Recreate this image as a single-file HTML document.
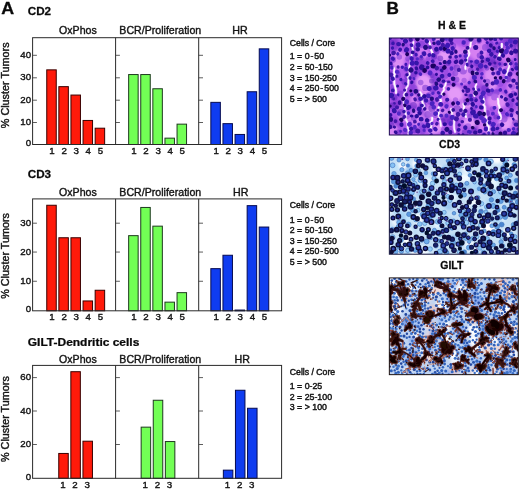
<!DOCTYPE html>
<html lang="en">
<head>
<meta charset="utf-8">
<title>Figure</title>
<style>html,body{margin:0;padding:0;background:#fff}body{width:520px;height:489px;overflow:hidden}</style>
</head>
<body>
<svg width="520" height="489" viewBox="0 0 520 489" style="display:block;will-change:transform" font-family='"Liberation Sans", Arial, Helvetica, sans-serif'>
<rect width="520" height="489" fill="#fff"/>
<text transform="translate(1.2 14.3) scale(1.1 1)" font-size="16.2" fill="#0a0a0a" font-weight="bold" stroke="#0a0a0a" stroke-width="0.3" stroke-linejoin="round">A</text>
<text transform="translate(386.6 14.3) scale(1.06 1)" font-size="16.2" fill="#0a0a0a" font-weight="bold" stroke="#0a0a0a" stroke-width="0.3" stroke-linejoin="round">B</text>
<g>
<text transform="translate(27.8 15.3) scale(1.07 1)" font-size="10.9" fill="#0a0a0a" font-weight="bold" stroke="#0a0a0a" stroke-width="0.25" stroke-linejoin="round">CD2</text>
<text transform="translate(77.9 34) scale(1.01 1)" font-size="10.5" fill="#151515" text-anchor="middle" stroke="#151515" stroke-width="0.4" stroke-linejoin="round">OxPhos</text>
<text transform="translate(160.3 34) scale(1.01 1)" font-size="10.5" fill="#151515" text-anchor="middle" stroke="#151515" stroke-width="0.4" stroke-linejoin="round">BCR/Proliferation</text>
<text transform="translate(239.9 34) scale(1.02 1)" font-size="10.5" fill="#151515" text-anchor="middle" stroke="#151515" stroke-width="0.4" stroke-linejoin="round">HR</text>
<text transform="translate(9.1 85.3) rotate(-90) scale(1.02 1)" font-size="10.6" fill="#151515" text-anchor="middle" stroke="#151515" stroke-width="0.4" stroke-linejoin="round">% Cluster Tumors</text>
<rect x="46.75" y="69.85" width="9.5" height="74.65" fill="#ff1a0a" stroke="#3a0000" stroke-width="1"/>
<text transform="translate(52 154.1)" font-size="9.7" fill="#151515" text-anchor="middle" stroke="#151515" stroke-width="0.4" stroke-linejoin="round">1</text>
<rect x="58.85" y="86.65" width="9.5" height="57.85" fill="#ff1a0a" stroke="#3a0000" stroke-width="1"/>
<text transform="translate(64.1 154.1)" font-size="9.7" fill="#151515" text-anchor="middle" stroke="#151515" stroke-width="0.4" stroke-linejoin="round">2</text>
<rect x="70.95" y="95.05" width="9.5" height="49.45" fill="#ff1a0a" stroke="#3a0000" stroke-width="1"/>
<text transform="translate(76.2 154.1)" font-size="9.7" fill="#151515" text-anchor="middle" stroke="#151515" stroke-width="0.4" stroke-linejoin="round">3</text>
<rect x="83.05" y="120.45" width="9.5" height="24.05" fill="#ff1a0a" stroke="#3a0000" stroke-width="1"/>
<text transform="translate(88.3 154.1)" font-size="9.7" fill="#151515" text-anchor="middle" stroke="#151515" stroke-width="0.4" stroke-linejoin="round">4</text>
<rect x="95.15" y="128.2" width="9.5" height="16.3" fill="#ff1a0a" stroke="#3a0000" stroke-width="1"/>
<text transform="translate(100.4 154.1)" font-size="9.7" fill="#151515" text-anchor="middle" stroke="#151515" stroke-width="0.4" stroke-linejoin="round">5</text>
<rect x="128.65" y="74.55" width="9.5" height="69.95" fill="#72ff55" stroke="#1e3a1e" stroke-width="1"/>
<text transform="translate(133.9 154.1)" font-size="9.7" fill="#151515" text-anchor="middle" stroke="#151515" stroke-width="0.4" stroke-linejoin="round">1</text>
<rect x="140.75" y="74.55" width="9.5" height="69.95" fill="#72ff55" stroke="#1e3a1e" stroke-width="1"/>
<text transform="translate(146 154.1)" font-size="9.7" fill="#151515" text-anchor="middle" stroke="#151515" stroke-width="0.4" stroke-linejoin="round">2</text>
<rect x="152.85" y="88.75" width="9.5" height="55.75" fill="#72ff55" stroke="#1e3a1e" stroke-width="1"/>
<text transform="translate(158.1 154.1)" font-size="9.7" fill="#151515" text-anchor="middle" stroke="#151515" stroke-width="0.4" stroke-linejoin="round">3</text>
<rect x="164.95" y="138.15" width="9.5" height="6.35" fill="#72ff55" stroke="#1e3a1e" stroke-width="1"/>
<text transform="translate(170.2 154.1)" font-size="9.7" fill="#151515" text-anchor="middle" stroke="#151515" stroke-width="0.4" stroke-linejoin="round">4</text>
<rect x="177.05" y="124.15" width="9.5" height="20.35" fill="#72ff55" stroke="#1e3a1e" stroke-width="1"/>
<text transform="translate(182.3 154.1)" font-size="9.7" fill="#151515" text-anchor="middle" stroke="#151515" stroke-width="0.4" stroke-linejoin="round">5</text>
<rect x="210.85" y="102.35" width="9.5" height="42.15" fill="#0f3cf0" stroke="#050a50" stroke-width="1"/>
<text transform="translate(216.1 154.1)" font-size="9.7" fill="#151515" text-anchor="middle" stroke="#151515" stroke-width="0.4" stroke-linejoin="round">1</text>
<rect x="222.95" y="123.65" width="9.5" height="20.85" fill="#0f3cf0" stroke="#050a50" stroke-width="1"/>
<text transform="translate(228.2 154.1)" font-size="9.7" fill="#151515" text-anchor="middle" stroke="#151515" stroke-width="0.4" stroke-linejoin="round">2</text>
<rect x="235.05" y="134.45" width="9.5" height="10.05" fill="#0f3cf0" stroke="#050a50" stroke-width="1"/>
<text transform="translate(240.3 154.1)" font-size="9.7" fill="#151515" text-anchor="middle" stroke="#151515" stroke-width="0.4" stroke-linejoin="round">3</text>
<rect x="247.15" y="91.75" width="9.5" height="52.75" fill="#0f3cf0" stroke="#050a50" stroke-width="1"/>
<text transform="translate(252.4 154.1)" font-size="9.7" fill="#151515" text-anchor="middle" stroke="#151515" stroke-width="0.4" stroke-linejoin="round">4</text>
<rect x="259.25" y="48.85" width="9.5" height="95.65" fill="#0f3cf0" stroke="#050a50" stroke-width="1"/>
<text transform="translate(264.5 154.1)" font-size="9.7" fill="#151515" text-anchor="middle" stroke="#151515" stroke-width="0.4" stroke-linejoin="round">5</text>
<rect x="32.6" y="37.7" width="249" height="106.8" fill="none" stroke="#2a2a2a" stroke-width="1"/>
<line x1="115.6" y1="37.7" x2="115.6" y2="144.5" stroke="#2a2a2a" stroke-width="1"/>
<line x1="198.7" y1="37.7" x2="198.7" y2="144.5" stroke="#2a2a2a" stroke-width="1"/>
<text transform="translate(31.1 145.8)" font-size="9.7" fill="#151515" text-anchor="end" stroke="#151515" stroke-width="0.4" stroke-linejoin="round">0</text>
<line x1="32.6" y1="122.5" x2="36.9" y2="122.5" stroke="#333" stroke-width="0.8"/>
<line x1="115.6" y1="122.5" x2="119.9" y2="122.5" stroke="#333" stroke-width="0.8"/>
<line x1="198.7" y1="122.5" x2="203" y2="122.5" stroke="#333" stroke-width="0.8"/>
<text transform="translate(31.1 125)" font-size="9.7" fill="#151515" text-anchor="end" stroke="#151515" stroke-width="0.4" stroke-linejoin="round">10</text>
<line x1="32.6" y1="100.2" x2="36.9" y2="100.2" stroke="#333" stroke-width="0.8"/>
<line x1="115.6" y1="100.2" x2="119.9" y2="100.2" stroke="#333" stroke-width="0.8"/>
<line x1="198.7" y1="100.2" x2="203" y2="100.2" stroke="#333" stroke-width="0.8"/>
<text transform="translate(31.1 102.7)" font-size="9.7" fill="#151515" text-anchor="end" stroke="#151515" stroke-width="0.4" stroke-linejoin="round">20</text>
<line x1="32.6" y1="77.8" x2="36.9" y2="77.8" stroke="#333" stroke-width="0.8"/>
<line x1="115.6" y1="77.8" x2="119.9" y2="77.8" stroke="#333" stroke-width="0.8"/>
<line x1="198.7" y1="77.8" x2="203" y2="77.8" stroke="#333" stroke-width="0.8"/>
<text transform="translate(31.1 80.3)" font-size="9.7" fill="#151515" text-anchor="end" stroke="#151515" stroke-width="0.4" stroke-linejoin="round">30</text>
<line x1="32.6" y1="55.3" x2="36.9" y2="55.3" stroke="#333" stroke-width="0.8"/>
<line x1="115.6" y1="55.3" x2="119.9" y2="55.3" stroke="#333" stroke-width="0.8"/>
<line x1="198.7" y1="55.3" x2="203" y2="55.3" stroke="#333" stroke-width="0.8"/>
<text transform="translate(31.1 57.8)" font-size="9.7" fill="#151515" text-anchor="end" stroke="#151515" stroke-width="0.4" stroke-linejoin="round">40</text>
<text transform="translate(289.8 45.6)" font-size="8.7" fill="#151515" stroke="#151515" stroke-width="0.45" stroke-linejoin="round">Cells / Core</text>
<text transform="translate(289.8 59.3) scale(1.01 1)" font-size="8.7" fill="#151515" stroke="#151515" stroke-width="0.45" stroke-linejoin="round">1 = 0<tspan dx="0.87">-</tspan><tspan dx="0.9">50</tspan></text>
<text transform="translate(289.8 70) scale(1.01 1)" font-size="8.7" fill="#151515" stroke="#151515" stroke-width="0.45" stroke-linejoin="round">2 = 50<tspan dx="0.5">-</tspan><tspan dx="0.2">150</tspan></text>
<text transform="translate(289.8 80.5) scale(1.01 1)" font-size="8.7" fill="#151515" stroke="#151515" stroke-width="0.45" stroke-linejoin="round">3 = 150<tspan dx="0.5">-</tspan><tspan dx="-0.6">250</tspan></text>
<text transform="translate(289.8 90.9) scale(1.01 1)" font-size="8.7" fill="#151515" stroke="#151515" stroke-width="0.45" stroke-linejoin="round">4 = 250<tspan dx="0.87">-</tspan><tspan dx="1.1">500</tspan></text>
<text transform="translate(289.8 101.6) scale(1.01 1)" font-size="8.7" fill="#151515" stroke="#151515" stroke-width="0.45" stroke-linejoin="round">5 = &gt; 500</text>
</g>
<g>
<text transform="translate(27.8 178) scale(1.07 1)" font-size="10.9" fill="#0a0a0a" font-weight="bold" stroke="#0a0a0a" stroke-width="0.25" stroke-linejoin="round">CD3</text>
<text transform="translate(77.9 196.1) scale(1.01 1)" font-size="10.5" fill="#151515" text-anchor="middle" stroke="#151515" stroke-width="0.4" stroke-linejoin="round">OxPhos</text>
<text transform="translate(160.3 196.1) scale(1.01 1)" font-size="10.5" fill="#151515" text-anchor="middle" stroke="#151515" stroke-width="0.4" stroke-linejoin="round">BCR/Proliferation</text>
<text transform="translate(240.7 196.1) scale(1.02 1)" font-size="10.5" fill="#151515" text-anchor="middle" stroke="#151515" stroke-width="0.4" stroke-linejoin="round">HR</text>
<text transform="translate(9.1 255.9) rotate(-90) scale(1.02 1)" font-size="10.6" fill="#151515" text-anchor="middle" stroke="#151515" stroke-width="0.4" stroke-linejoin="round">% Cluster Tumors</text>
<rect x="46.75" y="205.25" width="9.5" height="105.55" fill="#ff1a0a" stroke="#3a0000" stroke-width="1"/>
<text transform="translate(52 320.4)" font-size="9.7" fill="#151515" text-anchor="middle" stroke="#151515" stroke-width="0.4" stroke-linejoin="round">1</text>
<rect x="58.85" y="237.75" width="9.5" height="73.05" fill="#ff1a0a" stroke="#3a0000" stroke-width="1"/>
<text transform="translate(64.1 320.4)" font-size="9.7" fill="#151515" text-anchor="middle" stroke="#151515" stroke-width="0.4" stroke-linejoin="round">2</text>
<rect x="70.95" y="237.75" width="9.5" height="73.05" fill="#ff1a0a" stroke="#3a0000" stroke-width="1"/>
<text transform="translate(76.2 320.4)" font-size="9.7" fill="#151515" text-anchor="middle" stroke="#151515" stroke-width="0.4" stroke-linejoin="round">3</text>
<rect x="83.05" y="300.95" width="9.5" height="9.85" fill="#ff1a0a" stroke="#3a0000" stroke-width="1"/>
<text transform="translate(88.3 320.4)" font-size="9.7" fill="#151515" text-anchor="middle" stroke="#151515" stroke-width="0.4" stroke-linejoin="round">4</text>
<rect x="95.15" y="290.25" width="9.5" height="20.55" fill="#ff1a0a" stroke="#3a0000" stroke-width="1"/>
<text transform="translate(100.4 320.4)" font-size="9.7" fill="#151515" text-anchor="middle" stroke="#151515" stroke-width="0.4" stroke-linejoin="round">5</text>
<rect x="128.65" y="235.65" width="9.5" height="75.15" fill="#72ff55" stroke="#1e3a1e" stroke-width="1"/>
<text transform="translate(133.9 320.4)" font-size="9.7" fill="#151515" text-anchor="middle" stroke="#151515" stroke-width="0.4" stroke-linejoin="round">1</text>
<rect x="140.75" y="207.45" width="9.5" height="103.35" fill="#72ff55" stroke="#1e3a1e" stroke-width="1"/>
<text transform="translate(146 320.4)" font-size="9.7" fill="#151515" text-anchor="middle" stroke="#151515" stroke-width="0.4" stroke-linejoin="round">2</text>
<rect x="152.85" y="226.15" width="9.5" height="84.65" fill="#72ff55" stroke="#1e3a1e" stroke-width="1"/>
<text transform="translate(158.1 320.4)" font-size="9.7" fill="#151515" text-anchor="middle" stroke="#151515" stroke-width="0.4" stroke-linejoin="round">3</text>
<rect x="164.95" y="302.15" width="9.5" height="8.65" fill="#72ff55" stroke="#1e3a1e" stroke-width="1"/>
<text transform="translate(170.2 320.4)" font-size="9.7" fill="#151515" text-anchor="middle" stroke="#151515" stroke-width="0.4" stroke-linejoin="round">4</text>
<rect x="177.05" y="292.65" width="9.5" height="18.15" fill="#72ff55" stroke="#1e3a1e" stroke-width="1"/>
<text transform="translate(182.3 320.4)" font-size="9.7" fill="#151515" text-anchor="middle" stroke="#151515" stroke-width="0.4" stroke-linejoin="round">5</text>
<rect x="210.85" y="268.65" width="9.5" height="42.15" fill="#0f3cf0" stroke="#050a50" stroke-width="1"/>
<text transform="translate(216.1 320.4)" font-size="9.7" fill="#151515" text-anchor="middle" stroke="#151515" stroke-width="0.4" stroke-linejoin="round">1</text>
<rect x="222.95" y="255.25" width="9.5" height="55.55" fill="#0f3cf0" stroke="#050a50" stroke-width="1"/>
<text transform="translate(228.2 320.4)" font-size="9.7" fill="#151515" text-anchor="middle" stroke="#151515" stroke-width="0.4" stroke-linejoin="round">2</text>
<rect x="235.05" y="310.05" width="9.5" height="0.75" fill="#0f3cf0" stroke="#050a50" stroke-width="1"/>
<text transform="translate(240.3 320.4)" font-size="9.7" fill="#151515" text-anchor="middle" stroke="#151515" stroke-width="0.4" stroke-linejoin="round">3</text>
<rect x="247.15" y="205.65" width="9.5" height="105.15" fill="#0f3cf0" stroke="#050a50" stroke-width="1"/>
<text transform="translate(252.4 320.4)" font-size="9.7" fill="#151515" text-anchor="middle" stroke="#151515" stroke-width="0.4" stroke-linejoin="round">4</text>
<rect x="259.25" y="227.05" width="9.5" height="83.75" fill="#0f3cf0" stroke="#050a50" stroke-width="1"/>
<text transform="translate(264.5 320.4)" font-size="9.7" fill="#151515" text-anchor="middle" stroke="#151515" stroke-width="0.4" stroke-linejoin="round">5</text>
<rect x="32.6" y="198.9" width="249" height="111.9" fill="none" stroke="#2a2a2a" stroke-width="1"/>
<line x1="115.6" y1="198.9" x2="115.6" y2="310.8" stroke="#2a2a2a" stroke-width="1"/>
<line x1="198.7" y1="198.9" x2="198.7" y2="310.8" stroke="#2a2a2a" stroke-width="1"/>
<text transform="translate(31.1 312.1)" font-size="9.7" fill="#151515" text-anchor="end" stroke="#151515" stroke-width="0.4" stroke-linejoin="round">0</text>
<line x1="32.6" y1="281.25" x2="36.9" y2="281.25" stroke="#333" stroke-width="0.8"/>
<line x1="115.6" y1="281.25" x2="119.9" y2="281.25" stroke="#333" stroke-width="0.8"/>
<line x1="198.7" y1="281.25" x2="203" y2="281.25" stroke="#333" stroke-width="0.8"/>
<text transform="translate(31.1 283.75)" font-size="9.7" fill="#151515" text-anchor="end" stroke="#151515" stroke-width="0.4" stroke-linejoin="round">10</text>
<line x1="32.6" y1="252.05" x2="36.9" y2="252.05" stroke="#333" stroke-width="0.8"/>
<line x1="115.6" y1="252.05" x2="119.9" y2="252.05" stroke="#333" stroke-width="0.8"/>
<line x1="198.7" y1="252.05" x2="203" y2="252.05" stroke="#333" stroke-width="0.8"/>
<text transform="translate(31.1 254.55)" font-size="9.7" fill="#151515" text-anchor="end" stroke="#151515" stroke-width="0.4" stroke-linejoin="round">20</text>
<line x1="32.6" y1="223.2" x2="36.9" y2="223.2" stroke="#333" stroke-width="0.8"/>
<line x1="115.6" y1="223.2" x2="119.9" y2="223.2" stroke="#333" stroke-width="0.8"/>
<line x1="198.7" y1="223.2" x2="203" y2="223.2" stroke="#333" stroke-width="0.8"/>
<text transform="translate(31.1 225.7)" font-size="9.7" fill="#151515" text-anchor="end" stroke="#151515" stroke-width="0.4" stroke-linejoin="round">30</text>
<text transform="translate(289.8 208.2)" font-size="8.7" fill="#151515" stroke="#151515" stroke-width="0.45" stroke-linejoin="round">Cells / Core</text>
<text transform="translate(289.8 222.6) scale(1.01 1)" font-size="8.7" fill="#151515" stroke="#151515" stroke-width="0.45" stroke-linejoin="round">1 = 0<tspan dx="0.87">-</tspan><tspan dx="0.9">50</tspan></text>
<text transform="translate(289.8 233.3) scale(1.01 1)" font-size="8.7" fill="#151515" stroke="#151515" stroke-width="0.45" stroke-linejoin="round">2 = 50<tspan dx="0.5">-</tspan><tspan dx="0.2">150</tspan></text>
<text transform="translate(289.8 243.7) scale(1.01 1)" font-size="8.7" fill="#151515" stroke="#151515" stroke-width="0.45" stroke-linejoin="round">3 = 150<tspan dx="0.5">-</tspan><tspan dx="-0.6">250</tspan></text>
<text transform="translate(289.8 254.4) scale(1.01 1)" font-size="8.7" fill="#151515" stroke="#151515" stroke-width="0.45" stroke-linejoin="round">4 = 250<tspan dx="0.87">-</tspan><tspan dx="1.1">500</tspan></text>
<text transform="translate(289.8 265.1) scale(1.01 1)" font-size="8.7" fill="#151515" stroke="#151515" stroke-width="0.45" stroke-linejoin="round">5 = &gt; 500</text>
</g>
<g>
<text transform="translate(27.8 346) scale(1.1 1)" font-size="10.9" fill="#0a0a0a" font-weight="bold" stroke="#0a0a0a" stroke-width="0.25" stroke-linejoin="round">GILT-Dendritic cells</text>
<text transform="translate(77.9 362.8) scale(1.01 1)" font-size="10.5" fill="#151515" text-anchor="middle" stroke="#151515" stroke-width="0.4" stroke-linejoin="round">OxPhos</text>
<text transform="translate(160.3 362.8) scale(1.01 1)" font-size="10.5" fill="#151515" text-anchor="middle" stroke="#151515" stroke-width="0.4" stroke-linejoin="round">BCR/Proliferation</text>
<text transform="translate(242.3 362.8) scale(1.02 1)" font-size="10.5" fill="#151515" text-anchor="middle" stroke="#151515" stroke-width="0.4" stroke-linejoin="round">HR</text>
<text transform="translate(9.1 419.1) rotate(-90) scale(1.02 1)" font-size="10.6" fill="#151515" text-anchor="middle" stroke="#151515" stroke-width="0.4" stroke-linejoin="round">% Cluster Tumors</text>
<rect x="58.75" y="453.45" width="9.5" height="24.85" fill="#ff1a0a" stroke="#3a0000" stroke-width="1"/>
<text transform="translate(62.9 487.5)" font-size="9.7" fill="#151515" text-anchor="middle" stroke="#151515" stroke-width="0.4" stroke-linejoin="round">1</text>
<rect x="70.85" y="371.7" width="9.5" height="106.6" fill="#ff1a0a" stroke="#3a0000" stroke-width="1"/>
<text transform="translate(75 487.5)" font-size="9.7" fill="#151515" text-anchor="middle" stroke="#151515" stroke-width="0.4" stroke-linejoin="round">2</text>
<rect x="82.95" y="441.2" width="9.5" height="37.1" fill="#ff1a0a" stroke="#3a0000" stroke-width="1"/>
<text transform="translate(87.1 487.5)" font-size="9.7" fill="#151515" text-anchor="middle" stroke="#151515" stroke-width="0.4" stroke-linejoin="round">3</text>
<rect x="141.15" y="427.15" width="9.5" height="51.15" fill="#72ff55" stroke="#1e3a1e" stroke-width="1"/>
<text transform="translate(145.3 487.5)" font-size="9.7" fill="#151515" text-anchor="middle" stroke="#151515" stroke-width="0.4" stroke-linejoin="round">1</text>
<rect x="153.25" y="400.25" width="9.5" height="78.05" fill="#72ff55" stroke="#1e3a1e" stroke-width="1"/>
<text transform="translate(157.4 487.5)" font-size="9.7" fill="#151515" text-anchor="middle" stroke="#151515" stroke-width="0.4" stroke-linejoin="round">2</text>
<rect x="165.35" y="441.55" width="9.5" height="36.75" fill="#72ff55" stroke="#1e3a1e" stroke-width="1"/>
<text transform="translate(169.5 487.5)" font-size="9.7" fill="#151515" text-anchor="middle" stroke="#151515" stroke-width="0.4" stroke-linejoin="round">3</text>
<rect x="223.35" y="470.15" width="9.5" height="8.15" fill="#0f3cf0" stroke="#050a50" stroke-width="1"/>
<text transform="translate(227.5 487.5)" font-size="9.7" fill="#151515" text-anchor="middle" stroke="#151515" stroke-width="0.4" stroke-linejoin="round">1</text>
<rect x="235.45" y="390.25" width="9.5" height="88.05" fill="#0f3cf0" stroke="#050a50" stroke-width="1"/>
<text transform="translate(239.6 487.5)" font-size="9.7" fill="#151515" text-anchor="middle" stroke="#151515" stroke-width="0.4" stroke-linejoin="round">2</text>
<rect x="247.55" y="408.25" width="9.5" height="70.05" fill="#0f3cf0" stroke="#050a50" stroke-width="1"/>
<text transform="translate(251.7 487.5)" font-size="9.7" fill="#151515" text-anchor="middle" stroke="#151515" stroke-width="0.4" stroke-linejoin="round">3</text>
<rect x="32.6" y="365.4" width="249" height="112.9" fill="none" stroke="#2a2a2a" stroke-width="1"/>
<line x1="115.6" y1="365.4" x2="115.6" y2="478.3" stroke="#2a2a2a" stroke-width="1"/>
<line x1="198.7" y1="365.4" x2="198.7" y2="478.3" stroke="#2a2a2a" stroke-width="1"/>
<text transform="translate(31.1 479.6)" font-size="9.7" fill="#151515" text-anchor="end" stroke="#151515" stroke-width="0.4" stroke-linejoin="round">0</text>
<line x1="32.6" y1="444.5" x2="36.9" y2="444.5" stroke="#333" stroke-width="0.8"/>
<line x1="115.6" y1="444.5" x2="119.9" y2="444.5" stroke="#333" stroke-width="0.8"/>
<line x1="198.7" y1="444.5" x2="203" y2="444.5" stroke="#333" stroke-width="0.8"/>
<text transform="translate(31.1 447)" font-size="9.7" fill="#151515" text-anchor="end" stroke="#151515" stroke-width="0.4" stroke-linejoin="round">20</text>
<line x1="32.6" y1="411" x2="36.9" y2="411" stroke="#333" stroke-width="0.8"/>
<line x1="115.6" y1="411" x2="119.9" y2="411" stroke="#333" stroke-width="0.8"/>
<line x1="198.7" y1="411" x2="203" y2="411" stroke="#333" stroke-width="0.8"/>
<text transform="translate(31.1 413.5)" font-size="9.7" fill="#151515" text-anchor="end" stroke="#151515" stroke-width="0.4" stroke-linejoin="round">40</text>
<line x1="32.6" y1="377.6" x2="36.9" y2="377.6" stroke="#333" stroke-width="0.8"/>
<line x1="115.6" y1="377.6" x2="119.9" y2="377.6" stroke="#333" stroke-width="0.8"/>
<line x1="198.7" y1="377.6" x2="203" y2="377.6" stroke="#333" stroke-width="0.8"/>
<text transform="translate(31.1 380.1)" font-size="9.7" fill="#151515" text-anchor="end" stroke="#151515" stroke-width="0.4" stroke-linejoin="round">60</text>
<text transform="translate(289.8 375.2)" font-size="8.7" fill="#151515" stroke="#151515" stroke-width="0.45" stroke-linejoin="round">Cells / Core</text>
<text transform="translate(289.8 389.3) scale(1.01 1)" font-size="8.7" fill="#151515" stroke="#151515" stroke-width="0.45" stroke-linejoin="round">1 = 0-25</text>
<text transform="translate(289.8 399.6) scale(1.01 1)" font-size="8.7" fill="#151515" stroke="#151515" stroke-width="0.45" stroke-linejoin="round">2 = 25-100</text>
<text transform="translate(289.8 410) scale(1.01 1)" font-size="8.7" fill="#151515" stroke="#151515" stroke-width="0.45" stroke-linejoin="round">3 = &gt; 100</text>
</g>
<defs>
<filter id="b1" x="-5%" y="-5%" width="110%" height="110%"><feGaussianBlur stdDeviation="0.45"/></filter>
<filter id="b2" x="-5%" y="-5%" width="110%" height="110%"><feGaussianBlur stdDeviation="1.6"/></filter>
<clipPath id="c0"><rect x="389.35" y="38.0" width="128.95" height="97"/></clipPath>
<clipPath id="c1"><rect x="389.35" y="157.5" width="128.95" height="96.7"/></clipPath>
<clipPath id="c2"><rect x="389.35" y="277.9" width="128.95" height="96.75"/></clipPath>
</defs>
<text transform="translate(451.9 28.5) scale(1.03 1)" font-size="10.2" fill="#0a0a0a" font-weight="bold" text-anchor="middle" stroke="#0a0a0a" stroke-width="0.25" stroke-linejoin="round">H &amp; E</text>
<g clip-path="url(#c0)">
<rect x="389.35" y="38.0" width="128.9" height="97" fill="#ae58ea"/>
<g filter="url(#b2)">
<ellipse cx="514" cy="80.8" rx="3" ry="7.6" fill="#d47cf2"/>
<ellipse cx="475.9" cy="46.1" rx="6.8" ry="4.2" fill="#d47cf2"/>
<ellipse cx="516.6" cy="39.5" rx="6.2" ry="5.4" fill="#e094f6"/>
<ellipse cx="408.5" cy="55.8" rx="3.6" ry="3.1" fill="#e094f6"/>
<ellipse cx="502.9" cy="62.2" rx="6.3" ry="7.6" fill="#c86cee"/>
<ellipse cx="466.9" cy="46.6" rx="5.9" ry="4.3" fill="#c86cee"/>
<ellipse cx="472.5" cy="84.7" rx="4.8" ry="4.2" fill="#a24ee2"/>
<ellipse cx="447.8" cy="89.4" rx="3.1" ry="5.5" fill="#d47cf2"/>
<ellipse cx="432.4" cy="106.9" rx="6.3" ry="3.8" fill="#c86cee"/>
<ellipse cx="465.1" cy="53.9" rx="5.8" ry="3.7" fill="#d886f4"/>
<ellipse cx="488.8" cy="130.8" rx="3.7" ry="4.5" fill="#d47cf2"/>
<ellipse cx="443" cy="102.3" rx="3.2" ry="4.4" fill="#bc62ea"/>
<ellipse cx="512.5" cy="53" rx="7.2" ry="3.2" fill="#8838d2"/>
<ellipse cx="487.9" cy="86.1" rx="5.9" ry="5.3" fill="#d47cf2"/>
<ellipse cx="490.3" cy="83.7" rx="7.1" ry="7.4" fill="#e094f6"/>
<ellipse cx="483.9" cy="88.4" rx="5.2" ry="4.4" fill="#9644dc"/>
<ellipse cx="443" cy="112.6" rx="7.7" ry="3.5" fill="#e094f6"/>
<ellipse cx="437.9" cy="117.2" rx="4.3" ry="4" fill="#c86cee"/>
<ellipse cx="480" cy="116.6" rx="3.8" ry="7.5" fill="#bc62ea"/>
<ellipse cx="514.7" cy="120.2" rx="7.9" ry="4.6" fill="#e094f6"/>
<ellipse cx="482.3" cy="45.6" rx="4.1" ry="7.5" fill="#d47cf2"/>
<ellipse cx="417.6" cy="118.5" rx="7" ry="7.7" fill="#d886f4"/>
<ellipse cx="428.8" cy="82.7" rx="5.9" ry="7.3" fill="#8838d2"/>
<ellipse cx="511.8" cy="47.8" rx="4" ry="7.4" fill="#e094f6"/>
<ellipse cx="453.9" cy="117.4" rx="4.8" ry="7.3" fill="#8838d2"/>
<ellipse cx="411.9" cy="94.7" rx="4.5" ry="7.1" fill="#9644dc"/>
<ellipse cx="453.8" cy="113" rx="5.7" ry="4.7" fill="#9644dc"/>
<ellipse cx="395.5" cy="54" rx="3.7" ry="5.7" fill="#d886f4"/>
<ellipse cx="411.4" cy="102.8" rx="3.3" ry="3.4" fill="#9644dc"/>
<ellipse cx="507.4" cy="41.9" rx="5" ry="4.6" fill="#8838d2"/>
<ellipse cx="510.1" cy="126.8" rx="4.4" ry="6.2" fill="#bc62ea"/>
<ellipse cx="443.8" cy="104.5" rx="7.2" ry="7.2" fill="#c86cee"/>
<ellipse cx="487.9" cy="65" rx="5" ry="5.8" fill="#c86cee"/>
<ellipse cx="479.8" cy="64.6" rx="4.5" ry="7.2" fill="#8838d2"/>
<ellipse cx="396.1" cy="123.1" rx="5.2" ry="6.9" fill="#9644dc"/>
<ellipse cx="438.4" cy="38.2" rx="5.4" ry="4.5" fill="#e094f6"/>
<ellipse cx="413.3" cy="99" rx="3.8" ry="6" fill="#d886f4"/>
<ellipse cx="415.9" cy="88.3" rx="7.6" ry="5.3" fill="#e094f6"/>
<ellipse cx="474.4" cy="115.7" rx="6.6" ry="6.3" fill="#c86cee"/>
<ellipse cx="392.8" cy="132" rx="5.4" ry="7.6" fill="#d886f4"/>
<ellipse cx="515.7" cy="111.1" rx="8" ry="4.5" fill="#d886f4"/>
<ellipse cx="461.9" cy="130.3" rx="5.8" ry="5.5" fill="#bc62ea"/>
<ellipse cx="398.7" cy="105.3" rx="4" ry="5.6" fill="#d886f4"/>
<ellipse cx="448.4" cy="46.2" rx="5.6" ry="5.9" fill="#c86cee"/>
<ellipse cx="495.6" cy="62.9" rx="3.7" ry="3.1" fill="#d47cf2"/>
<ellipse cx="475.1" cy="42.3" rx="4" ry="3.8" fill="#d886f4"/>
<ellipse cx="455.8" cy="80.2" rx="5.6" ry="3.3" fill="#bc62ea"/>
<ellipse cx="423.1" cy="85.1" rx="5.9" ry="4.7" fill="#c86cee"/>
<ellipse cx="473.6" cy="116.7" rx="6.4" ry="4.7" fill="#a24ee2"/>
<ellipse cx="410.3" cy="86.4" rx="7.7" ry="7.8" fill="#9644dc"/>
<ellipse cx="502.5" cy="98.4" rx="3.3" ry="5.7" fill="#a24ee2"/>
<ellipse cx="478.2" cy="126.7" rx="6.8" ry="6.5" fill="#8838d2"/>
<ellipse cx="499.4" cy="69.7" rx="6.5" ry="5.8" fill="#e094f6"/>
<ellipse cx="394.6" cy="44.7" rx="4.8" ry="7.2" fill="#8838d2"/>
<ellipse cx="503.6" cy="96.6" rx="3.4" ry="4.1" fill="#a24ee2"/>
<ellipse cx="434" cy="129.1" rx="6.4" ry="4.9" fill="#e094f6"/>
<ellipse cx="515.4" cy="40.9" rx="7" ry="7.1" fill="#8838d2"/>
<ellipse cx="509.2" cy="52.3" rx="6.4" ry="6.3" fill="#d47cf2"/>
<ellipse cx="500.8" cy="72.6" rx="4.9" ry="3.9" fill="#d47cf2"/>
<ellipse cx="416.7" cy="57.1" rx="8" ry="6.1" fill="#9644dc"/>
<ellipse cx="454.1" cy="50.9" rx="7.6" ry="6.3" fill="#d47cf2"/>
<ellipse cx="510.4" cy="96.2" rx="4.8" ry="6.6" fill="#bc62ea"/>
<ellipse cx="440.5" cy="113.5" rx="4.2" ry="3" fill="#d886f4"/>
<ellipse cx="464.5" cy="63.8" rx="5.7" ry="3.2" fill="#a24ee2"/>
<ellipse cx="458.2" cy="95.6" rx="5.7" ry="4.6" fill="#d886f4"/>
<ellipse cx="497.4" cy="64.5" rx="6.5" ry="3.9" fill="#9644dc"/>
<ellipse cx="502.4" cy="131.8" rx="5.7" ry="5" fill="#a24ee2"/>
<ellipse cx="446.6" cy="118.9" rx="6.6" ry="4.8" fill="#8838d2"/>
<ellipse cx="457.7" cy="111.2" rx="5.9" ry="7.1" fill="#e094f6"/>
<ellipse cx="482.7" cy="115.9" rx="4.9" ry="3.5" fill="#8838d2"/>
<ellipse cx="496.9" cy="50.3" rx="6.9" ry="5.4" fill="#9644dc"/>
<ellipse cx="493.5" cy="62.8" rx="8" ry="3.4" fill="#8838d2"/>
<ellipse cx="512.7" cy="107" rx="4.8" ry="5.7" fill="#a24ee2"/>
<ellipse cx="467.4" cy="103.5" rx="6.4" ry="5.3" fill="#e094f6"/>
<ellipse cx="507.8" cy="48.5" rx="7.1" ry="5.3" fill="#c86cee"/>
<ellipse cx="414.8" cy="96.9" rx="4.7" ry="4.9" fill="#a24ee2"/>
<ellipse cx="423.5" cy="53.3" rx="6.3" ry="6" fill="#d47cf2"/>
<ellipse cx="396.5" cy="103.9" rx="5.1" ry="4.7" fill="#8838d2"/>
<ellipse cx="481.5" cy="125.5" rx="3.8" ry="7.9" fill="#d47cf2"/>
<ellipse cx="426.6" cy="95.7" rx="4.4" ry="7.1" fill="#d886f4"/>
<ellipse cx="508.8" cy="97.1" rx="3.8" ry="7.6" fill="#a24ee2"/>
<ellipse cx="468" cy="96.9" rx="5.1" ry="7.3" fill="#bc62ea"/>
<ellipse cx="493.8" cy="80.2" rx="4.3" ry="5.9" fill="#d886f4"/>
<ellipse cx="421.3" cy="65.8" rx="7.9" ry="7.5" fill="#9644dc"/>
<ellipse cx="393.8" cy="93.9" rx="5.7" ry="7.9" fill="#a24ee2"/>
<ellipse cx="444.8" cy="81.1" rx="5.7" ry="6.9" fill="#c86cee"/>
<ellipse cx="398.5" cy="61.7" rx="6.2" ry="6.6" fill="#e094f6"/>
<ellipse cx="438.3" cy="113.9" rx="4.2" ry="4.5" fill="#d886f4"/>
<ellipse cx="513.8" cy="88.4" rx="5.3" ry="6.3" fill="#c86cee"/>
<ellipse cx="428.4" cy="112.7" rx="7" ry="5.5" fill="#9644dc"/>
<ellipse cx="463" cy="73" rx="9" ry="11" fill="#dc8cf5"/>
<ellipse cx="424" cy="83" rx="8" ry="9" fill="#e49af8"/>
<ellipse cx="455" cy="94" rx="8" ry="8" fill="#e49af8"/>
<ellipse cx="497" cy="101" rx="10" ry="8" fill="#dc8cf5"/>
<ellipse cx="478.5" cy="52" rx="9" ry="9" fill="#d680f2"/>
<ellipse cx="404.5" cy="117" rx="6" ry="5" fill="#dc8cf5"/>
<ellipse cx="430.5" cy="113" rx="6" ry="6" fill="#e49af8"/>
<ellipse cx="399" cy="58" rx="6" ry="7" fill="#dc8cf5"/>
<ellipse cx="444" cy="56" rx="6" ry="6" fill="#e49af8"/>
<ellipse cx="512" cy="88" rx="5" ry="9" fill="#d680f2"/>
<ellipse cx="470" cy="122" rx="7" ry="6" fill="#e49af8"/>
<ellipse cx="415" cy="100" rx="5" ry="6" fill="#d680f2"/>
<ellipse cx="490" cy="75" rx="6" ry="6" fill="#dc8cf5"/>
<ellipse cx="438" cy="128" rx="6" ry="4" fill="#e49af8"/>
<ellipse cx="505" cy="124" rx="7" ry="6" fill="#e49af8"/>
</g>
<g filter="url(#b1)" opacity="0.5">
<circle cx="500.2" cy="83.8" r="3.2" fill="#8a40dc"/>
<circle cx="501.8" cy="54.2" r="3.2" fill="#8a40dc"/>
<circle cx="491.5" cy="60.3" r="3.8" fill="#5c24c0"/>
<circle cx="421.6" cy="44.5" r="3.4" fill="#7434d2"/>
<circle cx="495.8" cy="117.1" r="2.5" fill="#5c24c0"/>
<circle cx="496.4" cy="92.5" r="3.2" fill="#6a2ccc"/>
<circle cx="408" cy="76.2" r="3.7" fill="#5c24c0"/>
<circle cx="417.4" cy="92.4" r="3.1" fill="#8a40dc"/>
<circle cx="408.2" cy="58.6" r="3" fill="#7434d2"/>
<circle cx="482.8" cy="98" r="3.4" fill="#7434d2"/>
<circle cx="477" cy="88.3" r="2.9" fill="#8a40dc"/>
<circle cx="434" cy="56.6" r="3.2" fill="#5c24c0"/>
<circle cx="391.6" cy="73.2" r="2.8" fill="#6a2ccc"/>
<circle cx="446.1" cy="104.2" r="2.8" fill="#8a40dc"/>
<circle cx="390.8" cy="79" r="2.9" fill="#6a2ccc"/>
<circle cx="443.7" cy="129.5" r="2.8" fill="#8a40dc"/>
<circle cx="487" cy="112.9" r="2.9" fill="#5c24c0"/>
<circle cx="490" cy="92.7" r="3.6" fill="#6a2ccc"/>
<circle cx="428.7" cy="95.3" r="3" fill="#6a2ccc"/>
<circle cx="392" cy="105.7" r="3.3" fill="#5c24c0"/>
<circle cx="405.3" cy="132" r="3.1" fill="#7434d2"/>
<circle cx="463.1" cy="111.6" r="3.7" fill="#6a2ccc"/>
<circle cx="440.3" cy="58.3" r="2.9" fill="#5c24c0"/>
<circle cx="445" cy="48.8" r="3.6" fill="#6a2ccc"/>
<circle cx="442.6" cy="121.1" r="2.9" fill="#5c24c0"/>
<circle cx="468" cy="126.5" r="3.3" fill="#8a40dc"/>
<circle cx="485.8" cy="60.3" r="2.7" fill="#6a2ccc"/>
<circle cx="397.5" cy="74.9" r="3.4" fill="#6a2ccc"/>
<circle cx="405.7" cy="103.5" r="3.1" fill="#5c24c0"/>
<circle cx="393.1" cy="87.3" r="2.6" fill="#7434d2"/>
<circle cx="492.6" cy="108.8" r="2.8" fill="#8a40dc"/>
<circle cx="391.6" cy="42.4" r="2.7" fill="#5c24c0"/>
<circle cx="511.5" cy="41" r="3.4" fill="#5c24c0"/>
<circle cx="486.6" cy="123.7" r="2.9" fill="#8a40dc"/>
<circle cx="419.1" cy="98.4" r="3.6" fill="#8a40dc"/>
<circle cx="420.7" cy="82.5" r="2.8" fill="#7434d2"/>
<circle cx="485" cy="88.7" r="3.7" fill="#6a2ccc"/>
<circle cx="390.6" cy="66.3" r="2.8" fill="#5c24c0"/>
<circle cx="473.7" cy="130.6" r="3.1" fill="#5c24c0"/>
<circle cx="470.5" cy="96.8" r="3.1" fill="#5c24c0"/>
<circle cx="508" cy="79.2" r="3.2" fill="#5c24c0"/>
<circle cx="445.4" cy="70.9" r="3.1" fill="#8a40dc"/>
<circle cx="426.3" cy="47.1" r="2.7" fill="#5c24c0"/>
<circle cx="503.9" cy="118.8" r="3.7" fill="#7434d2"/>
<circle cx="432.6" cy="89.2" r="3.6" fill="#6a2ccc"/>
<circle cx="466.9" cy="101.9" r="3.7" fill="#6a2ccc"/>
<circle cx="442" cy="80.9" r="3.7" fill="#6a2ccc"/>
<circle cx="412.9" cy="48.3" r="2.9" fill="#6a2ccc"/>
<circle cx="505.5" cy="70.1" r="2.5" fill="#8a40dc"/>
<circle cx="465.1" cy="132.4" r="3.2" fill="#5c24c0"/>
<circle cx="413.9" cy="88.2" r="3.5" fill="#8a40dc"/>
<circle cx="440.5" cy="68.8" r="2.7" fill="#6a2ccc"/>
<circle cx="455.5" cy="99.8" r="2.6" fill="#8a40dc"/>
<circle cx="511.4" cy="100.2" r="3.8" fill="#8a40dc"/>
<circle cx="431.9" cy="108.4" r="3.6" fill="#5c24c0"/>
<circle cx="468.5" cy="63.4" r="3.7" fill="#5c24c0"/>
<circle cx="501.6" cy="45.4" r="3.6" fill="#6a2ccc"/>
<circle cx="468.2" cy="39" r="3" fill="#6a2ccc"/>
<circle cx="394" cy="97.2" r="3.5" fill="#5c24c0"/>
<circle cx="479.7" cy="55.4" r="3" fill="#6a2ccc"/>
<circle cx="463.3" cy="63.9" r="3.6" fill="#8a40dc"/>
<circle cx="495.1" cy="68.1" r="2.5" fill="#5c24c0"/>
<circle cx="463.2" cy="70.7" r="3.7" fill="#7434d2"/>
<circle cx="400.7" cy="112.7" r="3.7" fill="#5c24c0"/>
<circle cx="510" cy="113.3" r="3.6" fill="#7434d2"/>
<circle cx="494.6" cy="97.1" r="3.5" fill="#8a40dc"/>
<circle cx="417.5" cy="71.8" r="3" fill="#6a2ccc"/>
<circle cx="432.5" cy="75.7" r="2.5" fill="#5c24c0"/>
<circle cx="479" cy="41" r="2.8" fill="#5c24c0"/>
<circle cx="485.4" cy="47.4" r="3.4" fill="#7434d2"/>
<circle cx="423.7" cy="53.4" r="2.6" fill="#7434d2"/>
<circle cx="453" cy="46" r="3.2" fill="#7434d2"/>
<circle cx="476.3" cy="119.4" r="3" fill="#8a40dc"/>
<circle cx="411.4" cy="80" r="2.8" fill="#8a40dc"/>
<circle cx="453.8" cy="51.5" r="3" fill="#7434d2"/>
<circle cx="453.9" cy="84.2" r="2.4" fill="#6a2ccc"/>
<circle cx="423" cy="68.2" r="3.4" fill="#7434d2"/>
<circle cx="448.1" cy="63.4" r="2.5" fill="#5c24c0"/>
<circle cx="436.9" cy="42.8" r="2.7" fill="#8a40dc"/>
<circle cx="434.2" cy="114.4" r="3.7" fill="#7434d2"/>
<circle cx="413.8" cy="118" r="3" fill="#6a2ccc"/>
<circle cx="430.1" cy="127.8" r="3.8" fill="#7434d2"/>
<circle cx="456.3" cy="130.9" r="3.5" fill="#7434d2"/>
<circle cx="470.8" cy="70.4" r="2.9" fill="#5c24c0"/>
<circle cx="414.5" cy="130" r="3.3" fill="#5c24c0"/>
<circle cx="436.4" cy="79.4" r="3.3" fill="#7434d2"/>
<circle cx="476.4" cy="62.9" r="3.2" fill="#7434d2"/>
<circle cx="413" cy="74.6" r="3.8" fill="#5c24c0"/>
<circle cx="431.5" cy="80.9" r="2.5" fill="#5c24c0"/>
<circle cx="429.8" cy="102.3" r="2.5" fill="#7434d2"/>
<circle cx="470" cy="116.6" r="2.5" fill="#6a2ccc"/>
<circle cx="487.3" cy="81.7" r="2.9" fill="#7434d2"/>
<circle cx="428.2" cy="58.6" r="2.4" fill="#8a40dc"/>
<circle cx="464" cy="56.4" r="3.6" fill="#8a40dc"/>
<circle cx="515.3" cy="122.4" r="2.9" fill="#5c24c0"/>
<circle cx="464.1" cy="80.3" r="2.6" fill="#8a40dc"/>
<circle cx="449.9" cy="129.6" r="2.6" fill="#8a40dc"/>
<circle cx="513.1" cy="47.3" r="2.8" fill="#5c24c0"/>
<circle cx="517.7" cy="132.4" r="3.1" fill="#5c24c0"/>
<circle cx="408.3" cy="50.6" r="2.6" fill="#8a40dc"/>
<circle cx="450.1" cy="122" r="3.3" fill="#6a2ccc"/>
<circle cx="502.5" cy="40" r="2.7" fill="#8a40dc"/>
<circle cx="515.8" cy="66.6" r="2.8" fill="#6a2ccc"/>
<circle cx="457.1" cy="109.1" r="3.8" fill="#5c24c0"/>
<circle cx="422.5" cy="130.8" r="3.4" fill="#7434d2"/>
<circle cx="405.2" cy="45.9" r="3.1" fill="#8a40dc"/>
<circle cx="474.7" cy="99.6" r="2.8" fill="#5c24c0"/>
<circle cx="392.9" cy="59.5" r="3.2" fill="#6a2ccc"/>
<circle cx="490.4" cy="44.2" r="3.2" fill="#7434d2"/>
<circle cx="493.3" cy="49.7" r="3.2" fill="#6a2ccc"/>
<circle cx="511.3" cy="62.7" r="2.5" fill="#5c24c0"/>
<circle cx="427.8" cy="114.6" r="3.5" fill="#6a2ccc"/>
<circle cx="390.9" cy="125.3" r="3.4" fill="#5c24c0"/>
<circle cx="483.9" cy="135" r="2.8" fill="#5c24c0"/>
<circle cx="464.8" cy="43.3" r="3.7" fill="#8a40dc"/>
<circle cx="472.9" cy="109.1" r="3.2" fill="#6a2ccc"/>
<circle cx="404.4" cy="81.8" r="3.1" fill="#6a2ccc"/>
<circle cx="474.7" cy="81.1" r="2.6" fill="#8a40dc"/>
<circle cx="455.3" cy="73.2" r="2.9" fill="#7434d2"/>
<circle cx="513.4" cy="92.9" r="2.5" fill="#6a2ccc"/>
<circle cx="501.4" cy="64.6" r="2.5" fill="#8a40dc"/>
<circle cx="499.6" cy="126.1" r="2.9" fill="#7434d2"/>
<circle cx="400.9" cy="94.1" r="3.7" fill="#7434d2"/>
<circle cx="421.2" cy="58.2" r="2.4" fill="#5c24c0"/>
<circle cx="497" cy="133.8" r="2.7" fill="#7434d2"/>
<circle cx="502.9" cy="112.1" r="2.6" fill="#6a2ccc"/>
<circle cx="425.3" cy="87.9" r="3.2" fill="#6a2ccc"/>
<circle cx="473.3" cy="42" r="3.1" fill="#8a40dc"/>
<circle cx="449.5" cy="42" r="3.4" fill="#7434d2"/>
<circle cx="392.9" cy="48.8" r="3.8" fill="#8a40dc"/>
<circle cx="456.4" cy="79.6" r="3" fill="#7434d2"/>
<circle cx="398.4" cy="132.3" r="2.9" fill="#5c24c0"/>
<circle cx="399.3" cy="57" r="2.8" fill="#7434d2"/>
<circle cx="448.2" cy="82.7" r="2.9" fill="#6a2ccc"/>
<circle cx="456.9" cy="67.9" r="3.4" fill="#5c24c0"/>
<circle cx="422.7" cy="104.9" r="3.6" fill="#6a2ccc"/>
<circle cx="421" cy="125.1" r="3.1" fill="#7434d2"/>
<circle cx="509.9" cy="105.1" r="3.3" fill="#7434d2"/>
<circle cx="420" cy="111.8" r="2.8" fill="#7434d2"/>
<circle cx="406.6" cy="68.8" r="3.3" fill="#6a2ccc"/>
<circle cx="407.2" cy="116.1" r="3" fill="#7434d2"/>
<circle cx="416.3" cy="63.2" r="3.1" fill="#8a40dc"/>
<circle cx="497.6" cy="72.8" r="2.5" fill="#7434d2"/>
<circle cx="445.5" cy="76.2" r="2.6" fill="#7434d2"/>
<circle cx="413.4" cy="105.6" r="3.5" fill="#5c24c0"/>
<circle cx="436.6" cy="51.6" r="2.9" fill="#5c24c0"/>
<circle cx="512.2" cy="86.6" r="3.1" fill="#8a40dc"/>
<circle cx="487" cy="68.3" r="2.4" fill="#6a2ccc"/>
<circle cx="424.8" cy="98.7" r="3.3" fill="#6a2ccc"/>
<circle cx="456.7" cy="125.3" r="3.1" fill="#8a40dc"/>
</g>
<g filter="url(#b1)" fill="none" stroke-linecap="round" stroke-linejoin="round">
<path d="M413.5 41.9 L412.8 44.7 L412.2 47 L413 49.8 L412.7 52.6 L411.7 54.7 L411.3 57.5 L410.5 60 L410.9 62.9 L409.7 65.4 L409.1 67.6 L408.5 70.2 L409.6 72 L409.5 74.5 L407.8 76.8 L408.6 78.9 L408.3 81.5 L408.2 83.9 L407.7 86 L406.1 88.3 L406.1 90.5 L404.9 92.7 L404 94.6 L404.3 97 L402.8 99.4 L404 101.3 L403.9 103.7 L404.3 106.3 L405.1 108.4 L404.7 110.6 L405.7 112.6 L405.9 115.2 L405.4 117.6 L406.1 120 L407.4 122.1 L407.5 124.5 L407.7 127 L408.1 129.5 L408.9 132 L408.4 134" stroke="#ecc0fb" stroke-width="2.6" opacity="0.75"/>
<path d="M413.5 41.9 L412.8 44.7 L412.2 47 L413 49.8 L412.7 52.6 L411.7 54.7 L411.3 57.5 L410.5 60 L410.9 62.9 L409.7 65.4 L409.1 67.6 L408.5 70.2 L409.6 72 L409.5 74.5 L407.8 76.8 L408.6 78.9 L408.3 81.5 L408.2 83.9 L407.7 86 L406.1 88.3 L406.1 90.5 L404.9 92.7 L404 94.6 L404.3 97 L402.8 99.4 L404 101.3 L403.9 103.7 L404.3 106.3 L405.1 108.4 L404.7 110.6 L405.7 112.6 L405.9 115.2 L405.4 117.6 L406.1 120 L407.4 122.1 L407.5 124.5 L407.7 127 L408.1 129.5 L408.9 132 L408.4 134" stroke="#fffaff" stroke-width="1.2"/>
<path d="M445.8 83.1 L445.2 85.6 L443.6 87.4 L444.2 89.8 L442.5 92.3 L441.9 94.1 L440.7 96.4 L440.3 98.8 L441.2 100.9 L439.5 103 L440.2 105.7 L438.4 107.8 L438.6 110.1 L438.7 112.3 L438.6 114.2 L439.2 116.8 L439 118.9 L440.2 121.1 L440.7 123.6 L440.8 126" stroke="#ecc0fb" stroke-width="2.6" opacity="0.75"/>
<path d="M445.8 83.1 L445.2 85.6 L443.6 87.4 L444.2 89.8 L442.5 92.3 L441.9 94.1 L440.7 96.4 L440.3 98.8 L441.2 100.9 L439.5 103 L440.2 105.7 L438.4 107.8 L438.6 110.1 L438.7 112.3 L438.6 114.2 L439.2 116.8 L439 118.9 L440.2 121.1 L440.7 123.6 L440.8 126" stroke="#fffaff" stroke-width="1.4"/>
<path d="M451 109 L452 112.2 L452.1 114.6 L453 117.2 L454.2 119.6 L454.2 122 L454 124.7 L454.1 127 L454.3 129.3 L455.1 132" stroke="#ecc0fb" stroke-width="2.7" opacity="0.75"/>
<path d="M451 109 L452 112.2 L452.1 114.6 L453 117.2 L454.2 119.6 L454.2 122 L454 124.7 L454.1 127 L454.3 129.3 L455.1 132" stroke="#fffaff" stroke-width="1.3"/>
<path d="M471.5 40.3 L471 42.2 L470.6 44 L470.5 46.3 L468.5 49 L468.7 51.2 L469.4 53.3 L468.9 55.3 L467.3 57.5 L467.1 60.1 L466.8 61.8 L467 64.2 L465.3 66.8 L465.5 69" stroke="#ecc0fb" stroke-width="2.5" opacity="0.75"/>
<path d="M471.5 40.3 L471 42.2 L470.6 44 L470.5 46.3 L468.5 49 L468.7 51.2 L469.4 53.3 L468.9 55.3 L467.3 57.5 L467.1 60.1 L466.8 61.8 L467 64.2 L465.3 66.8 L465.5 69" stroke="#fffaff" stroke-width="1.5"/>
<path d="M482.2 96.9 L483.6 99.2 L484 102.3 L483.7 104.8 L484.8 106.7 L484.9 109.2 L485 112 L485 114.5 L486.3 117 L486.1 120.1 L487.4 122.6 L487.2 124.7 L489 127 L488.2 129 L488.6 131.3 L489 134" stroke="#ecc0fb" stroke-width="3" opacity="0.75"/>
<path d="M482.2 96.9 L483.6 99.2 L484 102.3 L483.7 104.8 L484.8 106.7 L484.9 109.2 L485 112 L485 114.5 L486.3 117 L486.1 120.1 L487.4 122.6 L487.2 124.7 L489 127 L488.2 129 L488.6 131.3 L489 134" stroke="#fffaff" stroke-width="1.4"/>
<path d="M509.8 59.9 L508.7 62.7 L509.4 65 L509.1 67 L508 69.8 L507.4 71.9 L506.7 74.4 L505.7 76.5 L505.8 79" stroke="#ecc0fb" stroke-width="2.5" opacity="0.75"/>
<path d="M509.8 59.9 L508.7 62.7 L509.4 65 L509.1 67 L508 69.8 L507.4 71.9 L506.7 74.4 L505.7 76.5 L505.8 79" stroke="#fffaff" stroke-width="1.3"/>
<path d="M429.1 41.7 L430 44.5 L430.4 46.7 L430.3 48.6 L431.6 50.9 L432.4 52.8 L433 55" stroke="#ecc0fb" stroke-width="2.4" opacity="0.75"/>
<path d="M429.1 41.7 L430 44.5 L430.4 46.7 L430.3 48.6 L431.6 50.9 L432.4 52.8 L433 55" stroke="#fffaff" stroke-width="1.8"/>
<path d="M463.5 104.1 L464.3 106.4 L463.7 108.5 L463.8 110.6 L465.7 112.6 L465.1 114.9 L466 117" stroke="#ecc0fb" stroke-width="2.4" opacity="0.75"/>
<path d="M463.5 104.1 L464.3 106.4 L463.7 108.5 L463.8 110.6 L465.7 112.6 L465.1 114.9 L466 117" stroke="#fffaff" stroke-width="1.9"/>
<path d="M394.2 68.2 L394.3 70.2 L394 72.8 L394.8 74.7 L394 77.4 L394 79.6 L394.3 81.8 L394.3 84.1 L395.1 86.5 L395.7 88.8 L396 90.9 L396 93" stroke="#ecc0fb" stroke-width="2.8" opacity="0.75"/>
<path d="M394.2 68.2 L394.3 70.2 L394 72.8 L394.8 74.7 L394 77.4 L394 79.6 L394.3 81.8 L394.3 84.1 L395.1 86.5 L395.7 88.8 L396 90.9 L396 93" stroke="#fffaff" stroke-width="1.5"/>
<path d="M497.9 98.8 L498.3 100.9 L498.3 103.7 L499.2 106 L499.7 108.2 L499.5 110 L498.9 112.1 L500.3 114.8 L500.9 117.1 L500.5 119" stroke="#ecc0fb" stroke-width="2.7" opacity="0.75"/>
<path d="M497.9 98.8 L498.3 100.9 L498.3 103.7 L499.2 106 L499.7 108.2 L499.5 110 L498.9 112.1 L500.3 114.8 L500.9 117.1 L500.5 119" stroke="#fffaff" stroke-width="1.8"/>
<path d="M420.2 92 L421.7 94.3 L421.3 96.3 L421.4 99.1 L422.2 101.3 L422.9 103.6 L424 105.6 L423.5 108" stroke="#ecc0fb" stroke-width="3" opacity="0.75"/>
<path d="M420.2 92 L421.7 94.3 L421.3 96.3 L421.4 99.1 L422.2 101.3 L422.9 103.6 L424 105.6 L423.5 108" stroke="#fffaff" stroke-width="1.3"/>
<path d="M476.4 84.1 L475.4 86.5 L475.6 88.9 L475.9 91.3 L474 93.3 L474.5 96" stroke="#ecc0fb" stroke-width="2.3" opacity="0.75"/>
<path d="M476.4 84.1 L475.4 86.5 L475.6 88.9 L475.9 91.3 L474 93.3 L474.5 96" stroke="#fffaff" stroke-width="1.4"/>
<path d="M501.8 44 L501.9 46.1 L500.9 49.1 L500.2 51.3 L500.2 53.3 L499 56" stroke="#ecc0fb" stroke-width="2.6" opacity="0.75"/>
<path d="M501.8 44 L501.9 46.1 L500.9 49.1 L500.2 51.3 L500.2 53.3 L499 56" stroke="#fffaff" stroke-width="1.9"/>
<path d="M432.2 117.9 L432.1 120.5 L430.5 122.5 L431.5 124.7 L430.8 127.6 L430.8 129.7 L430 132" stroke="#ecc0fb" stroke-width="2.7" opacity="0.75"/>
<path d="M432.2 117.9 L432.1 120.5 L430.5 122.5 L431.5 124.7 L430.8 127.6 L430.8 129.7 L430 132" stroke="#fffaff" stroke-width="1.6"/>
</g>
<circle cx="476" cy="73" r="1.7" fill="#fff" filter="url(#b1)"/>
<g filter="url(#b1)">
<ellipse cx="391.4" cy="95.5" rx="2.5" ry="2.6" fill="#3412a8" transform="rotate(41 391.4 95.5)"/>
<ellipse cx="404" cy="111.6" rx="1.7" ry="1.8" fill="#3412a8" transform="rotate(69 404 111.6)"/>
<ellipse cx="505.3" cy="64.4" rx="1.6" ry="1.8" fill="#30109a" transform="rotate(82 505.3 64.4)"/>
<ellipse cx="471.3" cy="99.6" rx="2.2" ry="2" fill="#3814ac" transform="rotate(44 471.3 99.6)"/>
<ellipse cx="479.1" cy="40" rx="2.4" ry="2.3" fill="#2c0c9c" transform="rotate(72 479.1 40)"/>
<ellipse cx="392.9" cy="58.8" rx="2.3" ry="2" fill="#3e18b4" transform="rotate(41 392.9 58.8)"/>
<ellipse cx="429.2" cy="88.5" rx="2.4" ry="2.5" fill="#3e18b4" transform="rotate(71 429.2 88.5)"/>
<ellipse cx="515.6" cy="51.1" rx="2.6" ry="2.5" fill="#30109a" transform="rotate(14 515.6 51.1)"/>
<ellipse cx="438.7" cy="79.6" rx="2.2" ry="2.4" fill="#220880" transform="rotate(51 438.7 79.6)"/>
<ellipse cx="460.8" cy="110.2" rx="1.7" ry="1.9" fill="#4218a8" transform="rotate(59 460.8 110.2)"/>
<ellipse cx="501.6" cy="50.8" rx="2.5" ry="2.8" fill="#1a0664" transform="rotate(69 501.6 50.8)"/>
<ellipse cx="416.5" cy="63.1" rx="2.4" ry="2.2" fill="#3412a8" transform="rotate(26 416.5 63.1)"/>
<ellipse cx="471.6" cy="108.6" rx="1.6" ry="1.3" fill="#30109a" transform="rotate(49 471.6 108.6)"/>
<ellipse cx="487.2" cy="42.7" rx="1.6" ry="1.5" fill="#3814ac" transform="rotate(39 487.2 42.7)"/>
<ellipse cx="463.4" cy="114.6" rx="2.2" ry="2.1" fill="#3814ac" transform="rotate(50 463.4 114.6)"/>
<ellipse cx="440.3" cy="63.6" rx="1.7" ry="1.4" fill="#2c0c9c" transform="rotate(21 440.3 63.6)"/>
<ellipse cx="516.1" cy="64" rx="1.8" ry="1.7" fill="#4a20c0" transform="rotate(71 516.1 64)"/>
<ellipse cx="427.7" cy="63" rx="1.9" ry="1.8" fill="#3412a8" transform="rotate(35 427.7 63)"/>
<ellipse cx="471" cy="38.9" rx="2.4" ry="2.7" fill="#220880" transform="rotate(29 471 38.9)"/>
<ellipse cx="456.3" cy="118.8" rx="2.6" ry="2.5" fill="#4218a8" transform="rotate(29 456.3 118.8)"/>
<ellipse cx="399.7" cy="102.6" rx="2.4" ry="1.9" fill="#30109a" transform="rotate(87 399.7 102.6)"/>
<ellipse cx="446.9" cy="129.4" rx="2.5" ry="2.5" fill="#220880" transform="rotate(48 446.9 129.4)"/>
<ellipse cx="489.6" cy="122.5" rx="1.8" ry="2.1" fill="#3e18b4" transform="rotate(51 489.6 122.5)"/>
<ellipse cx="510.9" cy="95.6" rx="2.4" ry="2.6" fill="#2c0c9c" transform="rotate(73 510.9 95.6)"/>
<ellipse cx="410.9" cy="70.1" rx="2.6" ry="2.6" fill="#220880" transform="rotate(48 410.9 70.1)"/>
<ellipse cx="440.1" cy="96.6" rx="1.9" ry="2.2" fill="#4a20c0" transform="rotate(45 440.1 96.6)"/>
<ellipse cx="414.9" cy="127.1" rx="2.3" ry="1.9" fill="#5428c8" transform="rotate(81 414.9 127.1)"/>
<ellipse cx="502.1" cy="124.7" rx="2.3" ry="2.2" fill="#2c0c9c" transform="rotate(35 502.1 124.7)"/>
<ellipse cx="474.4" cy="77.5" rx="2.5" ry="2.5" fill="#4a20c0" transform="rotate(81 474.4 77.5)"/>
<ellipse cx="414.9" cy="121.7" rx="1.9" ry="1.9" fill="#4218a8" transform="rotate(84 414.9 121.7)"/>
<ellipse cx="394.5" cy="127.1" rx="1.6" ry="1.5" fill="#30109a" transform="rotate(19 394.5 127.1)"/>
<ellipse cx="453.1" cy="103.5" rx="2.1" ry="1.9" fill="#1a0664" transform="rotate(61 453.1 103.5)"/>
<ellipse cx="446.5" cy="106.3" rx="2.1" ry="2.3" fill="#5428c8" transform="rotate(34 446.5 106.3)"/>
<ellipse cx="400.9" cy="79.6" rx="1.7" ry="1.6" fill="#3814ac" transform="rotate(73 400.9 79.6)"/>
<ellipse cx="444.3" cy="67.5" rx="2.2" ry="2.5" fill="#1a0664" transform="rotate(50 444.3 67.5)"/>
<ellipse cx="461.6" cy="84" rx="1.6" ry="1.5" fill="#5428c8" transform="rotate(87 461.6 84)"/>
<ellipse cx="485.9" cy="129" rx="2.2" ry="2.4" fill="#3e18b4" transform="rotate(0 485.9 129)"/>
<ellipse cx="506.1" cy="77.6" rx="1.8" ry="1.8" fill="#5428c8" transform="rotate(74 506.1 77.6)"/>
<ellipse cx="435.8" cy="88" rx="2.5" ry="2.8" fill="#3814ac" transform="rotate(79 435.8 88)"/>
<ellipse cx="442" cy="76.2" rx="2.3" ry="2.4" fill="#3412a8" transform="rotate(74 442 76.2)"/>
<ellipse cx="426.1" cy="100.5" rx="2.2" ry="2.1" fill="#3e18b4" transform="rotate(19 426.1 100.5)"/>
<ellipse cx="410.8" cy="90.8" rx="1.5" ry="1.5" fill="#1a0664" transform="rotate(43 410.8 90.8)"/>
<ellipse cx="489.8" cy="63.9" rx="1.9" ry="1.8" fill="#2c0c9c" transform="rotate(44 489.8 63.9)"/>
<ellipse cx="418.1" cy="44.9" rx="2.5" ry="2.5" fill="#3412a8" transform="rotate(71 418.1 44.9)"/>
<ellipse cx="401.5" cy="124.6" rx="2.1" ry="2.3" fill="#2c0c9c" transform="rotate(1 401.5 124.6)"/>
<ellipse cx="513.5" cy="80.6" rx="2.2" ry="2.3" fill="#2c0c9c" transform="rotate(89 513.5 80.6)"/>
<ellipse cx="391" cy="119.5" rx="2.1" ry="2.4" fill="#220880" transform="rotate(5 391 119.5)"/>
<ellipse cx="395.5" cy="121.2" rx="1.9" ry="1.9" fill="#4218a8" transform="rotate(78 395.5 121.2)"/>
<ellipse cx="516.2" cy="124.7" rx="2.4" ry="2.1" fill="#3412a8" transform="rotate(0 516.2 124.7)"/>
<ellipse cx="463.7" cy="42.6" rx="2.1" ry="2.2" fill="#4a20c0" transform="rotate(22 463.7 42.6)"/>
<ellipse cx="402.3" cy="67.2" rx="1.7" ry="1.7" fill="#3e18b4" transform="rotate(31 402.3 67.2)"/>
<ellipse cx="489.7" cy="118.5" rx="2" ry="2.2" fill="#30109a" transform="rotate(17 489.7 118.5)"/>
<ellipse cx="438" cy="110.2" rx="1.5" ry="1.5" fill="#3e18b4" transform="rotate(22 438 110.2)"/>
<ellipse cx="507.5" cy="104.6" rx="2.4" ry="2.1" fill="#4218a8" transform="rotate(71 507.5 104.6)"/>
<ellipse cx="484.6" cy="81" rx="1.6" ry="1.6" fill="#30109a" transform="rotate(25 484.6 81)"/>
<ellipse cx="445.9" cy="38.7" rx="2.2" ry="1.8" fill="#5428c8" transform="rotate(54 445.9 38.7)"/>
<ellipse cx="492.8" cy="83.4" rx="2.1" ry="2.3" fill="#4218a8" transform="rotate(86 492.8 83.4)"/>
<ellipse cx="393.6" cy="53" rx="2.3" ry="2.4" fill="#4218a8" transform="rotate(74 393.6 53)"/>
<ellipse cx="491.4" cy="54.4" rx="2.3" ry="2.3" fill="#3412a8" transform="rotate(55 491.4 54.4)"/>
<ellipse cx="493.2" cy="124.5" rx="2.4" ry="2.7" fill="#4a20c0" transform="rotate(40 493.2 124.5)"/>
<ellipse cx="430" cy="47.3" rx="1.9" ry="2.1" fill="#4218a8" transform="rotate(6 430 47.3)"/>
<ellipse cx="458.1" cy="114.3" rx="2.5" ry="2.4" fill="#4218a8" transform="rotate(54 458.1 114.3)"/>
<ellipse cx="462.3" cy="121.6" rx="1.7" ry="1.8" fill="#4218a8" transform="rotate(84 462.3 121.6)"/>
<ellipse cx="397.2" cy="71.7" rx="2.4" ry="2" fill="#5428c8" transform="rotate(13 397.2 71.7)"/>
<ellipse cx="451.7" cy="43.1" rx="1.9" ry="2" fill="#4218a8" transform="rotate(10 451.7 43.1)"/>
<ellipse cx="409.5" cy="124.3" rx="2.3" ry="2.6" fill="#5428c8" transform="rotate(57 409.5 124.3)"/>
<ellipse cx="408.5" cy="113.1" rx="1.8" ry="1.7" fill="#4a20c0" transform="rotate(58 408.5 113.1)"/>
<ellipse cx="493.1" cy="129.1" rx="2.4" ry="2.5" fill="#3814ac" transform="rotate(62 493.1 129.1)"/>
<ellipse cx="503" cy="55.4" rx="2.3" ry="2" fill="#2c0c9c" transform="rotate(50 503 55.4)"/>
<ellipse cx="397" cy="76.1" rx="1.7" ry="1.5" fill="#3814ac" transform="rotate(89 397 76.1)"/>
<ellipse cx="503.7" cy="81.2" rx="1.9" ry="2.2" fill="#1a0664" transform="rotate(12 503.7 81.2)"/>
<ellipse cx="447.2" cy="99.8" rx="2" ry="2.1" fill="#3412a8" transform="rotate(78 447.2 99.8)"/>
<ellipse cx="484.1" cy="120.8" rx="2.5" ry="2.9" fill="#5428c8" transform="rotate(60 484.1 120.8)"/>
<ellipse cx="480" cy="131.2" rx="2.2" ry="2.5" fill="#2c0c9c" transform="rotate(81 480 131.2)"/>
<ellipse cx="435.4" cy="129.1" rx="2.5" ry="2.1" fill="#3e18b4" transform="rotate(49 435.4 129.1)"/>
<ellipse cx="412.7" cy="52.4" rx="2" ry="1.9" fill="#2c0c9c" transform="rotate(12 412.7 52.4)"/>
<ellipse cx="397.6" cy="86" rx="1.5" ry="1.6" fill="#2c0c9c" transform="rotate(2 397.6 86)"/>
<ellipse cx="444.8" cy="48.6" rx="2.3" ry="2.3" fill="#1a0664" transform="rotate(46 444.8 48.6)"/>
<ellipse cx="417.3" cy="58.9" rx="1.7" ry="1.7" fill="#5428c8" transform="rotate(76 417.3 58.9)"/>
<ellipse cx="429.4" cy="55" rx="2" ry="2" fill="#3e18b4" transform="rotate(67 429.4 55)"/>
<ellipse cx="418.7" cy="95" rx="1.7" ry="1.5" fill="#220880" transform="rotate(64 418.7 95)"/>
<ellipse cx="465.3" cy="103.8" rx="1.6" ry="1.7" fill="#30109a" transform="rotate(66 465.3 103.8)"/>
<ellipse cx="479.7" cy="113.6" rx="2.6" ry="2.7" fill="#220880" transform="rotate(14 479.7 113.6)"/>
<ellipse cx="466" cy="94.9" rx="1.7" ry="1.3" fill="#30109a" transform="rotate(2 466 94.9)"/>
<ellipse cx="450.6" cy="123.6" rx="2.5" ry="2.1" fill="#5428c8" transform="rotate(86 450.6 123.6)"/>
<ellipse cx="511.4" cy="115.2" rx="2.1" ry="1.7" fill="#3e18b4" transform="rotate(73 511.4 115.2)"/>
<ellipse cx="442.7" cy="133.1" rx="2.3" ry="2.2" fill="#3412a8" transform="rotate(35 442.7 133.1)"/>
<ellipse cx="406.5" cy="49.9" rx="2.4" ry="2.8" fill="#3814ac" transform="rotate(28 406.5 49.9)"/>
<ellipse cx="430.1" cy="72.9" rx="2.4" ry="2.5" fill="#5428c8" transform="rotate(35 430.1 72.9)"/>
<ellipse cx="495.4" cy="77.8" rx="1.6" ry="1.7" fill="#1a0664" transform="rotate(77 495.4 77.8)"/>
<ellipse cx="513.3" cy="119.1" rx="1.6" ry="1.3" fill="#3814ac" transform="rotate(57 513.3 119.1)"/>
<ellipse cx="391.8" cy="67.7" rx="2.1" ry="1.7" fill="#4a20c0" transform="rotate(76 391.8 67.7)"/>
<ellipse cx="481.8" cy="57.4" rx="2.3" ry="2.3" fill="#3814ac" transform="rotate(52 481.8 57.4)"/>
<ellipse cx="515.4" cy="42" rx="2.4" ry="2.5" fill="#3814ac" transform="rotate(15 515.4 42)"/>
<ellipse cx="478.8" cy="89.9" rx="1.7" ry="1.5" fill="#3e18b4" transform="rotate(74 478.8 89.9)"/>
<ellipse cx="469.4" cy="131.9" rx="2.5" ry="2" fill="#4a20c0" transform="rotate(11 469.4 131.9)"/>
<ellipse cx="390.7" cy="115" rx="1.7" ry="1.9" fill="#30109a" transform="rotate(7 390.7 115)"/>
<ellipse cx="453.5" cy="84.7" rx="1.9" ry="1.9" fill="#1a0664" transform="rotate(40 453.5 84.7)"/>
<ellipse cx="398.2" cy="94.7" rx="1.5" ry="1.3" fill="#3e18b4" transform="rotate(57 398.2 94.7)"/>
<ellipse cx="457.9" cy="103.1" rx="2.2" ry="2" fill="#3814ac" transform="rotate(25 457.9 103.1)"/>
<ellipse cx="472.6" cy="73" rx="2.4" ry="2" fill="#1a0664" transform="rotate(83 472.6 73)"/>
<ellipse cx="488.2" cy="90.7" rx="2.5" ry="2" fill="#2c0c9c" transform="rotate(19 488.2 90.7)"/>
<ellipse cx="513.6" cy="128.9" rx="1.8" ry="1.8" fill="#4a20c0" transform="rotate(60 513.6 128.9)"/>
<ellipse cx="458.9" cy="69.9" rx="2" ry="2.2" fill="#4218a8" transform="rotate(4 458.9 69.9)"/>
<ellipse cx="449.3" cy="74.8" rx="2" ry="2.1" fill="#3e18b4" transform="rotate(29 449.3 74.8)"/>
<ellipse cx="475.7" cy="47.5" rx="2.5" ry="2.6" fill="#30109a" transform="rotate(87 475.7 47.5)"/>
<ellipse cx="433.4" cy="55.3" rx="2.2" ry="2.1" fill="#3412a8" transform="rotate(24 433.4 55.3)"/>
<ellipse cx="421.2" cy="119.2" rx="2.5" ry="2.4" fill="#3412a8" transform="rotate(1 421.2 119.2)"/>
<ellipse cx="510.3" cy="85.7" rx="2.2" ry="1.8" fill="#4218a8" transform="rotate(36 510.3 85.7)"/>
<ellipse cx="428.3" cy="95.9" rx="2.4" ry="2.4" fill="#4a20c0" transform="rotate(4 428.3 95.9)"/>
<ellipse cx="456" cy="61.8" rx="2.1" ry="2.4" fill="#30109a" transform="rotate(65 456 61.8)"/>
<ellipse cx="458.7" cy="129.7" rx="1.8" ry="2" fill="#3412a8" transform="rotate(42 458.7 129.7)"/>
<ellipse cx="461.2" cy="61.9" rx="2.4" ry="2.7" fill="#30109a" transform="rotate(15 461.2 61.9)"/>
<ellipse cx="467.8" cy="90.4" rx="2.5" ry="2.7" fill="#4218a8" transform="rotate(5 467.8 90.4)"/>
<ellipse cx="508.4" cy="60" rx="2.6" ry="2.2" fill="#1a0664" transform="rotate(64 508.4 60)"/>
<ellipse cx="517.9" cy="98.5" rx="1.9" ry="1.7" fill="#30109a" transform="rotate(49 517.9 98.5)"/>
<ellipse cx="424" cy="126.4" rx="2.3" ry="2" fill="#3e18b4" transform="rotate(33 424 126.4)"/>
<ellipse cx="455.9" cy="51.6" rx="2.1" ry="1.7" fill="#220880" transform="rotate(79 455.9 51.6)"/>
<ellipse cx="416.4" cy="68.4" rx="2.1" ry="1.7" fill="#30109a" transform="rotate(62 416.4 68.4)"/>
<ellipse cx="510.6" cy="63.6" rx="1.6" ry="1.8" fill="#3814ac" transform="rotate(49 510.6 63.6)"/>
<ellipse cx="517.7" cy="73.9" rx="2" ry="2" fill="#1a0664" transform="rotate(43 517.7 73.9)"/>
<ellipse cx="452.7" cy="48.5" rx="2.3" ry="2.2" fill="#3e18b4" transform="rotate(60 452.7 48.5)"/>
<ellipse cx="497.4" cy="51.3" rx="1.7" ry="1.6" fill="#3e18b4" transform="rotate(47 497.4 51.3)"/>
<ellipse cx="425.5" cy="47.4" rx="2.5" ry="2.4" fill="#220880" transform="rotate(52 425.5 47.4)"/>
<ellipse cx="484" cy="114" rx="2" ry="2.2" fill="#1a0664" transform="rotate(6 484 114)"/>
<ellipse cx="489.1" cy="50.8" rx="2.2" ry="2.2" fill="#3412a8" transform="rotate(55 489.1 50.8)"/>
<ellipse cx="499.3" cy="58.7" rx="2.5" ry="2.1" fill="#2c0c9c" transform="rotate(16 499.3 58.7)"/>
<ellipse cx="463.1" cy="91" rx="1.7" ry="1.3" fill="#30109a" transform="rotate(61 463.1 91)"/>
<ellipse cx="475.3" cy="81.5" rx="1.9" ry="1.7" fill="#220880" transform="rotate(12 475.3 81.5)"/>
<ellipse cx="395.7" cy="132.3" rx="2.1" ry="1.7" fill="#30109a" transform="rotate(36 395.7 132.3)"/>
<ellipse cx="426.8" cy="41.2" rx="2.4" ry="2" fill="#3412a8" transform="rotate(43 426.8 41.2)"/>
<ellipse cx="410.7" cy="39.7" rx="2.3" ry="2.1" fill="#4218a8" transform="rotate(54 410.7 39.7)"/>
<ellipse cx="424.1" cy="53.8" rx="2.4" ry="2.2" fill="#3814ac" transform="rotate(71 424.1 53.8)"/>
<ellipse cx="442.8" cy="45" rx="2.3" ry="2.2" fill="#4218a8" transform="rotate(76 442.8 45)"/>
<ellipse cx="481.5" cy="52.6" rx="2.1" ry="1.9" fill="#3814ac" transform="rotate(74 481.5 52.6)"/>
<ellipse cx="424.7" cy="108.9" rx="1.7" ry="1.8" fill="#30109a" transform="rotate(51 424.7 108.9)"/>
<ellipse cx="516.6" cy="83.5" rx="1.7" ry="1.6" fill="#4218a8" transform="rotate(86 516.6 83.5)"/>
<ellipse cx="508.8" cy="130.1" rx="2.2" ry="2" fill="#4a20c0" transform="rotate(5 508.8 130.1)"/>
<ellipse cx="398.1" cy="67" rx="1.6" ry="1.7" fill="#4218a8" transform="rotate(5 398.1 67)"/>
<ellipse cx="406.4" cy="94.7" rx="1.9" ry="1.9" fill="#30109a" transform="rotate(83 406.4 94.7)"/>
<ellipse cx="444.7" cy="62.1" rx="2.1" ry="2.1" fill="#220880" transform="rotate(80 444.7 62.1)"/>
<ellipse cx="398.9" cy="113.5" rx="2" ry="2" fill="#5428c8" transform="rotate(33 398.9 113.5)"/>
<ellipse cx="498.5" cy="117.6" rx="1.8" ry="1.9" fill="#4a20c0" transform="rotate(68 498.5 117.6)"/>
<ellipse cx="477.2" cy="122.5" rx="2.5" ry="2.6" fill="#1a0664" transform="rotate(82 477.2 122.5)"/>
<ellipse cx="473.6" cy="89.1" rx="1.7" ry="1.4" fill="#4218a8" transform="rotate(68 473.6 89.1)"/>
<ellipse cx="465.3" cy="87.5" rx="2.1" ry="1.9" fill="#30109a" transform="rotate(26 465.3 87.5)"/>
<ellipse cx="506.7" cy="43.9" rx="2.5" ry="2.2" fill="#4a20c0" transform="rotate(81 506.7 43.9)"/>
<ellipse cx="438.6" cy="92.9" rx="1.9" ry="1.7" fill="#3814ac" transform="rotate(33 438.6 92.9)"/>
<ellipse cx="465.3" cy="51.8" rx="2.3" ry="2.2" fill="#220880" transform="rotate(17 465.3 51.8)"/>
<ellipse cx="397.8" cy="53.9" rx="1.6" ry="1.8" fill="#4a20c0" transform="rotate(25 397.8 53.9)"/>
<ellipse cx="500.5" cy="133.8" rx="2.1" ry="2.4" fill="#1a0664" transform="rotate(12 500.5 133.8)"/>
<ellipse cx="492.9" cy="113.7" rx="1.9" ry="2" fill="#5428c8" transform="rotate(77 492.9 113.7)"/>
<ellipse cx="436.4" cy="83.7" rx="2.3" ry="1.9" fill="#220880" transform="rotate(68 436.4 83.7)"/>
<ellipse cx="481.9" cy="73.9" rx="1.8" ry="1.8" fill="#5428c8" transform="rotate(71 481.9 73.9)"/>
<ellipse cx="515.4" cy="94.1" rx="1.8" ry="1.8" fill="#2c0c9c" transform="rotate(76 515.4 94.1)"/>
<ellipse cx="413.6" cy="110.8" rx="2.2" ry="1.7" fill="#220880" transform="rotate(82 413.6 110.8)"/>
<ellipse cx="400.6" cy="131.3" rx="1.5" ry="1.4" fill="#4a20c0" transform="rotate(77 400.6 131.3)"/>
<ellipse cx="421.7" cy="67.2" rx="2.6" ry="2.9" fill="#30109a" transform="rotate(19 421.7 67.2)"/>
<ellipse cx="482.4" cy="101.6" rx="2.4" ry="1.9" fill="#3e18b4" transform="rotate(41 482.4 101.6)"/>
<ellipse cx="472.7" cy="127.6" rx="1.9" ry="1.6" fill="#1a0664" transform="rotate(13 472.7 127.6)"/>
<ellipse cx="452.2" cy="117.4" rx="2.4" ry="2.6" fill="#4a20c0" transform="rotate(26 452.2 117.4)"/>
<ellipse cx="392.8" cy="78.6" rx="2.3" ry="2" fill="#3412a8" transform="rotate(55 392.8 78.6)"/>
<ellipse cx="467.4" cy="100.2" rx="2.1" ry="1.9" fill="#1a0664" transform="rotate(54 467.4 100.2)"/>
<ellipse cx="462.9" cy="134.6" rx="1.5" ry="1.6" fill="#4218a8" transform="rotate(59 462.9 134.6)"/>
<ellipse cx="448.4" cy="88.9" rx="1.8" ry="1.9" fill="#3814ac" transform="rotate(29 448.4 88.9)"/>
<ellipse cx="473" cy="112.3" rx="2.6" ry="2.9" fill="#3412a8" transform="rotate(51 473 112.3)"/>
<ellipse cx="512.4" cy="69.5" rx="1.8" ry="1.5" fill="#30109a" transform="rotate(43 512.4 69.5)"/>
<ellipse cx="477.6" cy="69.2" rx="1.7" ry="1.6" fill="#4218a8" transform="rotate(33 477.6 69.2)"/>
<ellipse cx="476.3" cy="106.7" rx="1.7" ry="1.4" fill="#4a20c0" transform="rotate(71 476.3 106.7)"/>
<ellipse cx="469.2" cy="82.6" rx="1.6" ry="1.8" fill="#4a20c0" transform="rotate(41 469.2 82.6)"/>
<ellipse cx="438.4" cy="42.8" rx="2.5" ry="2.4" fill="#3412a8" transform="rotate(60 438.4 42.8)"/>
<ellipse cx="441.7" cy="70.5" rx="2.1" ry="1.7" fill="#2c0c9c" transform="rotate(55 441.7 70.5)"/>
<ellipse cx="404.6" cy="90.1" rx="1.6" ry="1.5" fill="#4218a8" transform="rotate(34 404.6 90.1)"/>
<ellipse cx="451.6" cy="53.1" rx="2.3" ry="2.2" fill="#2c0c9c" transform="rotate(58 451.6 53.1)"/>
<ellipse cx="469.9" cy="119.8" rx="2.1" ry="2.1" fill="#4218a8" transform="rotate(88 469.9 119.8)"/>
<ellipse cx="436.4" cy="74.4" rx="1.6" ry="1.6" fill="#30109a" transform="rotate(68 436.4 74.4)"/>
<ellipse cx="411.6" cy="58.6" rx="2.2" ry="2.5" fill="#3e18b4" transform="rotate(9 411.6 58.6)"/>
<ellipse cx="427.9" cy="125.4" rx="2.6" ry="2.4" fill="#3412a8" transform="rotate(86 427.9 125.4)"/>
<ellipse cx="417.7" cy="49.2" rx="2.2" ry="2.3" fill="#30109a" transform="rotate(89 417.7 49.2)"/>
<ellipse cx="453.2" cy="109.9" rx="1.9" ry="1.8" fill="#30109a" transform="rotate(64 453.2 109.9)"/>
<ellipse cx="493" cy="133.7" rx="1.6" ry="1.5" fill="#220880" transform="rotate(29 493 133.7)"/>
<ellipse cx="417.7" cy="131" rx="2.5" ry="2.5" fill="#4218a8" transform="rotate(88 417.7 131)"/>
<ellipse cx="501" cy="110.1" rx="1.9" ry="2" fill="#1a0664" transform="rotate(73 501 110.1)"/>
<ellipse cx="475.7" cy="93.2" rx="2.5" ry="2.4" fill="#220880" transform="rotate(40 475.7 93.2)"/>
<ellipse cx="481.5" cy="117.8" rx="2.5" ry="2.3" fill="#5428c8" transform="rotate(33 481.5 117.8)"/>
<ellipse cx="390.3" cy="106.1" rx="1.5" ry="1.5" fill="#1a0664" transform="rotate(40 390.3 106.1)"/>
<ellipse cx="517" cy="104.2" rx="1.8" ry="1.6" fill="#3412a8" transform="rotate(69 517 104.2)"/>
<ellipse cx="505" cy="133" rx="2.4" ry="2.2" fill="#30109a" transform="rotate(89 505 133)"/>
<ellipse cx="488.8" cy="133.2" rx="1.8" ry="1.6" fill="#4a20c0" transform="rotate(62 488.8 133.2)"/>
<ellipse cx="518.2" cy="134.9" rx="2.6" ry="2.5" fill="#1a0664" transform="rotate(15 518.2 134.9)"/>
<ellipse cx="485.8" cy="66.5" rx="2" ry="1.9" fill="#3e18b4" transform="rotate(12 485.8 66.5)"/>
<ellipse cx="465.7" cy="60" rx="1.7" ry="1.8" fill="#3412a8" transform="rotate(3 465.7 60)"/>
<ellipse cx="410.7" cy="132.9" rx="2.4" ry="2.3" fill="#4a20c0" transform="rotate(88 410.7 132.9)"/>
<ellipse cx="458.9" cy="134.5" rx="1.6" ry="1.4" fill="#3814ac" transform="rotate(26 458.9 134.5)"/>
<ellipse cx="433.3" cy="66" rx="2.5" ry="2.9" fill="#1a0664" transform="rotate(83 433.3 66)"/>
<ellipse cx="411.5" cy="45.2" rx="2" ry="1.8" fill="#3814ac" transform="rotate(53 411.5 45.2)"/>
<ellipse cx="456.1" cy="56.8" rx="1.8" ry="1.9" fill="#3814ac" transform="rotate(73 456.1 56.8)"/>
<ellipse cx="500.3" cy="89.9" rx="1.8" ry="1.8" fill="#4a20c0" transform="rotate(74 500.3 89.9)"/>
<ellipse cx="494.5" cy="107.8" rx="1.8" ry="2" fill="#4a20c0" transform="rotate(69 494.5 107.8)"/>
<ellipse cx="490.8" cy="45.5" rx="2.3" ry="2" fill="#30109a" transform="rotate(73 490.8 45.5)"/>
<ellipse cx="442.6" cy="110.3" rx="1.7" ry="1.9" fill="#4218a8" transform="rotate(53 442.6 110.3)"/>
<ellipse cx="485.9" cy="38.4" rx="2.4" ry="2.2" fill="#4218a8" transform="rotate(49 485.9 38.4)"/>
<ellipse cx="476.7" cy="61.8" rx="2.4" ry="2.3" fill="#4a20c0" transform="rotate(13 476.7 61.8)"/>
<ellipse cx="404.2" cy="117" rx="1.9" ry="2.2" fill="#4218a8" transform="rotate(46 404.2 117)"/>
<ellipse cx="419.7" cy="113.1" rx="2.2" ry="2.3" fill="#2c0c9c" transform="rotate(17 419.7 113.1)"/>
<ellipse cx="451.5" cy="68.5" rx="2.2" ry="2" fill="#5428c8" transform="rotate(89 451.5 68.5)"/>
<ellipse cx="430.2" cy="130.6" rx="2.2" ry="2.2" fill="#3e18b4" transform="rotate(58 430.2 130.6)"/>
<ellipse cx="424.1" cy="130.4" rx="1.6" ry="1.6" fill="#5428c8" transform="rotate(82 424.1 130.4)"/>
<ellipse cx="436.4" cy="49.3" rx="2.4" ry="2.3" fill="#2c0c9c" transform="rotate(69 436.4 49.3)"/>
<ellipse cx="398.6" cy="44.1" rx="2.5" ry="2.1" fill="#3814ac" transform="rotate(6 398.6 44.1)"/>
<ellipse cx="471.4" cy="61.5" rx="1.6" ry="1.3" fill="#3e18b4" transform="rotate(2 471.4 61.5)"/>
<ellipse cx="423" cy="38.3" rx="1.6" ry="1.5" fill="#220880" transform="rotate(5 423 38.3)"/>
<ellipse cx="435.6" cy="113.6" rx="2.2" ry="2.5" fill="#4a20c0" transform="rotate(72 435.6 113.6)"/>
<ellipse cx="481.3" cy="107.4" rx="2.4" ry="2.1" fill="#2c0c9c" transform="rotate(18 481.3 107.4)"/>
<ellipse cx="414" cy="78.6" rx="1.6" ry="1.3" fill="#4a20c0" transform="rotate(50 414 78.6)"/>
<ellipse cx="405.7" cy="83.8" rx="1.8" ry="1.5" fill="#3814ac" transform="rotate(42 405.7 83.8)"/>
<ellipse cx="496.8" cy="43.1" rx="1.5" ry="1.7" fill="#3e18b4" transform="rotate(78 496.8 43.1)"/>
<ellipse cx="436.8" cy="123.8" rx="1.7" ry="1.9" fill="#4218a8" transform="rotate(36 436.8 123.8)"/>
<ellipse cx="390" cy="38.2" rx="1.9" ry="1.9" fill="#3814ac" transform="rotate(9 390 38.2)"/>
<ellipse cx="511.1" cy="45.7" rx="2" ry="1.8" fill="#3814ac" transform="rotate(87 511.1 45.7)"/>
<ellipse cx="510" cy="74.2" rx="2.4" ry="2.5" fill="#4218a8" transform="rotate(19 510 74.2)"/>
<ellipse cx="403.2" cy="98.9" rx="2.1" ry="2.1" fill="#1a0664" transform="rotate(13 403.2 98.9)"/>
<ellipse cx="411.7" cy="94.7" rx="1.7" ry="1.9" fill="#4a20c0" transform="rotate(56 411.7 94.7)"/>
<ellipse cx="431.9" cy="123.5" rx="1.7" ry="1.7" fill="#5428c8" transform="rotate(67 431.9 123.5)"/>
<ellipse cx="484.6" cy="124.9" rx="1.6" ry="1.7" fill="#1a0664" transform="rotate(77 484.6 124.9)"/>
<ellipse cx="506.2" cy="51.6" rx="2.5" ry="2.8" fill="#5428c8" transform="rotate(33 506.2 51.6)"/>
<ellipse cx="437" cy="99.5" rx="2.4" ry="2" fill="#4218a8" transform="rotate(76 437 99.5)"/>
<ellipse cx="460.1" cy="55.9" rx="1.7" ry="1.6" fill="#3e18b4" transform="rotate(77 460.1 55.9)"/>
<ellipse cx="500.6" cy="77.9" rx="1.9" ry="1.8" fill="#1a0664" transform="rotate(86 500.6 77.9)"/>
<ellipse cx="392.5" cy="48" rx="1.7" ry="1.6" fill="#3814ac" transform="rotate(65 392.5 48)"/>
<ellipse cx="511.4" cy="52.7" rx="2.3" ry="2.4" fill="#30109a" transform="rotate(18 511.4 52.7)"/>
<ellipse cx="411.6" cy="116" rx="1.8" ry="1.5" fill="#2c0c9c" transform="rotate(5 411.6 116)"/>
<ellipse cx="510.3" cy="41.2" rx="2.5" ry="2.4" fill="#5428c8" transform="rotate(14 510.3 41.2)"/>
<ellipse cx="441.1" cy="115.6" rx="2" ry="1.9" fill="#4a20c0" transform="rotate(11 441.1 115.6)"/>
<ellipse cx="481.2" cy="97.2" rx="2.2" ry="2.5" fill="#4a20c0" transform="rotate(50 481.2 97.2)"/>
<ellipse cx="433.8" cy="107.3" rx="2.2" ry="2.4" fill="#5428c8" transform="rotate(79 433.8 107.3)"/>
<ellipse cx="476.9" cy="73.4" rx="1.9" ry="2.1" fill="#220880" transform="rotate(85 476.9 73.4)"/>
<ellipse cx="443.5" cy="81.2" rx="1.8" ry="1.9" fill="#3412a8" transform="rotate(90 443.5 81.2)"/>
<ellipse cx="501.6" cy="96.8" rx="1.7" ry="1.6" fill="#3412a8" transform="rotate(30 501.6 96.8)"/>
<ellipse cx="449.1" cy="62" rx="2.3" ry="2.3" fill="#3412a8" transform="rotate(67 449.1 62)"/>
<ellipse cx="389.5" cy="55" rx="1.7" ry="1.5" fill="#1a0664" transform="rotate(33 389.5 55)"/>
<ellipse cx="404.8" cy="105.3" rx="1.9" ry="1.7" fill="#1a0664" transform="rotate(64 404.8 105.3)"/>
<ellipse cx="453.1" cy="78.8" rx="2.3" ry="2.4" fill="#220880" transform="rotate(0 453.1 78.8)"/>
<ellipse cx="495" cy="56.8" rx="1.8" ry="1.9" fill="#3814ac" transform="rotate(36 495 56.8)"/>
<ellipse cx="481.5" cy="77.9" rx="1.7" ry="1.5" fill="#3814ac" transform="rotate(72 481.5 77.9)"/>
<ellipse cx="401.8" cy="38.1" rx="1.6" ry="1.6" fill="#3814ac" transform="rotate(53 401.8 38.1)"/>
<ellipse cx="442.2" cy="39.9" rx="2.5" ry="2.5" fill="#220880" transform="rotate(41 442.2 39.9)"/>
<ellipse cx="515.2" cy="59.5" rx="1.6" ry="1.4" fill="#2c0c9c" transform="rotate(73 515.2 59.5)"/>
<ellipse cx="397" cy="107.4" rx="2.1" ry="2" fill="#4218a8" transform="rotate(12 397 107.4)"/>
<ellipse cx="450.3" cy="132.3" rx="2.3" ry="2.2" fill="#30109a" transform="rotate(84 450.3 132.3)"/>
<ellipse cx="517.3" cy="112.8" rx="2" ry="1.6" fill="#30109a" transform="rotate(52 517.3 112.8)"/>
<ellipse cx="415.9" cy="91.3" rx="2.3" ry="2.4" fill="#220880" transform="rotate(74 415.9 91.3)"/>
<ellipse cx="517.4" cy="87.5" rx="1.7" ry="1.9" fill="#3e18b4" transform="rotate(22 517.4 87.5)"/>
<ellipse cx="499.7" cy="64" rx="1.6" ry="1.5" fill="#4a20c0" transform="rotate(55 499.7 64)"/>
<ellipse cx="390.9" cy="74.9" rx="2.2" ry="2.4" fill="#4218a8" transform="rotate(28 390.9 74.9)"/>
<ellipse cx="403.2" cy="44.6" rx="1.6" ry="1.9" fill="#220880" transform="rotate(29 403.2 44.6)"/>
<ellipse cx="465.7" cy="55.8" rx="2" ry="2.3" fill="#5428c8" transform="rotate(52 465.7 55.8)"/>
<ellipse cx="436.8" cy="68.1" rx="2.2" ry="2.3" fill="#4218a8" transform="rotate(37 436.8 68.1)"/>
<ellipse cx="486.9" cy="84.9" rx="1.7" ry="1.8" fill="#220880" transform="rotate(4 486.9 84.9)"/>
<ellipse cx="493.2" cy="73.4" rx="2" ry="2" fill="#4218a8" transform="rotate(81 493.2 73.4)"/>
<ellipse cx="467.6" cy="47.9" rx="1.9" ry="2" fill="#30109a" transform="rotate(76 467.6 47.9)"/>
<ellipse cx="411.2" cy="128.8" rx="2.1" ry="2.1" fill="#3412a8" transform="rotate(59 411.2 128.8)"/>
<ellipse cx="507" cy="114.3" rx="2.3" ry="1.9" fill="#4a20c0" transform="rotate(46 507 114.3)"/>
<ellipse cx="421.3" cy="56.7" rx="1.8" ry="1.5" fill="#4a20c0" transform="rotate(55 421.3 56.7)"/>
<ellipse cx="511.6" cy="110.1" rx="2.3" ry="2.1" fill="#30109a" transform="rotate(20 511.6 110.1)"/>
<ellipse cx="447.5" cy="45.6" rx="2.6" ry="2.9" fill="#3e18b4" transform="rotate(22 447.5 45.6)"/>
<ellipse cx="433.7" cy="39" rx="1.9" ry="2.1" fill="#3e18b4" transform="rotate(54 433.7 39)"/>
<ellipse cx="393.7" cy="98.8" rx="1.5" ry="1.6" fill="#4218a8" transform="rotate(11 393.7 98.8)"/>
<ellipse cx="407" cy="74.8" rx="1.6" ry="1.7" fill="#2c0c9c" transform="rotate(72 407 74.8)"/>
<ellipse cx="421.9" cy="105.5" rx="2" ry="1.8" fill="#3412a8" transform="rotate(10 421.9 105.5)"/>
<ellipse cx="487.9" cy="59.7" rx="2.3" ry="2.1" fill="#3412a8" transform="rotate(32 487.9 59.7)"/>
<ellipse cx="440.7" cy="104.3" rx="2.4" ry="2.5" fill="#3e18b4" transform="rotate(82 440.7 104.3)"/>
<ellipse cx="471.8" cy="66.3" rx="1.7" ry="1.9" fill="#2c0c9c" transform="rotate(7 471.8 66.3)"/>
<ellipse cx="432.7" cy="61.1" rx="2" ry="1.8" fill="#3814ac" transform="rotate(8 432.7 61.1)"/>
<ellipse cx="448.2" cy="51.1" rx="2.5" ry="2.6" fill="#3814ac" transform="rotate(78 448.2 51.1)"/>
<ellipse cx="419.2" cy="109" rx="2.4" ry="2.4" fill="#3412a8" transform="rotate(16 419.2 109)"/>
<ellipse cx="483.2" cy="93.3" rx="2.4" ry="2.7" fill="#4a20c0" transform="rotate(34 483.2 93.3)"/>
<ellipse cx="516.5" cy="68.2" rx="2.3" ry="2.2" fill="#3e18b4" transform="rotate(52 516.5 68.2)"/>
<ellipse cx="420.4" cy="74.1" rx="1.9" ry="1.7" fill="#4a20c0" transform="rotate(54 420.4 74.1)"/>
<ellipse cx="465.3" cy="127.6" rx="2.2" ry="2.4" fill="#3412a8" transform="rotate(6 465.3 127.6)"/>
<ellipse cx="490.8" cy="38.4" rx="2.4" ry="2.4" fill="#220880" transform="rotate(1 490.8 38.4)"/>
<ellipse cx="494.9" cy="63" rx="1.6" ry="1.4" fill="#4218a8" transform="rotate(36 494.9 63)"/>
<ellipse cx="480.7" cy="65.9" rx="2.6" ry="2.7" fill="#4a20c0" transform="rotate(52 480.7 65.9)"/>
<ellipse cx="500.2" cy="69.4" rx="2.1" ry="2" fill="#4a20c0" transform="rotate(52 500.2 69.4)"/>
<ellipse cx="484" cy="134.6" rx="1.7" ry="1.8" fill="#3e18b4" transform="rotate(40 484 134.6)"/>
<ellipse cx="475.8" cy="116" rx="2.5" ry="2.9" fill="#3814ac" transform="rotate(83 475.8 116)"/>
<ellipse cx="476.1" cy="100.2" rx="1.7" ry="1.9" fill="#3412a8" transform="rotate(38 476.1 100.2)"/>
<ellipse cx="407.2" cy="54.2" rx="2" ry="2.1" fill="#1a0664" transform="rotate(31 407.2 54.2)"/>
<ellipse cx="499.2" cy="47.7" rx="1.6" ry="1.6" fill="#3412a8" transform="rotate(60 499.2 47.7)"/>
<ellipse cx="517.9" cy="129.2" rx="1.7" ry="1.4" fill="#5428c8" transform="rotate(44 517.9 129.2)"/>
<ellipse cx="416.8" cy="116.1" rx="2.1" ry="2.2" fill="#2c0c9c" transform="rotate(76 416.8 116.1)"/>
<ellipse cx="494" cy="48.2" rx="2" ry="1.7" fill="#220880" transform="rotate(76 494 48.2)"/>
<ellipse cx="427.1" cy="120.3" rx="2.2" ry="2.3" fill="#2c0c9c" transform="rotate(19 427.1 120.3)"/>
<ellipse cx="450.1" cy="57" rx="1.8" ry="1.8" fill="#30109a" transform="rotate(4 450.1 57)"/>
<ellipse cx="432.9" cy="93.2" rx="1.6" ry="1.8" fill="#5428c8" transform="rotate(64 432.9 93.2)"/>
<ellipse cx="406.6" cy="101.9" rx="2.3" ry="2.5" fill="#4a20c0" transform="rotate(21 406.6 101.9)"/>
<ellipse cx="512.9" cy="100.1" rx="1.6" ry="1.9" fill="#30109a" transform="rotate(13 512.9 100.1)"/>
<ellipse cx="401.3" cy="119.8" rx="2.3" ry="2.1" fill="#1a0664" transform="rotate(51 401.3 119.8)"/>
<ellipse cx="513.5" cy="133.6" rx="2.6" ry="2.7" fill="#3e18b4" transform="rotate(27 513.5 133.6)"/>
<ellipse cx="400.1" cy="49.7" rx="1.9" ry="2.1" fill="#3814ac" transform="rotate(40 400.1 49.7)"/>
<ellipse cx="444.8" cy="124.2" rx="2" ry="2.2" fill="#2c0c9c" transform="rotate(88 444.8 124.2)"/>
<ellipse cx="446.5" cy="115.6" rx="2.2" ry="1.9" fill="#5428c8" transform="rotate(79 446.5 115.6)"/>
<ellipse cx="467.2" cy="64.5" rx="1.9" ry="1.5" fill="#3e18b4" transform="rotate(88 467.2 64.5)"/>
<ellipse cx="431.8" cy="98.7" rx="2.3" ry="2.2" fill="#220880" transform="rotate(85 431.8 98.7)"/>
<ellipse cx="415.1" cy="99.4" rx="2.1" ry="1.7" fill="#4218a8" transform="rotate(60 415.1 99.4)"/>
<ellipse cx="449.3" cy="112.3" rx="1.7" ry="1.4" fill="#1a0664" transform="rotate(48 449.3 112.3)"/>
<ellipse cx="448.6" cy="81.9" rx="1.6" ry="1.2" fill="#4218a8" transform="rotate(0 448.6 81.9)"/>
<ellipse cx="405.9" cy="64.4" rx="1.7" ry="1.5" fill="#3e18b4" transform="rotate(78 405.9 64.4)"/>
<ellipse cx="507.7" cy="47.7" rx="2.4" ry="2" fill="#5428c8" transform="rotate(18 507.7 47.7)"/>
<ellipse cx="501" cy="38.4" rx="2.2" ry="2" fill="#3e18b4" transform="rotate(78 501 38.4)"/>
<ellipse cx="459.2" cy="125" rx="1.6" ry="1.7" fill="#30109a" transform="rotate(49 459.2 125)"/>
<ellipse cx="443.9" cy="94.2" rx="1.6" ry="1.6" fill="#1a0664" transform="rotate(57 443.9 94.2)"/>
<ellipse cx="432.2" cy="103.6" rx="2.4" ry="2.5" fill="#4a20c0" transform="rotate(24 432.2 103.6)"/>
<ellipse cx="495.1" cy="39.4" rx="2" ry="1.6" fill="#3412a8" transform="rotate(14 495.1 39.4)"/>
<ellipse cx="418.6" cy="124.3" rx="1.6" ry="1.5" fill="#4a20c0" transform="rotate(78 418.6 124.3)"/>
<ellipse cx="406.3" cy="68.9" rx="2.4" ry="1.9" fill="#4a20c0" transform="rotate(52 406.3 68.9)"/>
<ellipse cx="504.2" cy="71.7" rx="2.4" ry="2.5" fill="#3e18b4" transform="rotate(50 504.2 71.7)"/>
<ellipse cx="472.7" cy="104.2" rx="2.5" ry="2.2" fill="#2c0c9c" transform="rotate(54 472.7 104.2)"/>
<ellipse cx="475.3" cy="132.5" rx="2.3" ry="1.9" fill="#30109a" transform="rotate(8 475.3 132.5)"/>
<ellipse cx="482.3" cy="61.4" rx="1.7" ry="1.8" fill="#30109a" transform="rotate(79 482.3 61.4)"/>
<ellipse cx="390.8" cy="82.8" rx="1.7" ry="1.5" fill="#5428c8" transform="rotate(47 390.8 82.8)"/>
<ellipse cx="450.8" cy="39.3" rx="2.5" ry="2.7" fill="#30109a" transform="rotate(7 450.8 39.3)"/>
<ellipse cx="427.6" cy="67.4" rx="1.8" ry="1.9" fill="#2c0c9c" transform="rotate(7 427.6 67.4)"/>
<ellipse cx="492.2" cy="90.2" rx="2" ry="1.8" fill="#5428c8" transform="rotate(57 492.2 90.2)"/>
<ellipse cx="492.2" cy="69.1" rx="2.2" ry="1.8" fill="#1a0664" transform="rotate(34 492.2 69.1)"/>
<ellipse cx="434" cy="43.2" rx="1.8" ry="1.6" fill="#220880" transform="rotate(26 434 43.2)"/>
<ellipse cx="416.1" cy="54.6" rx="1.9" ry="1.7" fill="#3e18b4" transform="rotate(80 416.1 54.6)"/>
<ellipse cx="424.3" cy="96.4" rx="2.1" ry="2.3" fill="#2c0c9c" transform="rotate(47 424.3 96.4)"/>
<ellipse cx="496.4" cy="81.9" rx="2.6" ry="2.9" fill="#4a20c0" transform="rotate(3 496.4 81.9)"/>
<ellipse cx="497.4" cy="128.5" rx="1.7" ry="1.9" fill="#3412a8" transform="rotate(58 497.4 128.5)"/>
<ellipse cx="420.6" cy="98.7" rx="2.2" ry="2.5" fill="#3e18b4" transform="rotate(83 420.6 98.7)"/>
<ellipse cx="392.8" cy="90.4" rx="1.8" ry="1.9" fill="#3412a8" transform="rotate(58 392.8 90.4)"/>
<ellipse cx="438.1" cy="119.3" rx="1.5" ry="1.6" fill="#3814ac" transform="rotate(58 438.1 119.3)"/>
<ellipse cx="441.2" cy="85.8" rx="2.3" ry="1.9" fill="#3814ac" transform="rotate(24 441.2 85.8)"/>
<ellipse cx="431.1" cy="134.8" rx="1.7" ry="1.7" fill="#3e18b4" transform="rotate(79 431.1 134.8)"/>
<ellipse cx="415.9" cy="72.7" rx="1.7" ry="1.8" fill="#2c0c9c" transform="rotate(86 415.9 72.7)"/>
<ellipse cx="394.3" cy="110.7" rx="2.6" ry="2.4" fill="#3412a8" transform="rotate(71 394.3 110.7)"/>
<ellipse cx="505.8" cy="91.6" rx="2.1" ry="1.7" fill="#3e18b4" transform="rotate(65 505.8 91.6)"/>
<ellipse cx="417.4" cy="39" rx="2.3" ry="2.2" fill="#1a0664" transform="rotate(41 417.4 39)"/>
<ellipse cx="465.3" cy="111" rx="2.2" ry="2.2" fill="#30109a" transform="rotate(45 465.3 111)"/>
<ellipse cx="411.8" cy="82.4" rx="1.6" ry="1.8" fill="#2c0c9c" transform="rotate(25 411.8 82.4)"/>
<ellipse cx="424.6" cy="70.5" rx="2.4" ry="2.4" fill="#1a0664" transform="rotate(7 424.6 70.5)"/>
<ellipse cx="470.8" cy="95.7" rx="1.8" ry="1.7" fill="#4a20c0" transform="rotate(75 470.8 95.7)"/>
<ellipse cx="405.2" cy="130" rx="2.3" ry="2" fill="#5428c8" transform="rotate(28 405.2 130)"/>
<ellipse cx="405.5" cy="41.1" rx="2.6" ry="2.4" fill="#3412a8" transform="rotate(51 405.5 41.1)"/>
<ellipse cx="408.7" cy="107.5" rx="2.4" ry="2.7" fill="#2c0c9c" transform="rotate(51 408.7 107.5)"/>
<ellipse cx="498.4" cy="73" rx="2.2" ry="2.3" fill="#3e18b4" transform="rotate(12 498.4 73)"/>
<ellipse cx="410" cy="78.1" rx="1.6" ry="1.8" fill="#3412a8" transform="rotate(10 410 78.1)"/>
<ellipse cx="389.7" cy="126.9" rx="2.4" ry="2.5" fill="#30109a" transform="rotate(86 389.7 126.9)"/>
<ellipse cx="393" cy="43.4" rx="1.8" ry="1.8" fill="#3814ac" transform="rotate(67 393 43.4)"/>
<ellipse cx="412.3" cy="63.2" rx="2.6" ry="2.6" fill="#3e18b4" transform="rotate(12 412.3 63.2)"/>
<ellipse cx="505.8" cy="99.3" rx="2.2" ry="2.2" fill="#30109a" transform="rotate(29 505.8 99.3)"/>
<ellipse cx="391" cy="63.4" rx="1.9" ry="1.6" fill="#2c0c9c" transform="rotate(62 391 63.4)"/>
<ellipse cx="394.5" cy="103.3" rx="1.5" ry="1.2" fill="#4218a8" transform="rotate(33 394.5 103.3)"/>
<ellipse cx="440.8" cy="48.4" rx="2.2" ry="2.1" fill="#2c0c9c" transform="rotate(71 440.8 48.4)"/>
</g>
</g>
<rect x="389.35" y="38.0" width="128.95" height="97" fill="none" stroke="#1a0a50" stroke-width="1"/>
<text transform="translate(449.6 147.6) scale(1.03 1)" font-size="10.2" fill="#0a0a0a" font-weight="bold" text-anchor="middle" stroke="#0a0a0a" stroke-width="0.25" stroke-linejoin="round">CD3</text>
<g clip-path="url(#c1)">
<rect x="389.35" y="157.5" width="128.9" height="96.7" fill="#c6e0f5"/>
<g filter="url(#b2)">
<ellipse cx="393.1" cy="209.1" rx="6.9" ry="4.6" fill="#ffffff"/>
<ellipse cx="401.6" cy="195.1" rx="4.5" ry="3.5" fill="#b4d8f4"/>
<ellipse cx="488" cy="177.2" rx="4.2" ry="4.2" fill="#e4f4ff"/>
<ellipse cx="482.5" cy="206.3" rx="5.9" ry="5.6" fill="#bfe2fa"/>
<ellipse cx="391.7" cy="202.8" rx="6.8" ry="5.3" fill="#f2faff"/>
<ellipse cx="448.1" cy="186.4" rx="3.1" ry="3.3" fill="#b4d8f4"/>
<ellipse cx="407.4" cy="241.9" rx="5.7" ry="4.1" fill="#f2faff"/>
<ellipse cx="486.8" cy="225.3" rx="3.7" ry="3.3" fill="#e4f4ff"/>
<ellipse cx="397.1" cy="202.1" rx="6" ry="3" fill="#b4d8f4"/>
<ellipse cx="449.3" cy="194.9" rx="3.7" ry="5.5" fill="#e4f4ff"/>
<ellipse cx="399.2" cy="246.8" rx="5.6" ry="4.8" fill="#a8d4f6"/>
<ellipse cx="512.6" cy="164.3" rx="5.7" ry="5.9" fill="#f2faff"/>
<ellipse cx="502.1" cy="175.6" rx="4.4" ry="5.8" fill="#a8d4f6"/>
<ellipse cx="396.6" cy="210.1" rx="6" ry="3.3" fill="#b4d8f4"/>
<ellipse cx="448.9" cy="206.2" rx="4.1" ry="4.1" fill="#9cc8f0"/>
<ellipse cx="464.6" cy="185.9" rx="6.8" ry="3.4" fill="#9cc8f0"/>
<ellipse cx="487.2" cy="246.9" rx="4.7" ry="4" fill="#b4d8f4"/>
<ellipse cx="402.3" cy="166" rx="6.8" ry="3.4" fill="#ffffff"/>
<ellipse cx="457.1" cy="187.5" rx="5.7" ry="4.6" fill="#a8d4f6"/>
<ellipse cx="395.6" cy="251.5" rx="6.9" ry="5.2" fill="#f2faff"/>
<ellipse cx="493" cy="182.9" rx="5.1" ry="5" fill="#e4f4ff"/>
<ellipse cx="450.5" cy="196.6" rx="6.2" ry="4.3" fill="#e4f4ff"/>
<ellipse cx="412.2" cy="253.6" rx="6" ry="4.4" fill="#ffffff"/>
<ellipse cx="413.2" cy="189.8" rx="3" ry="3.9" fill="#e4f4ff"/>
<ellipse cx="409.2" cy="170.2" rx="4" ry="4.4" fill="#9cc8f0"/>
<ellipse cx="402.4" cy="247.7" rx="4.1" ry="4.4" fill="#f2faff"/>
<ellipse cx="412.5" cy="231.5" rx="3.5" ry="4.5" fill="#b4d8f4"/>
<ellipse cx="418.4" cy="219.3" rx="3.9" ry="5.5" fill="#ffffff"/>
<ellipse cx="454.7" cy="238.4" rx="6.9" ry="3.9" fill="#9cc8f0"/>
<ellipse cx="423" cy="193" rx="6.7" ry="5.3" fill="#9cc8f0"/>
<ellipse cx="409.9" cy="247.4" rx="4.6" ry="4.6" fill="#a8d4f6"/>
<ellipse cx="473.3" cy="201.8" rx="6.9" ry="4.3" fill="#f2faff"/>
<ellipse cx="502.9" cy="186.1" rx="3.7" ry="3" fill="#b4d8f4"/>
<ellipse cx="421.9" cy="251.5" rx="6.7" ry="5.2" fill="#f2faff"/>
<ellipse cx="410.4" cy="186.7" rx="5.3" ry="4.6" fill="#e4f4ff"/>
<ellipse cx="402.6" cy="182.6" rx="6" ry="5.7" fill="#e4f4ff"/>
<ellipse cx="393.3" cy="167" rx="6.5" ry="4" fill="#bfe2fa"/>
<ellipse cx="494.2" cy="175.6" rx="4.6" ry="4.8" fill="#f2faff"/>
<ellipse cx="400" cy="215.4" rx="6.8" ry="4.6" fill="#a8d4f6"/>
<ellipse cx="426.1" cy="181.7" rx="6.4" ry="3.8" fill="#e4f4ff"/>
<ellipse cx="509.6" cy="167.3" rx="3.5" ry="3.4" fill="#f2faff"/>
<ellipse cx="408" cy="239.1" rx="4" ry="4.8" fill="#ffffff"/>
<ellipse cx="491.3" cy="228.4" rx="3" ry="5" fill="#ffffff"/>
<ellipse cx="458" cy="167.3" rx="3.8" ry="5.5" fill="#b4d8f4"/>
<ellipse cx="498.7" cy="194.6" rx="5.6" ry="3.8" fill="#a8d4f6"/>
<ellipse cx="417.7" cy="163.7" rx="5.3" ry="5.3" fill="#ffffff"/>
<ellipse cx="437.7" cy="171" rx="5" ry="5.4" fill="#f2faff"/>
<ellipse cx="493.5" cy="201.8" rx="6.6" ry="5.6" fill="#a8d4f6"/>
<ellipse cx="495.3" cy="173.7" rx="5.9" ry="3.3" fill="#a8d4f6"/>
<ellipse cx="513.5" cy="181.4" rx="4" ry="3.8" fill="#a8d4f6"/>
<ellipse cx="470.1" cy="246.3" rx="4.9" ry="5.7" fill="#f2faff"/>
<ellipse cx="434" cy="193.5" rx="6.4" ry="3.8" fill="#a8d4f6"/>
<ellipse cx="470.4" cy="195.9" rx="3.5" ry="5" fill="#b4d8f4"/>
<ellipse cx="496.9" cy="159.5" rx="4.8" ry="4.1" fill="#ffffff"/>
<ellipse cx="499" cy="175.4" rx="3" ry="4.3" fill="#f2faff"/>
<ellipse cx="441.1" cy="214.4" rx="5.7" ry="4" fill="#a8d4f6"/>
<ellipse cx="476.9" cy="186.9" rx="5.1" ry="5.8" fill="#a8d4f6"/>
<ellipse cx="508" cy="232.9" rx="5.1" ry="3.4" fill="#ffffff"/>
<ellipse cx="437.9" cy="212.8" rx="5.6" ry="3.7" fill="#bfe2fa"/>
<ellipse cx="433.7" cy="211.4" rx="5.2" ry="4.5" fill="#b4d8f4"/>
<ellipse cx="447.3" cy="221.3" rx="6.4" ry="4" fill="#9cc8f0"/>
<ellipse cx="407" cy="253.7" rx="3.6" ry="5.1" fill="#a8d4f6"/>
<ellipse cx="448.1" cy="169.4" rx="6.6" ry="4.6" fill="#9cc8f0"/>
<ellipse cx="466.8" cy="169.5" rx="3.8" ry="3.6" fill="#f2faff"/>
<ellipse cx="398.4" cy="220.5" rx="6.8" ry="6" fill="#f2faff"/>
<ellipse cx="452.2" cy="187.5" rx="5.3" ry="5.9" fill="#9cc8f0"/>
<ellipse cx="407.2" cy="218" rx="6.3" ry="5.4" fill="#a8d4f6"/>
<ellipse cx="513.5" cy="252.7" rx="4.4" ry="4.6" fill="#e4f4ff"/>
<ellipse cx="409.7" cy="218.2" rx="4.1" ry="5.9" fill="#bfe2fa"/>
<ellipse cx="409.5" cy="232.4" rx="3.3" ry="5.1" fill="#e4f4ff"/>
<ellipse cx="440" cy="219.4" rx="6.9" ry="5" fill="#bfe2fa"/>
<ellipse cx="399.9" cy="219.4" rx="4.7" ry="4.5" fill="#9cc8f0"/>
<ellipse cx="501.9" cy="216.8" rx="4.2" ry="4.7" fill="#e4f4ff"/>
<ellipse cx="495.8" cy="220" rx="6.2" ry="3.2" fill="#a8d4f6"/>
<ellipse cx="450.8" cy="186" rx="3.4" ry="3.3" fill="#bfe2fa"/>
<ellipse cx="486.8" cy="221.9" rx="3.6" ry="3.1" fill="#ffffff"/>
<ellipse cx="484.4" cy="229.9" rx="6.6" ry="4.6" fill="#ffffff"/>
<ellipse cx="463.8" cy="178" rx="6.4" ry="4.2" fill="#f2faff"/>
<ellipse cx="510.2" cy="158.1" rx="5.8" ry="5.5" fill="#bfe2fa"/>
<ellipse cx="437.9" cy="225.1" rx="4.2" ry="3.2" fill="#e4f4ff"/>
</g>
<g filter="url(#b1)">
<circle cx="484.8" cy="243.8" r="2.4" fill="#66a6e6" stroke="#4a80c8" stroke-width="0.6"/>
<circle cx="474.3" cy="206.6" r="1.8" fill="#70aeea" stroke="#4a80c8" stroke-width="0.6"/>
<circle cx="422.4" cy="230.4" r="2.1" fill="#66a6e6" stroke="#3a6cb8" stroke-width="0.6"/>
<circle cx="443.4" cy="193" r="2.3" fill="#70aeea" stroke="#4a80c8" stroke-width="0.6"/>
<circle cx="413.7" cy="198.9" r="2" fill="#5a98dc" stroke="#4a80c8" stroke-width="0.6"/>
<circle cx="468.7" cy="215.5" r="2.1" fill="#5a98dc" stroke="#3a6cb8" stroke-width="0.6"/>
<circle cx="421.8" cy="191.7" r="2.1" fill="#98d0f8" stroke="#3a6cb8" stroke-width="0.6"/>
<circle cx="468.8" cy="247.6" r="2.5" fill="#66a6e6" stroke="#4a80c8" stroke-width="0.6"/>
<circle cx="459.5" cy="165.8" r="2.5" fill="#98d0f8" stroke="#3a6cb8" stroke-width="0.6"/>
<circle cx="491.9" cy="225.8" r="2" fill="#70aeea" stroke="#3a6cb8" stroke-width="0.6"/>
<circle cx="488.3" cy="189.4" r="2.1" fill="#70aeea" stroke="#3a6cb8" stroke-width="0.6"/>
<circle cx="460.6" cy="188.6" r="2.3" fill="#70aeea" stroke="#3a6cb8" stroke-width="0.6"/>
<circle cx="416" cy="219.5" r="2.5" fill="#86c2f4" stroke="#4a80c8" stroke-width="0.6"/>
<circle cx="419.5" cy="205" r="1.8" fill="#4a86d0" stroke="#3a6cb8" stroke-width="0.6"/>
<circle cx="503" cy="245.7" r="1.8" fill="#70aeea" stroke="#4a80c8" stroke-width="0.6"/>
<circle cx="391.5" cy="158" r="2.4" fill="#70aeea" stroke="#3a6cb8" stroke-width="0.6"/>
<circle cx="493.3" cy="254.2" r="1.9" fill="#98d0f8" stroke="#3a6cb8" stroke-width="0.6"/>
<circle cx="484.2" cy="230.9" r="2" fill="#70aeea" stroke="#3a6cb8" stroke-width="0.6"/>
<circle cx="483.5" cy="252.4" r="2.4" fill="#86c2f4" stroke="#4a80c8" stroke-width="0.6"/>
<circle cx="436" cy="245.8" r="2.3" fill="#86c2f4" stroke="#4a80c8" stroke-width="0.6"/>
<circle cx="501.4" cy="237.5" r="1.8" fill="#98d0f8" stroke="#4a80c8" stroke-width="0.6"/>
<circle cx="398.6" cy="226.7" r="2.5" fill="#70aeea" stroke="#4a80c8" stroke-width="0.6"/>
<circle cx="462.7" cy="211.2" r="2.5" fill="#86c2f4" stroke="#3a6cb8" stroke-width="0.6"/>
<circle cx="464.2" cy="194.8" r="2.3" fill="#66a6e6" stroke="#3a6cb8" stroke-width="0.6"/>
<circle cx="452.4" cy="159.1" r="2.2" fill="#5a98dc" stroke="#3a6cb8" stroke-width="0.6"/>
<circle cx="392.6" cy="165.3" r="2.4" fill="#86c2f4" stroke="#3a6cb8" stroke-width="0.6"/>
<circle cx="419.7" cy="224" r="2.3" fill="#86c2f4" stroke="#4a80c8" stroke-width="0.6"/>
<circle cx="502.3" cy="172.8" r="2.1" fill="#5a98dc" stroke="#3a6cb8" stroke-width="0.6"/>
<circle cx="432.4" cy="212" r="2" fill="#66a6e6" stroke="#3a6cb8" stroke-width="0.6"/>
<circle cx="446.5" cy="252.6" r="2.4" fill="#66a6e6" stroke="#3a6cb8" stroke-width="0.6"/>
<circle cx="505.6" cy="158.3" r="2.5" fill="#98d0f8" stroke="#4a80c8" stroke-width="0.6"/>
<circle cx="477.7" cy="197.9" r="2.3" fill="#5a98dc" stroke="#3a6cb8" stroke-width="0.6"/>
<circle cx="479.1" cy="188.8" r="1.9" fill="#5a98dc" stroke="#4a80c8" stroke-width="0.6"/>
<circle cx="488.6" cy="180.6" r="1.9" fill="#66a6e6" stroke="#4a80c8" stroke-width="0.6"/>
<circle cx="497.7" cy="209.9" r="2.5" fill="#4a86d0" stroke="#4a80c8" stroke-width="0.6"/>
<circle cx="465.7" cy="238.1" r="2.4" fill="#70aeea" stroke="#4a80c8" stroke-width="0.6"/>
<circle cx="417.8" cy="186.9" r="2.1" fill="#86c2f4" stroke="#3a6cb8" stroke-width="0.6"/>
<circle cx="454" cy="213.2" r="1.8" fill="#66a6e6" stroke="#3a6cb8" stroke-width="0.6"/>
<circle cx="430.6" cy="216.5" r="2.2" fill="#4a86d0" stroke="#4a80c8" stroke-width="0.6"/>
<circle cx="389.5" cy="199.7" r="2" fill="#5a98dc" stroke="#3a6cb8" stroke-width="0.6"/>
<circle cx="459.1" cy="192.8" r="2.5" fill="#98d0f8" stroke="#3a6cb8" stroke-width="0.6"/>
<circle cx="399" cy="160" r="2" fill="#66a6e6" stroke="#3a6cb8" stroke-width="0.6"/>
<circle cx="459.9" cy="244.4" r="2.5" fill="#86c2f4" stroke="#3a6cb8" stroke-width="0.6"/>
<circle cx="432.6" cy="183.4" r="2.3" fill="#98d0f8" stroke="#4a80c8" stroke-width="0.6"/>
<circle cx="399.1" cy="247" r="2.5" fill="#70aeea" stroke="#4a80c8" stroke-width="0.6"/>
<circle cx="401.4" cy="251.4" r="2.1" fill="#70aeea" stroke="#3a6cb8" stroke-width="0.6"/>
<circle cx="511.2" cy="233.7" r="1.9" fill="#5a98dc" stroke="#4a80c8" stroke-width="0.6"/>
<circle cx="411.8" cy="192.6" r="2.5" fill="#86c2f4" stroke="#3a6cb8" stroke-width="0.6"/>
<circle cx="451.9" cy="189.8" r="2.6" fill="#66a6e6" stroke="#4a80c8" stroke-width="0.6"/>
<circle cx="426.7" cy="241.4" r="2.5" fill="#70aeea" stroke="#3a6cb8" stroke-width="0.6"/>
<circle cx="504.9" cy="183.8" r="2.3" fill="#70aeea" stroke="#4a80c8" stroke-width="0.6"/>
<circle cx="461.1" cy="215.2" r="2.2" fill="#70aeea" stroke="#3a6cb8" stroke-width="0.6"/>
<circle cx="506.3" cy="169.8" r="2.4" fill="#66a6e6" stroke="#3a6cb8" stroke-width="0.6"/>
<circle cx="453" cy="242.3" r="2.4" fill="#70aeea" stroke="#3a6cb8" stroke-width="0.6"/>
<circle cx="466.2" cy="222.7" r="2.5" fill="#98d0f8" stroke="#3a6cb8" stroke-width="0.6"/>
<circle cx="491" cy="161.5" r="2.3" fill="#98d0f8" stroke="#3a6cb8" stroke-width="0.6"/>
<circle cx="459.6" cy="174.2" r="2.1" fill="#98d0f8" stroke="#3a6cb8" stroke-width="0.6"/>
<circle cx="415.2" cy="250.2" r="2.3" fill="#66a6e6" stroke="#3a6cb8" stroke-width="0.6"/>
<circle cx="392.5" cy="237.2" r="2.5" fill="#98d0f8" stroke="#3a6cb8" stroke-width="0.6"/>
<circle cx="514.3" cy="164.8" r="2.4" fill="#5a98dc" stroke="#4a80c8" stroke-width="0.6"/>
<circle cx="486.5" cy="207" r="2.1" fill="#86c2f4" stroke="#4a80c8" stroke-width="0.6"/>
<circle cx="447.9" cy="196.5" r="2.1" fill="#86c2f4" stroke="#3a6cb8" stroke-width="0.6"/>
<circle cx="420.5" cy="180.1" r="2.5" fill="#86c2f4" stroke="#3a6cb8" stroke-width="0.6"/>
<circle cx="464.3" cy="218.3" r="2.4" fill="#70aeea" stroke="#3a6cb8" stroke-width="0.6"/>
<circle cx="437.6" cy="221.7" r="2.4" fill="#86c2f4" stroke="#4a80c8" stroke-width="0.6"/>
<circle cx="474.5" cy="182.1" r="1.8" fill="#98d0f8" stroke="#3a6cb8" stroke-width="0.6"/>
<circle cx="517.5" cy="222.9" r="2.3" fill="#5a98dc" stroke="#4a80c8" stroke-width="0.6"/>
<circle cx="422.8" cy="197.4" r="2" fill="#4a86d0" stroke="#4a80c8" stroke-width="0.6"/>
<circle cx="502.6" cy="167.5" r="1.8" fill="#86c2f4" stroke="#4a80c8" stroke-width="0.6"/>
<circle cx="430.2" cy="249" r="2.2" fill="#98d0f8" stroke="#4a80c8" stroke-width="0.6"/>
<circle cx="514.7" cy="236.7" r="2.2" fill="#86c2f4" stroke="#3a6cb8" stroke-width="0.6"/>
<circle cx="444.1" cy="204.2" r="2.3" fill="#98d0f8" stroke="#4a80c8" stroke-width="0.6"/>
<circle cx="436.2" cy="201" r="2.6" fill="#66a6e6" stroke="#3a6cb8" stroke-width="0.6"/>
<circle cx="419.6" cy="249.1" r="2" fill="#86c2f4" stroke="#3a6cb8" stroke-width="0.6"/>
<circle cx="424.6" cy="182.5" r="2.3" fill="#70aeea" stroke="#3a6cb8" stroke-width="0.6"/>
<circle cx="434.3" cy="162.2" r="2.1" fill="#66a6e6" stroke="#3a6cb8" stroke-width="0.6"/>
<circle cx="467.8" cy="211.4" r="1.8" fill="#66a6e6" stroke="#3a6cb8" stroke-width="0.6"/>
<circle cx="472.2" cy="218.6" r="1.9" fill="#66a6e6" stroke="#4a80c8" stroke-width="0.6"/>
<circle cx="396" cy="251.6" r="2.3" fill="#70aeea" stroke="#4a80c8" stroke-width="0.6"/>
<circle cx="510.4" cy="200.8" r="2.3" fill="#4a86d0" stroke="#3a6cb8" stroke-width="0.6"/>
<circle cx="505.4" cy="163.5" r="2.5" fill="#70aeea" stroke="#4a80c8" stroke-width="0.6"/>
<circle cx="472.7" cy="238.6" r="2.2" fill="#70aeea" stroke="#4a80c8" stroke-width="0.6"/>
<circle cx="444.4" cy="181.5" r="2.1" fill="#86c2f4" stroke="#4a80c8" stroke-width="0.6"/>
<circle cx="444.9" cy="229.6" r="2.1" fill="#5a98dc" stroke="#3a6cb8" stroke-width="0.6"/>
<circle cx="481.9" cy="172.9" r="2" fill="#70aeea" stroke="#3a6cb8" stroke-width="0.6"/>
<circle cx="500.9" cy="191.8" r="2.4" fill="#98d0f8" stroke="#3a6cb8" stroke-width="0.6"/>
<circle cx="500.3" cy="216.9" r="2.4" fill="#70aeea" stroke="#3a6cb8" stroke-width="0.6"/>
<circle cx="487.1" cy="238.8" r="2.3" fill="#86c2f4" stroke="#4a80c8" stroke-width="0.6"/>
<circle cx="428.4" cy="206.3" r="2.5" fill="#66a6e6" stroke="#3a6cb8" stroke-width="0.6"/>
<circle cx="443" cy="169.7" r="2.3" fill="#5a98dc" stroke="#4a80c8" stroke-width="0.6"/>
<circle cx="440" cy="251.7" r="2.6" fill="#86c2f4" stroke="#3a6cb8" stroke-width="0.6"/>
<circle cx="453.6" cy="220.9" r="1.9" fill="#70aeea" stroke="#3a6cb8" stroke-width="0.6"/>
<circle cx="412.7" cy="210.2" r="2.2" fill="#66a6e6" stroke="#3a6cb8" stroke-width="0.6"/>
<circle cx="469.1" cy="241.7" r="1.8" fill="#66a6e6" stroke="#3a6cb8" stroke-width="0.6"/>
<circle cx="479.9" cy="248.1" r="2.2" fill="#86c2f4" stroke="#4a80c8" stroke-width="0.6"/>
<circle cx="517.8" cy="202" r="2.5" fill="#5a98dc" stroke="#3a6cb8" stroke-width="0.6"/>
<circle cx="416.9" cy="165.9" r="2.2" fill="#66a6e6" stroke="#4a80c8" stroke-width="0.6"/>
<circle cx="470.2" cy="199.5" r="1.8" fill="#86c2f4" stroke="#3a6cb8" stroke-width="0.6"/>
<circle cx="404.2" cy="181.2" r="2.4" fill="#86c2f4" stroke="#3a6cb8" stroke-width="0.6"/>
<circle cx="481.5" cy="203.6" r="2.2" fill="#98d0f8" stroke="#4a80c8" stroke-width="0.6"/>
<circle cx="510.4" cy="175.3" r="2" fill="#70aeea" stroke="#3a6cb8" stroke-width="0.6"/>
<circle cx="430.9" cy="237.8" r="1.9" fill="#70aeea" stroke="#3a6cb8" stroke-width="0.6"/>
<circle cx="518" cy="159" r="1.8" fill="#70aeea" stroke="#4a80c8" stroke-width="0.6"/>
<circle cx="448.3" cy="170.4" r="2.4" fill="#98d0f8" stroke="#4a80c8" stroke-width="0.6"/>
<circle cx="418.1" cy="210.3" r="2" fill="#98d0f8" stroke="#4a80c8" stroke-width="0.6"/>
<circle cx="515.4" cy="193.4" r="2.3" fill="#4a86d0" stroke="#3a6cb8" stroke-width="0.6"/>
<circle cx="492" cy="173.1" r="2.5" fill="#5a98dc" stroke="#4a80c8" stroke-width="0.6"/>
<circle cx="497.1" cy="226.7" r="2.5" fill="#5a98dc" stroke="#4a80c8" stroke-width="0.6"/>
<circle cx="501.3" cy="232.7" r="2.1" fill="#98d0f8" stroke="#4a80c8" stroke-width="0.6"/>
<circle cx="394" cy="173.7" r="2.3" fill="#66a6e6" stroke="#4a80c8" stroke-width="0.6"/>
<circle cx="466.8" cy="183.3" r="2" fill="#70aeea" stroke="#3a6cb8" stroke-width="0.6"/>
<circle cx="464.4" cy="252.1" r="2.3" fill="#4a86d0" stroke="#4a80c8" stroke-width="0.6"/>
<circle cx="407.8" cy="250.3" r="2.1" fill="#98d0f8" stroke="#3a6cb8" stroke-width="0.6"/>
<circle cx="482.3" cy="238" r="1.8" fill="#4a86d0" stroke="#3a6cb8" stroke-width="0.6"/>
<circle cx="410" cy="184.2" r="2.1" fill="#4a86d0" stroke="#4a80c8" stroke-width="0.6"/>
<circle cx="513.4" cy="215.2" r="2.1" fill="#5a98dc" stroke="#3a6cb8" stroke-width="0.6"/>
<circle cx="516.5" cy="180.5" r="2.2" fill="#4a86d0" stroke="#4a80c8" stroke-width="0.6"/>
<circle cx="422.7" cy="214.6" r="2.5" fill="#70aeea" stroke="#4a80c8" stroke-width="0.6"/>
<circle cx="408.5" cy="224.7" r="2.6" fill="#70aeea" stroke="#4a80c8" stroke-width="0.6"/>
<circle cx="493.5" cy="245" r="1.9" fill="#66a6e6" stroke="#3a6cb8" stroke-width="0.6"/>
<circle cx="493.5" cy="191.7" r="2.1" fill="#70aeea" stroke="#3a6cb8" stroke-width="0.6"/>
<circle cx="463.6" cy="157.6" r="2.5" fill="#98d0f8" stroke="#3a6cb8" stroke-width="0.6"/>
<circle cx="485.9" cy="221.6" r="2.1" fill="#5a98dc" stroke="#3a6cb8" stroke-width="0.6"/>
<circle cx="411" cy="170.3" r="1.9" fill="#66a6e6" stroke="#3a6cb8" stroke-width="0.6"/>
<circle cx="437.4" cy="211.9" r="1.8" fill="#66a6e6" stroke="#4a80c8" stroke-width="0.6"/>
<circle cx="472.6" cy="223.8" r="2.5" fill="#86c2f4" stroke="#3a6cb8" stroke-width="0.6"/>
<circle cx="476.4" cy="236.4" r="2.6" fill="#98d0f8" stroke="#4a80c8" stroke-width="0.6"/>
<circle cx="517" cy="208.3" r="1.8" fill="#70aeea" stroke="#3a6cb8" stroke-width="0.6"/>
<circle cx="415.6" cy="175.1" r="2.1" fill="#86c2f4" stroke="#4a80c8" stroke-width="0.6"/>
<circle cx="484.7" cy="191.8" r="2.2" fill="#66a6e6" stroke="#3a6cb8" stroke-width="0.6"/>
<circle cx="443" cy="248.4" r="2.4" fill="#66a6e6" stroke="#4a80c8" stroke-width="0.6"/>
<circle cx="476.1" cy="163" r="2.6" fill="#66a6e6" stroke="#4a80c8" stroke-width="0.6"/>
<circle cx="434.4" cy="230.4" r="2.1" fill="#70aeea" stroke="#3a6cb8" stroke-width="0.6"/>
<circle cx="509.5" cy="181.4" r="2" fill="#98d0f8" stroke="#3a6cb8" stroke-width="0.6"/>
<circle cx="491.1" cy="219.2" r="2.1" fill="#86c2f4" stroke="#4a80c8" stroke-width="0.6"/>
<circle cx="425.9" cy="172.9" r="1.9" fill="#66a6e6" stroke="#4a80c8" stroke-width="0.6"/>
<circle cx="430.1" cy="189.5" r="2" fill="#70aeea" stroke="#4a80c8" stroke-width="0.6"/>
<circle cx="465.5" cy="233.8" r="1.9" fill="#5a98dc" stroke="#4a80c8" stroke-width="0.6"/>
<circle cx="452.1" cy="228" r="2.3" fill="#70aeea" stroke="#4a80c8" stroke-width="0.6"/>
<circle cx="433.1" cy="173.7" r="1.9" fill="#70aeea" stroke="#4a80c8" stroke-width="0.6"/>
<circle cx="512.1" cy="204.9" r="2.6" fill="#98d0f8" stroke="#3a6cb8" stroke-width="0.6"/>
<circle cx="448" cy="222.9" r="2.2" fill="#98d0f8" stroke="#4a80c8" stroke-width="0.6"/>
<circle cx="400.8" cy="186.5" r="2.5" fill="#98d0f8" stroke="#4a80c8" stroke-width="0.6"/>
<circle cx="468.8" cy="169.7" r="2.3" fill="#70aeea" stroke="#3a6cb8" stroke-width="0.6"/>
<circle cx="485.9" cy="211.9" r="1.9" fill="#86c2f4" stroke="#3a6cb8" stroke-width="0.6"/>
<circle cx="439.2" cy="241.1" r="2" fill="#70aeea" stroke="#3a6cb8" stroke-width="0.6"/>
<circle cx="504.2" cy="207.3" r="2" fill="#5a98dc" stroke="#3a6cb8" stroke-width="0.6"/>
<circle cx="401.9" cy="169.7" r="2.1" fill="#70aeea" stroke="#3a6cb8" stroke-width="0.6"/>
<circle cx="489.3" cy="247.3" r="2.6" fill="#5a98dc" stroke="#3a6cb8" stroke-width="0.6"/>
<circle cx="454.8" cy="165.8" r="2.4" fill="#66a6e6" stroke="#3a6cb8" stroke-width="0.6"/>
<circle cx="514.3" cy="198.3" r="1.8" fill="#86c2f4" stroke="#4a80c8" stroke-width="0.6"/>
<circle cx="434" cy="178.3" r="2.1" fill="#86c2f4" stroke="#3a6cb8" stroke-width="0.6"/>
<circle cx="400.7" cy="239.9" r="2.6" fill="#66a6e6" stroke="#4a80c8" stroke-width="0.6"/>
<circle cx="496.7" cy="178.3" r="2.5" fill="#5a98dc" stroke="#4a80c8" stroke-width="0.6"/>
<circle cx="481" cy="211.6" r="2.4" fill="#4a86d0" stroke="#3a6cb8" stroke-width="0.6"/>
<circle cx="443.8" cy="177.2" r="2.1" fill="#98d0f8" stroke="#4a80c8" stroke-width="0.6"/>
<circle cx="418.4" cy="170" r="1.9" fill="#98d0f8" stroke="#4a80c8" stroke-width="0.6"/>
<circle cx="469.9" cy="175.2" r="1.8" fill="#5a98dc" stroke="#3a6cb8" stroke-width="0.6"/>
<circle cx="408.9" cy="214.3" r="2.3" fill="#5a98dc" stroke="#3a6cb8" stroke-width="0.6"/>
<circle cx="497.4" cy="234.8" r="1.9" fill="#86c2f4" stroke="#4a80c8" stroke-width="0.6"/>
<circle cx="501.7" cy="224.6" r="2.4" fill="#4a86d0" stroke="#3a6cb8" stroke-width="0.6"/>
<circle cx="407.5" cy="158.9" r="1.9" fill="#66a6e6" stroke="#3a6cb8" stroke-width="0.6"/>
<circle cx="451.4" cy="182.6" r="1.8" fill="#5a98dc" stroke="#3a6cb8" stroke-width="0.6"/>
<circle cx="490.5" cy="215" r="2.1" fill="#98d0f8" stroke="#4a80c8" stroke-width="0.6"/>
<circle cx="394.4" cy="193.5" r="2" fill="#86c2f4" stroke="#4a80c8" stroke-width="0.6"/>
<circle cx="414.6" cy="183.8" r="2.5" fill="#98d0f8" stroke="#3a6cb8" stroke-width="0.6"/>
<circle cx="493.2" cy="206" r="2.5" fill="#70aeea" stroke="#3a6cb8" stroke-width="0.6"/>
<circle cx="424.7" cy="223.3" r="2.2" fill="#98d0f8" stroke="#4a80c8" stroke-width="0.6"/>
<circle cx="403.2" cy="164.4" r="1.8" fill="#98d0f8" stroke="#3a6cb8" stroke-width="0.6"/>
<circle cx="459.4" cy="251.8" r="2.2" fill="#98d0f8" stroke="#4a80c8" stroke-width="0.6"/>
<circle cx="491.4" cy="199.8" r="2.2" fill="#5a98dc" stroke="#3a6cb8" stroke-width="0.6"/>
<circle cx="493.5" cy="232" r="2.4" fill="#4a86d0" stroke="#3a6cb8" stroke-width="0.6"/>
<circle cx="461.9" cy="223.8" r="2.4" fill="#5a98dc" stroke="#3a6cb8" stroke-width="0.6"/>
<circle cx="428.5" cy="161" r="1.9" fill="#86c2f4" stroke="#3a6cb8" stroke-width="0.6"/>
<circle cx="439.6" cy="233.9" r="2.6" fill="#86c2f4" stroke="#4a80c8" stroke-width="0.6"/>
<circle cx="395.9" cy="186.1" r="2.1" fill="#4a86d0" stroke="#3a6cb8" stroke-width="0.6"/>
<circle cx="449.9" cy="200.3" r="2.2" fill="#98d0f8" stroke="#4a80c8" stroke-width="0.6"/>
<circle cx="407.6" cy="194.4" r="1.9" fill="#5a98dc" stroke="#3a6cb8" stroke-width="0.6"/>
<circle cx="484.4" cy="185.6" r="1.9" fill="#4a86d0" stroke="#3a6cb8" stroke-width="0.6"/>
<circle cx="444.2" cy="212.3" r="2" fill="#98d0f8" stroke="#4a80c8" stroke-width="0.6"/>
<circle cx="505.8" cy="194.1" r="2.5" fill="#86c2f4" stroke="#4a80c8" stroke-width="0.6"/>
<circle cx="505.2" cy="217.2" r="2.4" fill="#5a98dc" stroke="#4a80c8" stroke-width="0.6"/>
<circle cx="421.9" cy="240.2" r="2.1" fill="#98d0f8" stroke="#3a6cb8" stroke-width="0.6"/>
<circle cx="398.9" cy="222.5" r="2.2" fill="#70aeea" stroke="#4a80c8" stroke-width="0.6"/>
<circle cx="393.8" cy="181.5" r="2.5" fill="#5a98dc" stroke="#4a80c8" stroke-width="0.6"/>
<circle cx="456.6" cy="185.4" r="2.2" fill="#86c2f4" stroke="#4a80c8" stroke-width="0.6"/>
<circle cx="407.3" cy="172.8" r="1.9" fill="#70aeea" stroke="#3a6cb8" stroke-width="0.6"/>
<circle cx="409.3" cy="207.1" r="2.1" fill="#98d0f8" stroke="#3a6cb8" stroke-width="0.6"/>
<circle cx="505.3" cy="250.1" r="2.2" fill="#70aeea" stroke="#3a6cb8" stroke-width="0.6"/>
<circle cx="448.1" cy="160.8" r="1.9" fill="#5a98dc" stroke="#3a6cb8" stroke-width="0.6"/>
<circle cx="509" cy="209.5" r="2.5" fill="#86c2f4" stroke="#4a80c8" stroke-width="0.6"/>
<circle cx="413.4" cy="179.4" r="1.8" fill="#70aeea" stroke="#4a80c8" stroke-width="0.6"/>
<circle cx="479.8" cy="158.2" r="1.8" fill="#5a98dc" stroke="#3a6cb8" stroke-width="0.6"/>
<circle cx="407.9" cy="165.5" r="1.8" fill="#4a86d0" stroke="#4a80c8" stroke-width="0.6"/>
<circle cx="441.5" cy="225.7" r="2.1" fill="#70aeea" stroke="#4a80c8" stroke-width="0.6"/>
<circle cx="513.6" cy="224.8" r="2.4" fill="#66a6e6" stroke="#4a80c8" stroke-width="0.6"/>
<circle cx="403.4" cy="192.2" r="2.4" fill="#98d0f8" stroke="#3a6cb8" stroke-width="0.6"/>
<circle cx="476.4" cy="252.3" r="2.1" fill="#86c2f4" stroke="#4a80c8" stroke-width="0.6"/>
<circle cx="480.7" cy="225.2" r="2.2" fill="#98d0f8" stroke="#4a80c8" stroke-width="0.6"/>
<circle cx="508" cy="213.9" r="2.3" fill="#66a6e6" stroke="#3a6cb8" stroke-width="0.6"/>
<circle cx="416.2" cy="159.9" r="1.9" fill="#70aeea" stroke="#4a80c8" stroke-width="0.6"/>
<circle cx="486" cy="159.8" r="2.3" fill="#4a86d0" stroke="#4a80c8" stroke-width="0.6"/>
<circle cx="392.2" cy="229.1" r="1.9" fill="#5a98dc" stroke="#4a80c8" stroke-width="0.6"/>
<circle cx="506.6" cy="178" r="1.9" fill="#66a6e6" stroke="#3a6cb8" stroke-width="0.6"/>
<circle cx="436.7" cy="193.2" r="2.1" fill="#98d0f8" stroke="#4a80c8" stroke-width="0.6"/>
<circle cx="500.7" cy="201" r="2.6" fill="#5a98dc" stroke="#4a80c8" stroke-width="0.6"/>
<circle cx="501.1" cy="241.9" r="2.2" fill="#66a6e6" stroke="#3a6cb8" stroke-width="0.6"/>
<circle cx="403.7" cy="206" r="2.2" fill="#4a86d0" stroke="#4a80c8" stroke-width="0.6"/>
<circle cx="437.4" cy="192.9" r="2" fill="#24309a" stroke="#0a0e40" stroke-width="1.2"/>
<circle cx="503.4" cy="169.6" r="2.3" fill="#3044ae" stroke="#10144c" stroke-width="1.4"/>
<circle cx="458.2" cy="244.1" r="2.1" fill="#3044ae" stroke="#0a0e40" stroke-width="1.1"/>
<circle cx="390" cy="187.4" r="2" fill="#182066" stroke="#080a34" stroke-width="1.3"/>
<circle cx="483.5" cy="245.3" r="2.4" fill="#3044ae" stroke="#0a0e40" stroke-width="1.2"/>
<circle cx="462.5" cy="222.6" r="1.8" fill="#3044ae" stroke="#0a0e40" stroke-width="1.3"/>
<circle cx="436.1" cy="253.2" r="1.8" fill="#2a3ca6" stroke="#080a34" stroke-width="1.2"/>
<circle cx="438.2" cy="232.8" r="2.1" fill="#24309a" stroke="#0a0e40" stroke-width="1.5"/>
<circle cx="515.3" cy="159" r="2.2" fill="#24309a" stroke="#10144c" stroke-width="1.1"/>
<circle cx="496.1" cy="248.3" r="2.3" fill="#080c34"/>
<circle cx="480.6" cy="183.3" r="1.8" fill="#3044ae" stroke="#0a0e40" stroke-width="1.3"/>
<circle cx="455.4" cy="188.1" r="1.9" fill="#3044ae" stroke="#10144c" stroke-width="1.5"/>
<circle cx="469.2" cy="201.9" r="2.6" fill="#080c34"/>
<circle cx="445.8" cy="169.5" r="1.9" fill="#3044ae" stroke="#0a0e40" stroke-width="1.4"/>
<circle cx="460.6" cy="185" r="2.2" fill="#1e2a88" stroke="#0a0e40" stroke-width="1.1"/>
<circle cx="421.5" cy="238.8" r="2.3" fill="#182066" stroke="#080a34" stroke-width="1.1"/>
<circle cx="445" cy="250.6" r="2" fill="#24309a" stroke="#10144c" stroke-width="1.4"/>
<circle cx="498.3" cy="235.2" r="2.3" fill="#3044ae" stroke="#10144c" stroke-width="1.2"/>
<circle cx="409.5" cy="244.4" r="2.3" fill="#24309a" stroke="#080a34" stroke-width="1.3"/>
<circle cx="449.8" cy="163.8" r="2.6" fill="#080c34"/>
<circle cx="516.1" cy="223.6" r="1.9" fill="#182066" stroke="#0a0e40" stroke-width="1.4"/>
<circle cx="515" cy="166.4" r="1.8" fill="#2a3ca6" stroke="#10144c" stroke-width="1.2"/>
<circle cx="468" cy="168.2" r="2.3" fill="#24309a" stroke="#0a0e40" stroke-width="1.1"/>
<circle cx="481.3" cy="232.2" r="2.1" fill="#2a3ca6" stroke="#10144c" stroke-width="1.2"/>
<circle cx="486.5" cy="176" r="2" fill="#3044ae" stroke="#10144c" stroke-width="1.2"/>
<circle cx="517.6" cy="195.7" r="1.7" fill="#2a3ca6" stroke="#080a34" stroke-width="1.6"/>
<circle cx="450" cy="225.9" r="1.9" fill="#1e2a88" stroke="#080a34" stroke-width="1.2"/>
<circle cx="425.1" cy="185.4" r="1.8" fill="#1e2a88" stroke="#0a0e40" stroke-width="1.5"/>
<circle cx="417.4" cy="243.7" r="2.1" fill="#3044ae" stroke="#10144c" stroke-width="1.3"/>
<circle cx="436.6" cy="210.6" r="2.2" fill="#24309a" stroke="#10144c" stroke-width="1.3"/>
<circle cx="495" cy="212.6" r="1.9" fill="#182066" stroke="#10144c" stroke-width="1.3"/>
<circle cx="442.4" cy="177.2" r="1.8" fill="#3044ae" stroke="#080a34" stroke-width="1.2"/>
<circle cx="493.1" cy="234.3" r="1.8" fill="#3044ae" stroke="#0a0e40" stroke-width="1.3"/>
<circle cx="422.6" cy="165.8" r="2.6" fill="#0c103e"/>
<circle cx="391.6" cy="252.1" r="2.4" fill="#080c34"/>
<circle cx="475.5" cy="159.7" r="2.4" fill="#1e2a88" stroke="#10144c" stroke-width="1.4"/>
<circle cx="478.7" cy="174.9" r="2.7" fill="#05082a"/>
<circle cx="421.3" cy="177.5" r="2.3" fill="#24309a" stroke="#0a0e40" stroke-width="1.2"/>
<circle cx="398.2" cy="244.7" r="2.1" fill="#1e2a88" stroke="#080a34" stroke-width="1.3"/>
<circle cx="463.7" cy="226.8" r="2.2" fill="#2a3ca6" stroke="#10144c" stroke-width="1.2"/>
<circle cx="506.8" cy="165" r="2.5" fill="#05082a"/>
<circle cx="506.7" cy="200.6" r="2.2" fill="#080c34"/>
<circle cx="517.4" cy="252.7" r="2" fill="#24309a" stroke="#0a0e40" stroke-width="1.3"/>
<circle cx="440.2" cy="213.3" r="2" fill="#182066" stroke="#080a34" stroke-width="1.1"/>
<circle cx="407.4" cy="225.9" r="1.7" fill="#1e2a88" stroke="#0a0e40" stroke-width="1.5"/>
<circle cx="403.4" cy="190.9" r="2.2" fill="#24309a" stroke="#0a0e40" stroke-width="1.2"/>
<circle cx="461.8" cy="242.7" r="2.8" fill="#05082a"/>
<circle cx="427.8" cy="213.2" r="2.1" fill="#2a3ca6" stroke="#0a0e40" stroke-width="1.3"/>
<circle cx="401.5" cy="248.6" r="2.2" fill="#2a3ca6" stroke="#080a34" stroke-width="1"/>
<circle cx="488.9" cy="206" r="2.3" fill="#24309a" stroke="#10144c" stroke-width="1.2"/>
<circle cx="510.6" cy="214.3" r="2.1" fill="#3044ae" stroke="#10144c" stroke-width="1.6"/>
<circle cx="498.9" cy="188.4" r="1.8" fill="#1e2a88" stroke="#10144c" stroke-width="1.5"/>
<circle cx="454.4" cy="161.3" r="1.8" fill="#24309a" stroke="#0a0e40" stroke-width="1.1"/>
<circle cx="474.9" cy="206.6" r="2.4" fill="#0c103e"/>
<circle cx="410.5" cy="197.5" r="2.4" fill="#1e2a88" stroke="#0a0e40" stroke-width="1.1"/>
<circle cx="409.5" cy="201.8" r="1.9" fill="#1e2a88" stroke="#0a0e40" stroke-width="1.5"/>
<circle cx="455.5" cy="175.4" r="1.6" fill="#24309a" stroke="#0a0e40" stroke-width="1.2"/>
<circle cx="397.1" cy="201" r="2.3" fill="#182066" stroke="#10144c" stroke-width="1.3"/>
<circle cx="452.3" cy="239.2" r="2.1" fill="#182066" stroke="#0a0e40" stroke-width="1.1"/>
<circle cx="509.3" cy="250.2" r="2" fill="#2a3ca6" stroke="#10144c" stroke-width="1.2"/>
<circle cx="438.4" cy="201.7" r="2.1" fill="#24309a" stroke="#080a34" stroke-width="1.2"/>
<circle cx="509.9" cy="245.1" r="2.9" fill="#05082a"/>
<circle cx="431.4" cy="222" r="2.4" fill="#3044ae" stroke="#080a34" stroke-width="1.4"/>
<circle cx="505.1" cy="250.3" r="2.2" fill="#0c103e"/>
<circle cx="471.1" cy="219.2" r="2.4" fill="#3044ae" stroke="#10144c" stroke-width="1.4"/>
<circle cx="427.3" cy="207.9" r="2.2" fill="#080c34"/>
<circle cx="393" cy="177.5" r="2.1" fill="#24309a" stroke="#0a0e40" stroke-width="1.3"/>
<circle cx="510.6" cy="187.9" r="2.5" fill="#05082a"/>
<circle cx="454" cy="250.2" r="2.2" fill="#182066" stroke="#0a0e40" stroke-width="1.2"/>
<circle cx="452" cy="186.2" r="2.1" fill="#1e2a88" stroke="#0a0e40" stroke-width="1.5"/>
<circle cx="439.7" cy="221.5" r="2" fill="#24309a" stroke="#10144c" stroke-width="1"/>
<circle cx="461.8" cy="253.4" r="2.7" fill="#05082a"/>
<circle cx="433.2" cy="233.3" r="2.1" fill="#182066" stroke="#0a0e40" stroke-width="1"/>
<circle cx="469.6" cy="229.4" r="2.4" fill="#2a3ca6" stroke="#080a34" stroke-width="1.3"/>
<circle cx="428.4" cy="229.5" r="1.8" fill="#3044ae" stroke="#080a34" stroke-width="1.5"/>
<circle cx="451.5" cy="190.2" r="2.8" fill="#080c34"/>
<circle cx="404.4" cy="185.8" r="2.6" fill="#05082a"/>
<circle cx="497" cy="207.2" r="1.7" fill="#24309a" stroke="#080a34" stroke-width="1.3"/>
<circle cx="465.8" cy="214.1" r="2" fill="#2a3ca6" stroke="#080a34" stroke-width="1.3"/>
<circle cx="415.7" cy="203.3" r="2.7" fill="#080c34"/>
<circle cx="400.7" cy="225.3" r="2.3" fill="#3044ae" stroke="#080a34" stroke-width="1.2"/>
<circle cx="509.8" cy="209.5" r="2.1" fill="#2a3ca6" stroke="#080a34" stroke-width="1.1"/>
<circle cx="453.8" cy="166.1" r="2.2" fill="#2a3ca6" stroke="#080a34" stroke-width="1.1"/>
<circle cx="432.8" cy="214.7" r="2.2" fill="#24309a" stroke="#10144c" stroke-width="1.5"/>
<circle cx="505.4" cy="186.3" r="2.1" fill="#1e2a88" stroke="#0a0e40" stroke-width="1.6"/>
<circle cx="428.5" cy="201.3" r="2.3" fill="#182066" stroke="#0a0e40" stroke-width="1.5"/>
<circle cx="416.3" cy="237.3" r="1.9" fill="#1e2a88" stroke="#080a34" stroke-width="1.6"/>
<circle cx="476.1" cy="244.8" r="1.9" fill="#3044ae" stroke="#0a0e40" stroke-width="1.4"/>
<circle cx="472" cy="214.5" r="2" fill="#1e2a88" stroke="#10144c" stroke-width="1.1"/>
<circle cx="411.5" cy="249" r="2" fill="#182066" stroke="#0a0e40" stroke-width="1.3"/>
<circle cx="483.3" cy="190.1" r="2.4" fill="#2a3ca6" stroke="#080a34" stroke-width="1.2"/>
<circle cx="408.4" cy="175.5" r="2.4" fill="#3044ae" stroke="#080a34" stroke-width="1.5"/>
<circle cx="448.5" cy="237.7" r="2.9" fill="#0c103e"/>
<circle cx="474.2" cy="210.4" r="2.3" fill="#182066" stroke="#10144c" stroke-width="1"/>
<circle cx="483" cy="168.9" r="2.2" fill="#182066" stroke="#10144c" stroke-width="1.4"/>
<circle cx="428.7" cy="194.2" r="2.8" fill="#080c34"/>
<circle cx="454.4" cy="227.5" r="1.8" fill="#24309a" stroke="#0a0e40" stroke-width="1.6"/>
<circle cx="443.3" cy="245.7" r="2.3" fill="#3044ae" stroke="#10144c" stroke-width="1.3"/>
<circle cx="494.8" cy="176.2" r="1.7" fill="#2a3ca6" stroke="#0a0e40" stroke-width="1.1"/>
<circle cx="478.5" cy="202.3" r="2.8" fill="#080c34"/>
<circle cx="405" cy="244.8" r="1.7" fill="#24309a" stroke="#10144c" stroke-width="1.3"/>
<circle cx="464.1" cy="189.8" r="1.7" fill="#1e2a88" stroke="#10144c" stroke-width="1.4"/>
<circle cx="396.7" cy="229.7" r="2.1" fill="#182066" stroke="#080a34" stroke-width="1.6"/>
<circle cx="460.6" cy="196.3" r="2.4" fill="#05082a"/>
<circle cx="507.9" cy="229.8" r="2.3" fill="#3044ae" stroke="#0a0e40" stroke-width="1.1"/>
<circle cx="514.5" cy="215.6" r="2.2" fill="#0c103e"/>
<circle cx="475.6" cy="251.4" r="1.7" fill="#1e2a88" stroke="#0a0e40" stroke-width="1.6"/>
<circle cx="429.3" cy="236.5" r="2" fill="#182066" stroke="#10144c" stroke-width="1.5"/>
<circle cx="491" cy="175.9" r="2" fill="#3044ae" stroke="#0a0e40" stroke-width="1.5"/>
<circle cx="404.9" cy="201.5" r="2.4" fill="#182066" stroke="#080a34" stroke-width="1.2"/>
<circle cx="409.8" cy="233.1" r="2.5" fill="#080c34"/>
<circle cx="512.3" cy="206" r="2.3" fill="#2a3ca6" stroke="#10144c" stroke-width="1.5"/>
<circle cx="483.5" cy="225.8" r="2.5" fill="#080c34"/>
<circle cx="471.6" cy="161.6" r="1.7" fill="#2a3ca6" stroke="#080a34" stroke-width="1.3"/>
<circle cx="431.8" cy="203.5" r="2.1" fill="#1e2a88" stroke="#10144c" stroke-width="1.3"/>
<circle cx="475.6" cy="233.9" r="1.9" fill="#182066" stroke="#10144c" stroke-width="1.6"/>
<circle cx="488.9" cy="233.3" r="2" fill="#24309a" stroke="#0a0e40" stroke-width="1.5"/>
<circle cx="495.4" cy="224.5" r="1.7" fill="#3044ae" stroke="#080a34" stroke-width="1.3"/>
<circle cx="444.4" cy="237.1" r="2.5" fill="#080c34"/>
<circle cx="516.3" cy="207.3" r="1.9" fill="#24309a" stroke="#080a34" stroke-width="1.4"/>
<circle cx="513.1" cy="196.7" r="2.3" fill="#182066" stroke="#0a0e40" stroke-width="1.2"/>
<circle cx="436.6" cy="181" r="2.4" fill="#05082a"/>
<circle cx="512.2" cy="236" r="1.7" fill="#3044ae" stroke="#10144c" stroke-width="1.1"/>
<circle cx="458" cy="234.2" r="2.8" fill="#080c34"/>
<circle cx="504.7" cy="193.2" r="2.3" fill="#182066" stroke="#0a0e40" stroke-width="1.5"/>
<circle cx="471.3" cy="198.7" r="1.8" fill="#2a3ca6" stroke="#0a0e40" stroke-width="1.4"/>
<circle cx="499.2" cy="175.2" r="2.2" fill="#182066" stroke="#0a0e40" stroke-width="1.3"/>
<circle cx="502.7" cy="159.3" r="2" fill="#24309a" stroke="#0a0e40" stroke-width="1.2"/>
<circle cx="517.9" cy="173.3" r="1.9" fill="#182066" stroke="#0a0e40" stroke-width="1.4"/>
<circle cx="391.8" cy="204.7" r="1.8" fill="#24309a" stroke="#080a34" stroke-width="1.2"/>
<circle cx="443.4" cy="193.9" r="1.7" fill="#24309a" stroke="#10144c" stroke-width="1.3"/>
<circle cx="466.2" cy="160.9" r="1.8" fill="#24309a" stroke="#10144c" stroke-width="1.3"/>
<circle cx="495.6" cy="169" r="1.8" fill="#3044ae" stroke="#10144c" stroke-width="1.2"/>
<circle cx="410.7" cy="206.4" r="2.3" fill="#182066" stroke="#0a0e40" stroke-width="1.6"/>
<circle cx="420.1" cy="251.5" r="2.1" fill="#3044ae" stroke="#0a0e40" stroke-width="1.3"/>
<circle cx="500.6" cy="179.8" r="1.7" fill="#2a3ca6" stroke="#080a34" stroke-width="1.5"/>
<circle cx="420.2" cy="173.8" r="2.2" fill="#080c34"/>
<circle cx="443.5" cy="197.8" r="2.1" fill="#05082a"/>
<circle cx="446" cy="218.4" r="2" fill="#3044ae" stroke="#080a34" stroke-width="1"/>
<circle cx="466.4" cy="206.4" r="2" fill="#3044ae" stroke="#0a0e40" stroke-width="1.2"/>
<circle cx="392.1" cy="238.3" r="2.5" fill="#080c34"/>
<circle cx="498.2" cy="252.2" r="1.9" fill="#24309a" stroke="#10144c" stroke-width="1.6"/>
<circle cx="424.1" cy="191" r="2" fill="#3044ae" stroke="#080a34" stroke-width="1"/>
<circle cx="473.1" cy="227.7" r="2" fill="#1e2a88" stroke="#080a34" stroke-width="1.3"/>
<circle cx="397.4" cy="209.8" r="1.9" fill="#1e2a88" stroke="#080a34" stroke-width="1.5"/>
<circle cx="391.8" cy="209.3" r="2" fill="#2a3ca6" stroke="#080a34" stroke-width="1.2"/>
<circle cx="422.1" cy="229.6" r="2" fill="#24309a" stroke="#0a0e40" stroke-width="1.4"/>
<circle cx="482.1" cy="221.8" r="2.3" fill="#24309a" stroke="#080a34" stroke-width="1.3"/>
<circle cx="409.5" cy="183.7" r="2" fill="#24309a" stroke="#080a34" stroke-width="1.3"/>
<circle cx="458.9" cy="158.5" r="2.2" fill="#3044ae" stroke="#080a34" stroke-width="1.3"/>
<circle cx="424.2" cy="216.4" r="2.3" fill="#2a3ca6" stroke="#10144c" stroke-width="1.5"/>
<circle cx="497.3" cy="217.7" r="1.8" fill="#1e2a88" stroke="#10144c" stroke-width="1.5"/>
<circle cx="509.5" cy="194.9" r="1.8" fill="#3044ae" stroke="#0a0e40" stroke-width="1.4"/>
<circle cx="459.3" cy="178.3" r="2.1" fill="#1e2a88" stroke="#10144c" stroke-width="1.5"/>
<circle cx="488.4" cy="183.6" r="2.3" fill="#182066" stroke="#10144c" stroke-width="1.5"/>
<circle cx="475.1" cy="221.7" r="2.1" fill="#24309a" stroke="#0a0e40" stroke-width="1.3"/>
<circle cx="435.7" cy="239.7" r="2.1" fill="#3044ae" stroke="#0a0e40" stroke-width="1.2"/>
<circle cx="510.6" cy="239.6" r="2.3" fill="#3044ae" stroke="#080a34" stroke-width="1.2"/>
<circle cx="433.5" cy="161.3" r="2.4" fill="#1e2a88" stroke="#0a0e40" stroke-width="1.1"/>
<circle cx="415.6" cy="226.7" r="1.6" fill="#24309a" stroke="#0a0e40" stroke-width="1.2"/>
<circle cx="440.9" cy="189.5" r="2.3" fill="#1e2a88" stroke="#10144c" stroke-width="1.4"/>
<circle cx="483.3" cy="238.5" r="2.1" fill="#182066" stroke="#080a34" stroke-width="1.6"/>
<circle cx="413.3" cy="185.2" r="1.7" fill="#24309a" stroke="#10144c" stroke-width="1.1"/>
<circle cx="486.3" cy="171.4" r="2" fill="#2a3ca6" stroke="#0a0e40" stroke-width="1.1"/>
<circle cx="400.5" cy="198.2" r="2.3" fill="#1e2a88" stroke="#0a0e40" stroke-width="1.1"/>
<circle cx="399.6" cy="240.5" r="1.9" fill="#1e2a88" stroke="#080a34" stroke-width="1.4"/>
<circle cx="442.1" cy="225.9" r="2.4" fill="#080c34"/>
<circle cx="404.6" cy="209" r="2.1" fill="#24309a" stroke="#0a0e40" stroke-width="1.3"/>
<circle cx="450.5" cy="180.1" r="2.1" fill="#3044ae" stroke="#080a34" stroke-width="1.4"/>
<circle cx="513.7" cy="228.2" r="2" fill="#3044ae" stroke="#080a34" stroke-width="1.4"/>
<circle cx="484.1" cy="217.8" r="1.8" fill="#3044ae" stroke="#0a0e40" stroke-width="1.3"/>
<circle cx="403.5" cy="221.8" r="1.7" fill="#1e2a88" stroke="#0a0e40" stroke-width="1.5"/>
<circle cx="451.3" cy="197.5" r="2.7" fill="#0c103e"/>
<circle cx="505.6" cy="238.9" r="1.7" fill="#182066" stroke="#0a0e40" stroke-width="1.2"/>
<circle cx="501.6" cy="246" r="2.6" fill="#0c103e"/>
<circle cx="504.1" cy="213.7" r="2.4" fill="#2a3ca6" stroke="#10144c" stroke-width="1.3"/>
<circle cx="423.7" cy="209.5" r="2" fill="#1e2a88" stroke="#080a34" stroke-width="1.3"/>
<circle cx="405.9" cy="232" r="2.1" fill="#3044ae" stroke="#080a34" stroke-width="1"/>
<circle cx="471" cy="191.5" r="2.3" fill="#24309a" stroke="#0a0e40" stroke-width="1.4"/>
<circle cx="454.5" cy="170.9" r="1.9" fill="#182066" stroke="#10144c" stroke-width="1.2"/>
<circle cx="434.5" cy="198.1" r="2.2" fill="#182066" stroke="#0a0e40" stroke-width="1.1"/>
<circle cx="463.9" cy="235.1" r="2.2" fill="#1e2a88" stroke="#10144c" stroke-width="1.5"/>
<circle cx="415.4" cy="171.2" r="2.2" fill="#182066" stroke="#0a0e40" stroke-width="1.2"/>
<circle cx="407.6" cy="180.4" r="2.2" fill="#24309a" stroke="#0a0e40" stroke-width="1.5"/>
<circle cx="427.5" cy="160.1" r="2" fill="#3044ae" stroke="#10144c" stroke-width="1.5"/>
<circle cx="401.1" cy="205" r="2.8" fill="#080c34"/>
<circle cx="488.1" cy="215.4" r="2.4" fill="#182066" stroke="#0a0e40" stroke-width="1.5"/>
<circle cx="490.2" cy="193.7" r="2" fill="#3044ae" stroke="#10144c" stroke-width="1.5"/>
<circle cx="489.6" cy="242.4" r="2.4" fill="#1e2a88" stroke="#0a0e40" stroke-width="1.2"/>
<circle cx="421.9" cy="197.2" r="2.9" fill="#080c34"/>
<circle cx="413.3" cy="217" r="2.2" fill="#2a3ca6" stroke="#080a34" stroke-width="1.4"/>
<circle cx="417.3" cy="218.7" r="2.6" fill="#080c34"/>
<circle cx="438.4" cy="169.3" r="2.2" fill="#1e2a88" stroke="#080a34" stroke-width="1.2"/>
<circle cx="419.1" cy="161.5" r="2.3" fill="#2a3ca6" stroke="#10144c" stroke-width="1.1"/>
<circle cx="512.2" cy="169.1" r="2.1" fill="#3044ae" stroke="#080a34" stroke-width="1.5"/>
<circle cx="398.1" cy="182.3" r="2.1" fill="#182066" stroke="#080a34" stroke-width="1.3"/>
<circle cx="454.6" cy="204.9" r="2.2" fill="#3044ae" stroke="#0a0e40" stroke-width="1.3"/>
<circle cx="398.3" cy="216.5" r="2.2" fill="#1e2a88" stroke="#080a34" stroke-width="1.5"/>
<circle cx="446.5" cy="189" r="1.8" fill="#2a3ca6" stroke="#080a34" stroke-width="1.6"/>
<circle cx="513.5" cy="249.1" r="2.4" fill="#2a3ca6" stroke="#0a0e40" stroke-width="1.4"/>
<circle cx="405.9" cy="237.4" r="1.8" fill="#182066" stroke="#080a34" stroke-width="1.5"/>
<circle cx="399.7" cy="192" r="1.8" fill="#1e2a88" stroke="#080a34" stroke-width="1.3"/>
<circle cx="472.4" cy="165.4" r="1.6" fill="#24309a" stroke="#080a34" stroke-width="1.1"/>
<circle cx="391.4" cy="230.7" r="1.8" fill="#182066" stroke="#10144c" stroke-width="1.6"/>
<circle cx="403.7" cy="175.8" r="2.2" fill="#24309a" stroke="#10144c" stroke-width="1.4"/>
<circle cx="446.5" cy="230.3" r="2.2" fill="#1e2a88" stroke="#10144c" stroke-width="1.2"/>
<circle cx="400.2" cy="187.2" r="1.7" fill="#1e2a88" stroke="#0a0e40" stroke-width="1.3"/>
<circle cx="415.6" cy="211.2" r="1.6" fill="#182066" stroke="#0a0e40" stroke-width="1.4"/>
<circle cx="413.6" cy="189.3" r="1.8" fill="#3044ae" stroke="#0a0e40" stroke-width="1.6"/>
<circle cx="468.3" cy="210.4" r="2.3" fill="#24309a" stroke="#0a0e40" stroke-width="1"/>
<circle cx="488.9" cy="247.7" r="2.3" fill="#182066" stroke="#0a0e40" stroke-width="1.5"/>
<circle cx="393" cy="218.1" r="1.8" fill="#24309a" stroke="#0a0e40" stroke-width="1.4"/>
<circle cx="459.3" cy="202.4" r="1.9" fill="#182066" stroke="#0a0e40" stroke-width="1.4"/>
<circle cx="474.5" cy="172.7" r="1.7" fill="#24309a" stroke="#080a34" stroke-width="1.5"/>
<circle cx="406.7" cy="193.6" r="1.9" fill="#3044ae" stroke="#0a0e40" stroke-width="1.1"/>
<circle cx="441.7" cy="241.3" r="1.8" fill="#3044ae" stroke="#10144c" stroke-width="1.1"/>
<circle cx="425.8" cy="168" r="2.2" fill="#1e2a88" stroke="#080a34" stroke-width="1.2"/>
<circle cx="417.6" cy="187.2" r="1.9" fill="#1e2a88" stroke="#0a0e40" stroke-width="1.3"/>
<circle cx="408.1" cy="189" r="2.2" fill="#1e2a88" stroke="#0a0e40" stroke-width="1.1"/>
<circle cx="461.5" cy="163.8" r="1.8" fill="#2a3ca6" stroke="#080a34" stroke-width="1"/>
<circle cx="497.6" cy="201" r="2.2" fill="#080c34"/>
<circle cx="492.2" cy="218.6" r="1.7" fill="#182066" stroke="#0a0e40" stroke-width="1"/>
<circle cx="395.7" cy="192.9" r="2.3" fill="#1e2a88" stroke="#080a34" stroke-width="1.4"/>
<circle cx="442" cy="170.7" r="1.8" fill="#1e2a88" stroke="#10144c" stroke-width="1.5"/>
<circle cx="488.6" cy="163.4" r="2.2" fill="#3044ae" stroke="#0a0e40" stroke-width="1.5"/>
<circle cx="504.3" cy="234.7" r="1.8" fill="#24309a" stroke="#10144c" stroke-width="1.5"/>
<circle cx="484.4" cy="253.6" r="2.1" fill="#24309a" stroke="#10144c" stroke-width="1.4"/>
<circle cx="491.6" cy="171" r="1.7" fill="#182066" stroke="#080a34" stroke-width="1"/>
<circle cx="471.9" cy="252.8" r="2.1" fill="#05082a"/>
<circle cx="444.1" cy="203.2" r="2.3" fill="#2a3ca6" stroke="#080a34" stroke-width="1.6"/>
<circle cx="390.8" cy="242.2" r="2.1" fill="#24309a" stroke="#0a0e40" stroke-width="1.6"/>
<circle cx="426.8" cy="219.9" r="2.3" fill="#24309a" stroke="#10144c" stroke-width="1.5"/>
<circle cx="406.2" cy="197.7" r="2.2" fill="#3044ae" stroke="#10144c" stroke-width="1.4"/>
<circle cx="435.3" cy="173.7" r="1.9" fill="#3044ae" stroke="#0a0e40" stroke-width="1.3"/>
<circle cx="426.8" cy="233" r="2.3" fill="#05082a"/>
<circle cx="501.9" cy="253" r="1.7" fill="#24309a" stroke="#080a34" stroke-width="1.6"/>
<circle cx="442.7" cy="231.5" r="1.7" fill="#3044ae" stroke="#10144c" stroke-width="1.4"/>
<circle cx="473.1" cy="179" r="2.3" fill="#182066" stroke="#10144c" stroke-width="1.5"/>
<circle cx="462.5" cy="218.6" r="1.7" fill="#1e2a88" stroke="#0a0e40" stroke-width="1.3"/>
<circle cx="476.5" cy="198.1" r="1.8" fill="#2a3ca6" stroke="#10144c" stroke-width="1.1"/>
<circle cx="471.6" cy="247.2" r="2" fill="#182066" stroke="#10144c" stroke-width="1.1"/>
<circle cx="443.9" cy="184.8" r="2" fill="#2a3ca6" stroke="#10144c" stroke-width="1.4"/>
<circle cx="487.9" cy="221" r="2.2" fill="#2a3ca6" stroke="#10144c" stroke-width="1"/>
<circle cx="491.1" cy="186.4" r="2.8" fill="#080c34"/>
<circle cx="431.6" cy="188.1" r="2.3" fill="#3044ae" stroke="#10144c" stroke-width="1.1"/>
<circle cx="503.1" cy="197.9" r="1.6" fill="#2a3ca6" stroke="#080a34" stroke-width="1.4"/>
<circle cx="401.9" cy="230.6" r="1.8" fill="#2a3ca6" stroke="#0a0e40" stroke-width="1.6"/>
<circle cx="434.8" cy="165.9" r="1.7" fill="#2a3ca6" stroke="#080a34" stroke-width="1.1"/>
<circle cx="460" cy="211" r="1.6" fill="#2a3ca6" stroke="#10144c" stroke-width="1.3"/>
<circle cx="460.4" cy="238.8" r="1.7" fill="#3044ae" stroke="#080a34" stroke-width="1.1"/>
<circle cx="462.3" cy="207.5" r="2.4" fill="#0c103e"/>
<circle cx="480.9" cy="179.4" r="2" fill="#1e2a88" stroke="#0a0e40" stroke-width="1.2"/>
<circle cx="508.8" cy="181.2" r="1.7" fill="#2a3ca6" stroke="#10144c" stroke-width="1.3"/>
<circle cx="476" cy="164.3" r="2" fill="#2a3ca6" stroke="#080a34" stroke-width="1.4"/>
<circle cx="392.5" cy="190.4" r="1.8" fill="#2a3ca6" stroke="#0a0e40" stroke-width="1"/>
<circle cx="507.4" cy="171.5" r="1.7" fill="#3044ae" stroke="#080a34" stroke-width="1.2"/>
<circle cx="419.6" cy="203.2" r="2.2" fill="#182066" stroke="#0a0e40" stroke-width="1.3"/>
<circle cx="450.8" cy="221.6" r="1.9" fill="#2a3ca6" stroke="#0a0e40" stroke-width="1.2"/>
<circle cx="401" cy="235.4" r="2.2" fill="#05082a"/>
<circle cx="397.4" cy="177.8" r="2.4" fill="#182066" stroke="#0a0e40" stroke-width="1.4"/>
<circle cx="425.4" cy="248.4" r="2.1" fill="#3044ae" stroke="#080a34" stroke-width="1.3"/>
<circle cx="411" cy="239.2" r="1.9" fill="#3044ae" stroke="#0a0e40" stroke-width="1.2"/>
<circle cx="457.3" cy="222.6" r="2.2" fill="#3044ae" stroke="#0a0e40" stroke-width="1.2"/>
<circle cx="435.6" cy="245.1" r="2.2" fill="#182066" stroke="#10144c" stroke-width="1"/>
<circle cx="418.3" cy="165.8" r="2.5" fill="#080c34"/>
<circle cx="393.3" cy="248.7" r="2.3" fill="#3044ae" stroke="#080a34" stroke-width="1.5"/>
<circle cx="491.4" cy="251.6" r="2" fill="#2a3ca6" stroke="#10144c" stroke-width="1.1"/>
<circle cx="451.8" cy="246" r="2.2" fill="#24309a" stroke="#0a0e40" stroke-width="1.4"/>
<circle cx="474.6" cy="239" r="1.9" fill="#1e2a88" stroke="#0a0e40" stroke-width="1"/>
<circle cx="498.7" cy="231.4" r="2.1" fill="#3044ae" stroke="#10144c" stroke-width="1.3"/>
<circle cx="447" cy="243.5" r="2" fill="#1e2a88" stroke="#10144c" stroke-width="1"/>
<circle cx="477.6" cy="228.5" r="1.8" fill="#182066" stroke="#0a0e40" stroke-width="1.1"/>
<circle cx="450.6" cy="169.8" r="2.1" fill="#1e2a88" stroke="#080a34" stroke-width="1.2"/>
<circle cx="457.9" cy="165" r="2.8" fill="#0c103e"/>
<circle cx="390.6" cy="198.3" r="2.2" fill="#24309a" stroke="#080a34" stroke-width="1.2"/>
<circle cx="459.9" cy="248.7" r="2.1" fill="#05082a"/>
<circle cx="425.1" cy="181.2" r="1.8" fill="#24309a" stroke="#0a0e40" stroke-width="1.4"/>
<circle cx="480.2" cy="241.8" r="1.8" fill="#182066" stroke="#0a0e40" stroke-width="1.5"/>
<circle cx="418.4" cy="247.4" r="2.3" fill="#24309a" stroke="#080a34" stroke-width="1.1"/>
<circle cx="459" cy="191.4" r="2.4" fill="#3044ae" stroke="#0a0e40" stroke-width="1.1"/>
<circle cx="515" cy="241.4" r="1.9" fill="#3044ae" stroke="#0a0e40" stroke-width="1.4"/>
<circle cx="468.3" cy="237.7" r="1.8" fill="#24309a" stroke="#080a34" stroke-width="1"/>
<circle cx="489.2" cy="179.8" r="2.4" fill="#05082a"/>
<circle cx="479.5" cy="215.8" r="1.8" fill="#2a3ca6" stroke="#0a0e40" stroke-width="1.5"/>
<circle cx="402.6" cy="181.5" r="1.6" fill="#182066" stroke="#0a0e40" stroke-width="1.4"/>
<circle cx="517.5" cy="187.6" r="1.8" fill="#1e2a88" stroke="#0a0e40" stroke-width="1.1"/>
<circle cx="501.8" cy="185.1" r="2" fill="#2a3ca6" stroke="#080a34" stroke-width="1.1"/>
<circle cx="431.3" cy="209" r="2.2" fill="#24309a" stroke="#10144c" stroke-width="1.3"/>
<circle cx="447" cy="173.3" r="2.4" fill="#2a3ca6" stroke="#080a34" stroke-width="1.2"/>
<circle cx="441.7" cy="218" r="1.6" fill="#24309a" stroke="#080a34" stroke-width="1.2"/>
<circle cx="395.8" cy="205.7" r="1.6" fill="#182066" stroke="#0a0e40" stroke-width="1.3"/>
<circle cx="487.4" cy="234.8" r="0.9" fill="#6a3a8a"/>
<circle cx="481.2" cy="210" r="0.6" fill="#6a3a8a"/>
<circle cx="398.7" cy="195.1" r="0.7" fill="#6a3a8a"/>
<circle cx="508.2" cy="160.5" r="0.8" fill="#6a3a8a"/>
<circle cx="415.1" cy="206.3" r="0.8" fill="#6a3a8a"/>
<circle cx="417.1" cy="192.2" r="0.7" fill="#6a3a8a"/>
<circle cx="398.1" cy="182" r="0.6" fill="#6a3a8a"/>
<circle cx="417.1" cy="246.2" r="0.7" fill="#6a3a8a"/>
<circle cx="447.1" cy="240.9" r="0.8" fill="#6a3a8a"/>
<circle cx="444.5" cy="170.6" r="0.6" fill="#6a3a8a"/>
<circle cx="446.6" cy="193.2" r="0.7" fill="#6a3a8a"/>
<circle cx="469.2" cy="243.8" r="0.6" fill="#6a3a8a"/>
<circle cx="447" cy="221.2" r="0.8" fill="#6a3a8a"/>
<circle cx="480.3" cy="206" r="0.6" fill="#6a3a8a"/>
<circle cx="418.5" cy="166" r="0.5" fill="#6a3a8a"/>
<circle cx="421.5" cy="180.9" r="0.5" fill="#6a3a8a"/>
<circle cx="496" cy="233.1" r="0.7" fill="#6a3a8a"/>
<circle cx="438.4" cy="169.9" r="0.8" fill="#6a3a8a"/>
<circle cx="471.4" cy="195.6" r="0.6" fill="#6a3a8a"/>
<circle cx="517.5" cy="189.6" r="0.6" fill="#6a3a8a"/>
<circle cx="476.9" cy="196.9" r="0.7" fill="#6a3a8a"/>
<circle cx="462.6" cy="203.8" r="0.5" fill="#6a3a8a"/>
<circle cx="402.3" cy="159.2" r="0.9" fill="#6a3a8a"/>
<circle cx="506.7" cy="253.3" r="0.6" fill="#6a3a8a"/>
<circle cx="436.8" cy="189.9" r="0.8" fill="#6a3a8a"/>
<circle cx="459.6" cy="253.8" r="0.8" fill="#6a3a8a"/>
<circle cx="457.7" cy="209.2" r="0.7" fill="#6a3a8a"/>
<circle cx="438.8" cy="217.9" r="0.9" fill="#6a3a8a"/>
<circle cx="457.5" cy="167.2" r="0.6" fill="#6a3a8a"/>
<circle cx="510.8" cy="201.6" r="0.8" fill="#6a3a8a"/>
<circle cx="430.7" cy="223.4" r="0.9" fill="#6a3a8a"/>
<circle cx="447.2" cy="180.1" r="0.9" fill="#6a3a8a"/>
<circle cx="442.2" cy="233.5" r="0.8" fill="#6a3a8a"/>
<circle cx="435.7" cy="201.2" r="0.6" fill="#6a3a8a"/>
<circle cx="432.3" cy="164.4" r="0.6" fill="#6a3a8a"/>
<circle cx="399.6" cy="218.8" r="0.7" fill="#6a3a8a"/>
<circle cx="476.8" cy="249" r="0.8" fill="#6a3a8a"/>
<circle cx="477.1" cy="243.7" r="0.7" fill="#6a3a8a"/>
<circle cx="463.1" cy="167.4" r="0.7" fill="#6a3a8a"/>
<circle cx="470.2" cy="226.5" r="0.5" fill="#6a3a8a"/>
</g>
</g>
<rect x="389.35" y="157.5" width="128.95" height="96.7" fill="none" stroke="#10103a" stroke-width="1"/>
<text transform="translate(451.8 268.5) scale(1.03 1)" font-size="10.2" fill="#0a0a0a" font-weight="bold" text-anchor="middle" stroke="#0a0a0a" stroke-width="0.25" stroke-linejoin="round">GILT</text>
<g clip-path="url(#c2)">
<rect x="389.35" y="277.9" width="128.9" height="96.8" fill="#c0d4f2"/>
<g filter="url(#b2)">
<ellipse cx="426.3" cy="298.8" rx="5.7" ry="3.1" fill="#ecd8d8"/>
<ellipse cx="431.2" cy="279.1" rx="5" ry="4.1" fill="#e6c8c8"/>
<ellipse cx="429.4" cy="357.1" rx="5.4" ry="5" fill="#ecd8d8"/>
<ellipse cx="473.6" cy="371" rx="3.6" ry="4.3" fill="#ecd8d8"/>
<ellipse cx="437.6" cy="279.6" rx="5.6" ry="3.3" fill="#7a9ee8"/>
<ellipse cx="426.3" cy="338.5" rx="5.1" ry="3.3" fill="#eef4ff"/>
<ellipse cx="511.1" cy="329.9" rx="4.2" ry="5.5" fill="#ffffff"/>
<ellipse cx="398.3" cy="320.9" rx="3.5" ry="5" fill="#eef4ff"/>
<ellipse cx="402.6" cy="293.5" rx="3.4" ry="5.1" fill="#f4f8ff"/>
<ellipse cx="495.7" cy="370.1" rx="3.2" ry="4.9" fill="#ecd8d8"/>
<ellipse cx="453.5" cy="283.4" rx="3.9" ry="3.6" fill="#9ab8f0"/>
<ellipse cx="446.6" cy="326.5" rx="3.5" ry="5.6" fill="#ffffff"/>
<ellipse cx="444.9" cy="306.6" rx="3.7" ry="4.3" fill="#f4f8ff"/>
<ellipse cx="438.9" cy="288.8" rx="4.8" ry="4.1" fill="#ffffff"/>
<ellipse cx="473.6" cy="293.4" rx="3.4" ry="5.9" fill="#9ab8f0"/>
<ellipse cx="425.9" cy="338" rx="4.3" ry="3.2" fill="#ecd8d8"/>
<ellipse cx="454.7" cy="360.9" rx="4.4" ry="4.7" fill="#f4f8ff"/>
<ellipse cx="433.5" cy="288.9" rx="5.5" ry="3.3" fill="#ecd8d8"/>
<ellipse cx="502.2" cy="282" rx="5.6" ry="4.2" fill="#e6c8c8"/>
<ellipse cx="392.2" cy="280.6" rx="3.3" ry="5" fill="#ffffff"/>
<ellipse cx="432.2" cy="295.2" rx="3.1" ry="3.1" fill="#f4f8ff"/>
<ellipse cx="483.6" cy="331.3" rx="3.3" ry="4.2" fill="#7a9ee8"/>
<ellipse cx="510" cy="328.6" rx="5.5" ry="3.1" fill="#f4f8ff"/>
<ellipse cx="444.5" cy="339" rx="5.6" ry="3.1" fill="#e6c8c8"/>
<ellipse cx="438.2" cy="288.1" rx="3.1" ry="4.9" fill="#ffffff"/>
<ellipse cx="505.4" cy="297.2" rx="4.6" ry="4.1" fill="#f4f8ff"/>
<ellipse cx="449.7" cy="374.2" rx="5.9" ry="5.4" fill="#9ab8f0"/>
<ellipse cx="398.4" cy="293.2" rx="5.3" ry="4.1" fill="#eef4ff"/>
<ellipse cx="507.4" cy="312.3" rx="5.1" ry="4.1" fill="#ecd8d8"/>
<ellipse cx="444.3" cy="339.1" rx="3.5" ry="5.8" fill="#ffffff"/>
<ellipse cx="491.2" cy="350" rx="3.9" ry="5.2" fill="#ecd8d8"/>
<ellipse cx="397" cy="305.8" rx="6" ry="3.4" fill="#ffffff"/>
<ellipse cx="447.4" cy="300.6" rx="3.5" ry="4.2" fill="#a8c4f4"/>
<ellipse cx="466.7" cy="333.6" rx="6" ry="3.4" fill="#ecd8d8"/>
<ellipse cx="448.1" cy="340.9" rx="3.1" ry="3.8" fill="#ffffff"/>
<ellipse cx="437.5" cy="291.3" rx="4" ry="4.8" fill="#ecd8d8"/>
<ellipse cx="418.4" cy="326.5" rx="3.5" ry="3.9" fill="#9ab8f0"/>
<ellipse cx="515" cy="355.4" rx="5" ry="5.9" fill="#eef4ff"/>
<ellipse cx="430.5" cy="334.2" rx="3.6" ry="4.1" fill="#ecd8d8"/>
<ellipse cx="436.7" cy="334" rx="4.9" ry="5.2" fill="#7a9ee8"/>
<ellipse cx="495.3" cy="358.6" rx="4.7" ry="3.9" fill="#ecd8d8"/>
<ellipse cx="476.2" cy="361.7" rx="5.8" ry="5.4" fill="#a8c4f4"/>
<ellipse cx="443.5" cy="329.1" rx="5.5" ry="3.8" fill="#ffffff"/>
<ellipse cx="443.2" cy="314.4" rx="3.5" ry="5.9" fill="#9ab8f0"/>
<ellipse cx="459.7" cy="281.3" rx="4.8" ry="3.7" fill="#f4f8ff"/>
<ellipse cx="414.1" cy="339.9" rx="4.5" ry="5.5" fill="#86a8ec"/>
<ellipse cx="487.6" cy="352.7" rx="5.5" ry="4.3" fill="#ecd8d8"/>
<ellipse cx="415.4" cy="334.5" rx="3.1" ry="4.2" fill="#ffffff"/>
<ellipse cx="500.1" cy="295.7" rx="4.8" ry="5" fill="#a8c4f4"/>
<ellipse cx="433" cy="335" rx="3.3" ry="4.7" fill="#7a9ee8"/>
<ellipse cx="517.1" cy="328.1" rx="3.7" ry="5.7" fill="#ffffff"/>
<ellipse cx="463" cy="279.7" rx="3.2" ry="5" fill="#7a9ee8"/>
<ellipse cx="493.3" cy="338.2" rx="5.2" ry="4.4" fill="#f4f8ff"/>
<ellipse cx="516.4" cy="341.5" rx="5.3" ry="5.1" fill="#9ab8f0"/>
<ellipse cx="507.3" cy="307.3" rx="4.5" ry="4.5" fill="#ffffff"/>
<ellipse cx="509.2" cy="372.8" rx="5.2" ry="4" fill="#7a9ee8"/>
<ellipse cx="457.8" cy="362.6" rx="4.9" ry="3" fill="#eef4ff"/>
<ellipse cx="468.2" cy="303.5" rx="3.8" ry="3.5" fill="#f4f8ff"/>
<ellipse cx="517.5" cy="329.9" rx="4.5" ry="3.6" fill="#e6c8c8"/>
<ellipse cx="498.9" cy="344.5" rx="4.7" ry="5.6" fill="#ffffff"/>
<ellipse cx="459.2" cy="329.4" rx="5.6" ry="3.2" fill="#7a9ee8"/>
<ellipse cx="502.1" cy="312.7" rx="5.2" ry="5.7" fill="#eef4ff"/>
<ellipse cx="456.5" cy="324.2" rx="3.1" ry="4.8" fill="#86a8ec"/>
<ellipse cx="503.2" cy="366.1" rx="5.1" ry="3.1" fill="#e6c8c8"/>
<ellipse cx="407.7" cy="357.8" rx="3.1" ry="4.9" fill="#9ab8f0"/>
<ellipse cx="498.4" cy="348.2" rx="5.5" ry="4.3" fill="#ecd8d8"/>
<ellipse cx="398" cy="309.5" rx="5.4" ry="4.9" fill="#eef4ff"/>
<ellipse cx="470.7" cy="314.7" rx="3.2" ry="4.3" fill="#ffffff"/>
<ellipse cx="474" cy="341.3" rx="4.6" ry="5.3" fill="#ffffff"/>
<ellipse cx="480.5" cy="309.5" rx="5.2" ry="3.2" fill="#9ab8f0"/>
<ellipse cx="440.9" cy="320.8" rx="3.4" ry="5.3" fill="#a8c4f4"/>
<ellipse cx="491.2" cy="330" rx="4.3" ry="4.6" fill="#ffffff"/>
<ellipse cx="417.8" cy="333.8" rx="3.8" ry="4.8" fill="#eef4ff"/>
<ellipse cx="472.7" cy="319.9" rx="3.3" ry="5.6" fill="#e6c8c8"/>
<ellipse cx="415.5" cy="354.6" rx="5.8" ry="5" fill="#86a8ec"/>
<ellipse cx="407.8" cy="322" rx="5.1" ry="5.7" fill="#7a9ee8"/>
<ellipse cx="430" cy="324.2" rx="3.9" ry="5.1" fill="#a8c4f4"/>
<ellipse cx="394.4" cy="335" rx="4.4" ry="3.9" fill="#ffffff"/>
<ellipse cx="404.5" cy="297.9" rx="3.8" ry="4.2" fill="#e6c8c8"/>
<ellipse cx="461.1" cy="288.9" rx="5" ry="3.7" fill="#ffffff"/>
<ellipse cx="407.9" cy="370.9" rx="3.2" ry="3.1" fill="#eef4ff"/>
<ellipse cx="473" cy="372.2" rx="3" ry="5.3" fill="#ecd8d8"/>
<ellipse cx="473.3" cy="330.2" rx="5.4" ry="5.6" fill="#ffffff"/>
<ellipse cx="476.5" cy="374.5" rx="4.4" ry="4.5" fill="#ffffff"/>
<ellipse cx="515.9" cy="374.6" rx="5.3" ry="5.4" fill="#a8c4f4"/>
<ellipse cx="502.3" cy="339.3" rx="4.2" ry="5.9" fill="#9ab8f0"/>
<ellipse cx="432.5" cy="310.4" rx="5.9" ry="5.5" fill="#e6c8c8"/>
<ellipse cx="477.4" cy="301.5" rx="4.3" ry="4.9" fill="#86a8ec"/>
<ellipse cx="413.2" cy="287.7" rx="4.9" ry="4" fill="#ffffff"/>
<ellipse cx="490.5" cy="331.8" rx="3.5" ry="3.2" fill="#7a9ee8"/>
<ellipse cx="428.2" cy="325.2" rx="3.8" ry="3.8" fill="#eef4ff"/>
<ellipse cx="454.7" cy="369.1" rx="4.9" ry="5.3" fill="#e6c8c8"/>
<ellipse cx="507.1" cy="291" rx="6" ry="6" fill="#ecd8d8"/>
<ellipse cx="398.5" cy="293.1" rx="5.9" ry="3.5" fill="#f4f8ff"/>
<ellipse cx="418.1" cy="317.8" rx="4.6" ry="4.5" fill="#9ab8f0"/>
<ellipse cx="457.2" cy="293.1" rx="4.5" ry="4.7" fill="#f4f8ff"/>
<ellipse cx="423" cy="352.9" rx="5.4" ry="4.4" fill="#eef4ff"/>
<ellipse cx="465.5" cy="301.3" rx="5" ry="3.6" fill="#ecd8d8"/>
<ellipse cx="471.4" cy="320.4" rx="3.5" ry="3.7" fill="#ecd8d8"/>
<ellipse cx="485.3" cy="329.2" rx="4.1" ry="5.5" fill="#86a8ec"/>
<ellipse cx="453.5" cy="354.1" rx="4.5" ry="3.7" fill="#ffffff"/>
<ellipse cx="477.9" cy="348.4" rx="4.3" ry="4.7" fill="#f4f8ff"/>
<ellipse cx="512.4" cy="331.8" rx="3.4" ry="4.4" fill="#ffffff"/>
<ellipse cx="430.9" cy="325.3" rx="4.4" ry="4.7" fill="#e6c8c8"/>
<ellipse cx="485" cy="346.1" rx="5.1" ry="3.9" fill="#ecd8d8"/>
<ellipse cx="395.6" cy="306.7" rx="3.9" ry="3.3" fill="#ecd8d8"/>
<ellipse cx="467.4" cy="348.6" rx="3.1" ry="5.1" fill="#86a8ec"/>
<ellipse cx="440.7" cy="304.2" rx="4.5" ry="4" fill="#ffffff"/>
<ellipse cx="460.4" cy="301.4" rx="4.6" ry="3.8" fill="#e6c8c8"/>
<ellipse cx="429.8" cy="346.3" rx="3.3" ry="3.9" fill="#7a9ee8"/>
</g>
<g filter="url(#b1)">
<circle cx="465.4" cy="278.7" r="1.3" fill="#3062bc"/>
<circle cx="456.9" cy="307.5" r="1.1" fill="#2448a0"/>
<circle cx="456.7" cy="355.5" r="1.3" fill="#2a56b0"/>
<circle cx="391.4" cy="320.8" r="1.3" fill="#2a56b0"/>
<circle cx="422.7" cy="310.4" r="1.4" fill="#2448a0"/>
<circle cx="405.8" cy="295.2" r="1.3" fill="#2448a0"/>
<circle cx="437.6" cy="364.5" r="1.2" fill="#3e72c8"/>
<circle cx="509" cy="356" r="1.5" fill="#3062bc"/>
<circle cx="512.5" cy="307.4" r="1.5" fill="#2448a0"/>
<circle cx="439.5" cy="331.5" r="1.3" fill="#3062bc"/>
<circle cx="454.9" cy="323.6" r="1.4" fill="#366ac2"/>
<circle cx="473.5" cy="310" r="1.4" fill="#2a56b0"/>
<circle cx="475.6" cy="300.7" r="1.1" fill="#2a56b0"/>
<circle cx="426.3" cy="321.2" r="1.5" fill="#3e72c8"/>
<circle cx="490.4" cy="289.5" r="1.4" fill="#366ac2"/>
<circle cx="506.8" cy="360" r="1.6" fill="#2a56b0"/>
<circle cx="483" cy="329.4" r="1.3" fill="#3e72c8"/>
<circle cx="399.2" cy="278.9" r="1.1" fill="#2a56b0"/>
<circle cx="489" cy="338.3" r="1.3" fill="#3062bc"/>
<circle cx="481.3" cy="370" r="1.3" fill="#3e72c8"/>
<circle cx="507.9" cy="285.2" r="1.2" fill="#2a56b0"/>
<circle cx="414.5" cy="374.5" r="1.1" fill="#2448a0"/>
<circle cx="424.6" cy="371.5" r="1.3" fill="#366ac2"/>
<circle cx="389.5" cy="314" r="1.3" fill="#2448a0"/>
<circle cx="442.9" cy="367.3" r="1.3" fill="#3062bc"/>
<circle cx="412.3" cy="341" r="1.3" fill="#3e72c8"/>
<circle cx="498.2" cy="344.8" r="1.5" fill="#3e72c8"/>
<circle cx="412.9" cy="351.6" r="1.5" fill="#3e72c8"/>
<circle cx="494.7" cy="305.5" r="1.2" fill="#2a56b0"/>
<circle cx="499.2" cy="350.1" r="1.1" fill="#366ac2"/>
<circle cx="429.5" cy="330.1" r="1.1" fill="#366ac2"/>
<circle cx="448.1" cy="333.3" r="1.5" fill="#3062bc"/>
<circle cx="477.9" cy="344.3" r="1.1" fill="#3062bc"/>
<circle cx="502.9" cy="322" r="1.5" fill="#3e72c8"/>
<circle cx="409.3" cy="363.8" r="1.2" fill="#2448a0"/>
<circle cx="503" cy="317" r="1.4" fill="#3062bc"/>
<circle cx="416.4" cy="302.4" r="1.5" fill="#366ac2"/>
<circle cx="418.5" cy="347.6" r="1.6" fill="#3062bc"/>
<circle cx="423.3" cy="368.7" r="1.3" fill="#2a56b0"/>
<circle cx="466.3" cy="320.2" r="1.1" fill="#2448a0"/>
<circle cx="476.5" cy="307.5" r="1.6" fill="#2448a0"/>
<circle cx="478.1" cy="353.5" r="1.6" fill="#3e72c8"/>
<circle cx="456.9" cy="321.3" r="1.2" fill="#2a56b0"/>
<circle cx="452.9" cy="353.5" r="1.2" fill="#2a56b0"/>
<circle cx="391.9" cy="284.1" r="1.3" fill="#3062bc"/>
<circle cx="395.9" cy="364.9" r="1.4" fill="#366ac2"/>
<circle cx="433.4" cy="327.5" r="1.2" fill="#2448a0"/>
<circle cx="486" cy="328.5" r="1.3" fill="#3062bc"/>
<circle cx="423.9" cy="324" r="1.2" fill="#366ac2"/>
<circle cx="400.9" cy="336" r="1.2" fill="#366ac2"/>
<circle cx="495.6" cy="365.7" r="1.4" fill="#2448a0"/>
<circle cx="499.9" cy="296.1" r="1.2" fill="#2448a0"/>
<circle cx="498.4" cy="323.4" r="1.6" fill="#3e72c8"/>
<circle cx="417.1" cy="371.4" r="1.2" fill="#3062bc"/>
<circle cx="456.4" cy="340.2" r="1.2" fill="#2a56b0"/>
<circle cx="446" cy="321.2" r="1.4" fill="#366ac2"/>
<circle cx="396.3" cy="342.4" r="1.1" fill="#3062bc"/>
<circle cx="456.5" cy="292.7" r="1.3" fill="#2448a0"/>
<circle cx="439.5" cy="367.9" r="1.1" fill="#3062bc"/>
<circle cx="456.5" cy="367" r="1.1" fill="#2448a0"/>
<circle cx="483.9" cy="371.9" r="1.6" fill="#366ac2"/>
<circle cx="494.3" cy="279.6" r="1.3" fill="#2448a0"/>
<circle cx="406.4" cy="308.5" r="1.1" fill="#3062bc"/>
<circle cx="415.2" cy="326.1" r="1.5" fill="#3e72c8"/>
<circle cx="444.7" cy="313" r="1.4" fill="#2a56b0"/>
<circle cx="444.8" cy="336.6" r="1.5" fill="#2448a0"/>
<circle cx="390.3" cy="290.6" r="1.6" fill="#2448a0"/>
<circle cx="396" cy="353.7" r="1.3" fill="#3062bc"/>
<circle cx="476.6" cy="339.7" r="1.1" fill="#2a56b0"/>
<circle cx="405.7" cy="325.6" r="1.4" fill="#3062bc"/>
<circle cx="499" cy="365.1" r="1.4" fill="#3e72c8"/>
<circle cx="454.7" cy="315.4" r="1.3" fill="#3e72c8"/>
<circle cx="456.9" cy="296.8" r="1.4" fill="#366ac2"/>
<circle cx="412.9" cy="314.1" r="1.5" fill="#366ac2"/>
<circle cx="468.3" cy="299.2" r="1.4" fill="#2448a0"/>
<circle cx="408.1" cy="284.3" r="1.3" fill="#2a56b0"/>
<circle cx="491.3" cy="344" r="1.2" fill="#366ac2"/>
<circle cx="420.3" cy="374.3" r="1.6" fill="#366ac2"/>
<circle cx="480.9" cy="358.2" r="1.2" fill="#3062bc"/>
<circle cx="404.6" cy="318.8" r="1.6" fill="#366ac2"/>
<circle cx="503.5" cy="286" r="1.6" fill="#3e72c8"/>
<circle cx="393.3" cy="331.7" r="1.4" fill="#2a56b0"/>
<circle cx="492.2" cy="356.2" r="1.4" fill="#366ac2"/>
<circle cx="450.4" cy="305.5" r="1.6" fill="#2448a0"/>
<circle cx="461.1" cy="368.3" r="1.3" fill="#2a56b0"/>
<circle cx="433.1" cy="297.8" r="1.3" fill="#366ac2"/>
<circle cx="426.4" cy="359.9" r="1.4" fill="#2448a0"/>
<circle cx="448.2" cy="281.5" r="1.6" fill="#3062bc"/>
<circle cx="433.3" cy="294.3" r="1.6" fill="#3062bc"/>
<circle cx="502" cy="299.2" r="1.4" fill="#3062bc"/>
<circle cx="430.6" cy="307.2" r="1.3" fill="#3062bc"/>
<circle cx="395.8" cy="373.2" r="1.4" fill="#366ac2"/>
<circle cx="390.2" cy="335.1" r="1.1" fill="#366ac2"/>
<circle cx="442.8" cy="340" r="1.6" fill="#2448a0"/>
<circle cx="494.2" cy="358.2" r="1.5" fill="#2a56b0"/>
<circle cx="412.2" cy="317" r="1.2" fill="#3e72c8"/>
<circle cx="476.7" cy="327" r="1.3" fill="#3062bc"/>
<circle cx="444.7" cy="317.7" r="1.2" fill="#3e72c8"/>
<circle cx="410" cy="310.6" r="1.6" fill="#2448a0"/>
<circle cx="470.1" cy="319.5" r="1.3" fill="#2448a0"/>
<circle cx="465.1" cy="291.9" r="1.3" fill="#3e72c8"/>
<circle cx="452.2" cy="371.8" r="1.5" fill="#366ac2"/>
<circle cx="396.2" cy="281.8" r="1.3" fill="#366ac2"/>
<circle cx="503.7" cy="309.4" r="1.6" fill="#2448a0"/>
<circle cx="471.9" cy="306.1" r="1.3" fill="#3e72c8"/>
<circle cx="435.8" cy="299.7" r="1.3" fill="#3062bc"/>
<circle cx="393.6" cy="296.9" r="1.4" fill="#3e72c8"/>
<circle cx="431.3" cy="281.4" r="1.2" fill="#2448a0"/>
<circle cx="420.2" cy="284.2" r="1.2" fill="#2448a0"/>
<circle cx="438" cy="308.9" r="1.3" fill="#2a56b0"/>
<circle cx="510.3" cy="346.7" r="1.5" fill="#2448a0"/>
<circle cx="426.8" cy="291.4" r="1.5" fill="#3e72c8"/>
<circle cx="510.3" cy="332" r="1.5" fill="#3e72c8"/>
<circle cx="391.3" cy="370.7" r="1.5" fill="#3062bc"/>
<circle cx="416.8" cy="363.1" r="1.3" fill="#2448a0"/>
<circle cx="435.1" cy="333.4" r="1.5" fill="#2a56b0"/>
<circle cx="391.8" cy="312.1" r="1.2" fill="#2a56b0"/>
<circle cx="515.3" cy="362.7" r="1.2" fill="#366ac2"/>
<circle cx="478.5" cy="311.7" r="1.2" fill="#366ac2"/>
<circle cx="510.5" cy="371.8" r="1.2" fill="#3e72c8"/>
<circle cx="497.8" cy="352.6" r="1.2" fill="#3062bc"/>
<circle cx="445.7" cy="370.9" r="1.5" fill="#3062bc"/>
<circle cx="421.7" cy="352.7" r="1.5" fill="#3062bc"/>
<circle cx="488.6" cy="345" r="1.6" fill="#2448a0"/>
<circle cx="394.1" cy="360.2" r="1.2" fill="#2448a0"/>
<circle cx="487.4" cy="304.5" r="1.5" fill="#2448a0"/>
<circle cx="485.3" cy="324.4" r="1.4" fill="#366ac2"/>
<circle cx="405.8" cy="314.5" r="1.4" fill="#2448a0"/>
<circle cx="456.8" cy="311.2" r="1.3" fill="#2a56b0"/>
<circle cx="484" cy="339.7" r="1.5" fill="#2a56b0"/>
<circle cx="504.2" cy="306.7" r="1.6" fill="#2a56b0"/>
<circle cx="441.3" cy="346.7" r="1.6" fill="#3062bc"/>
<circle cx="411.9" cy="303.6" r="1.3" fill="#2448a0"/>
<circle cx="495" cy="325.4" r="1.3" fill="#2448a0"/>
<circle cx="461.8" cy="311.8" r="1.2" fill="#366ac2"/>
<circle cx="442.4" cy="335" r="1.3" fill="#3e72c8"/>
<circle cx="440.5" cy="295.2" r="1.2" fill="#2a56b0"/>
<circle cx="515.5" cy="341.9" r="1.2" fill="#3062bc"/>
<circle cx="450.9" cy="364.4" r="1.5" fill="#2448a0"/>
<circle cx="402.4" cy="320.7" r="1.4" fill="#2a56b0"/>
<circle cx="476.6" cy="314.5" r="1.6" fill="#3062bc"/>
<circle cx="443.7" cy="308" r="1.3" fill="#2a56b0"/>
<circle cx="487" cy="321.5" r="1.4" fill="#2a56b0"/>
<circle cx="424.9" cy="305.5" r="1.4" fill="#2a56b0"/>
<circle cx="487.4" cy="312" r="1.2" fill="#2a56b0"/>
<circle cx="512.4" cy="292.7" r="1.2" fill="#2a56b0"/>
<circle cx="409" cy="326.2" r="1.5" fill="#2448a0"/>
<circle cx="445.4" cy="351.4" r="1.6" fill="#2a56b0"/>
<circle cx="482" cy="352.9" r="1.3" fill="#2a56b0"/>
<circle cx="474" cy="279.7" r="1.6" fill="#3e72c8"/>
<circle cx="419.8" cy="328.9" r="1.3" fill="#2448a0"/>
<circle cx="468.5" cy="362.5" r="1.2" fill="#2448a0"/>
<circle cx="463.1" cy="326.8" r="1.3" fill="#366ac2"/>
<circle cx="466" cy="313.3" r="1.3" fill="#2a56b0"/>
<circle cx="395.4" cy="288.4" r="1.5" fill="#2448a0"/>
<circle cx="498.7" cy="339.3" r="1.3" fill="#2a56b0"/>
<circle cx="505.2" cy="348.2" r="1.4" fill="#366ac2"/>
<circle cx="513.7" cy="324.6" r="1.6" fill="#366ac2"/>
<circle cx="391.5" cy="340.2" r="1.4" fill="#2a56b0"/>
<circle cx="496.8" cy="333.2" r="1.1" fill="#2a56b0"/>
<circle cx="496.3" cy="321.4" r="1.5" fill="#2a56b0"/>
<circle cx="420.1" cy="308.9" r="1.5" fill="#366ac2"/>
<circle cx="509.3" cy="298.5" r="1.3" fill="#3062bc"/>
<circle cx="411" cy="328.3" r="1.3" fill="#366ac2"/>
<circle cx="479" cy="285.2" r="1.2" fill="#2a56b0"/>
<circle cx="458.9" cy="333.5" r="1.2" fill="#366ac2"/>
<circle cx="437.4" cy="337.3" r="1.5" fill="#3e72c8"/>
<circle cx="458.2" cy="345.3" r="1.3" fill="#366ac2"/>
<circle cx="461.9" cy="351.5" r="1.2" fill="#366ac2"/>
<circle cx="486.4" cy="370.1" r="1.6" fill="#3e72c8"/>
<circle cx="483.4" cy="335.2" r="1.2" fill="#366ac2"/>
<circle cx="459.9" cy="295.9" r="1.5" fill="#3e72c8"/>
<circle cx="445.1" cy="289.4" r="1.4" fill="#366ac2"/>
<circle cx="509.9" cy="365.8" r="1.3" fill="#2448a0"/>
<circle cx="484.9" cy="279" r="1.3" fill="#366ac2"/>
<circle cx="413.2" cy="343.8" r="1.3" fill="#366ac2"/>
<circle cx="419.5" cy="366.3" r="1.6" fill="#2448a0"/>
<circle cx="453" cy="299.2" r="1.6" fill="#2a56b0"/>
<circle cx="478.1" cy="322.4" r="1.6" fill="#2448a0"/>
<circle cx="391.4" cy="352.9" r="1.5" fill="#2448a0"/>
<circle cx="456.1" cy="371.1" r="1.3" fill="#2a56b0"/>
<circle cx="462.1" cy="304.2" r="1.6" fill="#3062bc"/>
<circle cx="434" cy="311" r="1.4" fill="#366ac2"/>
<circle cx="472" cy="359.3" r="1.2" fill="#3062bc"/>
<circle cx="411.4" cy="359.1" r="1.4" fill="#2448a0"/>
<circle cx="400.5" cy="296.8" r="1.2" fill="#3062bc"/>
<circle cx="425.6" cy="284.3" r="1.2" fill="#3e72c8"/>
<circle cx="475" cy="287.4" r="1.5" fill="#2a56b0"/>
<circle cx="402.3" cy="323.9" r="1.6" fill="#3e72c8"/>
<circle cx="516.4" cy="319" r="1.3" fill="#3e72c8"/>
<circle cx="429.7" cy="349.1" r="1.4" fill="#3062bc"/>
<circle cx="431.1" cy="336.5" r="1.1" fill="#3062bc"/>
<circle cx="486.6" cy="290.9" r="1.3" fill="#2448a0"/>
<circle cx="467" cy="289.7" r="1.2" fill="#2a56b0"/>
<circle cx="429.3" cy="285.8" r="1.5" fill="#3062bc"/>
<circle cx="415.2" cy="308" r="1.6" fill="#3062bc"/>
<circle cx="409.9" cy="323.4" r="1.6" fill="#2a56b0"/>
<circle cx="450.2" cy="317.1" r="1.5" fill="#3062bc"/>
<circle cx="508.6" cy="306.8" r="1.3" fill="#3e72c8"/>
<circle cx="474.7" cy="372.9" r="1.2" fill="#3e72c8"/>
<circle cx="463.1" cy="282.8" r="1.3" fill="#3e72c8"/>
<circle cx="425.2" cy="354.8" r="1.3" fill="#366ac2"/>
<circle cx="446.7" cy="325.2" r="1.3" fill="#2448a0"/>
<circle cx="433.2" cy="362.2" r="1.4" fill="#2448a0"/>
<circle cx="446.2" cy="295.1" r="1.5" fill="#366ac2"/>
<circle cx="465.5" cy="352.8" r="1.3" fill="#2a56b0"/>
<circle cx="393.2" cy="323.3" r="1.6" fill="#2a56b0"/>
<circle cx="491.4" cy="311.2" r="1.3" fill="#3e72c8"/>
<circle cx="436.7" cy="354.2" r="1.5" fill="#3e72c8"/>
<circle cx="398.4" cy="306.4" r="1.4" fill="#3062bc"/>
<circle cx="398.4" cy="372.2" r="1.5" fill="#3062bc"/>
<circle cx="493.7" cy="362.7" r="1.3" fill="#3062bc"/>
<circle cx="406.3" cy="360.9" r="1.6" fill="#2448a0"/>
<circle cx="436.3" cy="316" r="1.3" fill="#2448a0"/>
<circle cx="444.3" cy="360.7" r="1.6" fill="#2a56b0"/>
<circle cx="399.3" cy="317.8" r="1.5" fill="#3062bc"/>
<circle cx="465.5" cy="365.9" r="1.3" fill="#2448a0"/>
<circle cx="426" cy="336.9" r="1.5" fill="#3e72c8"/>
<circle cx="460.6" cy="298.6" r="1.3" fill="#2a56b0"/>
<circle cx="397.7" cy="311.6" r="1.6" fill="#3062bc"/>
<circle cx="468.4" cy="345.8" r="1.3" fill="#2448a0"/>
<circle cx="452.5" cy="341.9" r="1.4" fill="#2a56b0"/>
<circle cx="436.3" cy="340.9" r="1.5" fill="#366ac2"/>
<circle cx="416" cy="358.8" r="1.5" fill="#2448a0"/>
<circle cx="406.4" cy="298.6" r="1.1" fill="#3e72c8"/>
<circle cx="415.9" cy="291" r="1.6" fill="#3e72c8"/>
<circle cx="410.5" cy="319.9" r="1.4" fill="#3062bc"/>
<circle cx="472.6" cy="329.8" r="1.3" fill="#2a56b0"/>
<circle cx="397" cy="291.2" r="1.4" fill="#2a56b0"/>
<circle cx="417" cy="311.2" r="1.2" fill="#366ac2"/>
<circle cx="497.5" cy="291.4" r="1.2" fill="#2448a0"/>
<circle cx="420.8" cy="318.8" r="1.2" fill="#2448a0"/>
<circle cx="415.5" cy="295.5" r="1.4" fill="#3062bc"/>
<circle cx="472.2" cy="313.8" r="1.4" fill="#2448a0"/>
<circle cx="403.6" cy="343.2" r="1.6" fill="#2a56b0"/>
<circle cx="450.8" cy="313.1" r="1.3" fill="#2448a0"/>
<circle cx="462.8" cy="295.4" r="1.4" fill="#3062bc"/>
<circle cx="436.6" cy="324.9" r="1.5" fill="#366ac2"/>
<circle cx="426.6" cy="343.8" r="1.2" fill="#3062bc"/>
<circle cx="422.2" cy="280.6" r="1.3" fill="#2448a0"/>
<circle cx="486.1" cy="318.1" r="1.5" fill="#366ac2"/>
<circle cx="454.1" cy="305.9" r="1.1" fill="#366ac2"/>
<circle cx="395.4" cy="309.2" r="1.5" fill="#2448a0"/>
<circle cx="435.1" cy="372.5" r="1.4" fill="#2a56b0"/>
<circle cx="466.6" cy="305.9" r="1.2" fill="#3062bc"/>
<circle cx="459" cy="362.6" r="1.4" fill="#366ac2"/>
<circle cx="485.2" cy="365.1" r="1.6" fill="#2448a0"/>
<circle cx="514.4" cy="321.8" r="1.4" fill="#2a56b0"/>
<circle cx="507.9" cy="312.5" r="1.2" fill="#2448a0"/>
<circle cx="420.1" cy="355.5" r="1.1" fill="#3062bc"/>
<circle cx="445.3" cy="286.4" r="1.5" fill="#3062bc"/>
<circle cx="462.2" cy="336.8" r="1.5" fill="#2448a0"/>
<circle cx="449.3" cy="356.3" r="1.4" fill="#2448a0"/>
<circle cx="396.6" cy="326.1" r="1.4" fill="#2a56b0"/>
<circle cx="400" cy="332.9" r="1.2" fill="#3e72c8"/>
<circle cx="428.1" cy="308.5" r="1.3" fill="#2a56b0"/>
<circle cx="408" cy="304.7" r="1.2" fill="#2a56b0"/>
<circle cx="469.6" cy="311.2" r="1.6" fill="#3e72c8"/>
<circle cx="480.9" cy="317.7" r="1.4" fill="#366ac2"/>
<circle cx="422.2" cy="293.7" r="1.5" fill="#3062bc"/>
<circle cx="397.8" cy="286.8" r="1.2" fill="#3e72c8"/>
<circle cx="501.5" cy="357.6" r="1.2" fill="#3062bc"/>
<circle cx="436.4" cy="305.6" r="1.5" fill="#2a56b0"/>
<circle cx="469.6" cy="280.4" r="1.3" fill="#2448a0"/>
<circle cx="509.4" cy="282.2" r="1.2" fill="#3e72c8"/>
<circle cx="459" cy="289.7" r="1.3" fill="#366ac2"/>
<circle cx="468.7" cy="370.9" r="1.4" fill="#3062bc"/>
<circle cx="465.1" cy="340.3" r="1.5" fill="#2a56b0"/>
<circle cx="404" cy="336.1" r="1.6" fill="#2448a0"/>
<circle cx="510.3" cy="351.6" r="1.5" fill="#2448a0"/>
<circle cx="418.9" cy="306" r="1.4" fill="#3e72c8"/>
<circle cx="405.4" cy="364.4" r="1.2" fill="#3e72c8"/>
<circle cx="389.7" cy="355.8" r="1.6" fill="#366ac2"/>
<circle cx="483.3" cy="320.6" r="1.1" fill="#2a56b0"/>
<circle cx="498" cy="318.9" r="1.4" fill="#366ac2"/>
<circle cx="517.3" cy="283.5" r="1.6" fill="#2448a0"/>
<circle cx="493.2" cy="309" r="1.2" fill="#3e72c8"/>
<circle cx="415.6" cy="321.3" r="1.1" fill="#366ac2"/>
<circle cx="513.8" cy="355" r="1.4" fill="#2448a0"/>
<circle cx="405" cy="285.7" r="1.4" fill="#3e72c8"/>
<circle cx="430.7" cy="326" r="1.6" fill="#2a56b0"/>
<circle cx="480.3" cy="292.4" r="1.2" fill="#366ac2"/>
<circle cx="437.1" cy="281.9" r="1.6" fill="#2448a0"/>
<circle cx="442.3" cy="298.8" r="1.6" fill="#3e72c8"/>
<circle cx="440.9" cy="364.1" r="1.6" fill="#366ac2"/>
<circle cx="396.2" cy="314.4" r="1.4" fill="#3e72c8"/>
<circle cx="398.3" cy="361.5" r="1.2" fill="#3062bc"/>
<circle cx="418.5" cy="286.7" r="1.2" fill="#366ac2"/>
<circle cx="413" cy="355" r="1.5" fill="#2a56b0"/>
<circle cx="452.3" cy="286.6" r="1.6" fill="#2448a0"/>
<circle cx="490" cy="370.2" r="1.4" fill="#2448a0"/>
<circle cx="414.1" cy="330.1" r="1.6" fill="#3e72c8"/>
<circle cx="408.8" cy="300.8" r="1.2" fill="#2448a0"/>
<circle cx="515.9" cy="289.1" r="1.6" fill="#366ac2"/>
<circle cx="426.8" cy="280.2" r="1.1" fill="#3e72c8"/>
<circle cx="411.5" cy="348.1" r="1.3" fill="#2448a0"/>
<circle cx="497.6" cy="329.9" r="1.2" fill="#3062bc"/>
<circle cx="459.6" cy="329.7" r="1.5" fill="#3062bc"/>
<circle cx="409.7" cy="330.9" r="1.1" fill="#366ac2"/>
<circle cx="396.7" cy="297.6" r="1.5" fill="#3e72c8"/>
<circle cx="449.1" cy="289.3" r="1.5" fill="#2448a0"/>
<circle cx="516.7" cy="323.7" r="1.5" fill="#366ac2"/>
<circle cx="500.3" cy="303.6" r="1.5" fill="#2448a0"/>
<circle cx="453.6" cy="333.5" r="1.2" fill="#366ac2"/>
<circle cx="482" cy="365.8" r="1.4" fill="#366ac2"/>
<circle cx="453.1" cy="328.6" r="1.2" fill="#366ac2"/>
<circle cx="503.3" cy="281.7" r="1.6" fill="#2a56b0"/>
<circle cx="441.8" cy="319.7" r="1.5" fill="#3e72c8"/>
<circle cx="479.5" cy="373.2" r="1.2" fill="#3e72c8"/>
<circle cx="423.7" cy="315.5" r="1.6" fill="#3e72c8"/>
<circle cx="417.3" cy="279.2" r="1.4" fill="#3e72c8"/>
<circle cx="477.7" cy="279.5" r="1.1" fill="#3062bc"/>
<circle cx="464.8" cy="330.8" r="1.6" fill="#366ac2"/>
<circle cx="488.9" cy="335.3" r="1.1" fill="#3e72c8"/>
<circle cx="478.7" cy="302.7" r="1.3" fill="#2448a0"/>
<circle cx="407.1" cy="373.9" r="1.4" fill="#3062bc"/>
<circle cx="395.5" cy="303.2" r="1.5" fill="#2a56b0"/>
<circle cx="425.3" cy="294.6" r="1.2" fill="#3e72c8"/>
<circle cx="473.6" cy="317" r="1.5" fill="#2a56b0"/>
<circle cx="491.5" cy="365.1" r="1.3" fill="#3e72c8"/>
<circle cx="432.2" cy="317.8" r="1.4" fill="#2448a0"/>
<circle cx="412.3" cy="290.8" r="1.5" fill="#3062bc"/>
<circle cx="485" cy="342.6" r="1.2" fill="#3062bc"/>
<circle cx="492.9" cy="337.7" r="1.3" fill="#3e72c8"/>
<circle cx="500.6" cy="367.9" r="1.5" fill="#3e72c8"/>
<circle cx="475.3" cy="365" r="1.2" fill="#366ac2"/>
<circle cx="479.4" cy="325" r="1.5" fill="#3062bc"/>
<circle cx="402.7" cy="292.6" r="1.3" fill="#3062bc"/>
<circle cx="397.2" cy="368.6" r="1.6" fill="#3062bc"/>
<circle cx="440.7" cy="355.4" r="1.4" fill="#2448a0"/>
<circle cx="410.2" cy="295.7" r="1.5" fill="#2a56b0"/>
<circle cx="402.5" cy="346.4" r="1.3" fill="#366ac2"/>
<circle cx="409.2" cy="315.7" r="1.3" fill="#3e72c8"/>
<circle cx="490.4" cy="314.2" r="1.1" fill="#3062bc"/>
<circle cx="406.9" cy="333.8" r="1.2" fill="#2448a0"/>
<circle cx="453.6" cy="311.8" r="1.6" fill="#366ac2"/>
<circle cx="442.6" cy="278.9" r="1.6" fill="#3062bc"/>
<circle cx="489.8" cy="322" r="1.2" fill="#3062bc"/>
<circle cx="453.7" cy="291.5" r="1.6" fill="#366ac2"/>
<circle cx="416" cy="316.7" r="1.6" fill="#3e72c8"/>
<circle cx="446.8" cy="310.4" r="1.1" fill="#3062bc"/>
<circle cx="418.1" cy="326.6" r="1.4" fill="#3062bc"/>
<circle cx="464.7" cy="349.9" r="1.3" fill="#3e72c8"/>
<circle cx="510.1" cy="363" r="1.5" fill="#3e72c8"/>
<circle cx="503.7" cy="302" r="1.6" fill="#2a56b0"/>
<circle cx="472.8" cy="370.5" r="1.3" fill="#366ac2"/>
<circle cx="433.4" cy="365.9" r="1.2" fill="#366ac2"/>
<circle cx="462.2" cy="371.8" r="1.2" fill="#2448a0"/>
<circle cx="505.5" cy="304.2" r="1.4" fill="#3e72c8"/>
<circle cx="510" cy="287.4" r="1.6" fill="#3e72c8"/>
<circle cx="470.4" cy="324.7" r="1.4" fill="#3e72c8"/>
<circle cx="475" cy="293.4" r="1.6" fill="#2448a0"/>
<circle cx="416.8" cy="343.2" r="1.3" fill="#2448a0"/>
<circle cx="443.8" cy="293.2" r="1.2" fill="#2448a0"/>
<circle cx="478.1" cy="333.6" r="1.2" fill="#2a56b0"/>
<circle cx="422.9" cy="333.5" r="1.3" fill="#2a56b0"/>
<circle cx="429.9" cy="339.8" r="1.6" fill="#3062bc"/>
<circle cx="517.1" cy="312" r="1.5" fill="#3e72c8"/>
<circle cx="434.2" cy="338.1" r="1.4" fill="#2a56b0"/>
<circle cx="507.6" cy="289.8" r="1.3" fill="#2448a0"/>
<circle cx="494" cy="314.8" r="1.6" fill="#366ac2"/>
<circle cx="460.9" cy="342.5" r="1.3" fill="#2a56b0"/>
<circle cx="455.2" cy="358.3" r="1.5" fill="#3e72c8"/>
<circle cx="496.6" cy="371.8" r="1.2" fill="#3e72c8"/>
<circle cx="473.8" cy="327.3" r="1.4" fill="#2a56b0"/>
<circle cx="484.5" cy="356.1" r="1.2" fill="#3e72c8"/>
<circle cx="390.7" cy="307" r="1.2" fill="#3062bc"/>
<circle cx="485.2" cy="347.9" r="1.6" fill="#2a56b0"/>
<circle cx="465.4" cy="373.5" r="1.3" fill="#3062bc"/>
<circle cx="458.1" cy="358.8" r="1.5" fill="#3062bc"/>
<circle cx="490.9" cy="297.7" r="1.2" fill="#3e72c8"/>
<circle cx="501.9" cy="313.4" r="1.4" fill="#3062bc"/>
<circle cx="514.8" cy="296.5" r="1.5" fill="#3062bc"/>
<circle cx="465.5" cy="285.1" r="1.4" fill="#3062bc"/>
<circle cx="421.7" cy="300.1" r="1.4" fill="#2a56b0"/>
<circle cx="502" cy="290.6" r="1.2" fill="#3062bc"/>
<circle cx="514.2" cy="304.6" r="1.3" fill="#3062bc"/>
<circle cx="432.5" cy="374.1" r="1.4" fill="#366ac2"/>
<circle cx="435.1" cy="285.9" r="1.3" fill="#366ac2"/>
<circle cx="448.7" cy="301.8" r="1.4" fill="#3e72c8"/>
<circle cx="513.4" cy="301.6" r="1.6" fill="#2448a0"/>
<circle cx="414.3" cy="369.5" r="1.6" fill="#2448a0"/>
<circle cx="425.1" cy="348.7" r="1.3" fill="#2448a0"/>
<circle cx="505" cy="288.3" r="1.4" fill="#2a56b0"/>
<circle cx="444.6" cy="364" r="1.4" fill="#3062bc"/>
<circle cx="442.6" cy="304.8" r="1.5" fill="#366ac2"/>
<circle cx="438.8" cy="357.8" r="1.3" fill="#2a56b0"/>
<circle cx="449" cy="319.6" r="1.3" fill="#366ac2"/>
<circle cx="402.5" cy="311.3" r="1.3" fill="#2448a0"/>
<circle cx="516.4" cy="307.4" r="1.3" fill="#2a56b0"/>
<circle cx="503.6" cy="368.8" r="1.4" fill="#2448a0"/>
<circle cx="469.9" cy="352.9" r="1.6" fill="#366ac2"/>
<circle cx="502.5" cy="351.7" r="1.1" fill="#366ac2"/>
<circle cx="470.1" cy="336.8" r="1.1" fill="#2a56b0"/>
<circle cx="491.2" cy="353" r="1.4" fill="#3e72c8"/>
<circle cx="406.8" cy="350.3" r="1.1" fill="#3e72c8"/>
<circle cx="408" cy="355.7" r="1.1" fill="#3062bc"/>
<circle cx="441.7" cy="327" r="1.6" fill="#366ac2"/>
<circle cx="479.8" cy="361.9" r="1.2" fill="#2448a0"/>
<circle cx="462.3" cy="359.8" r="1.5" fill="#2a56b0"/>
<circle cx="424" cy="319.6" r="1.6" fill="#3e72c8"/>
<circle cx="421" cy="339.6" r="1.3" fill="#2448a0"/>
<circle cx="494.2" cy="345.2" r="1.4" fill="#3062bc"/>
<circle cx="462" cy="289.8" r="1.1" fill="#2448a0"/>
<circle cx="400.2" cy="344.2" r="1.3" fill="#2448a0"/>
<circle cx="494.8" cy="342" r="1.2" fill="#3e72c8"/>
<circle cx="401.6" cy="330.5" r="1.2" fill="#2448a0"/>
<circle cx="512" cy="296.7" r="1.6" fill="#3e72c8"/>
<circle cx="432" cy="342.6" r="1.2" fill="#3062bc"/>
<circle cx="458.5" cy="313.9" r="1.3" fill="#3e72c8"/>
<circle cx="513.1" cy="344.1" r="1.3" fill="#2a56b0"/>
<circle cx="389.5" cy="360.6" r="1.2" fill="#3e72c8"/>
<circle cx="439.9" cy="343.3" r="1.5" fill="#3e72c8"/>
<circle cx="410.1" cy="372.3" r="1.4" fill="#2448a0"/>
<circle cx="487.9" cy="300.5" r="1.5" fill="#2a56b0"/>
<circle cx="427.4" cy="368.2" r="1.3" fill="#2448a0"/>
<circle cx="395.4" cy="335.6" r="1.3" fill="#366ac2"/>
<circle cx="472.8" cy="322.1" r="1.5" fill="#2448a0"/>
<circle cx="513" cy="279.4" r="1.4" fill="#2a56b0"/>
<circle cx="415.3" cy="333.4" r="1.4" fill="#2a56b0"/>
<circle cx="478" cy="297.6" r="1.3" fill="#3062bc"/>
<circle cx="430.5" cy="314.2" r="1.4" fill="#3e72c8"/>
<circle cx="445.8" cy="302.4" r="1.2" fill="#3e72c8"/>
<circle cx="391.8" cy="280.6" r="1.4" fill="#2448a0"/>
<circle cx="419.1" cy="291.6" r="1.6" fill="#3062bc"/>
<circle cx="506.7" cy="368.9" r="1.2" fill="#3e72c8"/>
<circle cx="409.5" cy="279.5" r="1.2" fill="#2a56b0"/>
<circle cx="437.5" cy="360.5" r="1.3" fill="#366ac2"/>
<circle cx="506.7" cy="350.9" r="1.6" fill="#3e72c8"/>
<circle cx="504.7" cy="298.7" r="1.6" fill="#3e72c8"/>
<circle cx="441.8" cy="311.4" r="1.5" fill="#366ac2"/>
<circle cx="514.6" cy="314.3" r="1.3" fill="#366ac2"/>
<circle cx="470.6" cy="333.5" r="1.1" fill="#3062bc"/>
<circle cx="484.4" cy="302.9" r="1.4" fill="#2a56b0"/>
<circle cx="410" cy="353.4" r="1.3" fill="#2448a0"/>
<circle cx="461.5" cy="308.5" r="1.6" fill="#2448a0"/>
<circle cx="401.3" cy="370.4" r="1.2" fill="#366ac2"/>
<circle cx="515" cy="337.4" r="1.6" fill="#366ac2"/>
<circle cx="426" cy="311.8" r="1.6" fill="#366ac2"/>
<circle cx="402.2" cy="373.1" r="1.3" fill="#3e72c8"/>
<circle cx="504.9" cy="311.9" r="1.2" fill="#2448a0"/>
<circle cx="488.5" cy="364.8" r="1.1" fill="#2a56b0"/>
<circle cx="504.7" cy="291.7" r="1.5" fill="#2a56b0"/>
<circle cx="393.5" cy="366.7" r="1.3" fill="#3e72c8"/>
<circle cx="398.1" cy="338" r="1.4" fill="#2448a0"/>
<circle cx="457.3" cy="316.8" r="1.3" fill="#3062bc"/>
<circle cx="484" cy="292.4" r="1.6" fill="#3062bc"/>
<circle cx="400" cy="327" r="1.6" fill="#2448a0"/>
<circle cx="401.4" cy="306.3" r="1.1" fill="#366ac2"/>
<circle cx="390" cy="327.7" r="1.2" fill="#366ac2"/>
<circle cx="476.9" cy="361.2" r="1.6" fill="#366ac2"/>
<circle cx="496" cy="336.4" r="1.3" fill="#3e72c8"/>
<circle cx="448.1" cy="349.2" r="1.2" fill="#3062bc"/>
<circle cx="447.6" cy="314.7" r="1.2" fill="#2a56b0"/>
<circle cx="470" cy="294.8" r="1.4" fill="#2a56b0"/>
<circle cx="399.8" cy="355.9" r="1.4" fill="#3e72c8"/>
<circle cx="389.9" cy="286.7" r="1.6" fill="#3e72c8"/>
<circle cx="454.8" cy="347.1" r="1.6" fill="#3e72c8"/>
<circle cx="450.2" cy="292.3" r="1.4" fill="#3e72c8"/>
<circle cx="513.9" cy="367" r="1.5" fill="#3e72c8"/>
<circle cx="391" cy="300" r="1.5" fill="#3062bc"/>
<circle cx="389.8" cy="366.6" r="1.2" fill="#2448a0"/>
<circle cx="468.2" cy="317" r="1.4" fill="#3e72c8"/>
<circle cx="443.7" cy="324.2" r="1.6" fill="#3062bc"/>
<circle cx="401.5" cy="340.4" r="1.2" fill="#2a56b0"/>
<circle cx="497.2" cy="295.2" r="1.4" fill="#3062bc"/>
<circle cx="485.7" cy="360.5" r="1.2" fill="#2448a0"/>
<circle cx="421.4" cy="303.3" r="1.3" fill="#3e72c8"/>
<circle cx="413.3" cy="366.1" r="1.3" fill="#2a56b0"/>
<circle cx="464.2" cy="355.2" r="1.1" fill="#2a56b0"/>
<circle cx="481.7" cy="310.4" r="1.5" fill="#366ac2"/>
<circle cx="515.8" cy="328.4" r="1.2" fill="#366ac2"/>
<circle cx="471.5" cy="300.4" r="1.1" fill="#2a56b0"/>
<circle cx="439" cy="349" r="1.5" fill="#3062bc"/>
<circle cx="417.3" cy="298.2" r="1.2" fill="#3062bc"/>
<circle cx="411.5" cy="333.5" r="1.5" fill="#3e72c8"/>
<circle cx="475.5" cy="331.5" r="1.6" fill="#3062bc"/>
<circle cx="507.1" cy="333" r="1.5" fill="#3e72c8"/>
<circle cx="419.5" cy="296.3" r="1.4" fill="#2448a0"/>
<circle cx="423.5" cy="329.2" r="1.2" fill="#2448a0"/>
<circle cx="403.4" cy="356.5" r="1.4" fill="#366ac2"/>
<circle cx="499.8" cy="315.8" r="1.2" fill="#2a56b0"/>
<circle cx="481.4" cy="337.3" r="1.5" fill="#2448a0"/>
<circle cx="459.3" cy="370.5" r="1.1" fill="#3062bc"/>
<circle cx="436.6" cy="330.3" r="1.4" fill="#366ac2"/>
<circle cx="446.5" cy="356.7" r="1.4" fill="#3e72c8"/>
<circle cx="475.2" cy="342.4" r="1.4" fill="#2448a0"/>
<circle cx="500.7" cy="307.6" r="1.6" fill="#3062bc"/>
<circle cx="412.9" cy="282.3" r="1.1" fill="#366ac2"/>
<circle cx="498.3" cy="362.4" r="1.4" fill="#3062bc"/>
<circle cx="437.6" cy="370.7" r="1.3" fill="#2a56b0"/>
<circle cx="435.5" cy="350.2" r="1.4" fill="#2a56b0"/>
<circle cx="497.3" cy="299" r="1.3" fill="#3e72c8"/>
<circle cx="505.3" cy="362.4" r="1.3" fill="#366ac2"/>
<circle cx="514.7" cy="332.4" r="1.3" fill="#3062bc"/>
<circle cx="428.5" cy="323.4" r="1.6" fill="#366ac2"/>
<circle cx="504.3" cy="295" r="1.5" fill="#3e72c8"/>
<circle cx="459.4" cy="279.2" r="1.1" fill="#366ac2"/>
<circle cx="469.5" cy="341.6" r="1.5" fill="#3e72c8"/>
<circle cx="395.3" cy="338.4" r="1.1" fill="#2448a0"/>
<circle cx="512.9" cy="373.2" r="1.3" fill="#3e72c8"/>
<circle cx="490.9" cy="340.8" r="1.3" fill="#3062bc"/>
<circle cx="450.6" cy="337.1" r="1.4" fill="#3e72c8"/>
<circle cx="431.7" cy="287.9" r="1.2" fill="#366ac2"/>
<circle cx="466.2" cy="327.8" r="1.2" fill="#2448a0"/>
<circle cx="390.1" cy="294.2" r="1.4" fill="#2a56b0"/>
<circle cx="437.8" cy="345.9" r="1.2" fill="#366ac2"/>
<circle cx="494.3" cy="298.7" r="1.6" fill="#2448a0"/>
<circle cx="453.8" cy="277.9" r="1.3" fill="#3062bc"/>
<circle cx="456.8" cy="280.3" r="1.4" fill="#3e72c8"/>
<circle cx="461.9" cy="319.6" r="1.3" fill="#2a56b0"/>
<circle cx="405" cy="289.7" r="1.5" fill="#2448a0"/>
<circle cx="402.3" cy="366.9" r="1.3" fill="#2a56b0"/>
<circle cx="458.3" cy="300.9" r="1.2" fill="#3e72c8"/>
<circle cx="402.4" cy="287.4" r="1.2" fill="#3e72c8"/>
<circle cx="424.7" cy="299.1" r="1.6" fill="#3062bc"/>
<circle cx="406.3" cy="347.4" r="1.1" fill="#366ac2"/>
<circle cx="471.9" cy="290.2" r="1.1" fill="#3e72c8"/>
<circle cx="495" cy="289.2" r="1.4" fill="#366ac2"/>
<circle cx="491.3" cy="306.7" r="1.2" fill="#366ac2"/>
<circle cx="420" cy="331.8" r="1.6" fill="#2448a0"/>
<circle cx="440" cy="315.6" r="1.4" fill="#2448a0"/>
<circle cx="408.2" cy="370.2" r="1.6" fill="#3062bc"/>
<circle cx="474.5" cy="357.8" r="1.1" fill="#2a56b0"/>
<circle cx="469.4" cy="302.9" r="1.4" fill="#2a56b0"/>
<circle cx="456.6" cy="350.4" r="1.1" fill="#2448a0"/>
<circle cx="464.8" cy="334.5" r="1.5" fill="#3062bc"/>
<circle cx="491.8" cy="301.4" r="1.1" fill="#366ac2"/>
<circle cx="418.7" cy="322.7" r="1.2" fill="#2a56b0"/>
<circle cx="443.9" cy="345.7" r="1.2" fill="#3e72c8"/>
<circle cx="438.1" cy="313" r="1.1" fill="#366ac2"/>
<circle cx="461.2" cy="364.5" r="1.4" fill="#3e72c8"/>
<circle cx="432.3" cy="333.7" r="1.3" fill="#366ac2"/>
<circle cx="491.5" cy="294.5" r="1.1" fill="#366ac2"/>
<circle cx="467.9" cy="356.7" r="1.2" fill="#366ac2"/>
<circle cx="517.4" cy="373.2" r="1.1" fill="#2a56b0"/>
<circle cx="517.4" cy="304.2" r="1.4" fill="#3062bc"/>
<circle cx="467" cy="342.9" r="1.4" fill="#2a56b0"/>
<circle cx="506.1" cy="341.5" r="1.2" fill="#3062bc"/>
<circle cx="476.1" cy="335.6" r="1.5" fill="#3062bc"/>
<circle cx="436.4" cy="296.8" r="1.6" fill="#2448a0"/>
<circle cx="465.4" cy="362.4" r="1.5" fill="#3062bc"/>
<circle cx="443.7" cy="357.9" r="1.2" fill="#3062bc"/>
<circle cx="404.7" cy="371.4" r="1.5" fill="#2448a0"/>
<circle cx="424.9" cy="351.9" r="1.3" fill="#2a56b0"/>
<circle cx="405" cy="329.7" r="1.4" fill="#3062bc"/>
<circle cx="433.1" cy="356" r="1.1" fill="#3062bc"/>
<circle cx="510" cy="319.2" r="1.2" fill="#3e72c8"/>
<circle cx="484.9" cy="332.5" r="1.1" fill="#3e72c8"/>
<circle cx="511.2" cy="341.4" r="1.3" fill="#3e72c8"/>
<circle cx="429.7" cy="354.7" r="1.4" fill="#3062bc"/>
<circle cx="504.4" cy="373.5" r="1.5" fill="#3062bc"/>
<circle cx="423" cy="286.7" r="1.3" fill="#2448a0"/>
<circle cx="489.5" cy="279.2" r="1.2" fill="#2a56b0"/>
<circle cx="418.5" cy="314.4" r="1.4" fill="#2448a0"/>
<circle cx="437.8" cy="284.5" r="1.3" fill="#3062bc"/>
<circle cx="422" cy="306.3" r="1.6" fill="#366ac2"/>
<circle cx="447.6" cy="306.6" r="1.4" fill="#366ac2"/>
<circle cx="487.9" cy="341.2" r="1.5" fill="#2a56b0"/>
<circle cx="500.4" cy="373.3" r="1.3" fill="#3e72c8"/>
<circle cx="424.1" cy="278.1" r="1.6" fill="#2a56b0"/>
<circle cx="470.9" cy="297.6" r="1.5" fill="#366ac2"/>
<circle cx="506.4" cy="301" r="1.1" fill="#2448a0"/>
<circle cx="490.2" cy="325" r="1.4" fill="#366ac2"/>
<circle cx="432.1" cy="352.8" r="1.3" fill="#2448a0"/>
<circle cx="462.7" cy="347.5" r="1.5" fill="#366ac2"/>
<circle cx="491.1" cy="283.7" r="1.6" fill="#3062bc"/>
<circle cx="482.1" cy="298.8" r="1.6" fill="#366ac2"/>
<circle cx="404" cy="304.9" r="1.5" fill="#2a56b0"/>
<circle cx="491.7" cy="333" r="1.3" fill="#2a56b0"/>
<circle cx="496.1" cy="360.4" r="1.5" fill="#3062bc"/>
<circle cx="430.2" cy="290.6" r="1.5" fill="#2448a0"/>
<circle cx="424.1" cy="289.9" r="1.4" fill="#2a56b0"/>
<circle cx="449.4" cy="284" r="1.1" fill="#3062bc"/>
<circle cx="503.8" cy="333.6" r="1.4" fill="#3e72c8"/>
<circle cx="442.2" cy="349.4" r="1.1" fill="#3062bc"/>
<circle cx="442.5" cy="373.6" r="1.1" fill="#2448a0"/>
<circle cx="494.8" cy="348.8" r="1.3" fill="#3e72c8"/>
<circle cx="505" cy="325" r="1.1" fill="#366ac2"/>
<circle cx="392.6" cy="302.8" r="1.1" fill="#2448a0"/>
<circle cx="402" cy="300.1" r="1.3" fill="#366ac2"/>
<circle cx="400.3" cy="359.4" r="1.4" fill="#3e72c8"/>
<circle cx="440.9" cy="281.9" r="1.1" fill="#3e72c8"/>
<circle cx="482.1" cy="343.3" r="1.2" fill="#3062bc"/>
<circle cx="511" cy="311.8" r="1.1" fill="#3e72c8"/>
<circle cx="492.7" cy="323.1" r="1.6" fill="#3e72c8"/>
<circle cx="413.5" cy="287.8" r="1.3" fill="#3e72c8"/>
<circle cx="459.9" cy="347.6" r="1.3" fill="#3e72c8"/>
<circle cx="507.6" cy="278.1" r="1.3" fill="#3e72c8"/>
<circle cx="506.2" cy="356.1" r="1.4" fill="#2a56b0"/>
<circle cx="503.8" cy="343.2" r="1.5" fill="#2a56b0"/>
<circle cx="503.6" cy="339.4" r="1.4" fill="#366ac2"/>
<circle cx="412.2" cy="325" r="1.3" fill="#2a56b0"/>
<circle cx="491.4" cy="348.6" r="1.6" fill="#3e72c8"/>
<circle cx="410.1" cy="344.2" r="1.2" fill="#2a56b0"/>
<circle cx="491.1" cy="360.8" r="1.3" fill="#2a56b0"/>
<circle cx="396.1" cy="332.3" r="1.6" fill="#366ac2"/>
<circle cx="411.6" cy="299.8" r="1.4" fill="#3062bc"/>
<circle cx="475.5" cy="367.8" r="1.5" fill="#3062bc"/>
<circle cx="503" cy="346.4" r="1.4" fill="#2a56b0"/>
<circle cx="424.9" cy="302.5" r="1.2" fill="#2a56b0"/>
<circle cx="408.1" cy="291.5" r="1.2" fill="#3e72c8"/>
<circle cx="471.6" cy="355.9" r="1.2" fill="#3e72c8"/>
<circle cx="510.3" cy="336.6" r="1.1" fill="#3062bc"/>
<circle cx="449.4" cy="351.6" r="1.4" fill="#366ac2"/>
<circle cx="438.1" cy="293.3" r="1.6" fill="#366ac2"/>
<circle cx="428" cy="317.5" r="1.6" fill="#366ac2"/>
<circle cx="480.9" cy="333.5" r="1.4" fill="#3062bc"/>
<circle cx="453.4" cy="318.6" r="1.3" fill="#3e72c8"/>
<circle cx="413.6" cy="336.9" r="1.5" fill="#2448a0"/>
<circle cx="389.8" cy="303.5" r="1.4" fill="#2a56b0"/>
<circle cx="450.7" cy="367.4" r="1.6" fill="#366ac2"/>
<circle cx="433.9" cy="282.4" r="1.3" fill="#3e72c8"/>
<circle cx="429.2" cy="296" r="1.4" fill="#2448a0"/>
<circle cx="390.6" cy="316.8" r="1.4" fill="#2a56b0"/>
<circle cx="460.9" cy="284.9" r="1.1" fill="#366ac2"/>
<circle cx="517.8" cy="337.3" r="1.6" fill="#2448a0"/>
<circle cx="416.4" cy="339.6" r="1.4" fill="#2a56b0"/>
<circle cx="394.3" cy="293.2" r="1.5" fill="#3062bc"/>
<circle cx="434.8" cy="368.6" r="1.2" fill="#3e72c8"/>
<circle cx="469.6" cy="286" r="1.5" fill="#3e72c8"/>
<circle cx="502" cy="330.3" r="1.3" fill="#3e72c8"/>
<circle cx="439.3" cy="372.9" r="1.5" fill="#366ac2"/>
<circle cx="515.9" cy="300" r="1.2" fill="#3062bc"/>
<circle cx="481.7" cy="289.5" r="1.2" fill="#2448a0"/>
<circle cx="440.5" cy="360.6" r="1.6" fill="#366ac2"/>
<circle cx="389.7" cy="323.5" r="1.6" fill="#2a56b0"/>
<circle cx="497.5" cy="369.1" r="1.5" fill="#2a56b0"/>
<circle cx="474.8" cy="282.4" r="1.5" fill="#3e72c8"/>
<circle cx="450.9" cy="332.1" r="1.3" fill="#366ac2"/>
<circle cx="492.1" cy="328.1" r="1.5" fill="#2a56b0"/>
<circle cx="509.5" cy="326.3" r="1.6" fill="#3e72c8"/>
<circle cx="415.5" cy="285.1" r="1.2" fill="#366ac2"/>
<circle cx="429.9" cy="370" r="1.4" fill="#2a56b0"/>
<circle cx="419.8" cy="335.8" r="1.5" fill="#3e72c8"/>
<circle cx="448.1" cy="278.2" r="1.4" fill="#2a56b0"/>
<circle cx="451.3" cy="344.4" r="1.6" fill="#2a56b0"/>
<circle cx="396" cy="347.3" r="1.3" fill="#2a56b0"/>
<circle cx="454.8" cy="283.3" r="1.4" fill="#3e72c8"/>
<circle cx="406.3" cy="281.5" r="1.2" fill="#2a56b0"/>
<circle cx="477.9" cy="287.7" r="1.5" fill="#3e72c8"/>
<circle cx="402.2" cy="351.7" r="1.4" fill="#2448a0"/>
<circle cx="439.8" cy="323.8" r="1.3" fill="#366ac2"/>
<circle cx="474.9" cy="297" r="1.5" fill="#2a56b0"/>
<circle cx="394.6" cy="278.5" r="1.5" fill="#2a56b0"/>
<circle cx="463.7" cy="342.8" r="1.6" fill="#3062bc"/>
<circle cx="472.9" cy="340.3" r="1.2" fill="#366ac2"/>
<circle cx="468" cy="368" r="1.5" fill="#2a56b0"/>
<circle cx="409.7" cy="366.5" r="1.2" fill="#3062bc"/>
<circle cx="479.5" cy="347.3" r="1.2" fill="#3062bc"/>
<circle cx="472.2" cy="284.3" r="1.4" fill="#3062bc"/>
<circle cx="481.3" cy="322.8" r="1.5" fill="#3062bc"/>
<circle cx="516.6" cy="293.8" r="1.6" fill="#366ac2"/>
<circle cx="418.8" cy="350.4" r="1.2" fill="#366ac2"/>
<circle cx="506.1" cy="328.7" r="1.1" fill="#2448a0"/>
<circle cx="442.2" cy="287.9" r="1.1" fill="#3e72c8"/>
<circle cx="486.8" cy="287.4" r="1.2" fill="#2448a0"/>
<circle cx="508.5" cy="293.8" r="1.4" fill="#3062bc"/>
<circle cx="413.2" cy="279.1" r="1.1" fill="#2448a0"/>
<circle cx="465.7" cy="358.8" r="1.2" fill="#2448a0"/>
<circle cx="403.6" cy="361.8" r="1.3" fill="#3062bc"/>
<circle cx="496.7" cy="316.2" r="1.4" fill="#2a56b0"/>
<circle cx="504" cy="365" r="1.5" fill="#3e72c8"/>
<circle cx="438.6" cy="351.9" r="1.2" fill="#2448a0"/>
<circle cx="451.9" cy="308" r="1.5" fill="#3e72c8"/>
<circle cx="401.2" cy="363.6" r="1.3" fill="#2448a0"/>
<circle cx="463.4" cy="301.2" r="1.2" fill="#366ac2"/>
<circle cx="502" cy="360.6" r="1.6" fill="#3e72c8"/>
<circle cx="479.7" cy="328.8" r="1.6" fill="#366ac2"/>
<circle cx="511.6" cy="357.1" r="1.4" fill="#3062bc"/>
<circle cx="516.5" cy="346.1" r="1.6" fill="#2a56b0"/>
<circle cx="494.5" cy="286.2" r="1.4" fill="#3e72c8"/>
<circle cx="474.3" cy="303.8" r="1.4" fill="#366ac2"/>
<circle cx="477.5" cy="282.8" r="1.1" fill="#2448a0"/>
<circle cx="467" cy="281.8" r="1.5" fill="#366ac2"/>
<circle cx="470.8" cy="364.6" r="1.4" fill="#2448a0"/>
<circle cx="446" cy="329.5" r="1.5" fill="#2448a0"/>
<circle cx="390.3" cy="297.2" r="1.4" fill="#366ac2"/>
<circle cx="480.5" cy="296.3" r="1.1" fill="#3e72c8"/>
<circle cx="476.3" cy="290.1" r="1.5" fill="#3062bc"/>
<circle cx="494.9" cy="352.7" r="1.1" fill="#366ac2"/>
<circle cx="500" cy="327.6" r="1.6" fill="#3e72c8"/>
<circle cx="512.5" cy="338.9" r="1.3" fill="#3e72c8"/>
<circle cx="461.1" cy="356.5" r="1.2" fill="#3e72c8"/>
<circle cx="422.3" cy="348.7" r="1.2" fill="#366ac2"/>
<circle cx="498.5" cy="357.4" r="1.4" fill="#2448a0"/>
<circle cx="457.1" cy="336.1" r="1.5" fill="#2448a0"/>
<circle cx="416.1" cy="352.6" r="1.4" fill="#2a56b0"/>
<circle cx="518" cy="331.1" r="1.3" fill="#366ac2"/>
<circle cx="487.9" cy="354.2" r="1.4" fill="#366ac2"/>
<circle cx="433.3" cy="359.4" r="1.2" fill="#3e72c8"/>
<circle cx="391.9" cy="361.9" r="1.4" fill="#2a56b0"/>
<circle cx="439.3" cy="301.4" r="1.2" fill="#3e72c8"/>
<circle cx="512.5" cy="328.4" r="1.4" fill="#2448a0"/>
<circle cx="480" cy="308" r="1.2" fill="#2a56b0"/>
<circle cx="491.3" cy="286.9" r="1.5" fill="#2448a0"/>
<circle cx="453.1" cy="280.6" r="1.2" fill="#3062bc"/>
<circle cx="399.2" cy="352.6" r="1.6" fill="#2a56b0"/>
<circle cx="496" cy="282.2" r="1.3" fill="#366ac2"/>
<circle cx="509.3" cy="315.1" r="1.5" fill="#2448a0"/>
<circle cx="408.6" cy="358.8" r="1.2" fill="#366ac2"/>
<circle cx="412" cy="306.8" r="1.3" fill="#366ac2"/>
<circle cx="513.7" cy="286.3" r="1.3" fill="#2a56b0"/>
<circle cx="467.8" cy="331.6" r="1.2" fill="#3e72c8"/>
<circle cx="499.7" cy="331.9" r="1.3" fill="#3e72c8"/>
<circle cx="486.3" cy="298.2" r="1.4" fill="#2a56b0"/>
<circle cx="456.9" cy="328.6" r="1.2" fill="#366ac2"/>
<circle cx="466" cy="303.1" r="1.6" fill="#2448a0"/>
<circle cx="486.1" cy="314.6" r="1.5" fill="#2a56b0"/>
<circle cx="432.9" cy="330.8" r="1.4" fill="#2448a0"/>
<circle cx="514.3" cy="309.8" r="1.2" fill="#3e72c8"/>
<circle cx="518.3" cy="316.2" r="1.6" fill="#2a56b0"/>
<circle cx="390.4" cy="330.9" r="1.5" fill="#2a56b0"/>
<circle cx="437.1" cy="374.6" r="1.6" fill="#2448a0"/>
<circle cx="447.3" cy="298.9" r="1.1" fill="#2a56b0"/>
<circle cx="434.9" cy="278.7" r="1.3" fill="#3e72c8"/>
<circle cx="421.5" cy="325.3" r="1.3" fill="#2448a0"/>
<circle cx="500.5" cy="293" r="1.6" fill="#366ac2"/>
<circle cx="414.7" cy="305.2" r="1.3" fill="#2448a0"/>
<circle cx="429.8" cy="362" r="1.6" fill="#2448a0"/>
<circle cx="478.9" cy="368.7" r="1.5" fill="#2a56b0"/>
<circle cx="390.6" cy="349.8" r="1.5" fill="#3062bc"/>
<circle cx="500.9" cy="320" r="1.6" fill="#3062bc"/>
<circle cx="484.6" cy="296.1" r="1.1" fill="#366ac2"/>
<circle cx="513.1" cy="290" r="1.4" fill="#3062bc"/>
<circle cx="439.8" cy="278.6" r="1.6" fill="#2448a0"/>
<circle cx="427.1" cy="346.7" r="1.1" fill="#366ac2"/>
<circle cx="434.7" cy="346.9" r="1.2" fill="#3e72c8"/>
<circle cx="502.6" cy="278.1" r="1.5" fill="#3062bc"/>
<circle cx="459.8" cy="339.5" r="1.6" fill="#3062bc"/>
<circle cx="456.3" cy="331.6" r="1.4" fill="#3e72c8"/>
<circle cx="394.7" cy="370.4" r="1.2" fill="#2a56b0"/>
<circle cx="455.3" cy="344.4" r="1.4" fill="#3e72c8"/>
<circle cx="416.7" cy="355.5" r="1.4" fill="#2448a0"/>
<circle cx="514.3" cy="370.5" r="1.6" fill="#3062bc"/>
<circle cx="460.9" cy="322.2" r="1.2" fill="#3e72c8"/>
<circle cx="505.8" cy="318.4" r="1.4" fill="#2448a0"/>
<circle cx="420" cy="370.6" r="1.4" fill="#2a56b0"/>
<circle cx="488.2" cy="357.8" r="1.3" fill="#3e72c8"/>
<circle cx="415.9" cy="346.3" r="1.2" fill="#3e72c8"/>
<circle cx="495.5" cy="312.1" r="1.6" fill="#3062bc"/>
<circle cx="425.9" cy="287.2" r="1.4" fill="#366ac2"/>
<circle cx="517.9" cy="297.4" r="1.4" fill="#366ac2"/>
<circle cx="394.2" cy="356.6" r="1.3" fill="#3e72c8"/>
<circle cx="508" cy="345" r="1.4" fill="#3062bc"/>
<circle cx="473.5" cy="362.2" r="1.5" fill="#2a56b0"/>
<circle cx="398.5" cy="348.4" r="1.2" fill="#3062bc"/>
<circle cx="484" cy="367.9" r="1.6" fill="#3e72c8"/>
<circle cx="502.9" cy="327" r="1.5" fill="#3062bc"/>
<circle cx="403.5" cy="297.6" r="1.6" fill="#3062bc"/>
<circle cx="498.6" cy="312.9" r="1.5" fill="#3e72c8"/>
<circle cx="454.1" cy="296.1" r="1.6" fill="#366ac2"/>
<circle cx="477" cy="371" r="1.2" fill="#3e72c8"/>
<circle cx="399.7" cy="289" r="1.2" fill="#3062bc"/>
<circle cx="479.5" cy="350.3" r="1.5" fill="#366ac2"/>
<circle cx="413.5" cy="363.2" r="1.2" fill="#2a56b0"/>
<circle cx="511.3" cy="322.5" r="1.6" fill="#3062bc"/>
<circle cx="406.5" cy="320.8" r="1.4" fill="#3e72c8"/>
<circle cx="440.8" cy="284.9" r="1.3" fill="#2a56b0"/>
<circle cx="396.1" cy="329.1" r="1.6" fill="#3e72c8"/>
<circle cx="423.7" cy="374.5" r="1.6" fill="#2448a0"/>
<circle cx="518" cy="334.4" r="1.3" fill="#2a56b0"/>
<circle cx="444.7" cy="283" r="1.1" fill="#366ac2"/>
<circle cx="404.6" cy="354" r="1.5" fill="#2448a0"/>
<circle cx="405.8" cy="302.4" r="1.3" fill="#2a56b0"/>
<circle cx="486.6" cy="373.2" r="1.6" fill="#366ac2"/>
<circle cx="448" cy="366.2" r="1.1" fill="#3e72c8"/>
<circle cx="440.5" cy="338.2" r="1.2" fill="#3e72c8"/>
<circle cx="513.3" cy="351.7" r="1.5" fill="#2448a0"/>
<circle cx="392.2" cy="288.3" r="1.5" fill="#3062bc"/>
<circle cx="453.6" cy="302.8" r="1.2" fill="#366ac2"/>
<circle cx="414.2" cy="310.6" r="1.6" fill="#3e72c8"/>
<circle cx="505.1" cy="314.8" r="1.1" fill="#2448a0"/>
<circle cx="454.7" cy="364.6" r="1.3" fill="#2a56b0"/>
<circle cx="489.1" cy="329.3" r="1.6" fill="#3062bc"/>
<circle cx="394.1" cy="350.7" r="1.6" fill="#3e72c8"/>
<circle cx="429.1" cy="351.8" r="1.2" fill="#2a56b0"/>
<circle cx="510.8" cy="368.9" r="1.5" fill="#366ac2"/>
<circle cx="503.8" cy="354.7" r="1.6" fill="#3062bc"/>
<circle cx="488.4" cy="361.4" r="1.3" fill="#3e72c8"/>
<circle cx="399.8" cy="293.4" r="1.5" fill="#2448a0"/>
<circle cx="462.5" cy="279.9" r="1.5" fill="#2448a0"/>
<circle cx="426.8" cy="314.6" r="1.6" fill="#366ac2"/>
<circle cx="444.9" cy="333.5" r="1.6" fill="#366ac2"/>
<circle cx="417.2" cy="282.4" r="1.4" fill="#3e72c8"/>
<circle cx="430.4" cy="320.7" r="1.2" fill="#366ac2"/>
<circle cx="465.8" cy="370.4" r="1.5" fill="#366ac2"/>
<circle cx="461.9" cy="333.3" r="1.4" fill="#2448a0"/>
<circle cx="422.8" cy="296.8" r="1.3" fill="#2a56b0"/>
<circle cx="485.6" cy="337.4" r="1.3" fill="#3e72c8"/>
<circle cx="428.3" cy="303.2" r="1.1" fill="#3e72c8"/>
<circle cx="416.4" cy="367.4" r="1.2" fill="#366ac2"/>
<circle cx="414.6" cy="300.2" r="1.6" fill="#366ac2"/>
<circle cx="397.6" cy="300.4" r="1.4" fill="#2448a0"/>
<circle cx="448.8" cy="374.6" r="1.2" fill="#2a56b0"/>
<circle cx="481.4" cy="283.4" r="1.5" fill="#3062bc"/>
<circle cx="389.7" cy="309.9" r="1.4" fill="#2a56b0"/>
<circle cx="409.5" cy="336.9" r="1.2" fill="#2a56b0"/>
<circle cx="493.4" cy="291.9" r="1.2" fill="#2a56b0"/>
<circle cx="441.5" cy="352.5" r="1.4" fill="#3062bc"/>
<circle cx="494.7" cy="374.4" r="1.6" fill="#366ac2"/>
<circle cx="488.7" cy="367.7" r="1.6" fill="#2a56b0"/>
<circle cx="494" cy="317.6" r="1.3" fill="#2a56b0"/>
<circle cx="482.4" cy="374.4" r="1.2" fill="#3062bc"/>
<circle cx="417" cy="331" r="1.4" fill="#3e72c8"/>
<circle cx="494.5" cy="295.8" r="1.5" fill="#3e72c8"/>
<circle cx="394.7" cy="300.4" r="1.4" fill="#366ac2"/>
<circle cx="457.9" cy="352.9" r="1.6" fill="#3e72c8"/>
<circle cx="497.9" cy="306.1" r="1.5" fill="#366ac2"/>
<circle cx="441.7" cy="370.6" r="1.6" fill="#3062bc"/>
<circle cx="443" cy="301.9" r="1.2" fill="#2448a0"/>
<circle cx="507.7" cy="323.6" r="1.4" fill="#3e72c8"/>
<circle cx="392.7" cy="328.5" r="1.6" fill="#3e72c8"/>
<circle cx="470.8" cy="278" r="1.6" fill="#3e72c8"/>
<circle cx="500" cy="342.1" r="1.4" fill="#3062bc"/>
<circle cx="477.8" cy="293.8" r="1.2" fill="#366ac2"/>
<circle cx="412.6" cy="322.2" r="1.6" fill="#3e72c8"/>
<circle cx="510.5" cy="277.9" r="1.1" fill="#3e72c8"/>
<circle cx="406.8" cy="337.8" r="1.2" fill="#3062bc"/>
<circle cx="422.4" cy="337.1" r="1.6" fill="#3062bc"/>
<circle cx="429.2" cy="311.2" r="1.2" fill="#3e72c8"/>
<circle cx="447.4" cy="291.7" r="1.4" fill="#2a56b0"/>
<circle cx="481.5" cy="304.2" r="1.5" fill="#3062bc"/>
<circle cx="421.2" cy="313.5" r="1.6" fill="#3062bc"/>
<circle cx="463.8" cy="321.8" r="1.5" fill="#366ac2"/>
<circle cx="447.9" cy="342.4" r="1.4" fill="#3062bc"/>
<circle cx="483.6" cy="316.6" r="1.3" fill="#366ac2"/>
<circle cx="449.9" cy="310.2" r="1.6" fill="#2448a0"/>
<circle cx="455" cy="288.8" r="1.1" fill="#3e72c8"/>
<circle cx="518.2" cy="286.1" r="1.4" fill="#366ac2"/>
<circle cx="494.7" cy="329.4" r="1.5" fill="#2a56b0"/>
<circle cx="413" cy="294" r="1.4" fill="#2a56b0"/>
<circle cx="460.8" cy="316.6" r="1.6" fill="#2448a0"/>
<circle cx="439.3" cy="334.6" r="1.5" fill="#2a56b0"/>
<circle cx="398.5" cy="366.1" r="1.6" fill="#3e72c8"/>
<circle cx="476.1" cy="351" r="1.3" fill="#3e72c8"/>
<circle cx="507.1" cy="372.6" r="1.6" fill="#3e72c8"/>
<circle cx="433" cy="324" r="1.6" fill="#366ac2"/>
<circle cx="495.5" cy="355.5" r="1.4" fill="#2448a0"/>
<circle cx="409.5" cy="350.1" r="1.5" fill="#2a56b0"/>
<circle cx="501.5" cy="370.6" r="1.1" fill="#2a56b0"/>
<circle cx="433.4" cy="313.9" r="1.5" fill="#2448a0"/>
<circle cx="394.7" cy="285.3" r="1.4" fill="#2448a0"/>
<circle cx="417.4" cy="374.5" r="1.4" fill="#2448a0"/>
<circle cx="445.2" cy="348.2" r="1.5" fill="#2448a0"/>
<circle cx="411.7" cy="374.6" r="1.5" fill="#3e72c8"/>
<circle cx="459.5" cy="305.3" r="1.3" fill="#366ac2"/>
<circle cx="455.2" cy="326.3" r="1.2" fill="#366ac2"/>
<circle cx="507.1" cy="296.9" r="1.5" fill="#2448a0"/>
<circle cx="487.9" cy="332.6" r="1.5" fill="#3062bc"/>
<circle cx="508.6" cy="329.8" r="1.5" fill="#2448a0"/>
<circle cx="488.9" cy="319" r="1.2" fill="#3e72c8"/>
<circle cx="516.5" cy="278.2" r="1.3" fill="#2448a0"/>
<circle cx="463.3" cy="287.4" r="1.2" fill="#3062bc"/>
<circle cx="428.3" cy="282.7" r="1.6" fill="#2448a0"/>
<circle cx="507.2" cy="364.5" r="1.3" fill="#2448a0"/>
<circle cx="504.3" cy="358.7" r="1.3" fill="#366ac2"/>
<circle cx="512.9" cy="334.7" r="1.2" fill="#2a56b0"/>
<circle cx="393.1" cy="315.4" r="1.5" fill="#2a56b0"/>
<circle cx="505.4" cy="283.7" r="1.4" fill="#3062bc"/>
<circle cx="394.7" cy="306.4" r="1.6" fill="#2448a0"/>
<circle cx="435.1" cy="344" r="1.3" fill="#3062bc"/>
<circle cx="482.7" cy="326.1" r="1.5" fill="#3e72c8"/>
<circle cx="468.4" cy="322.2" r="1.5" fill="#3e72c8"/>
<circle cx="510.1" cy="359.9" r="1.5" fill="#3e72c8"/>
<circle cx="444.5" cy="327.2" r="1.1" fill="#3062bc"/>
<circle cx="465.6" cy="345.8" r="1.4" fill="#3e72c8"/>
<circle cx="425.1" cy="308.5" r="1.3" fill="#3062bc"/>
<circle cx="407.6" cy="318.1" r="1.5" fill="#3e72c8"/>
</g>
<g filter="url(#b1)">
<circle cx="409" cy="294.6" r="0.6" fill="#8a3c2c"/>
<circle cx="401.6" cy="295.5" r="0.6" fill="#2e0c0a"/>
<circle cx="404.3" cy="286.7" r="0.7" fill="#a85a48"/>
<circle cx="397.9" cy="291.8" r="0.6" fill="#a85a48"/>
<circle cx="398.8" cy="290" r="0.7" fill="#8a3c2c"/>
<circle cx="410.5" cy="287.1" r="0.6" fill="#4a140e"/>
<circle cx="400.4" cy="297.7" r="0.8" fill="#6a2418"/>
<circle cx="407.2" cy="290.9" r="0.9" fill="#a85a48"/>
<circle cx="396.1" cy="290" r="0.6" fill="#a85a48"/>
<circle cx="394.9" cy="289.1" r="0.4" fill="#a85a48"/>
<circle cx="412.3" cy="294.8" r="0.7" fill="#6a2418"/>
<circle cx="397.7" cy="288.4" r="1" fill="#2e0c0a"/>
<circle cx="404.9" cy="298.5" r="0.5" fill="#a85a48"/>
<circle cx="412.6" cy="294.3" r="0.6" fill="#8a3c2c"/>
<circle cx="407.5" cy="291.6" r="0.8" fill="#8a3c2c"/>
<circle cx="412" cy="296.5" r="0.8" fill="#a85a48"/>
<circle cx="404.9" cy="296.5" r="0.9" fill="#2e0c0a"/>
<circle cx="408.1" cy="292.6" r="0.6" fill="#a85a48"/>
<circle cx="411.3" cy="292" r="0.6" fill="#a85a48"/>
<circle cx="409.6" cy="291.1" r="1" fill="#6a2418"/>
<circle cx="397.9" cy="289" r="0.7" fill="#8a3c2c"/>
<circle cx="412.4" cy="288.9" r="0.4" fill="#6a2418"/>
<circle cx="407.5" cy="296.6" r="0.4" fill="#4a140e"/>
<circle cx="402" cy="285.3" r="0.7" fill="#2e0c0a"/>
<circle cx="396.9" cy="292.3" r="0.5" fill="#8a3c2c"/>
<circle cx="397.6" cy="292.6" r="0.8" fill="#6a2418"/>
<circle cx="413.9" cy="294.4" r="0.6" fill="#a85a48"/>
<circle cx="409.8" cy="290.2" r="0.9" fill="#4a140e"/>
<circle cx="409.5" cy="286.1" r="0.6" fill="#4a140e"/>
<circle cx="407.6" cy="296" r="0.5" fill="#8a3c2c"/>
<circle cx="430.1" cy="292.8" r="0.9" fill="#2e0c0a"/>
<circle cx="416.9" cy="298.2" r="0.6" fill="#4a140e"/>
<circle cx="421.1" cy="287.7" r="0.8" fill="#6a2418"/>
<circle cx="419.9" cy="290.1" r="0.8" fill="#6a2418"/>
<circle cx="425.7" cy="298" r="0.9" fill="#4a140e"/>
<circle cx="433.5" cy="297.3" r="0.6" fill="#8a3c2c"/>
<circle cx="430.4" cy="288.4" r="0.4" fill="#2e0c0a"/>
<circle cx="428" cy="287.5" r="0.5" fill="#2e0c0a"/>
<circle cx="422.4" cy="297.9" r="0.7" fill="#6a2418"/>
<circle cx="414.5" cy="293.7" r="1" fill="#2e0c0a"/>
<circle cx="420.7" cy="291.9" r="0.8" fill="#8a3c2c"/>
<circle cx="432.3" cy="299" r="0.7" fill="#a85a48"/>
<circle cx="426.5" cy="302.2" r="0.6" fill="#2e0c0a"/>
<circle cx="430.8" cy="299.1" r="0.9" fill="#4a140e"/>
<circle cx="420.6" cy="287.6" r="0.8" fill="#2e0c0a"/>
<circle cx="413.6" cy="295.3" r="0.5" fill="#8a3c2c"/>
<circle cx="423.4" cy="291.1" r="0.5" fill="#6a2418"/>
<circle cx="433" cy="292.7" r="0.9" fill="#4a140e"/>
<circle cx="425.2" cy="287.4" r="0.5" fill="#4a140e"/>
<circle cx="429.6" cy="297.3" r="0.9" fill="#a85a48"/>
<circle cx="419.9" cy="290.6" r="0.7" fill="#6a2418"/>
<circle cx="418.2" cy="300.7" r="0.7" fill="#a85a48"/>
<circle cx="428.8" cy="291" r="1" fill="#6a2418"/>
<circle cx="431.3" cy="291.9" r="0.6" fill="#a85a48"/>
<circle cx="424.3" cy="286.5" r="0.7" fill="#6a2418"/>
<circle cx="428.5" cy="294" r="0.8" fill="#a85a48"/>
<circle cx="416.3" cy="291.4" r="0.6" fill="#8a3c2c"/>
<circle cx="427.6" cy="288.3" r="0.8" fill="#a85a48"/>
<circle cx="426.3" cy="290.2" r="0.6" fill="#2e0c0a"/>
<circle cx="425.3" cy="300.9" r="0.8" fill="#6a2418"/>
<circle cx="448.4" cy="293.4" r="0.5" fill="#6a2418"/>
<circle cx="446.7" cy="284.9" r="0.5" fill="#2e0c0a"/>
<circle cx="446.3" cy="282.7" r="0.5" fill="#6a2418"/>
<circle cx="450" cy="286.2" r="0.7" fill="#6a2418"/>
<circle cx="449.6" cy="290.5" r="0.8" fill="#a85a48"/>
<circle cx="443.8" cy="291" r="0.9" fill="#4a140e"/>
<circle cx="443.7" cy="290.4" r="0.8" fill="#2e0c0a"/>
<circle cx="444" cy="286.6" r="0.6" fill="#8a3c2c"/>
<circle cx="444.4" cy="285.4" r="0.5" fill="#6a2418"/>
<circle cx="448.6" cy="292" r="0.6" fill="#4a140e"/>
<circle cx="448.2" cy="291.8" r="0.9" fill="#a85a48"/>
<circle cx="442.5" cy="283.7" r="0.9" fill="#4a140e"/>
<circle cx="444.9" cy="292.1" r="0.9" fill="#6a2418"/>
<circle cx="450.7" cy="284.1" r="0.8" fill="#a85a48"/>
<circle cx="448.3" cy="295.1" r="0.4" fill="#6a2418"/>
<circle cx="450.6" cy="300" r="0.7" fill="#4a140e"/>
<circle cx="447.6" cy="295.9" r="0.6" fill="#a85a48"/>
<circle cx="457.1" cy="293" r="0.5" fill="#6a2418"/>
<circle cx="454.1" cy="298.5" r="0.6" fill="#2e0c0a"/>
<circle cx="450" cy="290.1" r="0.8" fill="#6a2418"/>
<circle cx="456.3" cy="293.7" r="0.8" fill="#8a3c2c"/>
<circle cx="454.1" cy="290.6" r="0.6" fill="#a85a48"/>
<circle cx="449" cy="290.5" r="0.7" fill="#2e0c0a"/>
<circle cx="452.2" cy="292.9" r="0.4" fill="#6a2418"/>
<circle cx="456.7" cy="297.2" r="0.9" fill="#8a3c2c"/>
<circle cx="453" cy="297.5" r="0.9" fill="#a85a48"/>
<circle cx="466.1" cy="305.8" r="0.7" fill="#4a140e"/>
<circle cx="470.6" cy="297.5" r="0.5" fill="#6a2418"/>
<circle cx="459.3" cy="289" r="0.9" fill="#a85a48"/>
<circle cx="472.6" cy="301.4" r="0.6" fill="#a85a48"/>
<circle cx="460.6" cy="304.1" r="0.9" fill="#a85a48"/>
<circle cx="459.9" cy="305.3" r="0.5" fill="#4a140e"/>
<circle cx="459" cy="292.3" r="0.8" fill="#6a2418"/>
<circle cx="467.6" cy="304.8" r="0.4" fill="#4a140e"/>
<circle cx="463.8" cy="293.6" r="0.7" fill="#6a2418"/>
<circle cx="472.6" cy="295.6" r="0.9" fill="#4a140e"/>
<circle cx="468.6" cy="290.6" r="0.7" fill="#2e0c0a"/>
<circle cx="461.7" cy="304.1" r="0.7" fill="#2e0c0a"/>
<circle cx="465.6" cy="290.9" r="0.5" fill="#8a3c2c"/>
<circle cx="457.8" cy="293.7" r="0.8" fill="#6a2418"/>
<circle cx="470.4" cy="304.9" r="0.6" fill="#a85a48"/>
<circle cx="462" cy="288.5" r="0.6" fill="#6a2418"/>
<circle cx="466.9" cy="307.1" r="0.4" fill="#8a3c2c"/>
<circle cx="464" cy="294.3" r="0.9" fill="#a85a48"/>
<circle cx="453" cy="296.4" r="0.5" fill="#8a3c2c"/>
<circle cx="459.5" cy="294.6" r="0.7" fill="#2e0c0a"/>
<circle cx="466.5" cy="303.6" r="0.8" fill="#4a140e"/>
<circle cx="464.4" cy="292.1" r="0.7" fill="#a85a48"/>
<circle cx="471.7" cy="302.2" r="1" fill="#2e0c0a"/>
<circle cx="458.8" cy="292.8" r="0.6" fill="#2e0c0a"/>
<circle cx="455.2" cy="297.2" r="0.9" fill="#6a2418"/>
<circle cx="468.2" cy="306.7" r="0.5" fill="#8a3c2c"/>
<circle cx="458.4" cy="294.1" r="0.5" fill="#a85a48"/>
<circle cx="470.2" cy="293.7" r="0.8" fill="#4a140e"/>
<circle cx="468" cy="305.1" r="1" fill="#6a2418"/>
<circle cx="454.2" cy="298.5" r="0.7" fill="#4a140e"/>
<circle cx="458.7" cy="299.4" r="0.7" fill="#a85a48"/>
<circle cx="464.3" cy="290.2" r="0.4" fill="#8a3c2c"/>
<circle cx="469.9" cy="296.3" r="0.7" fill="#4a140e"/>
<circle cx="466.4" cy="296.3" r="0.4" fill="#2e0c0a"/>
<circle cx="464.8" cy="292.6" r="0.6" fill="#2e0c0a"/>
<circle cx="469" cy="296.5" r="0.9" fill="#6a2418"/>
<circle cx="460.2" cy="307.2" r="0.8" fill="#8a3c2c"/>
<circle cx="462.9" cy="308.8" r="0.6" fill="#6a2418"/>
<circle cx="495.3" cy="292.2" r="0.9" fill="#8a3c2c"/>
<circle cx="498.3" cy="285.6" r="0.6" fill="#4a140e"/>
<circle cx="493.5" cy="285.8" r="0.7" fill="#2e0c0a"/>
<circle cx="498.8" cy="291.3" r="0.4" fill="#8a3c2c"/>
<circle cx="492.2" cy="293" r="0.5" fill="#2e0c0a"/>
<circle cx="492.8" cy="285.4" r="0.4" fill="#2e0c0a"/>
<circle cx="486.2" cy="289.1" r="0.7" fill="#6a2418"/>
<circle cx="480.8" cy="289.8" r="0.8" fill="#6a2418"/>
<circle cx="485.7" cy="291.2" r="0.5" fill="#6a2418"/>
<circle cx="486.7" cy="284.4" r="0.6" fill="#4a140e"/>
<circle cx="499" cy="284.6" r="0.5" fill="#4a140e"/>
<circle cx="501" cy="284.5" r="0.9" fill="#a85a48"/>
<circle cx="497.6" cy="285.5" r="0.5" fill="#8a3c2c"/>
<circle cx="487.2" cy="290.6" r="0.6" fill="#6a2418"/>
<circle cx="498.4" cy="287.2" r="0.9" fill="#6a2418"/>
<circle cx="492.3" cy="294.5" r="0.5" fill="#6a2418"/>
<circle cx="487" cy="293.3" r="0.6" fill="#8a3c2c"/>
<circle cx="497.4" cy="285.7" r="0.7" fill="#4a140e"/>
<circle cx="496.4" cy="291.9" r="0.9" fill="#a85a48"/>
<circle cx="488.9" cy="292.5" r="0.7" fill="#4a140e"/>
<circle cx="497.2" cy="291.9" r="0.4" fill="#a85a48"/>
<circle cx="483.4" cy="292" r="0.6" fill="#a85a48"/>
<circle cx="490.9" cy="292.8" r="0.4" fill="#4a140e"/>
<circle cx="489.6" cy="291.5" r="0.9" fill="#8a3c2c"/>
<circle cx="496.4" cy="286" r="0.4" fill="#8a3c2c"/>
<circle cx="495.4" cy="282.1" r="0.4" fill="#8a3c2c"/>
<circle cx="499.8" cy="287.9" r="0.6" fill="#6a2418"/>
<circle cx="473.6" cy="306.4" r="0.8" fill="#a85a48"/>
<circle cx="481.9" cy="316.4" r="0.8" fill="#4a140e"/>
<circle cx="470.1" cy="315.5" r="0.8" fill="#6a2418"/>
<circle cx="483" cy="314.1" r="0.7" fill="#2e0c0a"/>
<circle cx="485.9" cy="307.9" r="0.9" fill="#2e0c0a"/>
<circle cx="469.8" cy="305.7" r="0.6" fill="#8a3c2c"/>
<circle cx="472.4" cy="303.1" r="0.8" fill="#8a3c2c"/>
<circle cx="468.5" cy="319.7" r="1" fill="#4a140e"/>
<circle cx="472" cy="307.5" r="0.7" fill="#a85a48"/>
<circle cx="485.4" cy="314.5" r="0.4" fill="#6a2418"/>
<circle cx="484.5" cy="314.3" r="0.6" fill="#8a3c2c"/>
<circle cx="468.8" cy="305.3" r="0.8" fill="#a85a48"/>
<circle cx="485.3" cy="313.7" r="0.5" fill="#8a3c2c"/>
<circle cx="469.4" cy="315" r="0.5" fill="#4a140e"/>
<circle cx="466.7" cy="311.2" r="1" fill="#a85a48"/>
<circle cx="476.5" cy="320.9" r="0.7" fill="#8a3c2c"/>
<circle cx="472.5" cy="310.2" r="0.8" fill="#8a3c2c"/>
<circle cx="480" cy="310.8" r="0.5" fill="#8a3c2c"/>
<circle cx="469.4" cy="320.6" r="0.7" fill="#4a140e"/>
<circle cx="478.9" cy="323.6" r="0.9" fill="#2e0c0a"/>
<circle cx="482.6" cy="320.1" r="0.5" fill="#8a3c2c"/>
<circle cx="466.7" cy="314.3" r="0.5" fill="#2e0c0a"/>
<circle cx="486.1" cy="315.3" r="0.7" fill="#6a2418"/>
<circle cx="480.7" cy="316.8" r="0.6" fill="#8a3c2c"/>
<circle cx="487.5" cy="312.7" r="0.6" fill="#a85a48"/>
<circle cx="477.3" cy="309.3" r="0.4" fill="#8a3c2c"/>
<circle cx="487.9" cy="309.7" r="0.9" fill="#2e0c0a"/>
<circle cx="483.1" cy="305.9" r="0.6" fill="#6a2418"/>
<circle cx="465.7" cy="315.7" r="0.6" fill="#4a140e"/>
<circle cx="473" cy="303" r="1" fill="#2e0c0a"/>
<circle cx="477.7" cy="307" r="0.8" fill="#4a140e"/>
<circle cx="477.6" cy="317.5" r="0.9" fill="#a85a48"/>
<circle cx="471.9" cy="318.4" r="0.9" fill="#8a3c2c"/>
<circle cx="484.6" cy="309.3" r="0.9" fill="#2e0c0a"/>
<circle cx="467.2" cy="305.5" r="0.8" fill="#6a2418"/>
<circle cx="483" cy="317" r="0.9" fill="#a85a48"/>
<circle cx="478.6" cy="304.5" r="0.4" fill="#6a2418"/>
<circle cx="465.6" cy="316.4" r="0.8" fill="#6a2418"/>
<circle cx="488.1" cy="316.2" r="0.8" fill="#8a3c2c"/>
<circle cx="474.6" cy="321.2" r="0.9" fill="#8a3c2c"/>
<circle cx="464.8" cy="310.4" r="0.6" fill="#6a2418"/>
<circle cx="465.2" cy="312.8" r="0.6" fill="#2e0c0a"/>
<circle cx="479.4" cy="321.6" r="0.6" fill="#6a2418"/>
<circle cx="481.5" cy="322" r="1" fill="#8a3c2c"/>
<circle cx="469.7" cy="321.8" r="0.7" fill="#8a3c2c"/>
<circle cx="475.3" cy="318.4" r="1" fill="#a85a48"/>
<circle cx="470.9" cy="319.4" r="1" fill="#6a2418"/>
<circle cx="484.7" cy="319" r="0.5" fill="#a85a48"/>
<circle cx="424.4" cy="316.1" r="1" fill="#2e0c0a"/>
<circle cx="431.7" cy="325.5" r="0.7" fill="#6a2418"/>
<circle cx="425.1" cy="325.9" r="0.5" fill="#a85a48"/>
<circle cx="424.1" cy="316" r="0.6" fill="#a85a48"/>
<circle cx="437.4" cy="312" r="0.4" fill="#6a2418"/>
<circle cx="435.2" cy="322.5" r="0.6" fill="#2e0c0a"/>
<circle cx="427.1" cy="326.1" r="1" fill="#6a2418"/>
<circle cx="435.7" cy="317.2" r="0.8" fill="#8a3c2c"/>
<circle cx="426" cy="313.7" r="0.8" fill="#a85a48"/>
<circle cx="438.2" cy="314" r="0.8" fill="#6a2418"/>
<circle cx="419" cy="314.2" r="0.4" fill="#2e0c0a"/>
<circle cx="423.2" cy="319.6" r="0.7" fill="#8a3c2c"/>
<circle cx="423.6" cy="313.4" r="0.7" fill="#6a2418"/>
<circle cx="424.7" cy="323.6" r="0.8" fill="#2e0c0a"/>
<circle cx="437" cy="318.9" r="0.4" fill="#a85a48"/>
<circle cx="435.7" cy="315.1" r="0.9" fill="#a85a48"/>
<circle cx="433.9" cy="313.1" r="1" fill="#6a2418"/>
<circle cx="432.4" cy="324.7" r="0.7" fill="#a85a48"/>
<circle cx="426.7" cy="322.8" r="0.9" fill="#a85a48"/>
<circle cx="422.2" cy="309.7" r="0.5" fill="#2e0c0a"/>
<circle cx="433.5" cy="312.3" r="1" fill="#4a140e"/>
<circle cx="427.1" cy="322.1" r="0.8" fill="#a85a48"/>
<circle cx="423.5" cy="318.5" r="0.9" fill="#8a3c2c"/>
<circle cx="422.7" cy="312.9" r="0.4" fill="#8a3c2c"/>
<circle cx="422.8" cy="322.1" r="0.8" fill="#6a2418"/>
<circle cx="420.1" cy="318.1" r="0.9" fill="#4a140e"/>
<circle cx="422.6" cy="315.1" r="0.5" fill="#2e0c0a"/>
<circle cx="422.3" cy="323" r="0.5" fill="#a85a48"/>
<circle cx="439.4" cy="318.7" r="0.5" fill="#2e0c0a"/>
<circle cx="425.7" cy="321.3" r="1" fill="#a85a48"/>
<circle cx="426.8" cy="313.4" r="0.8" fill="#a85a48"/>
<circle cx="427.3" cy="322.6" r="0.5" fill="#4a140e"/>
<circle cx="435.5" cy="324.7" r="0.6" fill="#a85a48"/>
<circle cx="432.4" cy="314.3" r="0.8" fill="#4a140e"/>
<circle cx="429.8" cy="326.4" r="0.6" fill="#8a3c2c"/>
<circle cx="437.6" cy="309.9" r="0.8" fill="#a85a48"/>
<circle cx="444.6" cy="314.7" r="0.6" fill="#4a140e"/>
<circle cx="447.1" cy="312.6" r="0.9" fill="#8a3c2c"/>
<circle cx="450.6" cy="312.7" r="1" fill="#2e0c0a"/>
<circle cx="448.2" cy="312.4" r="0.9" fill="#8a3c2c"/>
<circle cx="446.3" cy="313.7" r="1" fill="#6a2418"/>
<circle cx="437.3" cy="310.9" r="1" fill="#4a140e"/>
<circle cx="446.3" cy="312.6" r="0.5" fill="#8a3c2c"/>
<circle cx="438.8" cy="312.9" r="0.5" fill="#4a140e"/>
<circle cx="447.5" cy="314.8" r="0.5" fill="#a85a48"/>
<circle cx="444.7" cy="314.9" r="0.5" fill="#8a3c2c"/>
<circle cx="437.2" cy="314.3" r="0.8" fill="#2e0c0a"/>
<circle cx="449.7" cy="312" r="0.9" fill="#6a2418"/>
<circle cx="441" cy="314.3" r="0.7" fill="#8a3c2c"/>
<circle cx="445.2" cy="316.1" r="0.9" fill="#4a140e"/>
<circle cx="482.2" cy="332.4" r="0.6" fill="#6a2418"/>
<circle cx="479.8" cy="330.4" r="0.6" fill="#4a140e"/>
<circle cx="491.3" cy="324.5" r="0.8" fill="#6a2418"/>
<circle cx="493.8" cy="336" r="0.9" fill="#2e0c0a"/>
<circle cx="485.8" cy="322.8" r="0.9" fill="#2e0c0a"/>
<circle cx="487.9" cy="324.2" r="0.9" fill="#6a2418"/>
<circle cx="505.1" cy="332.3" r="0.5" fill="#2e0c0a"/>
<circle cx="482.8" cy="332.8" r="0.9" fill="#2e0c0a"/>
<circle cx="505.9" cy="329.2" r="0.4" fill="#a85a48"/>
<circle cx="482.8" cy="332.3" r="0.5" fill="#8a3c2c"/>
<circle cx="495.5" cy="320.6" r="0.7" fill="#4a140e"/>
<circle cx="487.1" cy="337.7" r="1" fill="#4a140e"/>
<circle cx="509.5" cy="324.9" r="0.5" fill="#8a3c2c"/>
<circle cx="496.6" cy="322.1" r="0.8" fill="#a85a48"/>
<circle cx="488" cy="327" r="0.4" fill="#a85a48"/>
<circle cx="500.1" cy="321" r="0.4" fill="#4a140e"/>
<circle cx="491.4" cy="333.8" r="0.4" fill="#6a2418"/>
<circle cx="489.3" cy="320.7" r="0.9" fill="#6a2418"/>
<circle cx="485.6" cy="320.2" r="0.9" fill="#8a3c2c"/>
<circle cx="502.1" cy="329.6" r="0.6" fill="#4a140e"/>
<circle cx="504.7" cy="330.1" r="0.6" fill="#8a3c2c"/>
<circle cx="491.9" cy="324.8" r="0.5" fill="#8a3c2c"/>
<circle cx="496.7" cy="337.8" r="0.7" fill="#4a140e"/>
<circle cx="500.1" cy="332.5" r="0.8" fill="#8a3c2c"/>
<circle cx="500.1" cy="337.8" r="0.7" fill="#a85a48"/>
<circle cx="504.6" cy="324.9" r="0.8" fill="#a85a48"/>
<circle cx="479.3" cy="330.6" r="0.4" fill="#6a2418"/>
<circle cx="487.4" cy="321.7" r="1" fill="#2e0c0a"/>
<circle cx="496.6" cy="323.8" r="0.9" fill="#6a2418"/>
<circle cx="493.5" cy="317.8" r="0.5" fill="#6a2418"/>
<circle cx="501.7" cy="326" r="0.6" fill="#4a140e"/>
<circle cx="488.9" cy="318.1" r="0.8" fill="#2e0c0a"/>
<circle cx="504.7" cy="330.5" r="0.7" fill="#a85a48"/>
<circle cx="480.8" cy="334.3" r="1" fill="#6a2418"/>
<circle cx="500.9" cy="323.8" r="0.7" fill="#2e0c0a"/>
<circle cx="484.9" cy="333.5" r="0.6" fill="#2e0c0a"/>
<circle cx="505" cy="329.5" r="0.6" fill="#4a140e"/>
<circle cx="507" cy="320.6" r="0.5" fill="#8a3c2c"/>
<circle cx="501.4" cy="333.2" r="0.5" fill="#a85a48"/>
<circle cx="509.5" cy="325.3" r="0.7" fill="#6a2418"/>
<circle cx="487.1" cy="324.7" r="0.4" fill="#2e0c0a"/>
<circle cx="492.8" cy="337.1" r="0.9" fill="#a85a48"/>
<circle cx="501.4" cy="332.6" r="0.9" fill="#8a3c2c"/>
<circle cx="486.1" cy="325.4" r="0.7" fill="#a85a48"/>
<circle cx="509.7" cy="329.3" r="0.8" fill="#8a3c2c"/>
<circle cx="489.3" cy="321.7" r="0.6" fill="#2e0c0a"/>
<circle cx="503.7" cy="336.6" r="0.6" fill="#a85a48"/>
<circle cx="500.5" cy="323.6" r="1" fill="#2e0c0a"/>
<circle cx="493.6" cy="322.1" r="0.5" fill="#6a2418"/>
<circle cx="495.8" cy="334.7" r="0.6" fill="#a85a48"/>
<circle cx="502.7" cy="329.6" r="0.9" fill="#6a2418"/>
<circle cx="493.5" cy="339.4" r="0.5" fill="#6a2418"/>
<circle cx="500.2" cy="333.8" r="0.7" fill="#a85a48"/>
<circle cx="493.7" cy="320.4" r="0.7" fill="#4a140e"/>
<circle cx="492.2" cy="336.3" r="0.5" fill="#a85a48"/>
<circle cx="505.5" cy="325.3" r="1" fill="#6a2418"/>
<circle cx="485.3" cy="323.8" r="0.5" fill="#8a3c2c"/>
<circle cx="494" cy="319.2" r="0.6" fill="#4a140e"/>
<circle cx="505.1" cy="336.7" r="0.5" fill="#4a140e"/>
<circle cx="505.6" cy="322.7" r="0.9" fill="#4a140e"/>
<circle cx="501.7" cy="339.6" r="0.8" fill="#6a2418"/>
<circle cx="510.2" cy="330.2" r="0.8" fill="#6a2418"/>
<circle cx="501.3" cy="337.1" r="0.7" fill="#8a3c2c"/>
<circle cx="506.3" cy="336.3" r="0.4" fill="#a85a48"/>
<circle cx="506.4" cy="325.7" r="0.8" fill="#6a2418"/>
<circle cx="506.9" cy="322.8" r="0.6" fill="#4a140e"/>
<circle cx="487.3" cy="331.3" r="0.9" fill="#a85a48"/>
<circle cx="489.8" cy="326.1" r="0.5" fill="#6a2418"/>
<circle cx="502.9" cy="322.6" r="0.9" fill="#8a3c2c"/>
<circle cx="479.3" cy="327.5" r="0.7" fill="#2e0c0a"/>
<circle cx="509.3" cy="335.6" r="0.5" fill="#a85a48"/>
<circle cx="502.6" cy="320.6" r="0.9" fill="#8a3c2c"/>
<circle cx="496.3" cy="334.7" r="0.5" fill="#6a2418"/>
<circle cx="485.6" cy="330.7" r="0.9" fill="#a85a48"/>
<circle cx="502.8" cy="334.2" r="0.4" fill="#a85a48"/>
<circle cx="479.5" cy="339.2" r="0.8" fill="#4a140e"/>
<circle cx="482.8" cy="335.1" r="0.7" fill="#2e0c0a"/>
<circle cx="481.4" cy="347" r="0.9" fill="#6a2418"/>
<circle cx="477" cy="343.3" r="0.4" fill="#4a140e"/>
<circle cx="486.1" cy="335.7" r="0.6" fill="#8a3c2c"/>
<circle cx="486.5" cy="336" r="0.7" fill="#8a3c2c"/>
<circle cx="491.9" cy="340.6" r="0.7" fill="#8a3c2c"/>
<circle cx="480" cy="341.4" r="0.4" fill="#4a140e"/>
<circle cx="478.4" cy="345.3" r="0.8" fill="#2e0c0a"/>
<circle cx="489.1" cy="342.4" r="1" fill="#8a3c2c"/>
<circle cx="482.9" cy="344.9" r="0.6" fill="#4a140e"/>
<circle cx="491.7" cy="338.9" r="0.5" fill="#4a140e"/>
<circle cx="476" cy="342.5" r="0.8" fill="#2e0c0a"/>
<circle cx="480.4" cy="343.5" r="0.7" fill="#4a140e"/>
<circle cx="483.9" cy="335" r="0.5" fill="#8a3c2c"/>
<circle cx="479.2" cy="338.3" r="0.9" fill="#a85a48"/>
<circle cx="482.7" cy="337.9" r="0.9" fill="#6a2418"/>
<circle cx="479.7" cy="340.3" r="0.9" fill="#8a3c2c"/>
<circle cx="491.2" cy="342.3" r="0.8" fill="#6a2418"/>
<circle cx="490.3" cy="341.7" r="0.6" fill="#a85a48"/>
<circle cx="480.2" cy="339.1" r="0.4" fill="#a85a48"/>
<circle cx="451.7" cy="341.4" r="0.6" fill="#8a3c2c"/>
<circle cx="452.9" cy="346.8" r="0.8" fill="#4a140e"/>
<circle cx="441.2" cy="343.9" r="0.5" fill="#a85a48"/>
<circle cx="437.2" cy="351.7" r="0.8" fill="#a85a48"/>
<circle cx="439.4" cy="345.9" r="0.5" fill="#4a140e"/>
<circle cx="452.4" cy="350.3" r="0.8" fill="#8a3c2c"/>
<circle cx="451.7" cy="352.5" r="0.8" fill="#6a2418"/>
<circle cx="440.2" cy="347.5" r="0.4" fill="#6a2418"/>
<circle cx="457.8" cy="354.1" r="0.8" fill="#6a2418"/>
<circle cx="449.9" cy="344" r="0.9" fill="#8a3c2c"/>
<circle cx="441.2" cy="342.1" r="0.4" fill="#8a3c2c"/>
<circle cx="450.1" cy="342.7" r="0.8" fill="#4a140e"/>
<circle cx="445" cy="340.8" r="0.4" fill="#6a2418"/>
<circle cx="453.6" cy="340.7" r="0.6" fill="#a85a48"/>
<circle cx="451" cy="352.4" r="0.8" fill="#2e0c0a"/>
<circle cx="446.1" cy="353.8" r="1" fill="#2e0c0a"/>
<circle cx="445.1" cy="355.8" r="0.7" fill="#a85a48"/>
<circle cx="450.8" cy="352.4" r="0.7" fill="#6a2418"/>
<circle cx="447.3" cy="356.2" r="1" fill="#4a140e"/>
<circle cx="448.1" cy="355.5" r="0.8" fill="#a85a48"/>
<circle cx="437" cy="350.8" r="0.5" fill="#6a2418"/>
<circle cx="443.5" cy="341.9" r="0.9" fill="#2e0c0a"/>
<circle cx="458.7" cy="349.3" r="0.8" fill="#2e0c0a"/>
<circle cx="439.9" cy="347.1" r="0.9" fill="#6a2418"/>
<circle cx="439" cy="349.8" r="0.7" fill="#a85a48"/>
<circle cx="442.2" cy="345.7" r="0.9" fill="#4a140e"/>
<circle cx="455.6" cy="349.6" r="0.6" fill="#a85a48"/>
<circle cx="449.9" cy="342.4" r="0.5" fill="#6a2418"/>
<circle cx="452.5" cy="352.7" r="0.5" fill="#6a2418"/>
<circle cx="452.3" cy="355.1" r="0.9" fill="#6a2418"/>
<circle cx="439.3" cy="343.5" r="1" fill="#a85a48"/>
<circle cx="443.2" cy="345.3" r="0.4" fill="#a85a48"/>
<circle cx="445" cy="342.9" r="0.5" fill="#6a2418"/>
<circle cx="442.4" cy="352.5" r="0.7" fill="#6a2418"/>
<circle cx="447.6" cy="341.6" r="1" fill="#6a2418"/>
<circle cx="452.3" cy="347.5" r="0.8" fill="#4a140e"/>
<circle cx="435.8" cy="352.1" r="0.9" fill="#8a3c2c"/>
<circle cx="436.8" cy="353.2" r="1" fill="#2e0c0a"/>
<circle cx="442.1" cy="349.4" r="0.5" fill="#6a2418"/>
<circle cx="440" cy="350.1" r="0.9" fill="#2e0c0a"/>
<circle cx="441.2" cy="355.3" r="0.5" fill="#4a140e"/>
<circle cx="459.6" cy="349.4" r="0.5" fill="#4a140e"/>
<circle cx="449.3" cy="338.7" r="1" fill="#2e0c0a"/>
<circle cx="443.4" cy="357.1" r="0.7" fill="#4a140e"/>
<circle cx="449.1" cy="357.9" r="0.8" fill="#2e0c0a"/>
<circle cx="449" cy="352.7" r="0.4" fill="#2e0c0a"/>
<circle cx="442" cy="346.7" r="0.8" fill="#4a140e"/>
<circle cx="441.7" cy="351.2" r="0.5" fill="#4a140e"/>
<circle cx="464.2" cy="348.9" r="0.7" fill="#a85a48"/>
<circle cx="475.9" cy="347.3" r="0.5" fill="#2e0c0a"/>
<circle cx="476.9" cy="355" r="0.6" fill="#8a3c2c"/>
<circle cx="475.9" cy="351.6" r="0.9" fill="#6a2418"/>
<circle cx="472.3" cy="347.4" r="1" fill="#8a3c2c"/>
<circle cx="477.2" cy="349.7" r="0.7" fill="#2e0c0a"/>
<circle cx="474.3" cy="349.1" r="0.9" fill="#4a140e"/>
<circle cx="474.4" cy="352.9" r="0.9" fill="#4a140e"/>
<circle cx="477.2" cy="352.8" r="0.7" fill="#8a3c2c"/>
<circle cx="465.6" cy="353.8" r="0.4" fill="#a85a48"/>
<circle cx="477.1" cy="352.3" r="0.4" fill="#6a2418"/>
<circle cx="474.1" cy="354.1" r="0.6" fill="#2e0c0a"/>
<circle cx="470.1" cy="356.2" r="0.8" fill="#6a2418"/>
<circle cx="476.6" cy="350.4" r="0.6" fill="#6a2418"/>
<circle cx="466.9" cy="351.6" r="0.8" fill="#2e0c0a"/>
<circle cx="474.9" cy="350.8" r="0.8" fill="#a85a48"/>
<circle cx="464.4" cy="355.2" r="0.4" fill="#6a2418"/>
<circle cx="466.3" cy="351.1" r="0.9" fill="#6a2418"/>
<circle cx="465.7" cy="355.8" r="0.6" fill="#6a2418"/>
<circle cx="395.7" cy="331.5" r="0.9" fill="#6a2418"/>
<circle cx="399.1" cy="339.9" r="0.8" fill="#2e0c0a"/>
<circle cx="392.8" cy="345.2" r="0.5" fill="#a85a48"/>
<circle cx="390" cy="334.1" r="0.6" fill="#a85a48"/>
<circle cx="398.4" cy="348.9" r="0.5" fill="#a85a48"/>
<circle cx="397.6" cy="344" r="0.7" fill="#8a3c2c"/>
<circle cx="399.7" cy="328.6" r="0.8" fill="#4a140e"/>
<circle cx="392.6" cy="331.4" r="0.5" fill="#8a3c2c"/>
<circle cx="394.9" cy="349" r="0.5" fill="#8a3c2c"/>
<circle cx="392.2" cy="340.2" r="0.6" fill="#6a2418"/>
<circle cx="392.2" cy="336" r="0.9" fill="#6a2418"/>
<circle cx="392.4" cy="338.2" r="0.8" fill="#6a2418"/>
<circle cx="393.3" cy="348.4" r="0.6" fill="#4a140e"/>
<circle cx="397.6" cy="345.6" r="0.5" fill="#8a3c2c"/>
<circle cx="391.6" cy="339.9" r="0.7" fill="#4a140e"/>
<circle cx="398.1" cy="345" r="0.8" fill="#a85a48"/>
<circle cx="394.9" cy="348.3" r="0.7" fill="#4a140e"/>
<circle cx="395.3" cy="343.4" r="0.6" fill="#8a3c2c"/>
<circle cx="390.5" cy="341.8" r="0.7" fill="#a85a48"/>
<circle cx="390.5" cy="330.8" r="0.8" fill="#a85a48"/>
<circle cx="393.2" cy="339.5" r="0.5" fill="#a85a48"/>
<circle cx="390.7" cy="333.9" r="0.6" fill="#a85a48"/>
<circle cx="391.5" cy="341.2" r="1" fill="#2e0c0a"/>
<circle cx="393.1" cy="340.6" r="0.9" fill="#4a140e"/>
<circle cx="400.9" cy="319" r="0.7" fill="#8a3c2c"/>
<circle cx="393.3" cy="326.3" r="0.8" fill="#2e0c0a"/>
<circle cx="396.8" cy="324.5" r="0.7" fill="#a85a48"/>
<circle cx="393.5" cy="317.1" r="0.9" fill="#6a2418"/>
<circle cx="398.4" cy="317" r="0.8" fill="#8a3c2c"/>
<circle cx="397" cy="316.2" r="0.7" fill="#6a2418"/>
<circle cx="394" cy="326.8" r="0.4" fill="#a85a48"/>
<circle cx="400.2" cy="322.4" r="0.6" fill="#a85a48"/>
<circle cx="395.4" cy="315.1" r="0.6" fill="#2e0c0a"/>
<circle cx="391.8" cy="319.1" r="0.6" fill="#4a140e"/>
<circle cx="399.2" cy="315.6" r="0.6" fill="#4a140e"/>
<circle cx="394.7" cy="318.5" r="0.6" fill="#8a3c2c"/>
<circle cx="394.6" cy="317" r="0.8" fill="#4a140e"/>
<circle cx="395.3" cy="325" r="0.9" fill="#a85a48"/>
<circle cx="395.5" cy="327.7" r="0.7" fill="#2e0c0a"/>
<circle cx="398.7" cy="323.1" r="0.9" fill="#4a140e"/>
<circle cx="416.6" cy="357.4" r="0.8" fill="#4a140e"/>
<circle cx="415.2" cy="357.9" r="0.4" fill="#a85a48"/>
<circle cx="409.4" cy="366.8" r="0.8" fill="#8a3c2c"/>
<circle cx="421.3" cy="357.3" r="0.5" fill="#2e0c0a"/>
<circle cx="410.3" cy="369.4" r="0.9" fill="#a85a48"/>
<circle cx="423.9" cy="361.6" r="0.5" fill="#2e0c0a"/>
<circle cx="412.8" cy="365.8" r="0.6" fill="#a85a48"/>
<circle cx="423.3" cy="357.8" r="0.6" fill="#4a140e"/>
<circle cx="417.8" cy="358.6" r="0.9" fill="#2e0c0a"/>
<circle cx="424.5" cy="362.5" r="0.9" fill="#6a2418"/>
<circle cx="408.2" cy="357.1" r="0.9" fill="#8a3c2c"/>
<circle cx="427.8" cy="365.4" r="0.8" fill="#4a140e"/>
<circle cx="413.6" cy="368.6" r="0.8" fill="#8a3c2c"/>
<circle cx="408.4" cy="364.5" r="0.9" fill="#6a2418"/>
<circle cx="407.8" cy="357.1" r="0.9" fill="#4a140e"/>
<circle cx="415.7" cy="357" r="0.6" fill="#4a140e"/>
<circle cx="425.7" cy="359.5" r="1" fill="#8a3c2c"/>
<circle cx="418" cy="367.9" r="0.6" fill="#a85a48"/>
<circle cx="406.6" cy="362.7" r="0.9" fill="#2e0c0a"/>
<circle cx="424.7" cy="362.4" r="0.4" fill="#6a2418"/>
<circle cx="415.1" cy="359" r="0.7" fill="#6a2418"/>
<circle cx="423.2" cy="360.9" r="0.9" fill="#6a2418"/>
<circle cx="424.5" cy="360.9" r="0.8" fill="#a85a48"/>
<circle cx="423.2" cy="358" r="0.6" fill="#a85a48"/>
<circle cx="413.9" cy="357" r="0.6" fill="#8a3c2c"/>
<circle cx="421.2" cy="364.9" r="0.6" fill="#a85a48"/>
<circle cx="407.8" cy="360.4" r="0.5" fill="#8a3c2c"/>
<circle cx="410.1" cy="358.7" r="0.9" fill="#8a3c2c"/>
<circle cx="419.4" cy="367.4" r="0.6" fill="#4a140e"/>
<circle cx="419" cy="359.2" r="0.8" fill="#6a2418"/>
<circle cx="424.4" cy="363.7" r="0.7" fill="#a85a48"/>
<circle cx="419.2" cy="369.2" r="0.9" fill="#4a140e"/>
<circle cx="414.7" cy="367.2" r="0.6" fill="#4a140e"/>
<circle cx="416.5" cy="356.3" r="0.9" fill="#6a2418"/>
<circle cx="408.9" cy="360.6" r="0.9" fill="#8a3c2c"/>
<circle cx="396.2" cy="365.9" r="0.5" fill="#6a2418"/>
<circle cx="388" cy="358.5" r="0.9" fill="#4a140e"/>
<circle cx="388.8" cy="356.5" r="0.5" fill="#a85a48"/>
<circle cx="389.7" cy="363.2" r="0.7" fill="#6a2418"/>
<circle cx="389.9" cy="356.7" r="0.5" fill="#a85a48"/>
<circle cx="389.4" cy="366.4" r="1" fill="#6a2418"/>
<circle cx="395.3" cy="355.2" r="0.6" fill="#a85a48"/>
<circle cx="392.2" cy="363.9" r="0.7" fill="#4a140e"/>
<circle cx="388.8" cy="364.9" r="0.8" fill="#4a140e"/>
<circle cx="391.5" cy="363.9" r="0.6" fill="#8a3c2c"/>
<circle cx="399.2" cy="361.2" r="0.7" fill="#8a3c2c"/>
<circle cx="389.2" cy="359.9" r="0.5" fill="#4a140e"/>
<circle cx="388.2" cy="356.5" r="0.5" fill="#6a2418"/>
<circle cx="389.1" cy="363.2" r="0.5" fill="#2e0c0a"/>
<circle cx="396.6" cy="361.5" r="0.7" fill="#8a3c2c"/>
<circle cx="399.6" cy="355.8" r="0.6" fill="#2e0c0a"/>
<circle cx="394.8" cy="362.4" r="0.7" fill="#a85a48"/>
<circle cx="389.5" cy="357.8" r="0.7" fill="#2e0c0a"/>
<circle cx="390.9" cy="362.2" r="0.9" fill="#8a3c2c"/>
<circle cx="424.2" cy="336.5" r="0.8" fill="#a85a48"/>
<circle cx="427" cy="340.4" r="0.8" fill="#a85a48"/>
<circle cx="434.5" cy="342.5" r="0.7" fill="#4a140e"/>
<circle cx="426.4" cy="341.8" r="0.6" fill="#6a2418"/>
<circle cx="424.9" cy="339.6" r="0.5" fill="#2e0c0a"/>
<circle cx="436.7" cy="339.9" r="0.7" fill="#a85a48"/>
<circle cx="432.8" cy="345.4" r="0.4" fill="#2e0c0a"/>
<circle cx="432.9" cy="347.4" r="0.9" fill="#a85a48"/>
<circle cx="434.4" cy="334" r="0.5" fill="#8a3c2c"/>
<circle cx="431.4" cy="336.1" r="0.4" fill="#4a140e"/>
<circle cx="433.3" cy="339" r="1" fill="#8a3c2c"/>
<circle cx="424.4" cy="344.8" r="0.7" fill="#4a140e"/>
<circle cx="426.1" cy="336.2" r="0.5" fill="#a85a48"/>
<circle cx="426.5" cy="341.6" r="0.8" fill="#4a140e"/>
<circle cx="432.2" cy="337.7" r="0.5" fill="#4a140e"/>
<circle cx="433.9" cy="342.1" r="0.7" fill="#2e0c0a"/>
<circle cx="428.7" cy="347.1" r="0.8" fill="#8a3c2c"/>
<circle cx="434.2" cy="334.1" r="0.5" fill="#2e0c0a"/>
<circle cx="431.7" cy="345.3" r="1" fill="#4a140e"/>
<circle cx="511" cy="323.6" r="0.5" fill="#6a2418"/>
<circle cx="506.6" cy="333.7" r="0.9" fill="#2e0c0a"/>
<circle cx="513.2" cy="328.2" r="0.8" fill="#8a3c2c"/>
<circle cx="510.6" cy="325.3" r="0.6" fill="#a85a48"/>
<circle cx="515.1" cy="327.4" r="0.5" fill="#6a2418"/>
<circle cx="508.6" cy="327.2" r="0.9" fill="#4a140e"/>
<circle cx="512.1" cy="326.9" r="0.5" fill="#2e0c0a"/>
<circle cx="513.9" cy="329.4" r="0.5" fill="#2e0c0a"/>
<circle cx="506.6" cy="331.3" r="0.5" fill="#2e0c0a"/>
<circle cx="507.1" cy="330.3" r="0.9" fill="#2e0c0a"/>
<circle cx="511" cy="335.2" r="0.7" fill="#6a2418"/>
<circle cx="506.8" cy="333.9" r="0.8" fill="#2e0c0a"/>
<circle cx="508.2" cy="338.4" r="0.8" fill="#8a3c2c"/>
<circle cx="511" cy="337.8" r="0.5" fill="#a85a48"/>
<circle cx="505.4" cy="328.2" r="1" fill="#8a3c2c"/>
<circle cx="505.8" cy="334.5" r="1" fill="#2e0c0a"/>
<circle cx="504.8" cy="333.3" r="1" fill="#8a3c2c"/>
<circle cx="516.5" cy="304.1" r="1" fill="#8a3c2c"/>
<circle cx="508.5" cy="306.6" r="0.4" fill="#6a2418"/>
<circle cx="515" cy="303.8" r="0.5" fill="#6a2418"/>
<circle cx="511.8" cy="303.4" r="0.5" fill="#a85a48"/>
<circle cx="516.6" cy="309" r="1" fill="#a85a48"/>
<circle cx="511.2" cy="305.4" r="0.5" fill="#a85a48"/>
<circle cx="508.3" cy="304.2" r="0.6" fill="#8a3c2c"/>
<circle cx="512.1" cy="305.3" r="1" fill="#8a3c2c"/>
<circle cx="515.5" cy="305.7" r="0.4" fill="#6a2418"/>
<circle cx="511.9" cy="304.4" r="0.5" fill="#6a2418"/>
<circle cx="510.3" cy="311.8" r="0.7" fill="#8a3c2c"/>
<circle cx="516.4" cy="309.6" r="0.6" fill="#6a2418"/>
<circle cx="514.4" cy="313.4" r="0.5" fill="#2e0c0a"/>
<circle cx="511.3" cy="314.9" r="0.9" fill="#4a140e"/>
<circle cx="511.4" cy="313.9" r="0.5" fill="#4a140e"/>
<circle cx="502" cy="362.8" r="0.9" fill="#4a140e"/>
<circle cx="497.8" cy="358.8" r="1" fill="#8a3c2c"/>
<circle cx="503.3" cy="362.8" r="0.9" fill="#4a140e"/>
<circle cx="497.5" cy="358.2" r="0.8" fill="#4a140e"/>
<circle cx="495.4" cy="361.4" r="0.4" fill="#2e0c0a"/>
<circle cx="503.3" cy="363.9" r="0.8" fill="#a85a48"/>
<circle cx="494.2" cy="361.7" r="1" fill="#8a3c2c"/>
<circle cx="499.9" cy="363.9" r="0.5" fill="#8a3c2c"/>
<circle cx="492.7" cy="362.5" r="0.7" fill="#8a3c2c"/>
<circle cx="496.8" cy="358.7" r="0.5" fill="#6a2418"/>
<circle cx="494.8" cy="360.8" r="0.8" fill="#8a3c2c"/>
<circle cx="505.7" cy="365.2" r="0.6" fill="#6a2418"/>
<circle cx="502" cy="355.4" r="0.8" fill="#2e0c0a"/>
<circle cx="496.5" cy="359.3" r="0.7" fill="#2e0c0a"/>
<circle cx="502.5" cy="358.8" r="0.8" fill="#2e0c0a"/>
<circle cx="492.4" cy="360.2" r="0.7" fill="#6a2418"/>
<circle cx="505.8" cy="358.2" r="0.5" fill="#2e0c0a"/>
<circle cx="414.6" cy="326.4" r="1" fill="#2e0c0a"/>
<circle cx="405.2" cy="331.2" r="0.5" fill="#6a2418"/>
<circle cx="405.6" cy="324.7" r="0.4" fill="#a85a48"/>
<circle cx="406.1" cy="330.2" r="0.9" fill="#8a3c2c"/>
<circle cx="410.5" cy="330.3" r="0.9" fill="#2e0c0a"/>
<circle cx="411.8" cy="328.3" r="0.8" fill="#4a140e"/>
<circle cx="404.6" cy="331.1" r="0.8" fill="#6a2418"/>
<circle cx="411.1" cy="328" r="0.5" fill="#6a2418"/>
<circle cx="407.7" cy="323.6" r="0.6" fill="#2e0c0a"/>
<circle cx="406.5" cy="322.1" r="0.6" fill="#8a3c2c"/>
<circle cx="409.6" cy="330.2" r="0.7" fill="#a85a48"/>
<circle cx="415.6" cy="327.7" r="0.8" fill="#4a140e"/>
<circle cx="412.9" cy="332.2" r="0.8" fill="#4a140e"/>
<circle cx="414.8" cy="329.8" r="0.9" fill="#2e0c0a"/>
<circle cx="411.3" cy="326.9" r="0.7" fill="#6a2418"/>
<circle cx="434.3" cy="357.3" r="0.9" fill="#4a140e"/>
<circle cx="430.7" cy="360.5" r="0.9" fill="#8a3c2c"/>
<circle cx="441.5" cy="358.8" r="0.7" fill="#a85a48"/>
<circle cx="439.8" cy="361.6" r="0.7" fill="#4a140e"/>
<circle cx="433" cy="363.1" r="0.5" fill="#2e0c0a"/>
<circle cx="439.5" cy="357.8" r="0.4" fill="#2e0c0a"/>
<circle cx="433.5" cy="358" r="0.6" fill="#4a140e"/>
<circle cx="429.6" cy="360.8" r="0.9" fill="#8a3c2c"/>
<circle cx="434.7" cy="356.3" r="0.7" fill="#6a2418"/>
<circle cx="438.5" cy="362.3" r="0.7" fill="#2e0c0a"/>
<circle cx="435.7" cy="354.4" r="0.8" fill="#8a3c2c"/>
<circle cx="435.5" cy="363.5" r="0.9" fill="#6a2418"/>
<circle cx="441.5" cy="364" r="0.5" fill="#a85a48"/>
<circle cx="435.9" cy="357.1" r="0.7" fill="#2e0c0a"/>
<circle cx="433.3" cy="364.8" r="0.5" fill="#6a2418"/>
<circle cx="440.5" cy="365.4" r="0.8" fill="#4a140e"/>
<circle cx="440.1" cy="356.1" r="0.7" fill="#2e0c0a"/>
<circle cx="463.9" cy="369.4" r="0.7" fill="#4a140e"/>
<circle cx="452.4" cy="369.5" r="0.9" fill="#6a2418"/>
<circle cx="463" cy="364.9" r="1" fill="#6a2418"/>
<circle cx="456.9" cy="370.7" r="0.7" fill="#a85a48"/>
<circle cx="455.2" cy="369.6" r="0.6" fill="#2e0c0a"/>
<circle cx="453.4" cy="363.7" r="1" fill="#4a140e"/>
<circle cx="462.5" cy="365.8" r="0.6" fill="#4a140e"/>
<circle cx="457.8" cy="361.7" r="0.5" fill="#a85a48"/>
<circle cx="453" cy="363.8" r="0.9" fill="#6a2418"/>
<circle cx="462" cy="368.4" r="0.9" fill="#8a3c2c"/>
<circle cx="455.2" cy="367.5" r="0.8" fill="#4a140e"/>
<circle cx="453.8" cy="364.5" r="0.8" fill="#2e0c0a"/>
<circle cx="464.5" cy="369.3" r="0.5" fill="#8a3c2c"/>
<circle cx="452.7" cy="366.9" r="0.5" fill="#8a3c2c"/>
<circle cx="457.4" cy="363.7" r="0.7" fill="#8a3c2c"/>
<circle cx="510" cy="294.7" r="0.6" fill="#2e0c0a"/>
<circle cx="512.8" cy="284.5" r="0.6" fill="#6a2418"/>
<circle cx="517.4" cy="285.7" r="0.7" fill="#4a140e"/>
<circle cx="512.1" cy="294.9" r="0.4" fill="#2e0c0a"/>
<circle cx="509.4" cy="288.9" r="1" fill="#2e0c0a"/>
<circle cx="507.5" cy="286.8" r="0.9" fill="#8a3c2c"/>
<circle cx="509.5" cy="293.6" r="0.6" fill="#6a2418"/>
<circle cx="519.7" cy="290.5" r="0.8" fill="#8a3c2c"/>
<circle cx="516.5" cy="295" r="0.9" fill="#2e0c0a"/>
<circle cx="509.8" cy="288.6" r="0.5" fill="#8a3c2c"/>
<circle cx="511.1" cy="287.3" r="0.8" fill="#8a3c2c"/>
<circle cx="513.5" cy="295.8" r="0.5" fill="#6a2418"/>
<circle cx="514.8" cy="294" r="0.9" fill="#8a3c2c"/>
<circle cx="516.9" cy="291.3" r="0.7" fill="#6a2418"/>
<circle cx="516.9" cy="291.2" r="0.8" fill="#8a3c2c"/>
<circle cx="418.1" cy="308.2" r="0.6" fill="#4a140e"/>
<circle cx="418.4" cy="302.1" r="0.6" fill="#4a140e"/>
<circle cx="411.2" cy="306.2" r="0.8" fill="#4a140e"/>
<circle cx="416.9" cy="309.7" r="0.8" fill="#6a2418"/>
<circle cx="415.8" cy="301.4" r="0.8" fill="#a85a48"/>
<circle cx="414.8" cy="299.1" r="0.7" fill="#2e0c0a"/>
<circle cx="422.1" cy="303.9" r="0.9" fill="#2e0c0a"/>
<circle cx="420.4" cy="307.2" r="1" fill="#8a3c2c"/>
<circle cx="411.5" cy="304.2" r="0.6" fill="#6a2418"/>
<circle cx="413.3" cy="303.7" r="0.8" fill="#2e0c0a"/>
<circle cx="413.2" cy="300.4" r="0.8" fill="#2e0c0a"/>
<circle cx="421.2" cy="302.8" r="0.6" fill="#8a3c2c"/>
<circle cx="470.9" cy="287.8" r="0.4" fill="#2e0c0a"/>
<circle cx="464.3" cy="285" r="0.6" fill="#8a3c2c"/>
<circle cx="466.2" cy="281.4" r="1" fill="#a85a48"/>
<circle cx="475.6" cy="281.8" r="0.8" fill="#6a2418"/>
<circle cx="472" cy="282.1" r="0.5" fill="#a85a48"/>
<circle cx="467.5" cy="281.9" r="0.7" fill="#4a140e"/>
<circle cx="470.4" cy="289.6" r="0.5" fill="#8a3c2c"/>
<circle cx="470.3" cy="287.6" r="0.9" fill="#2e0c0a"/>
<circle cx="469.4" cy="282" r="0.8" fill="#6a2418"/>
<circle cx="475.7" cy="283.9" r="0.9" fill="#8a3c2c"/>
<circle cx="467.6" cy="288" r="0.5" fill="#4a140e"/>
<circle cx="477" cy="285.3" r="0.6" fill="#8a3c2c"/>
<circle cx="505.7" cy="344.6" r="0.9" fill="#4a140e"/>
<circle cx="504.8" cy="357.8" r="0.7" fill="#4a140e"/>
<circle cx="503.6" cy="355.7" r="1" fill="#8a3c2c"/>
<circle cx="508.5" cy="347.8" r="0.5" fill="#a85a48"/>
<circle cx="513.3" cy="352.4" r="0.5" fill="#8a3c2c"/>
<circle cx="503.4" cy="351.4" r="0.6" fill="#4a140e"/>
<circle cx="511.8" cy="351.2" r="0.4" fill="#a85a48"/>
<circle cx="503.8" cy="347.4" r="0.6" fill="#6a2418"/>
<circle cx="508.6" cy="348.3" r="1" fill="#2e0c0a"/>
<circle cx="510.9" cy="357.5" r="0.6" fill="#8a3c2c"/>
<circle cx="502.1" cy="354.3" r="0.5" fill="#8a3c2c"/>
<circle cx="504.5" cy="358.3" r="0.8" fill="#4a140e"/>
<circle cx="503.2" cy="346.4" r="0.8" fill="#8a3c2c"/>
<circle cx="506.1" cy="356.1" r="0.5" fill="#6a2418"/>
<circle cx="507.9" cy="358.3" r="0.4" fill="#4a140e"/>
<circle cx="500.9" cy="353.9" r="0.8" fill="#4a140e"/>
<circle cx="506.4" cy="355.2" r="0.5" fill="#a85a48"/>
<circle cx="393.2" cy="306" r="0.5" fill="#2e0c0a"/>
<circle cx="395.5" cy="304.6" r="0.5" fill="#a85a48"/>
<circle cx="391.1" cy="311.8" r="1" fill="#4a140e"/>
<circle cx="393.8" cy="307.8" r="0.6" fill="#4a140e"/>
<circle cx="389.4" cy="310.8" r="0.5" fill="#4a140e"/>
<circle cx="385.6" cy="299.5" r="0.5" fill="#4a140e"/>
<circle cx="392.7" cy="306" r="0.6" fill="#6a2418"/>
<circle cx="387.5" cy="304.5" r="0.6" fill="#4a140e"/>
<circle cx="394" cy="300.6" r="0.4" fill="#6a2418"/>
<circle cx="388.3" cy="311.2" r="1" fill="#6a2418"/>
<circle cx="387.3" cy="309.5" r="1" fill="#8a3c2c"/>
<circle cx="389.9" cy="309.8" r="0.4" fill="#8a3c2c"/>
<circle cx="385.1" cy="303.7" r="1" fill="#2e0c0a"/>
<circle cx="388.3" cy="310.9" r="0.8" fill="#2e0c0a"/>
<circle cx="386.9" cy="304.9" r="0.8" fill="#4a140e"/>
<circle cx="474.3" cy="368.1" r="0.7" fill="#2e0c0a"/>
<circle cx="475.4" cy="367.3" r="0.6" fill="#2e0c0a"/>
<circle cx="486.3" cy="370.8" r="0.6" fill="#8a3c2c"/>
<circle cx="479.6" cy="363.7" r="0.5" fill="#4a140e"/>
<circle cx="485.4" cy="363.8" r="0.5" fill="#6a2418"/>
<circle cx="477.5" cy="364.7" r="0.6" fill="#4a140e"/>
<circle cx="487" cy="365.9" r="0.7" fill="#2e0c0a"/>
<circle cx="486.3" cy="370.7" r="0.7" fill="#8a3c2c"/>
<circle cx="481.1" cy="369" r="0.7" fill="#6a2418"/>
<circle cx="481.9" cy="370.5" r="0.6" fill="#2e0c0a"/>
<circle cx="483" cy="368.6" r="0.7" fill="#8a3c2c"/>
<circle cx="477.6" cy="368" r="0.6" fill="#a85a48"/>
<circle cx="475.4" cy="366.3" r="0.9" fill="#6a2418"/>
<circle cx="485.9" cy="370.4" r="0.8" fill="#2e0c0a"/>
<circle cx="485.2" cy="366.5" r="0.8" fill="#4a140e"/>
<circle cx="396.8" cy="280.7" r="0.9" fill="#a85a48"/>
<circle cx="403.7" cy="281.3" r="1" fill="#8a3c2c"/>
<circle cx="398.5" cy="284.8" r="0.8" fill="#6a2418"/>
<circle cx="402.4" cy="286" r="0.7" fill="#6a2418"/>
<circle cx="394.9" cy="283.5" r="0.5" fill="#8a3c2c"/>
<circle cx="405" cy="281.1" r="0.8" fill="#2e0c0a"/>
<circle cx="400.7" cy="286" r="0.4" fill="#a85a48"/>
<circle cx="403.7" cy="283.4" r="0.7" fill="#2e0c0a"/>
<circle cx="398.8" cy="285.4" r="1" fill="#2e0c0a"/>
<circle cx="403.8" cy="281.8" r="0.6" fill="#6a2418"/>
<circle cx="396.5" cy="280.8" r="0.9" fill="#4a140e"/>
<circle cx="438.9" cy="282.4" r="0.7" fill="#2e0c0a"/>
<circle cx="432.6" cy="285.1" r="0.7" fill="#2e0c0a"/>
<circle cx="434.7" cy="284.9" r="0.6" fill="#8a3c2c"/>
<circle cx="435.3" cy="285.4" r="0.5" fill="#6a2418"/>
<circle cx="435" cy="286.8" r="0.6" fill="#2e0c0a"/>
<circle cx="439.8" cy="286.2" r="0.8" fill="#4a140e"/>
<circle cx="437.1" cy="279.3" r="0.9" fill="#a85a48"/>
<circle cx="439.1" cy="284.4" r="1" fill="#2e0c0a"/>
<circle cx="439.4" cy="285.2" r="0.9" fill="#2e0c0a"/>
<circle cx="496.5" cy="304.9" r="0.4" fill="#6a2418"/>
<circle cx="501.5" cy="297.6" r="1" fill="#4a140e"/>
<circle cx="501.7" cy="305.4" r="0.9" fill="#6a2418"/>
<circle cx="497.3" cy="301" r="0.9" fill="#8a3c2c"/>
<circle cx="498" cy="301.7" r="0.9" fill="#a85a48"/>
<circle cx="501.2" cy="299.2" r="0.5" fill="#6a2418"/>
<circle cx="505.5" cy="300.2" r="0.6" fill="#8a3c2c"/>
<circle cx="501.8" cy="305.3" r="0.8" fill="#8a3c2c"/>
<circle cx="499.4" cy="296.7" r="0.5" fill="#6a2418"/>
<circle cx="505.2" cy="297.1" r="0.8" fill="#a85a48"/>
<circle cx="495.9" cy="300.4" r="0.9" fill="#a85a48"/>
<circle cx="500.8" cy="304.1" r="0.7" fill="#a85a48"/>
<circle cx="457" cy="320.3" r="0.6" fill="#4a140e"/>
<circle cx="459" cy="325.8" r="0.5" fill="#8a3c2c"/>
<circle cx="454.8" cy="327.4" r="0.8" fill="#2e0c0a"/>
<circle cx="456" cy="321.5" r="1" fill="#a85a48"/>
<circle cx="456" cy="322.5" r="0.8" fill="#2e0c0a"/>
<circle cx="458.8" cy="325.5" r="0.6" fill="#2e0c0a"/>
<circle cx="450.2" cy="326.3" r="0.7" fill="#4a140e"/>
<circle cx="449.2" cy="326.5" r="0.7" fill="#8a3c2c"/>
<circle cx="456.6" cy="329.7" r="0.9" fill="#4a140e"/>
<circle cx="455.4" cy="330.6" r="0.9" fill="#4a140e"/>
<circle cx="458.5" cy="324.6" r="0.9" fill="#6a2418"/>
<circle cx="456.8" cy="323.2" r="0.7" fill="#8a3c2c"/>
<circle cx="423.4" cy="342.9" r="0.8" fill="#8a3c2c"/>
<circle cx="424.3" cy="340.6" r="0.8" fill="#a85a48"/>
<circle cx="418" cy="334.6" r="0.9" fill="#a85a48"/>
<circle cx="417.5" cy="343.4" r="0.5" fill="#4a140e"/>
<circle cx="417.2" cy="342.6" r="0.5" fill="#2e0c0a"/>
<circle cx="414.2" cy="343.1" r="1" fill="#a85a48"/>
<circle cx="423.2" cy="343.4" r="0.4" fill="#4a140e"/>
<circle cx="419.3" cy="346.4" r="0.8" fill="#6a2418"/>
<circle cx="422.9" cy="341.5" r="0.5" fill="#2e0c0a"/>
<circle cx="418.5" cy="343.5" r="0.5" fill="#8a3c2c"/>
<circle cx="416.9" cy="343.2" r="0.8" fill="#6a2418"/>
<circle cx="415.8" cy="343.3" r="0.4" fill="#4a140e"/>
<circle cx="468.9" cy="335" r="0.6" fill="#4a140e"/>
<circle cx="464.2" cy="331.2" r="0.7" fill="#4a140e"/>
<circle cx="462" cy="334.3" r="0.6" fill="#a85a48"/>
<circle cx="461.1" cy="334.3" r="0.6" fill="#a85a48"/>
<circle cx="462.3" cy="331.9" r="0.5" fill="#8a3c2c"/>
<circle cx="463.4" cy="338.8" r="1" fill="#6a2418"/>
<circle cx="463.8" cy="336.7" r="0.7" fill="#6a2418"/>
<circle cx="467.4" cy="334.4" r="0.6" fill="#4a140e"/>
<circle cx="463.3" cy="338.2" r="0.6" fill="#a85a48"/>
<circle cx="463.8" cy="331.2" r="0.9" fill="#4a140e"/>
<circle cx="461" cy="338.4" r="0.8" fill="#6a2418"/>
<circle cx="518.8" cy="355.6" r="0.8" fill="#a85a48"/>
<circle cx="519" cy="365.1" r="0.5" fill="#a85a48"/>
<circle cx="510.9" cy="366.4" r="0.6" fill="#a85a48"/>
<circle cx="519.7" cy="357.3" r="0.7" fill="#8a3c2c"/>
<circle cx="519.1" cy="366" r="1" fill="#4a140e"/>
<circle cx="517.9" cy="358.7" r="0.6" fill="#6a2418"/>
<circle cx="516.9" cy="364.7" r="0.7" fill="#4a140e"/>
<circle cx="517.4" cy="357.5" r="0.5" fill="#8a3c2c"/>
<circle cx="518.5" cy="357.4" r="0.5" fill="#6a2418"/>
<circle cx="518" cy="358.5" r="0.9" fill="#4a140e"/>
<circle cx="519" cy="360.7" r="0.7" fill="#2e0c0a"/>
<circle cx="514.3" cy="358.2" r="0.9" fill="#2e0c0a"/>
<circle cx="517.6" cy="358.2" r="1" fill="#2e0c0a"/>
<circle cx="512.8" cy="364.4" r="0.5" fill="#6a2418"/>
<circle cx="511.7" cy="359.9" r="0.7" fill="#a85a48"/>
<circle cx="487.7" cy="353.6" r="0.8" fill="#2e0c0a"/>
<circle cx="491.6" cy="357.7" r="0.6" fill="#2e0c0a"/>
<circle cx="493.4" cy="358.4" r="1" fill="#2e0c0a"/>
<circle cx="486.8" cy="358.5" r="0.9" fill="#8a3c2c"/>
<circle cx="491.6" cy="353.3" r="0.5" fill="#8a3c2c"/>
<circle cx="492.6" cy="353.9" r="0.9" fill="#a85a48"/>
<circle cx="493.2" cy="359" r="0.6" fill="#2e0c0a"/>
<circle cx="484.7" cy="354.9" r="0.9" fill="#2e0c0a"/>
<circle cx="494.1" cy="357.4" r="0.5" fill="#4a140e"/>
<circle cx="487.6" cy="358.4" r="0.5" fill="#2e0c0a"/>
<circle cx="492.7" cy="357.6" r="0.4" fill="#8a3c2c"/>
<circle cx="491.5" cy="357.8" r="0.5" fill="#8a3c2c"/>
<circle cx="404.6" cy="352.1" r="0.7" fill="#6a2418"/>
<circle cx="401.7" cy="348.3" r="0.8" fill="#4a140e"/>
<circle cx="401.7" cy="348.2" r="0.5" fill="#a85a48"/>
<circle cx="397" cy="351.2" r="1" fill="#a85a48"/>
<circle cx="402.1" cy="354.5" r="0.7" fill="#2e0c0a"/>
<circle cx="398.6" cy="355.5" r="1" fill="#2e0c0a"/>
<circle cx="400.9" cy="356.5" r="0.6" fill="#8a3c2c"/>
<circle cx="395.5" cy="353.2" r="0.7" fill="#6a2418"/>
<circle cx="396.1" cy="352.8" r="0.8" fill="#a85a48"/>
<circle cx="395.8" cy="350.6" r="0.4" fill="#2e0c0a"/>
<circle cx="396" cy="354.7" r="0.5" fill="#6a2418"/>
<circle cx="396.7" cy="354.3" r="0.8" fill="#8a3c2c"/>
<circle cx="450" cy="304.2" r="0.6" fill="#6a2418"/>
<circle cx="454.8" cy="305" r="0.6" fill="#4a140e"/>
<circle cx="451.4" cy="302.6" r="0.9" fill="#4a140e"/>
<circle cx="451.7" cy="309.5" r="1" fill="#4a140e"/>
<circle cx="449.1" cy="304.7" r="1" fill="#a85a48"/>
<circle cx="454.2" cy="303.4" r="0.5" fill="#4a140e"/>
<circle cx="447.9" cy="306.6" r="0.8" fill="#2e0c0a"/>
<circle cx="448.9" cy="309.8" r="0.6" fill="#a85a48"/>
<circle cx="451.4" cy="302.9" r="0.9" fill="#8a3c2c"/>
<circle cx="457.2" cy="303.8" r="0.9" fill="#2e0c0a"/>
<circle cx="452.3" cy="303.2" r="0.7" fill="#4a140e"/>
<circle cx="412" cy="312.8" r="0.6" fill="#8a3c2c"/>
<circle cx="410.1" cy="315.8" r="0.5" fill="#a85a48"/>
<circle cx="411.9" cy="320" r="0.8" fill="#2e0c0a"/>
<circle cx="410" cy="315.3" r="0.6" fill="#8a3c2c"/>
<circle cx="410.7" cy="312.7" r="0.7" fill="#8a3c2c"/>
<circle cx="417.3" cy="319.8" r="0.6" fill="#2e0c0a"/>
<circle cx="416.2" cy="315" r="0.8" fill="#4a140e"/>
<circle cx="417.6" cy="315" r="0.6" fill="#2e0c0a"/>
<circle cx="412.7" cy="319.4" r="1" fill="#4a140e"/>
<circle cx="411.2" cy="317.9" r="0.8" fill="#4a140e"/>
<circle cx="415.8" cy="313" r="0.4" fill="#a85a48"/>
<circle cx="484.9" cy="303.8" r="0.9" fill="#6a2418"/>
<circle cx="486.1" cy="300.1" r="0.6" fill="#a85a48"/>
<circle cx="483.5" cy="304.4" r="0.9" fill="#4a140e"/>
<circle cx="485.3" cy="303.2" r="0.9" fill="#2e0c0a"/>
<circle cx="482.3" cy="305.3" r="0.6" fill="#2e0c0a"/>
<circle cx="491.2" cy="302.9" r="0.7" fill="#2e0c0a"/>
<circle cx="483.9" cy="301.6" r="0.9" fill="#6a2418"/>
<circle cx="492.2" cy="307.5" r="1" fill="#a85a48"/>
<circle cx="487.7" cy="301.1" r="1" fill="#6a2418"/>
<circle cx="486.1" cy="300.2" r="0.5" fill="#a85a48"/>
<circle cx="482.5" cy="303.3" r="1" fill="#a85a48"/>
<circle cx="438.7" cy="327" r="0.9" fill="#2e0c0a"/>
<circle cx="439.8" cy="336.7" r="0.8" fill="#2e0c0a"/>
<circle cx="437.7" cy="329.3" r="0.6" fill="#6a2418"/>
<circle cx="441.6" cy="327.1" r="0.6" fill="#a85a48"/>
<circle cx="444" cy="335.7" r="0.7" fill="#2e0c0a"/>
<circle cx="443.4" cy="327.6" r="0.9" fill="#4a140e"/>
<circle cx="444.5" cy="332.3" r="0.6" fill="#2e0c0a"/>
<circle cx="444.7" cy="329.5" r="0.9" fill="#2e0c0a"/>
<circle cx="444.3" cy="329.4" r="0.6" fill="#a85a48"/>
<circle cx="442.4" cy="334.6" r="0.6" fill="#a85a48"/>
<circle cx="442.3" cy="328.7" r="0.5" fill="#8a3c2c"/>
<circle cx="438" cy="332.6" r="0.9" fill="#6a2418"/>
<circle cx="500.7" cy="319.7" r="0.5" fill="#6a2418"/>
<circle cx="507.1" cy="317" r="0.9" fill="#a85a48"/>
<circle cx="501.3" cy="321.4" r="0.9" fill="#2e0c0a"/>
<circle cx="498.9" cy="315.5" r="0.5" fill="#6a2418"/>
<circle cx="501.7" cy="313.8" r="0.4" fill="#4a140e"/>
<circle cx="509.6" cy="317.3" r="0.7" fill="#a85a48"/>
<circle cx="507.2" cy="315.3" r="0.9" fill="#8a3c2c"/>
<circle cx="506.3" cy="318.7" r="0.6" fill="#4a140e"/>
<circle cx="508.6" cy="316.8" r="0.7" fill="#4a140e"/>
<circle cx="502.8" cy="318.6" r="0.7" fill="#a85a48"/>
<circle cx="504.3" cy="314.7" r="0.5" fill="#6a2418"/>
<circle cx="423.5" cy="356.9" r="0.6" fill="#4a140e"/>
<circle cx="425.7" cy="350.7" r="0.9" fill="#4a140e"/>
<circle cx="424.4" cy="351.9" r="0.8" fill="#6a2418"/>
<circle cx="425.6" cy="357.1" r="0.5" fill="#a85a48"/>
<circle cx="429.2" cy="353.4" r="1" fill="#4a140e"/>
<circle cx="423.6" cy="353.2" r="0.4" fill="#a85a48"/>
<circle cx="428.4" cy="356.7" r="0.5" fill="#4a140e"/>
<circle cx="424.9" cy="348.4" r="0.7" fill="#a85a48"/>
<circle cx="423.1" cy="357.2" r="0.7" fill="#2e0c0a"/>
<circle cx="432" cy="355.2" r="1" fill="#2e0c0a"/>
<circle cx="432.1" cy="352.2" r="0.7" fill="#8a3c2c"/>
<circle cx="463.1" cy="355.6" r="0.8" fill="#4a140e"/>
<circle cx="467.7" cy="361.2" r="0.5" fill="#6a2418"/>
<circle cx="458.1" cy="359.1" r="0.6" fill="#a85a48"/>
<circle cx="466.8" cy="361.4" r="0.9" fill="#6a2418"/>
<circle cx="463" cy="356.3" r="0.7" fill="#4a140e"/>
<circle cx="458.7" cy="357.3" r="0.5" fill="#8a3c2c"/>
<circle cx="464.3" cy="360.3" r="0.6" fill="#a85a48"/>
<circle cx="466.5" cy="362.5" r="0.7" fill="#8a3c2c"/>
<circle cx="463.8" cy="360.8" r="1" fill="#4a140e"/>
<circle cx="465.8" cy="355.7" r="0.6" fill="#6a2418"/>
<circle cx="460.4" cy="362.6" r="0.5" fill="#4a140e"/>
<circle cx="517.5" cy="342.7" r="0.4" fill="#6a2418"/>
<circle cx="512.3" cy="346.6" r="0.9" fill="#8a3c2c"/>
<circle cx="513.2" cy="346.1" r="0.5" fill="#2e0c0a"/>
<circle cx="515.4" cy="341.5" r="0.7" fill="#6a2418"/>
<circle cx="513.4" cy="345" r="0.5" fill="#8a3c2c"/>
<circle cx="517.1" cy="341.4" r="0.5" fill="#8a3c2c"/>
<circle cx="514.6" cy="347.5" r="1" fill="#8a3c2c"/>
<circle cx="516.1" cy="348.4" r="0.5" fill="#2e0c0a"/>
<circle cx="518" cy="345.7" r="0.9" fill="#2e0c0a"/>
<circle cx="514.9" cy="343.4" r="0.6" fill="#8a3c2c"/>
<circle cx="393.5" cy="292.2" r="0.5" fill="#2e0c0a"/>
<circle cx="385.8" cy="291.1" r="0.6" fill="#6a2418"/>
<circle cx="391.3" cy="282.7" r="0.6" fill="#2e0c0a"/>
<circle cx="385.9" cy="287.2" r="0.4" fill="#4a140e"/>
<circle cx="392.5" cy="293" r="0.7" fill="#a85a48"/>
<circle cx="391.3" cy="283.5" r="0.4" fill="#8a3c2c"/>
<circle cx="392.7" cy="287.2" r="0.6" fill="#2e0c0a"/>
<circle cx="388.7" cy="286.9" r="0.9" fill="#6a2418"/>
<circle cx="392.4" cy="292.5" r="0.5" fill="#4a140e"/>
<circle cx="389.6" cy="285.1" r="0.6" fill="#4a140e"/>
<line x1="414.3" y1="307" x2="419.8" y2="310.9" stroke="#2e0c0a" stroke-width="1" stroke-linecap="round"/>
<line x1="410.4" y1="367.8" x2="405.7" y2="369.1" stroke="#9a5040" stroke-width="1.5" stroke-linecap="round"/>
<line x1="445.7" y1="304" x2="443.8" y2="306.4" stroke="#4a1a14" stroke-width="1" stroke-linecap="round"/>
<line x1="479.2" y1="349.5" x2="475.2" y2="351" stroke="#7a3428" stroke-width="0.9" stroke-linecap="round"/>
<line x1="411.2" y1="284.3" x2="412.8" y2="286.3" stroke="#4a1a14" stroke-width="1.4" stroke-linecap="round"/>
<line x1="417.1" y1="280.4" x2="411.1" y2="282.9" stroke="#2e0c0a" stroke-width="1.2" stroke-linecap="round"/>
<line x1="514.9" y1="282.7" x2="514.8" y2="286.8" stroke="#c08878" stroke-width="1" stroke-linecap="round"/>
<line x1="494.8" y1="320" x2="499" y2="322.9" stroke="#7a3428" stroke-width="0.9" stroke-linecap="round"/>
<line x1="450.1" y1="310" x2="452" y2="312.6" stroke="#7a3428" stroke-width="1" stroke-linecap="round"/>
<line x1="388.1" y1="352.6" x2="393.5" y2="357.2" stroke="#c08878" stroke-width="1.5" stroke-linecap="round"/>
<line x1="405.7" y1="317" x2="409.9" y2="321.2" stroke="#c08878" stroke-width="1.1" stroke-linecap="round"/>
<line x1="424.7" y1="366.9" x2="426.1" y2="371.6" stroke="#b06a58" stroke-width="0.9" stroke-linecap="round"/>
<line x1="477.9" y1="351.7" x2="482.8" y2="352.2" stroke="#7a3428" stroke-width="1.5" stroke-linecap="round"/>
<line x1="502.2" y1="280.9" x2="495.4" y2="282.5" stroke="#9a5040" stroke-width="1" stroke-linecap="round"/>
<line x1="389.1" y1="351.9" x2="390.9" y2="355.5" stroke="#2e0c0a" stroke-width="1" stroke-linecap="round"/>
<line x1="496.5" y1="334.3" x2="494" y2="334.3" stroke="#9a5040" stroke-width="0.9" stroke-linecap="round"/>
<line x1="465.6" y1="372.4" x2="465.9" y2="374.9" stroke="#4a1a14" stroke-width="1.3" stroke-linecap="round"/>
<line x1="441.1" y1="329.5" x2="434.6" y2="332" stroke="#b06a58" stroke-width="0.9" stroke-linecap="round"/>
<line x1="430.7" y1="356.7" x2="431.9" y2="359.2" stroke="#4a1a14" stroke-width="1.1" stroke-linecap="round"/>
<line x1="514" y1="296.9" x2="516.2" y2="299.1" stroke="#4a1a14" stroke-width="1.1" stroke-linecap="round"/>
<line x1="405.3" y1="371.1" x2="402.9" y2="372.6" stroke="#c08878" stroke-width="1.4" stroke-linecap="round"/>
<line x1="431" y1="326.6" x2="434.1" y2="330.2" stroke="#7a3428" stroke-width="1" stroke-linecap="round"/>
<line x1="502.9" y1="372.1" x2="500.4" y2="374.4" stroke="#7a3428" stroke-width="1.5" stroke-linecap="round"/>
<line x1="487.9" y1="351.8" x2="488.7" y2="356.1" stroke="#b06a58" stroke-width="1.4" stroke-linecap="round"/>
<line x1="433.4" y1="278.5" x2="434.9" y2="281.5" stroke="#4a1a14" stroke-width="1.5" stroke-linecap="round"/>
<line x1="503" y1="345.3" x2="499.6" y2="349.9" stroke="#9a5040" stroke-width="1.1" stroke-linecap="round"/>
<line x1="503.7" y1="302.6" x2="505.3" y2="304.5" stroke="#4a1a14" stroke-width="0.7" stroke-linecap="round"/>
<line x1="492.3" y1="324.6" x2="493.8" y2="328" stroke="#2e0c0a" stroke-width="1.2" stroke-linecap="round"/>
<line x1="404.7" y1="301.8" x2="405.7" y2="307.7" stroke="#2e0c0a" stroke-width="1.1" stroke-linecap="round"/>
<line x1="483.9" y1="277.1" x2="480.7" y2="279.9" stroke="#c08878" stroke-width="0.9" stroke-linecap="round"/>
<line x1="458.2" y1="281.2" x2="456.5" y2="284.4" stroke="#b06a58" stroke-width="1.1" stroke-linecap="round"/>
<line x1="407.1" y1="370" x2="407.5" y2="377" stroke="#c08878" stroke-width="0.8" stroke-linecap="round"/>
<line x1="495.7" y1="307.6" x2="495" y2="310.2" stroke="#4a1a14" stroke-width="1.2" stroke-linecap="round"/>
<line x1="445.7" y1="354.3" x2="440.9" y2="359.6" stroke="#b06a58" stroke-width="1.3" stroke-linecap="round"/>
<line x1="397.6" y1="303.7" x2="399.8" y2="307.5" stroke="#7a3428" stroke-width="1.2" stroke-linecap="round"/>
<line x1="449.6" y1="338.2" x2="454" y2="342" stroke="#2e0c0a" stroke-width="1" stroke-linecap="round"/>
<line x1="411.8" y1="354" x2="410.3" y2="357.1" stroke="#b06a58" stroke-width="1.2" stroke-linecap="round"/>
<line x1="459.1" y1="335.7" x2="456" y2="340.9" stroke="#2e0c0a" stroke-width="0.9" stroke-linecap="round"/>
<line x1="516.4" y1="292.3" x2="515.8" y2="298.1" stroke="#b06a58" stroke-width="1" stroke-linecap="round"/>
<line x1="419.8" y1="352.7" x2="416.3" y2="353.8" stroke="#c08878" stroke-width="1.2" stroke-linecap="round"/>
<line x1="478.9" y1="315.2" x2="475.6" y2="318.7" stroke="#7a3428" stroke-width="0.9" stroke-linecap="round"/>
<line x1="399.5" y1="349.4" x2="404.8" y2="349.5" stroke="#9a5040" stroke-width="1.4" stroke-linecap="round"/>
<line x1="487.8" y1="356.9" x2="486.8" y2="363.3" stroke="#4a1a14" stroke-width="1.3" stroke-linecap="round"/>
<line x1="479.8" y1="344.4" x2="483.9" y2="347" stroke="#7a3428" stroke-width="1" stroke-linecap="round"/>
<line x1="490.5" y1="294.7" x2="494.2" y2="296.3" stroke="#b06a58" stroke-width="1" stroke-linecap="round"/>
<line x1="470" y1="277.5" x2="471.1" y2="282" stroke="#b06a58" stroke-width="1.5" stroke-linecap="round"/>
<line x1="496.4" y1="306.5" x2="501.5" y2="310.6" stroke="#c08878" stroke-width="1" stroke-linecap="round"/>
<line x1="498.5" y1="304.2" x2="496.6" y2="309.1" stroke="#4a1a14" stroke-width="1.5" stroke-linecap="round"/>
<line x1="493.1" y1="303.2" x2="499.2" y2="304.7" stroke="#7a3428" stroke-width="0.8" stroke-linecap="round"/>
<line x1="497" y1="354.2" x2="500.7" y2="355.3" stroke="#9a5040" stroke-width="1.1" stroke-linecap="round"/>
<line x1="402.2" y1="306" x2="395.5" y2="308.7" stroke="#2e0c0a" stroke-width="0.8" stroke-linecap="round"/>
<line x1="432.3" y1="289.3" x2="428.2" y2="290.7" stroke="#2e0c0a" stroke-width="1" stroke-linecap="round"/>
<line x1="398.6" y1="356.2" x2="397.7" y2="359.7" stroke="#2e0c0a" stroke-width="1.6" stroke-linecap="round"/>
<line x1="499.8" y1="319.8" x2="500.6" y2="322.7" stroke="#9a5040" stroke-width="1.4" stroke-linecap="round"/>
<line x1="519.7" y1="308.4" x2="515" y2="308.9" stroke="#2e0c0a" stroke-width="1.4" stroke-linecap="round"/>
<line x1="401.8" y1="357.9" x2="403.3" y2="359.8" stroke="#4a1a14" stroke-width="1.4" stroke-linecap="round"/>
<line x1="464.9" y1="305.7" x2="467.9" y2="307.2" stroke="#4a1a14" stroke-width="1.4" stroke-linecap="round"/>
<line x1="400.2" y1="278.9" x2="404.9" y2="281.8" stroke="#2e0c0a" stroke-width="1.2" stroke-linecap="round"/>
<line x1="437.6" y1="362.6" x2="438.2" y2="366" stroke="#7a3428" stroke-width="1" stroke-linecap="round"/>
<line x1="462.6" y1="360.8" x2="463.5" y2="363.3" stroke="#9a5040" stroke-width="0.9" stroke-linecap="round"/>
<line x1="458.2" y1="327.7" x2="457.9" y2="333.3" stroke="#7a3428" stroke-width="1.1" stroke-linecap="round"/>
<line x1="501.5" y1="371.5" x2="503.7" y2="377.4" stroke="#4a1a14" stroke-width="1.5" stroke-linecap="round"/>
<line x1="412.3" y1="344.8" x2="415.9" y2="347" stroke="#7a3428" stroke-width="1.4" stroke-linecap="round"/>
<line x1="478.2" y1="319.2" x2="479" y2="326.1" stroke="#7a3428" stroke-width="1" stroke-linecap="round"/>
<line x1="446.9" y1="302.3" x2="451.8" y2="303.7" stroke="#7a3428" stroke-width="0.9" stroke-linecap="round"/>
<line x1="417.2" y1="341.5" x2="417.3" y2="346.2" stroke="#4a1a14" stroke-width="1.1" stroke-linecap="round"/>
<line x1="411.4" y1="354.4" x2="409.5" y2="359" stroke="#b06a58" stroke-width="1.5" stroke-linecap="round"/>
<line x1="508.4" y1="289.8" x2="507.1" y2="293.7" stroke="#b06a58" stroke-width="0.8" stroke-linecap="round"/>
<line x1="472.5" y1="355" x2="477.7" y2="358.1" stroke="#c08878" stroke-width="1.3" stroke-linecap="round"/>
<line x1="507.7" y1="292.7" x2="506.8" y2="299.1" stroke="#c08878" stroke-width="1.6" stroke-linecap="round"/>
<line x1="503.7" y1="342.2" x2="500.4" y2="347.7" stroke="#c08878" stroke-width="0.7" stroke-linecap="round"/>
<line x1="456.7" y1="328.6" x2="455.1" y2="331.8" stroke="#7a3428" stroke-width="1.3" stroke-linecap="round"/>
<line x1="471.8" y1="295.2" x2="471.8" y2="302.3" stroke="#7a3428" stroke-width="0.9" stroke-linecap="round"/>
<line x1="404.8" y1="318.5" x2="400.5" y2="322.4" stroke="#c08878" stroke-width="1.2" stroke-linecap="round"/>
<line x1="458" y1="311.2" x2="455.8" y2="313.2" stroke="#7a3428" stroke-width="1.5" stroke-linecap="round"/>
<line x1="486.2" y1="350.6" x2="487.4" y2="352.8" stroke="#b06a58" stroke-width="1.5" stroke-linecap="round"/>
<line x1="465.2" y1="371.2" x2="461.1" y2="376.2" stroke="#7a3428" stroke-width="1" stroke-linecap="round"/>
<line x1="415" y1="339.8" x2="418" y2="341.8" stroke="#7a3428" stroke-width="1.2" stroke-linecap="round"/>
<line x1="493" y1="368.5" x2="493.2" y2="374.4" stroke="#7a3428" stroke-width="1.4" stroke-linecap="round"/>
<line x1="428.8" y1="369.4" x2="425.1" y2="371.7" stroke="#2e0c0a" stroke-width="1" stroke-linecap="round"/>
<line x1="456.1" y1="300.6" x2="452.9" y2="302" stroke="#2e0c0a" stroke-width="0.9" stroke-linecap="round"/>
<line x1="446.6" y1="283.4" x2="451" y2="284.2" stroke="#b06a58" stroke-width="1.1" stroke-linecap="round"/>
<line x1="428.1" y1="335.8" x2="427.7" y2="340.7" stroke="#9a5040" stroke-width="1.3" stroke-linecap="round"/>
<line x1="413.1" y1="348.2" x2="412.8" y2="352.5" stroke="#2e0c0a" stroke-width="1.3" stroke-linecap="round"/>
<line x1="412.2" y1="283.9" x2="415.6" y2="288.3" stroke="#2e0c0a" stroke-width="1.4" stroke-linecap="round"/>
<line x1="434.9" y1="363.6" x2="429.7" y2="364.5" stroke="#c08878" stroke-width="0.8" stroke-linecap="round"/>
<line x1="447.1" y1="334.5" x2="444.2" y2="339.9" stroke="#9a5040" stroke-width="1" stroke-linecap="round"/>
<line x1="401" y1="285.8" x2="397.7" y2="286.3" stroke="#b06a58" stroke-width="1.4" stroke-linecap="round"/>
<line x1="492.5" y1="350.1" x2="496.6" y2="354.5" stroke="#9a5040" stroke-width="0.9" stroke-linecap="round"/>
<line x1="435.3" y1="289.9" x2="434.1" y2="292.9" stroke="#9a5040" stroke-width="1.1" stroke-linecap="round"/>
<line x1="449" y1="326" x2="446.3" y2="326.1" stroke="#b06a58" stroke-width="1.1" stroke-linecap="round"/>
<line x1="465.7" y1="319.1" x2="468.5" y2="320.7" stroke="#4a1a14" stroke-width="1.4" stroke-linecap="round"/>
<line x1="461.8" y1="359.2" x2="459.7" y2="364.1" stroke="#4a1a14" stroke-width="1.2" stroke-linecap="round"/>
<line x1="417.9" y1="366.4" x2="423.6" y2="369.8" stroke="#9a5040" stroke-width="1.1" stroke-linecap="round"/>
<line x1="410.5" y1="362.5" x2="413.3" y2="366.8" stroke="#4a1a14" stroke-width="0.9" stroke-linecap="round"/>
<line x1="515.1" y1="285.6" x2="515.8" y2="290.3" stroke="#2e0c0a" stroke-width="1.3" stroke-linecap="round"/>
<line x1="440.8" y1="303.9" x2="436.9" y2="304.7" stroke="#c08878" stroke-width="0.9" stroke-linecap="round"/>
<line x1="402.9" y1="341.2" x2="402.6" y2="348.4" stroke="#b06a58" stroke-width="1.4" stroke-linecap="round"/>
<line x1="393.5" y1="312.6" x2="395.1" y2="314.3" stroke="#2e0c0a" stroke-width="1" stroke-linecap="round"/>
<line x1="476.3" y1="342.3" x2="478.8" y2="343.6" stroke="#c08878" stroke-width="1.2" stroke-linecap="round"/>
<line x1="466.8" y1="335.4" x2="465.3" y2="337.6" stroke="#7a3428" stroke-width="1.5" stroke-linecap="round"/>
<line x1="513.9" y1="343.5" x2="512" y2="350.4" stroke="#9a5040" stroke-width="0.9" stroke-linecap="round"/>
<line x1="437" y1="300.3" x2="437.8" y2="302.6" stroke="#b06a58" stroke-width="1" stroke-linecap="round"/>
<line x1="433.8" y1="356.6" x2="429.2" y2="361.8" stroke="#c08878" stroke-width="1.2" stroke-linecap="round"/>
<line x1="454.2" y1="318.1" x2="452" y2="319.2" stroke="#c08878" stroke-width="0.7" stroke-linecap="round"/>
<line x1="478.7" y1="365" x2="483" y2="370.2" stroke="#7a3428" stroke-width="0.7" stroke-linecap="round"/>
<line x1="449" y1="332.6" x2="452.6" y2="334.7" stroke="#7a3428" stroke-width="1.2" stroke-linecap="round"/>
<line x1="491.7" y1="289.2" x2="492.2" y2="293.5" stroke="#7a3428" stroke-width="1.5" stroke-linecap="round"/>
<line x1="502.7" y1="340.7" x2="500.9" y2="343.3" stroke="#4a1a14" stroke-width="0.8" stroke-linecap="round"/>
<line x1="387.3" y1="330.3" x2="392.7" y2="330.4" stroke="#9a5040" stroke-width="1.5" stroke-linecap="round"/>
<g fill="#5a2016" stroke="#5a2016" opacity="0.85"><ellipse cx="405.2" cy="293.6" rx="3.8" ry="2.5" transform="rotate(-8 405.2 293.6)"/><ellipse cx="406.5" cy="290.7" rx="3.4" ry="2.2" transform="rotate(-48 406.5 290.7)"/><ellipse cx="402" cy="292.8" rx="4.4" ry="2.2" transform="rotate(-38 402 292.8)"/><ellipse cx="404.1" cy="294.3" rx="3.8" ry="2.3" transform="rotate(4 404.1 294.3)"/><ellipse cx="400.5" cy="293.4" rx="2.6" ry="3.1" transform="rotate(-32 400.5 293.4)"/><path d="M405.1 292.4 L404.4 291.1 L404 289.7 L404.2 288.2" fill="none" stroke-width="4.1" stroke-linecap="round" stroke-linejoin="round"/><path d="M403 293.6 L403.2 295.1 L403.8 296.5 L403.7 298 L404.5 299.2 L404.8 300.7" fill="none" stroke-width="3.2" stroke-linecap="round" stroke-linejoin="round"/><path d="M403.2 293.9 L403 292.4 L403.6 291.1 L404.2 289.7 L403.9 288.2" fill="none" stroke-width="2.7" stroke-linecap="round" stroke-linejoin="round"/><ellipse cx="420.9" cy="294.4" rx="2.8" ry="3" transform="rotate(27 420.9 294.4)"/><ellipse cx="423.5" cy="295.4" rx="2.9" ry="1.9" transform="rotate(21 423.5 295.4)"/><ellipse cx="421.5" cy="292.5" rx="3.1" ry="2.2" transform="rotate(31 421.5 292.5)"/><path d="M424.1 294.4 L423.2 293.1 L422.2 292.1" fill="none" stroke-width="3.9" stroke-linecap="round" stroke-linejoin="round"/><path d="M424 294.2 L425.2 293.3 L425.6 291.9 L425.9 290.4 L425.1 289.1" fill="none" stroke-width="4.2" stroke-linecap="round" stroke-linejoin="round"/><path d="M425.7 293.9 L426.4 295.2 L426.7 296.7 L427.6 297.9" fill="none" stroke-width="2.7" stroke-linecap="round" stroke-linejoin="round"/><ellipse cx="446.3" cy="286.9" rx="1.8" ry="1.9" transform="rotate(7 446.3 286.9)"/><ellipse cx="445.7" cy="288.1" rx="2.2" ry="1.6" transform="rotate(23 445.7 288.1)"/><ellipse cx="445.6" cy="287.5" rx="1.9" ry="2.1" transform="rotate(40 445.6 287.5)"/><ellipse cx="446.6" cy="289.5" rx="2.2" ry="1.9" transform="rotate(3 446.6 289.5)"/><ellipse cx="445.4" cy="288.6" rx="1.7" ry="2.2" transform="rotate(16 445.4 288.6)"/><ellipse cx="445" cy="289.4" rx="1.7" ry="2.3" transform="rotate(38 445 289.4)"/><path d="M447.4 288.2 L447.8 286.8 L447.9 285.3" fill="none" stroke-width="2.4" stroke-linecap="round" stroke-linejoin="round"/><path d="M446.4 287.3 L445.3 286.4 L444.4 285.1 L443.5 283.9" fill="none" stroke-width="2.7" stroke-linecap="round" stroke-linejoin="round"/><ellipse cx="453" cy="295.8" rx="2.3" ry="1.6" transform="rotate(-20 453 295.8)"/><ellipse cx="449.4" cy="294.4" rx="2.3" ry="1.6" transform="rotate(-49 449.4 294.4)"/><ellipse cx="451" cy="293.8" rx="1.9" ry="1.6" transform="rotate(21 451 293.8)"/><ellipse cx="449.9" cy="294.2" rx="2" ry="1.9" transform="rotate(-10 449.9 294.2)"/><ellipse cx="450.1" cy="296.1" rx="2.4" ry="1.6" transform="rotate(-3 450.1 296.1)"/><ellipse cx="452.5" cy="295.4" rx="1.7" ry="1.6" transform="rotate(-50 452.5 295.4)"/><path d="M451.7 295.2 L452.9 296.1 L454.3 296.4 L455.8 296.2 L457.2 296.9 L458.7 296.9" fill="none" stroke-width="2.7" stroke-linecap="round" stroke-linejoin="round"/><ellipse cx="464.8" cy="299.7" rx="3.8" ry="2.8" transform="rotate(43 464.8 299.7)"/><ellipse cx="465.2" cy="295.3" rx="3.3" ry="3.3" transform="rotate(-46 465.2 295.3)"/><ellipse cx="459.9" cy="297.4" rx="3.1" ry="3.3" transform="rotate(-19 459.9 297.4)"/><ellipse cx="464.4" cy="297.6" rx="4.1" ry="2.6" transform="rotate(-33 464.4 297.6)"/><ellipse cx="464.1" cy="298.6" rx="2.8" ry="3.3" transform="rotate(47 464.1 298.6)"/><path d="M464.4 298.8 L464.3 297.3 L464.4 295.8 L464.7 294.4 L464.9 292.9 L464.4 291.5" fill="none" stroke-width="4" stroke-linecap="round" stroke-linejoin="round"/><path d="M461.2 299.2 L462 300.5 L462.9 301.7 L464.4 302.1 L465.7 302.8" fill="none" stroke-width="2.9" stroke-linecap="round" stroke-linejoin="round"/><path d="M460.9 300.9 L461.4 302.3 L462.6 303.2 L463.9 303.9" fill="none" stroke-width="3.8" stroke-linecap="round" stroke-linejoin="round"/><path d="M461.8 297 L461.3 295.5 L460.3 294.4 L459.8 293 L459.1 291.7" fill="none" stroke-width="3.9" stroke-linecap="round" stroke-linejoin="round"/><ellipse cx="495.4" cy="287.8" rx="4.2" ry="2.5" transform="rotate(29 495.4 287.8)"/><ellipse cx="492.3" cy="290.2" rx="4.3" ry="1.8" transform="rotate(31 492.3 290.2)"/><ellipse cx="490.7" cy="288.2" rx="3.8" ry="2.5" transform="rotate(-42 490.7 288.2)"/><ellipse cx="490.1" cy="286.3" rx="3.7" ry="2" transform="rotate(41 490.1 286.3)"/><ellipse cx="493.9" cy="286.4" rx="3.1" ry="2" transform="rotate(-41 493.9 286.4)"/><ellipse cx="494.1" cy="288.2" rx="3.9" ry="2" transform="rotate(4 494.1 288.2)"/><path d="M490.5 288.6 L491.4 289.8 L492.1 291.1" fill="none" stroke-width="3.7" stroke-linecap="round" stroke-linejoin="round"/><path d="M489.8 287.6 L488.6 288.6 L487.3 289.4 L486.7 290.7" fill="none" stroke-width="2.7" stroke-linecap="round" stroke-linejoin="round"/><ellipse cx="480.3" cy="317" rx="3.9" ry="2.6" transform="rotate(-15 480.3 317)"/><ellipse cx="472.7" cy="313.8" rx="4.3" ry="3.3" transform="rotate(0 472.7 313.8)"/><ellipse cx="474.6" cy="310.1" rx="4.4" ry="3.5" transform="rotate(17 474.6 310.1)"/><ellipse cx="477.2" cy="316.9" rx="3.9" ry="3.7" transform="rotate(-24 477.2 316.9)"/><ellipse cx="479.7" cy="316.1" rx="3.2" ry="3.3" transform="rotate(18 479.7 316.1)"/><path d="M473.3 313.8 L471.8 313.6 L470.5 314.3 L469 314.1 L467.6 314.7" fill="none" stroke-width="4.4" stroke-linecap="round" stroke-linejoin="round"/><ellipse cx="428.4" cy="314.1" rx="2.9" ry="3.3" transform="rotate(-32 428.4 314.1)"/><ellipse cx="426.8" cy="319.6" rx="3.9" ry="3.7" transform="rotate(-26 426.8 319.6)"/><ellipse cx="427.9" cy="319.2" rx="2.9" ry="2.5" transform="rotate(-29 427.9 319.2)"/><ellipse cx="430.3" cy="314.4" rx="3.9" ry="3.7" transform="rotate(-46 430.3 314.4)"/><ellipse cx="426.7" cy="320.6" rx="2.6" ry="3.6" transform="rotate(-38 426.7 320.6)"/><path d="M429.6 317.1 L431 316.7 L432.1 315.7" fill="none" stroke-width="3.1" stroke-linecap="round" stroke-linejoin="round"/><path d="M430.3 318.7 L430.7 317.3 L430.6 315.8 L429.7 314.6 L429.6 313.1 L428.8 311.8" fill="none" stroke-width="2.5" stroke-linecap="round" stroke-linejoin="round"/><path d="M430.8 318.3 L430.3 316.8 L430.2 315.3 L431.1 314.1" fill="none" stroke-width="2.6" stroke-linecap="round" stroke-linejoin="round"/><ellipse cx="443.3" cy="312.8" rx="2.1" ry="2" transform="rotate(47 443.3 312.8)"/><ellipse cx="443" cy="310.9" rx="1.8" ry="2.1" transform="rotate(15 443 310.9)"/><ellipse cx="441.7" cy="310.3" rx="2.2" ry="2.1" transform="rotate(-14 441.7 310.3)"/><ellipse cx="444.3" cy="311.7" rx="2" ry="2" transform="rotate(11 444.3 311.7)"/><path d="M442.5 312.4 L441.8 311 L440.5 310.2 L439.4 309.2 L437.9 308.9" fill="none" stroke-width="2.3" stroke-linecap="round" stroke-linejoin="round"/><path d="M443.9 312.5 L442.4 312.5 L441 313.1 L439.8 313.9 L438.4 314.6" fill="none" stroke-width="2.5" stroke-linecap="round" stroke-linejoin="round"/><ellipse cx="490.3" cy="330.3" rx="6.6" ry="3.9" transform="rotate(44 490.3 330.3)"/><ellipse cx="498.5" cy="326.8" rx="5.9" ry="4.8" transform="rotate(-25 498.5 326.8)"/><ellipse cx="494.7" cy="324.5" rx="6.1" ry="4.7" transform="rotate(49 494.7 324.5)"/><ellipse cx="492.2" cy="328" rx="4.7" ry="3.7" transform="rotate(-1 492.2 328)"/><path d="M494.1 328.8 L492.7 328.2 L491.2 328.1 L490 327.2 L489.5 325.8 L489.8 324.4" fill="none" stroke-width="4.1" stroke-linecap="round" stroke-linejoin="round"/><path d="M493.1 328.6 L494.5 329 L495.9 329.7 L496.6 331 L497.2 332.4 L497 333.9" fill="none" stroke-width="3.3" stroke-linecap="round" stroke-linejoin="round"/><ellipse cx="483.1" cy="341.6" rx="3" ry="1.9" transform="rotate(42 483.1 341.6)"/><ellipse cx="485.7" cy="338.7" rx="2.5" ry="2.2" transform="rotate(-11 485.7 338.7)"/><ellipse cx="481.7" cy="343.2" rx="2.9" ry="1.9" transform="rotate(31 481.7 343.2)"/><ellipse cx="481" cy="342.5" rx="2.4" ry="1.7" transform="rotate(2 481 342.5)"/><ellipse cx="481.8" cy="340.5" rx="2.8" ry="2.7" transform="rotate(-40 481.8 340.5)"/><path d="M485.1 340 L486.5 340.6 L487.9 341" fill="none" stroke-width="3.2" stroke-linecap="round" stroke-linejoin="round"/><path d="M483.7 339.9 L483 338.6 L482.4 337.2 L481.9 335.8 L482.2 334.3 L482.4 332.9" fill="none" stroke-width="3.3" stroke-linecap="round" stroke-linejoin="round"/><path d="M482.4 340.7 L482.7 339.3 L483.8 338.2 L485.2 337.8 L486.6 338.3 L488.1 338.4" fill="none" stroke-width="2.6" stroke-linecap="round" stroke-linejoin="round"/><ellipse cx="443.9" cy="344.9" rx="4.2" ry="4" transform="rotate(-4 443.9 344.9)"/><ellipse cx="444.9" cy="350.5" rx="4" ry="4.2" transform="rotate(-27 444.9 350.5)"/><ellipse cx="449.2" cy="351.1" rx="3.8" ry="3.4" transform="rotate(18 449.2 351.1)"/><ellipse cx="451.8" cy="347.7" rx="3.2" ry="2.6" transform="rotate(-18 451.8 347.7)"/><ellipse cx="446" cy="346.1" rx="4.6" ry="3.8" transform="rotate(26 446 346.1)"/><path d="M447.9 348.7 L448.3 347.2 L447.9 345.7 L447.1 344.5 L445.8 343.8" fill="none" stroke-width="2.8" stroke-linecap="round" stroke-linejoin="round"/><ellipse cx="468.9" cy="349" rx="2.7" ry="1.9" transform="rotate(-28 468.9 349)"/><ellipse cx="469.3" cy="349.8" rx="2.2" ry="2" transform="rotate(9 469.3 349.8)"/><ellipse cx="470.7" cy="349.3" rx="1.9" ry="1.8" transform="rotate(-25 470.7 349.3)"/><path d="M471.4 350.5 L470 351 L468.5 350.8 L467.1 350.3 L466.3 349.1 L464.8 348.6" fill="none" stroke-width="3.2" stroke-linecap="round" stroke-linejoin="round"/><path d="M470 352 L471.3 352.8 L472.3 354 L473.7 354.6 L474.6 355.7" fill="none" stroke-width="3.3" stroke-linecap="round" stroke-linejoin="round"/><path d="M470.7 351.1 L470.6 349.6 L469.6 348.4 L468.6 347.3" fill="none" stroke-width="3.6" stroke-linecap="round" stroke-linejoin="round"/><path d="M469.7 350 L468.3 349.7 L466.8 350.1 L466 351.3" fill="none" stroke-width="2.9" stroke-linecap="round" stroke-linejoin="round"/><ellipse cx="393.8" cy="336" rx="2" ry="4.6" transform="rotate(-37 393.8 336)"/><ellipse cx="394.8" cy="337.7" rx="2.1" ry="4.7" transform="rotate(-37 394.8 337.7)"/><ellipse cx="394.7" cy="334.4" rx="1.7" ry="4.2" transform="rotate(-39 394.7 334.4)"/><ellipse cx="397.1" cy="340.8" rx="2" ry="5.2" transform="rotate(1 397.1 340.8)"/><ellipse cx="396.5" cy="337.3" rx="2.2" ry="4.2" transform="rotate(26 396.5 337.3)"/><ellipse cx="393.9" cy="341.7" rx="2.1" ry="4.9" transform="rotate(28 393.9 341.7)"/><path d="M395.5 337.9 L397 338.4 L398.3 339.1 L399.7 339.6 L400.9 340.4 L402.3 341" fill="none" stroke-width="2.9" stroke-linecap="round" stroke-linejoin="round"/><path d="M394.7 336 L395.9 336.9 L396.5 338.3 L397.3 339.5 L398.8 340" fill="none" stroke-width="3.3" stroke-linecap="round" stroke-linejoin="round"/><path d="M396.3 340.4 L395.1 341.3 L394.1 342.4" fill="none" stroke-width="4.3" stroke-linecap="round" stroke-linejoin="round"/><path d="M396.3 335.6 L394.9 336.2 L393.9 337.3 L392.9 338.5 L391.6 339.2 L390.5 340.2" fill="none" stroke-width="3.6" stroke-linecap="round" stroke-linejoin="round"/><ellipse cx="397" cy="320.9" rx="1.7" ry="2.4" transform="rotate(-8 397 320.9)"/><ellipse cx="396.5" cy="322.2" rx="1.7" ry="3.4" transform="rotate(14 396.5 322.2)"/><ellipse cx="397.7" cy="321.7" rx="2" ry="2.2" transform="rotate(-23 397.7 321.7)"/><ellipse cx="397.9" cy="317.4" rx="1.6" ry="2.5" transform="rotate(-47 397.9 317.4)"/><ellipse cx="395.2" cy="322.3" rx="1.9" ry="2.2" transform="rotate(-36 395.2 322.3)"/><ellipse cx="395.9" cy="321.5" rx="1.7" ry="2.9" transform="rotate(-26 395.9 321.5)"/><path d="M397 318.8 L396.8 320.3 L396.3 321.7 L396.7 323.1 L397.3 324.5" fill="none" stroke-width="2.4" stroke-linecap="round" stroke-linejoin="round"/><ellipse cx="418.8" cy="360.9" rx="4.1" ry="2" transform="rotate(18 418.8 360.9)"/><ellipse cx="412" cy="364.8" rx="4.7" ry="2.3" transform="rotate(25 412 364.8)"/><ellipse cx="417.9" cy="364" rx="3" ry="3" transform="rotate(16 417.9 364)"/><ellipse cx="417.8" cy="363.2" rx="3.8" ry="2.8" transform="rotate(16 417.8 363.2)"/><ellipse cx="415.6" cy="363.5" rx="4" ry="2.6" transform="rotate(-49 415.6 363.5)"/><path d="M416.9 363.7 L416.2 362.4 L415.7 361 L415.4 359.5" fill="none" stroke-width="4.4" stroke-linecap="round" stroke-linejoin="round"/><path d="M417.4 362.9 L417.8 361.4 L417.6 359.9 L418.1 358.5" fill="none" stroke-width="4.3" stroke-linecap="round" stroke-linejoin="round"/><ellipse cx="395.2" cy="361.8" rx="2.5" ry="1.9" transform="rotate(31 395.2 361.8)"/><ellipse cx="393.7" cy="357.8" rx="3" ry="2.3" transform="rotate(-26 393.7 357.8)"/><ellipse cx="392.1" cy="359.9" rx="2.8" ry="2.3" transform="rotate(20 392.1 359.9)"/><ellipse cx="392.7" cy="360.4" rx="3" ry="2.8" transform="rotate(23 392.7 360.4)"/><ellipse cx="394.5" cy="358" rx="2" ry="2.7" transform="rotate(24 394.5 358)"/><ellipse cx="393.5" cy="360.4" rx="3" ry="2.4" transform="rotate(47 393.5 360.4)"/><path d="M391.9 359.1 L391.5 357.7 L390.8 356.3 L389.4 355.8 L388.4 354.7 L387.4 353.5" fill="none" stroke-width="3.3" stroke-linecap="round" stroke-linejoin="round"/><ellipse cx="432.3" cy="338.6" rx="2.7" ry="2.4" transform="rotate(17 432.3 338.6)"/><ellipse cx="431.8" cy="341.6" rx="2.5" ry="2.2" transform="rotate(6 431.8 341.6)"/><ellipse cx="431.1" cy="338.3" rx="2.7" ry="2.7" transform="rotate(-34 431.1 338.3)"/><ellipse cx="430.3" cy="341.9" rx="2" ry="3.1" transform="rotate(48 430.3 341.9)"/><path d="M429.8 340.1 L429.3 341.6 L428.7 342.9 L428.1 344.3 L428.5 345.8 L429.7 346.6" fill="none" stroke-width="2.8" stroke-linecap="round" stroke-linejoin="round"/><path d="M431.2 341.8 L429.7 341.4 L428.2 341.2" fill="none" stroke-width="3.8" stroke-linecap="round" stroke-linejoin="round"/><path d="M430.5 340.7 L430.5 339.2 L430.1 337.8 L430.3 336.3" fill="none" stroke-width="2.4" stroke-linecap="round" stroke-linejoin="round"/><ellipse cx="511.6" cy="332.1" rx="2.1" ry="1.9" transform="rotate(5 511.6 332.1)"/><ellipse cx="509.8" cy="328.9" rx="2.3" ry="2.2" transform="rotate(24 509.8 328.9)"/><ellipse cx="509.4" cy="330.5" rx="2.1" ry="2.8" transform="rotate(-8 509.4 330.5)"/><ellipse cx="509.1" cy="329.7" rx="1.7" ry="2.5" transform="rotate(47 509.1 329.7)"/><ellipse cx="511.1" cy="332.6" rx="1.9" ry="2.4" transform="rotate(-15 511.1 332.6)"/><path d="M509.9 331 L509.2 329.7 L508.7 328.3 L507.9 327 L506.6 326.3 L505.6 325.1" fill="none" stroke-width="3.1" stroke-linecap="round" stroke-linejoin="round"/><ellipse cx="514" cy="308.1" rx="1.9" ry="2.3" transform="rotate(-16 514 308.1)"/><ellipse cx="513.6" cy="308.9" rx="1.6" ry="2.8" transform="rotate(20 513.6 308.9)"/><ellipse cx="512.6" cy="308.8" rx="1.6" ry="2.8" transform="rotate(49 512.6 308.8)"/><ellipse cx="514.2" cy="311.2" rx="1.7" ry="2.4" transform="rotate(-18 514.2 311.2)"/><path d="M512.5 310.3 L512.2 308.8 L512.5 307.4" fill="none" stroke-width="2.7" stroke-linecap="round" stroke-linejoin="round"/><path d="M512.6 310.1 L513.7 309.1 L515.1 308.9 L516.5 308.2 L517.7 307.3 L518.3 305.9" fill="none" stroke-width="3.3" stroke-linecap="round" stroke-linejoin="round"/><path d="M512.3 309.8 L512.4 308.3 L513.2 307.1 L513.6 305.7" fill="none" stroke-width="2.7" stroke-linecap="round" stroke-linejoin="round"/><path d="M512.9 307.9 L513 309.4 L512.2 310.7" fill="none" stroke-width="2.6" stroke-linecap="round" stroke-linejoin="round"/><ellipse cx="500.9" cy="363.2" rx="2.8" ry="1.6" transform="rotate(23 500.9 363.2)"/><ellipse cx="500" cy="361.9" rx="2.8" ry="2.3" transform="rotate(19 500 361.9)"/><ellipse cx="500.6" cy="360.7" rx="3.1" ry="2.4" transform="rotate(4 500.6 360.7)"/><ellipse cx="499.2" cy="361.8" rx="2.5" ry="1.8" transform="rotate(-48 499.2 361.8)"/><path d="M498.3 361.3 L497.6 362.6 L496.7 363.8 L496.5 365.3 L496.7 366.8" fill="none" stroke-width="3.7" stroke-linecap="round" stroke-linejoin="round"/><path d="M499.5 361.8 L498.9 360.4 L497.6 359.7 L496.3 358.8" fill="none" stroke-width="2.9" stroke-linecap="round" stroke-linejoin="round"/><path d="M499.5 361.2 L500.8 361.9 L501.7 363.2 L503.1 363.6 L504.6 364" fill="none" stroke-width="3" stroke-linecap="round" stroke-linejoin="round"/><path d="M498.2 360.6 L499.3 361.6 L500.3 362.7 L501.2 363.9 L502.1 365.2 L502.9 366.4" fill="none" stroke-width="3.4" stroke-linecap="round" stroke-linejoin="round"/><ellipse cx="409.2" cy="326.4" rx="2" ry="2.4" transform="rotate(12 409.2 326.4)"/><ellipse cx="409.8" cy="326.6" rx="2.6" ry="2.1" transform="rotate(37 409.8 326.6)"/><ellipse cx="410" cy="326.5" rx="2.6" ry="2.3" transform="rotate(-44 410 326.5)"/><ellipse cx="406.6" cy="327.5" rx="1.8" ry="1.9" transform="rotate(30 406.6 327.5)"/><path d="M408 327 L408.3 325.6 L408.5 324.1 L409.5 322.9" fill="none" stroke-width="2.4" stroke-linecap="round" stroke-linejoin="round"/><path d="M409.4 326.6 L409.6 325.1 L409.4 323.7" fill="none" stroke-width="3.3" stroke-linecap="round" stroke-linejoin="round"/><path d="M408.6 327.5 L407.3 328.3 L406.1 329.2 L405 330.1" fill="none" stroke-width="2.8" stroke-linecap="round" stroke-linejoin="round"/><ellipse cx="437" cy="360" rx="2.2" ry="1.9" transform="rotate(-44 437 360)"/><ellipse cx="435.5" cy="358.5" rx="2.6" ry="2.1" transform="rotate(-28 435.5 358.5)"/><ellipse cx="437.1" cy="360.4" rx="2" ry="1.9" transform="rotate(35 437.1 360.4)"/><ellipse cx="439.1" cy="360.1" rx="2.5" ry="2.3" transform="rotate(-50 439.1 360.1)"/><ellipse cx="438.6" cy="360.8" rx="2.3" ry="2.1" transform="rotate(50 438.6 360.8)"/><path d="M437.9 359.1 L439.4 359.1 L440.6 359.9 L441.3 361.3 L441.9 362.7" fill="none" stroke-width="3.4" stroke-linecap="round" stroke-linejoin="round"/><path d="M437.1 360.5 L438.6 360.3 L439.9 359.5" fill="none" stroke-width="2.7" stroke-linecap="round" stroke-linejoin="round"/><ellipse cx="456.7" cy="365.9" rx="2.8" ry="1.9" transform="rotate(-5 456.7 365.9)"/><ellipse cx="457.3" cy="366.6" rx="2" ry="1.6" transform="rotate(-24 457.3 366.6)"/><ellipse cx="461.6" cy="365.8" rx="2.1" ry="1.6" transform="rotate(8 461.6 365.8)"/><ellipse cx="459.1" cy="365.6" rx="2.9" ry="1.8" transform="rotate(45 459.1 365.6)"/><ellipse cx="457.1" cy="367.9" rx="3.1" ry="1.6" transform="rotate(-9 457.1 367.9)"/><ellipse cx="460.1" cy="365.1" rx="2.1" ry="1.6" transform="rotate(40 460.1 365.1)"/><path d="M457.9 366.1 L457.6 364.6 L458 363.1" fill="none" stroke-width="3.6" stroke-linecap="round" stroke-linejoin="round"/><path d="M458.4 367.2 L457.2 366.3 L456 365.3 L455.4 364" fill="none" stroke-width="3.3" stroke-linecap="round" stroke-linejoin="round"/><ellipse cx="512.1" cy="288.6" rx="1.8" ry="2.3" transform="rotate(16 512.1 288.6)"/><ellipse cx="512.8" cy="286.6" rx="1.7" ry="1.7" transform="rotate(24 512.8 286.6)"/><ellipse cx="512" cy="287.8" rx="1.6" ry="2.3" transform="rotate(17 512 287.8)"/><path d="M513.9 288.8 L514.6 290.1 L514.5 291.6 L515 293" fill="none" stroke-width="2.3" stroke-linecap="round" stroke-linejoin="round"/><path d="M512.9 288.7 L513.8 289.9 L514.6 291.2 L514.9 292.7 L515.8 293.9 L517.2 294.5" fill="none" stroke-width="2.5" stroke-linecap="round" stroke-linejoin="round"/><ellipse cx="416.3" cy="303.3" rx="1.7" ry="2" transform="rotate(16 416.3 303.3)"/><ellipse cx="414.6" cy="303.5" rx="1.6" ry="1.6" transform="rotate(34 414.6 303.5)"/><ellipse cx="418.1" cy="304.3" rx="2.4" ry="1.6" transform="rotate(-17 418.1 304.3)"/><path d="M415.4 304.9 L415.3 306.4 L414.3 307.5 L413.7 308.9 L412.5 309.8" fill="none" stroke-width="2.3" stroke-linecap="round" stroke-linejoin="round"/><path d="M416.5 304.5 L415.5 305.6 L414 305.8 L412.8 306.7" fill="none" stroke-width="3" stroke-linecap="round" stroke-linejoin="round"/><path d="M416.6 303.5 L417.3 304.8 L418.6 305.5 L419.4 306.7 L420 308.1 L420.4 309.6" fill="none" stroke-width="3.2" stroke-linecap="round" stroke-linejoin="round"/><ellipse cx="471.3" cy="283.5" rx="2" ry="1.7" transform="rotate(-25 471.3 283.5)"/><ellipse cx="469.2" cy="286.1" rx="2.1" ry="1.9" transform="rotate(9 469.2 286.1)"/><ellipse cx="471.3" cy="285.7" rx="1.9" ry="1.6" transform="rotate(43 471.3 285.7)"/><ellipse cx="469.4" cy="284.5" rx="2.1" ry="1.8" transform="rotate(13 469.4 284.5)"/><ellipse cx="470.1" cy="285.9" rx="2" ry="2" transform="rotate(-15 470.1 285.9)"/><ellipse cx="469.7" cy="285.9" rx="1.6" ry="1.6" transform="rotate(28 469.7 285.9)"/><path d="M470.3 285.1 L471.8 284.6 L473.2 284.9 L474.6 285.5" fill="none" stroke-width="2.2" stroke-linecap="round" stroke-linejoin="round"/><path d="M470 284.1 L470.9 282.9 L471.2 281.4 L472 280.1 L472.4 278.7 L473.4 277.5" fill="none" stroke-width="2.3" stroke-linecap="round" stroke-linejoin="round"/><path d="M470.2 285.2 L469.5 283.9 L469 282.4 L469.3 280.9 L468.8 279.5" fill="none" stroke-width="2.4" stroke-linecap="round" stroke-linejoin="round"/><path d="M470.8 285.3 L472.3 285.6 L473.6 286.3 L474.2 287.6" fill="none" stroke-width="3.4" stroke-linecap="round" stroke-linejoin="round"/><ellipse cx="505.4" cy="352" rx="2.4" ry="3.1" transform="rotate(37 505.4 352)"/><ellipse cx="506.3" cy="348.5" rx="1.7" ry="2.4" transform="rotate(10 506.3 348.5)"/><ellipse cx="506.5" cy="350.9" rx="1.6" ry="2.1" transform="rotate(0 506.5 350.9)"/><ellipse cx="506.8" cy="352.2" rx="2.1" ry="3" transform="rotate(7 506.8 352.2)"/><path d="M506.4 352 L505.9 353.5 L505.3 354.8 L503.9 355.5 L503.1 356.7" fill="none" stroke-width="3.2" stroke-linecap="round" stroke-linejoin="round"/><path d="M506.2 351.8 L505.5 353.2 L505 354.6" fill="none" stroke-width="2.9" stroke-linecap="round" stroke-linejoin="round"/><path d="M507 349.8 L507.8 351 L509 351.9" fill="none" stroke-width="2.6" stroke-linecap="round" stroke-linejoin="round"/><ellipse cx="389.3" cy="303.4" rx="1.9" ry="2.6" transform="rotate(23 389.3 303.4)"/><ellipse cx="388.7" cy="305.5" rx="1.6" ry="2.6" transform="rotate(-44 388.7 305.5)"/><ellipse cx="389.1" cy="304.7" rx="1.9" ry="2.1" transform="rotate(-17 389.1 304.7)"/><ellipse cx="391" cy="302.2" rx="2" ry="1.9" transform="rotate(30 391 302.2)"/><path d="M390.5 302.7 L390.3 304.2 L390.3 305.7" fill="none" stroke-width="3.3" stroke-linecap="round" stroke-linejoin="round"/><path d="M390.4 303.1 L390 304.5 L389.7 306 L390.4 307.3 L390.8 308.8 L391.6 310" fill="none" stroke-width="3.1" stroke-linecap="round" stroke-linejoin="round"/><path d="M390.2 303.4 L389.8 304.9 L389.2 306.3 L388.6 307.6 L388.6 309.1 L387.8 310.4" fill="none" stroke-width="2.3" stroke-linecap="round" stroke-linejoin="round"/><path d="M390.6 304.6 L389.2 305 L387.7 305.2 L386.2 305.3 L385 306.2" fill="none" stroke-width="3.1" stroke-linecap="round" stroke-linejoin="round"/><ellipse cx="479.9" cy="367.3" rx="3.1" ry="1.8" transform="rotate(-30 479.9 367.3)"/><ellipse cx="483.6" cy="365.9" rx="3" ry="1.6" transform="rotate(-34 483.6 365.9)"/><ellipse cx="480" cy="366.9" rx="2.4" ry="1.6" transform="rotate(-31 480 366.9)"/><ellipse cx="481.7" cy="367.9" rx="2.5" ry="1.6" transform="rotate(-15 481.7 367.9)"/><ellipse cx="478.3" cy="365.5" rx="2.4" ry="1.8" transform="rotate(-5 478.3 365.5)"/><ellipse cx="483.7" cy="367.5" rx="3" ry="2" transform="rotate(-45 483.7 367.5)"/><path d="M480.7 367.1 L481.1 368.6 L481 370.1" fill="none" stroke-width="3.6" stroke-linecap="round" stroke-linejoin="round"/><path d="M480.6 367.2 L480.1 368.6 L479.9 370.1 L480.6 371.4" fill="none" stroke-width="3" stroke-linecap="round" stroke-linejoin="round"/><path d="M479.6 366.9 L480.1 365.5 L480 364" fill="none" stroke-width="2.3" stroke-linecap="round" stroke-linejoin="round"/><path d="M480.8 366 L479.3 365.6 L477.8 365.3" fill="none" stroke-width="3.2" stroke-linecap="round" stroke-linejoin="round"/><ellipse cx="402.6" cy="283.1" rx="1.9" ry="1.6" transform="rotate(34 402.6 283.1)"/><ellipse cx="401.6" cy="283.9" rx="1.8" ry="1.6" transform="rotate(50 401.6 283.9)"/><ellipse cx="402.5" cy="284" rx="2.2" ry="1.6" transform="rotate(-2 402.5 284)"/><ellipse cx="398.9" cy="283.1" rx="2.1" ry="1.6" transform="rotate(37 398.9 283.1)"/><ellipse cx="402.2" cy="282.6" rx="2.7" ry="1.7" transform="rotate(-35 402.2 282.6)"/><path d="M401 283.4 L401.9 284.6 L403.4 284.9" fill="none" stroke-width="2.9" stroke-linecap="round" stroke-linejoin="round"/><ellipse cx="437.8" cy="282.5" rx="1.6" ry="1.6" transform="rotate(-18 437.8 282.5)"/><ellipse cx="436.9" cy="283.7" rx="1.6" ry="1.6" transform="rotate(-17 436.9 283.7)"/><ellipse cx="436.6" cy="282.8" rx="1.9" ry="1.7" transform="rotate(-41 436.6 282.8)"/><ellipse cx="438.1" cy="283.3" rx="1.8" ry="1.6" transform="rotate(-26 438.1 283.3)"/><ellipse cx="436.7" cy="282.5" rx="1.9" ry="1.6" transform="rotate(-3 436.7 282.5)"/><path d="M436.4 283.9 L436.7 285.3 L437.6 286.5 L439.1 286.9 L440.5 287.5 L442 287.4" fill="none" stroke-width="3.2" stroke-linecap="round" stroke-linejoin="round"/><path d="M437.3 283.5 L436.4 284.7 L435.1 285.4" fill="none" stroke-width="2.5" stroke-linecap="round" stroke-linejoin="round"/><path d="M436.5 282.9 L437.8 282.2 L439.3 282.5 L440.7 283 L441.7 284.1" fill="none" stroke-width="3" stroke-linecap="round" stroke-linejoin="round"/><ellipse cx="502" cy="303.1" rx="1.6" ry="2" transform="rotate(48 502 303.1)"/><ellipse cx="501.8" cy="300.8" rx="1.7" ry="1.8" transform="rotate(29 501.8 300.8)"/><ellipse cx="501.5" cy="301.4" rx="1.8" ry="1.6" transform="rotate(-22 501.5 301.4)"/><ellipse cx="501.9" cy="301.5" rx="2.3" ry="1.6" transform="rotate(10 501.9 301.5)"/><path d="M501.7 301.3 L500.8 300.1 L499.4 299.6 L497.9 299.8 L496.6 300.4" fill="none" stroke-width="2.3" stroke-linecap="round" stroke-linejoin="round"/><path d="M502.6 300.9 L501.2 300.3 L500.4 299 L500.1 297.6 L500.2 296.1" fill="none" stroke-width="2.5" stroke-linecap="round" stroke-linejoin="round"/><ellipse cx="453.2" cy="324.7" rx="1.9" ry="1.6" transform="rotate(-43 453.2 324.7)"/><ellipse cx="455.4" cy="325" rx="2.2" ry="1.6" transform="rotate(33 455.4 325)"/><ellipse cx="453.6" cy="325" rx="1.8" ry="2" transform="rotate(42 453.6 325)"/><ellipse cx="456.4" cy="323.9" rx="1.7" ry="1.6" transform="rotate(17 456.4 323.9)"/><ellipse cx="455.1" cy="324.5" rx="1.7" ry="1.9" transform="rotate(-22 455.1 324.5)"/><ellipse cx="455.8" cy="325.2" rx="2.1" ry="1.6" transform="rotate(49 455.8 325.2)"/><path d="M455.6 324.4 L457.1 324 L458.5 323.5 L459.7 322.7" fill="none" stroke-width="2.5" stroke-linecap="round" stroke-linejoin="round"/><path d="M455.9 325.2 L457.3 324.9 L458.8 324.8 L460.3 324.7 L461.8 324.3" fill="none" stroke-width="3.1" stroke-linecap="round" stroke-linejoin="round"/><ellipse cx="418.4" cy="339.2" rx="1.8" ry="2.1" transform="rotate(29 418.4 339.2)"/><ellipse cx="417.3" cy="339.9" rx="2" ry="2.1" transform="rotate(10 417.3 339.9)"/><ellipse cx="419.4" cy="341.5" rx="1.7" ry="2" transform="rotate(13 419.4 341.5)"/><path d="M418.8 340.2 L420.2 339.5 L421.7 339.6 L422.9 340.4" fill="none" stroke-width="2.8" stroke-linecap="round" stroke-linejoin="round"/><path d="M418.9 340.9 L419.2 339.4 L419.2 337.9" fill="none" stroke-width="3.1" stroke-linecap="round" stroke-linejoin="round"/><path d="M419.2 340.8 L420.7 341.1 L421.9 341.9 L423.4 342.4 L424.9 342.3" fill="none" stroke-width="2.3" stroke-linecap="round" stroke-linejoin="round"/><ellipse cx="465.2" cy="335" rx="1.6" ry="1.6" transform="rotate(48 465.2 335)"/><ellipse cx="464.5" cy="335.3" rx="1.6" ry="1.6" transform="rotate(-49 464.5 335.3)"/><ellipse cx="464.6" cy="335.1" rx="1.7" ry="1.6" transform="rotate(-20 464.6 335.1)"/><path d="M465.5 335.1 L467 334.9 L468.5 334.9 L469.6 333.8" fill="none" stroke-width="2.4" stroke-linecap="round" stroke-linejoin="round"/><path d="M464.7 336.1 L463.6 335.1 L462.1 335 L460.6 335.1 L459.5 336.1 L459 337.5" fill="none" stroke-width="2.5" stroke-linecap="round" stroke-linejoin="round"/><path d="M465.9 334.8 L467.3 334.3 L468.5 333.4" fill="none" stroke-width="2.6" stroke-linecap="round" stroke-linejoin="round"/><path d="M465.2 336 L463.8 336.6 L463 337.9 L462.2 339.2 L461.9 340.6 L461.7 342.1" fill="none" stroke-width="2.7" stroke-linecap="round" stroke-linejoin="round"/><ellipse cx="515" cy="360.3" rx="2" ry="1.9" transform="rotate(17 515 360.3)"/><ellipse cx="514.3" cy="362" rx="1.8" ry="2.3" transform="rotate(4 514.3 362)"/><ellipse cx="514" cy="360.8" rx="1.6" ry="2" transform="rotate(0 514 360.8)"/><ellipse cx="513" cy="363.3" rx="2.1" ry="1.9" transform="rotate(50 513 363.3)"/><ellipse cx="513.3" cy="360.7" rx="1.8" ry="2.7" transform="rotate(-5 513.3 360.7)"/><ellipse cx="515.1" cy="360.2" rx="2.4" ry="2.1" transform="rotate(-47 515.1 360.2)"/><path d="M514.1 362 L515.6 362.2 L516.7 363.2 L517.7 364.3 L519 365" fill="none" stroke-width="2.6" stroke-linecap="round" stroke-linejoin="round"/><path d="M515.5 360.2 L515.5 361.7 L514.7 363 L514.8 364.5 L515.7 365.7 L516.6 366.9" fill="none" stroke-width="3.4" stroke-linecap="round" stroke-linejoin="round"/><path d="M514.9 361.1 L514.3 362.5 L513.1 363.4 L511.6 363.8 L510.2 363.5" fill="none" stroke-width="2.6" stroke-linecap="round" stroke-linejoin="round"/><ellipse cx="489.4" cy="355.3" rx="2" ry="1.6" transform="rotate(5 489.4 355.3)"/><ellipse cx="487.6" cy="354.6" rx="2" ry="1.8" transform="rotate(27 487.6 354.6)"/><ellipse cx="488.5" cy="356.9" rx="2" ry="1.6" transform="rotate(3 488.5 356.9)"/><ellipse cx="489.4" cy="356.8" rx="2.2" ry="1.6" transform="rotate(46 489.4 356.8)"/><ellipse cx="488.8" cy="356" rx="2.2" ry="1.6" transform="rotate(39 488.8 356)"/><path d="M488.1 356.4 L486.7 355.9 L485.4 355.3" fill="none" stroke-width="2.3" stroke-linecap="round" stroke-linejoin="round"/><path d="M489.3 356.5 L488.2 357.5 L486.9 358.3" fill="none" stroke-width="3" stroke-linecap="round" stroke-linejoin="round"/><path d="M489.1 356.7 L489.2 358.2 L488.4 359.5 L487.8 360.8 L486.6 361.8" fill="none" stroke-width="2.5" stroke-linecap="round" stroke-linejoin="round"/><path d="M489.1 356.3 L490 357.5 L490.6 358.9" fill="none" stroke-width="2.6" stroke-linecap="round" stroke-linejoin="round"/><ellipse cx="400.2" cy="352.8" rx="1.6" ry="2.1" transform="rotate(-15 400.2 352.8)"/><ellipse cx="399.4" cy="352.2" rx="2" ry="2" transform="rotate(-37 399.4 352.2)"/><ellipse cx="400.8" cy="351.2" rx="1.7" ry="2.3" transform="rotate(40 400.8 351.2)"/><ellipse cx="400" cy="350.1" rx="1.6" ry="1.7" transform="rotate(-2 400 350.1)"/><ellipse cx="401.2" cy="352.4" rx="1.9" ry="2.3" transform="rotate(-25 401.2 352.4)"/><ellipse cx="399.4" cy="350.1" rx="1.6" ry="2.1" transform="rotate(45 399.4 350.1)"/><path d="M401.2 351.4 L401.6 352.9 L401.1 354.3 L400.1 355.4 L399.9 356.9 L399.9 358.4" fill="none" stroke-width="3.1" stroke-linecap="round" stroke-linejoin="round"/><path d="M400.7 351.2 L399.4 352 L397.9 351.9 L396.4 352.3 L394.9 352.2 L393.4 352.2" fill="none" stroke-width="2.9" stroke-linecap="round" stroke-linejoin="round"/><path d="M400.5 350.4 L401.5 349.2 L402.8 348.5 L404.3 348.7 L405.8 348.8" fill="none" stroke-width="2.2" stroke-linecap="round" stroke-linejoin="round"/><path d="M399.9 351.8 L398.4 352.1 L397.1 352.8 L396 353.9" fill="none" stroke-width="2.9" stroke-linecap="round" stroke-linejoin="round"/><ellipse cx="453.7" cy="307.6" rx="1.9" ry="2" transform="rotate(36 453.7 307.6)"/><ellipse cx="453.9" cy="307.6" rx="1.8" ry="1.6" transform="rotate(33 453.9 307.6)"/><ellipse cx="451.8" cy="308" rx="1.6" ry="1.6" transform="rotate(3 451.8 308)"/><ellipse cx="451.6" cy="308.1" rx="1.7" ry="1.6" transform="rotate(-35 451.6 308.1)"/><path d="M451.8 307.2 L453.1 306.3 L454.6 306.4" fill="none" stroke-width="2.8" stroke-linecap="round" stroke-linejoin="round"/><path d="M452.2 306.4 L450.7 305.9 L449.5 305.1 L448 304.7 L446.9 303.7 L446 302.5" fill="none" stroke-width="2.2" stroke-linecap="round" stroke-linejoin="round"/><path d="M452.3 307.1 L453.2 305.9 L454.3 304.9" fill="none" stroke-width="2.2" stroke-linecap="round" stroke-linejoin="round"/><path d="M452 306.7 L451.2 308 L450.4 309.3 L449.8 310.6" fill="none" stroke-width="3.2" stroke-linecap="round" stroke-linejoin="round"/><ellipse cx="412.6" cy="315.1" rx="1.6" ry="1.6" transform="rotate(49 412.6 315.1)"/><ellipse cx="414.7" cy="314.5" rx="1.8" ry="1.7" transform="rotate(49 414.7 314.5)"/><ellipse cx="414.8" cy="314.6" rx="1.6" ry="1.6" transform="rotate(17 414.8 314.6)"/><ellipse cx="412.7" cy="316.2" rx="1.6" ry="1.7" transform="rotate(-17 412.7 316.2)"/><ellipse cx="412.2" cy="315.4" rx="1.7" ry="1.6" transform="rotate(26 412.2 315.4)"/><path d="M413.1 316.1 L414.5 316.6 L415.8 317.3" fill="none" stroke-width="3.1" stroke-linecap="round" stroke-linejoin="round"/><path d="M413.4 315.4 L412.3 314.3 L411 313.6" fill="none" stroke-width="2.2" stroke-linecap="round" stroke-linejoin="round"/><ellipse cx="486.9" cy="304.3" rx="1.9" ry="2" transform="rotate(-16 486.9 304.3)"/><ellipse cx="488.2" cy="305.6" rx="1.6" ry="1.6" transform="rotate(-4 488.2 305.6)"/><ellipse cx="488.3" cy="304.2" rx="1.7" ry="1.6" transform="rotate(25 488.3 304.2)"/><ellipse cx="486.8" cy="303.1" rx="1.6" ry="2" transform="rotate(-27 486.8 303.1)"/><path d="M487.5 304.7 L487.5 303.2 L487.2 301.7 L486.6 300.3 L486.2 298.9" fill="none" stroke-width="2.3" stroke-linecap="round" stroke-linejoin="round"/><path d="M488.3 304.2 L487.8 305.6 L487.5 307 L486.5 308.2 L485.2 308.9" fill="none" stroke-width="2.3" stroke-linecap="round" stroke-linejoin="round"/><path d="M487 304.4 L488 305.5 L488.2 307 L489.3 308.1 L490.2 309.3 L490.7 310.7" fill="none" stroke-width="2.9" stroke-linecap="round" stroke-linejoin="round"/><path d="M486.7 303.5 L485.2 303.6 L484.1 304.6 L482.7 305.2 L481.6 306.2 L480.1 306.3" fill="none" stroke-width="2.6" stroke-linecap="round" stroke-linejoin="round"/><ellipse cx="439.4" cy="334.5" rx="1.6" ry="2.1" transform="rotate(10 439.4 334.5)"/><ellipse cx="439.9" cy="333.3" rx="1.6" ry="2" transform="rotate(-49 439.9 333.3)"/><ellipse cx="440.1" cy="332.8" rx="1.8" ry="1.7" transform="rotate(-12 440.1 332.8)"/><ellipse cx="439.7" cy="331.1" rx="1.6" ry="2" transform="rotate(-33 439.7 331.1)"/><ellipse cx="440.2" cy="332" rx="1.6" ry="1.9" transform="rotate(38 440.2 332)"/><ellipse cx="440.5" cy="332.7" rx="1.9" ry="1.8" transform="rotate(-7 440.5 332.7)"/><path d="M441 332.6 L442.5 332.5 L443.8 331.8 L445 330.9 L445.5 329.5 L445.5 328" fill="none" stroke-width="2.3" stroke-linecap="round" stroke-linejoin="round"/><path d="M441.6 333.2 L440.4 334.1 L439.1 334.9 L437.6 335 L436.2 335.5" fill="none" stroke-width="2.9" stroke-linecap="round" stroke-linejoin="round"/><path d="M440.6 332.4 L441.9 331.7 L443.1 330.9 L444 329.6" fill="none" stroke-width="2.3" stroke-linecap="round" stroke-linejoin="round"/><path d="M441.3 333.5 L441.8 332.1 L443.1 331.3 L443.6 329.9" fill="none" stroke-width="2.9" stroke-linecap="round" stroke-linejoin="round"/><ellipse cx="504.8" cy="318.1" rx="2" ry="1.6" transform="rotate(-24 504.8 318.1)"/><ellipse cx="504.7" cy="317" rx="1.8" ry="1.6" transform="rotate(16 504.7 317)"/><ellipse cx="504.5" cy="317.9" rx="1.6" ry="1.7" transform="rotate(10 504.5 317.9)"/><path d="M503.7 317.8 L502.3 317.3 L500.8 317.7 L499.3 317.7" fill="none" stroke-width="2.5" stroke-linecap="round" stroke-linejoin="round"/><path d="M504.3 317.5 L505.7 316.9 L507 316.1 L508.1 315.1" fill="none" stroke-width="3" stroke-linecap="round" stroke-linejoin="round"/><path d="M504.3 317.3 L503.1 318.2 L501.9 319.1 L501.1 320.3 L500.8 321.8 L500.4 323.2" fill="none" stroke-width="2.7" stroke-linecap="round" stroke-linejoin="round"/><path d="M504.7 317.4 L506.1 316.9 L507 315.6 L507.1 314.2" fill="none" stroke-width="2.9" stroke-linecap="round" stroke-linejoin="round"/><ellipse cx="426.1" cy="354" rx="1.8" ry="1.7" transform="rotate(-30 426.1 354)"/><ellipse cx="426.7" cy="353.1" rx="1.6" ry="1.6" transform="rotate(-40 426.7 353.1)"/><ellipse cx="425.1" cy="353.1" rx="1.6" ry="1.8" transform="rotate(-8 425.1 353.1)"/><ellipse cx="427.4" cy="352.7" rx="1.7" ry="1.7" transform="rotate(-4 427.4 352.7)"/><path d="M425.9 353.7 L427.3 354.1 L428.8 354.5 L430.2 354.8" fill="none" stroke-width="2.9" stroke-linecap="round" stroke-linejoin="round"/><path d="M426.6 352.9 L426.6 354.4 L425.8 355.6 L425.3 357.1 L424.2 358.1 L423 359" fill="none" stroke-width="2.9" stroke-linecap="round" stroke-linejoin="round"/><ellipse cx="464.2" cy="357.8" rx="1.7" ry="1.6" transform="rotate(-27 464.2 357.8)"/><ellipse cx="462.2" cy="358.9" rx="1.6" ry="1.6" transform="rotate(-35 462.2 358.9)"/><ellipse cx="462.6" cy="357.3" rx="1.6" ry="1.9" transform="rotate(-41 462.6 357.3)"/><ellipse cx="463.2" cy="359.8" rx="1.6" ry="1.9" transform="rotate(-38 463.2 359.8)"/><ellipse cx="461.9" cy="359.5" rx="1.6" ry="1.8" transform="rotate(25 461.9 359.5)"/><ellipse cx="463.4" cy="358.9" rx="1.7" ry="1.6" transform="rotate(-49 463.4 358.9)"/><path d="M462.6 358.2 L462 356.8 L462.5 355.4" fill="none" stroke-width="2.9" stroke-linecap="round" stroke-linejoin="round"/><path d="M462.9 358.8 L464.2 359.4 L465.7 359.9 L467.1 360.3 L468.5 359.7" fill="none" stroke-width="2.7" stroke-linecap="round" stroke-linejoin="round"/><path d="M462.6 358.3 L463.6 357.1 L464.8 356.3" fill="none" stroke-width="2.9" stroke-linecap="round" stroke-linejoin="round"/><path d="M463.3 358.6 L464.1 359.9 L465.5 360.5 L466.8 361.2 L468 362.1 L468.6 363.5" fill="none" stroke-width="2.4" stroke-linecap="round" stroke-linejoin="round"/><ellipse cx="516.4" cy="346.9" rx="1.6" ry="2.4" transform="rotate(34 516.4 346.9)"/><ellipse cx="516.7" cy="345.5" rx="1.6" ry="2" transform="rotate(-40 516.7 345.5)"/><ellipse cx="515.2" cy="344.1" rx="1.6" ry="1.9" transform="rotate(-10 515.2 344.1)"/><ellipse cx="515.6" cy="344.7" rx="1.6" ry="2.3" transform="rotate(-45 515.6 344.7)"/><ellipse cx="515" cy="344.1" rx="1.6" ry="2.2" transform="rotate(-6 515 344.1)"/><path d="M516.1 344.9 L516 346.4 L515.4 347.8" fill="none" stroke-width="2.6" stroke-linecap="round" stroke-linejoin="round"/><path d="M515.7 346.5 L517 347.3 L517.6 348.7 L518.1 350.1" fill="none" stroke-width="3.1" stroke-linecap="round" stroke-linejoin="round"/><ellipse cx="391.2" cy="286.7" rx="1.6" ry="2.2" transform="rotate(40 391.2 286.7)"/><ellipse cx="389.8" cy="290.1" rx="1.6" ry="1.9" transform="rotate(-45 389.8 290.1)"/><ellipse cx="390.2" cy="287.7" rx="1.6" ry="2.1" transform="rotate(-10 390.2 287.7)"/><ellipse cx="390.7" cy="288.9" rx="1.6" ry="2.2" transform="rotate(43 390.7 288.9)"/><ellipse cx="390.8" cy="288.3" rx="1.6" ry="2.4" transform="rotate(11 390.8 288.3)"/><ellipse cx="390.3" cy="288.2" rx="1.6" ry="2.3" transform="rotate(49 390.3 288.2)"/><path d="M390.7 288.6 L389.2 288.7 L388 289.5 L387.3 290.9 L387.6 292.3" fill="none" stroke-width="2.6" stroke-linecap="round" stroke-linejoin="round"/><path d="M390.6 288.6 L391 290.1 L391.4 291.5 L391.5 293" fill="none" stroke-width="3.4" stroke-linecap="round" stroke-linejoin="round"/><path d="M389.7 287.9 L390.8 286.8 L392.3 286.5" fill="none" stroke-width="2.8" stroke-linecap="round" stroke-linejoin="round"/><path d="M403.2 292.5 Q398.9 286.6 400.6 283.4" fill="none" stroke-width="2.2" stroke-linecap="round"/><path d="M403.2 292.5 Q397.3 289.5 390.2 288.6" fill="none" stroke-width="3.1" stroke-linecap="round"/><path d="M423.9 294.3 Q417.7 298.4 416.2 304.2" fill="none" stroke-width="2.8" stroke-linecap="round"/><path d="M446.8 288.1 Q448.9 290.3 451.2 295.1" fill="none" stroke-width="2.1" stroke-linecap="round"/><path d="M446.8 288.1 Q439.5 288.6 436.9 283.4" fill="none" stroke-width="3.1" stroke-linecap="round"/><path d="M451.2 295.1 Q449.9 299.1 452.5 306.7" fill="none" stroke-width="2.6" stroke-linecap="round"/><path d="M462.9 299 Q460.4 302.8 452.5 306.7" fill="none" stroke-width="2.7" stroke-linecap="round"/><path d="M491.4 288.6 Q488.3 295.9 487.5 304.2" fill="none" stroke-width="2.7" stroke-linecap="round"/><path d="M429.1 317.1 Q436.4 316 443.4 311.9" fill="none" stroke-width="2.3" stroke-linecap="round"/><path d="M429.1 317.1 Q419.7 316.3 413.6 315.8" fill="none" stroke-width="2.1" stroke-linecap="round"/><path d="M483.7 341 Q474.4 345.4 470.7 350.9" fill="none" stroke-width="2.6" stroke-linecap="round"/><path d="M447.3 348.3 Q442.8 356.6 436.9 360" fill="none" stroke-width="2.1" stroke-linecap="round"/><path d="M447.3 348.3 Q445.5 338.4 440.8 332.7" fill="none" stroke-width="2.1" stroke-linecap="round"/><path d="M395.4 337.9 Q399.2 345.6 400.6 350.9" fill="none" stroke-width="2.9" stroke-linecap="round"/><path d="M416.2 362.6 Q422.2 361 426.5 353.5" fill="none" stroke-width="2.9" stroke-linecap="round"/><path d="M416.2 362.6 Q410.6 354 400.6 350.9" fill="none" stroke-width="2" stroke-linecap="round"/><path d="M430.4 340.5 Q433.2 337.4 440.8 332.7" fill="none" stroke-width="3.1" stroke-linecap="round"/><path d="M510.1 330.6 Q506.1 324.9 504.4 317.1" fill="none" stroke-width="3" stroke-linecap="round"/><path d="M512.7 309.3 Q508 311.3 504.4 317.1" fill="none" stroke-width="2.2" stroke-linecap="round"/><path d="M512.7 309.3 Q508.6 303.8 501.8 301.6" fill="none" stroke-width="2.3" stroke-linecap="round"/><path d="M416.2 304.2 Q413.5 310.4 413.6 315.8" fill="none" stroke-width="3.2" stroke-linecap="round"/><path d="M390.2 304.2 Q390.9 293.7 390.2 288.6" fill="none" stroke-width="2.1" stroke-linecap="round"/><path d="M481.1 366.5 Q485.8 358.9 488.8 356.1" fill="none" stroke-width="2.6" stroke-linecap="round"/><path d="M400.6 283.4 Q396.8 286.8 390.2 288.6" fill="none" stroke-width="2.1" stroke-linecap="round"/><path d="M501.8 301.6 Q491.8 302.6 487.5 304.2" fill="none" stroke-width="2.6" stroke-linecap="round"/><path d="M455.1 324.9 Q458.3 328.5 465.5 335.3" fill="none" stroke-width="2.4" stroke-linecap="round"/><path d="M418.7 340.5 Q423.9 345.8 426.5 353.5" fill="none" stroke-width="2.4" stroke-linecap="round"/></g>
<ellipse cx="405.2" cy="293.6" rx="3.2" ry="1.9" fill="#100303" transform="rotate(-8 405.2 293.6)"/>
<ellipse cx="406.5" cy="290.7" rx="2.8" ry="1.6" fill="#100303" transform="rotate(-48 406.5 290.7)"/>
<ellipse cx="402" cy="292.8" rx="3.8" ry="1.6" fill="#160404" transform="rotate(-38 402 292.8)"/>
<ellipse cx="404.1" cy="294.3" rx="3.2" ry="1.7" fill="#1c0606" transform="rotate(4 404.1 294.3)"/>
<ellipse cx="400.5" cy="293.4" rx="2" ry="2.5" fill="#220806" transform="rotate(-32 400.5 293.4)"/>
<path d="M405.1 292.4 L404.4 291.1 L404 289.7 L404.2 288.2" fill="none" stroke="#2e0c0a" stroke-width="3.1" stroke-linecap="round" stroke-linejoin="round"/>
<path d="M403 293.6 L403.2 295.1 L403.8 296.5 L403.7 298 L404.5 299.2 L404.8 300.7" fill="none" stroke="#2e0c0a" stroke-width="2.2" stroke-linecap="round" stroke-linejoin="round"/>
<path d="M403.2 293.9 L403 292.4 L403.6 291.1 L404.2 289.7 L403.9 288.2" fill="none" stroke="#2e0c0a" stroke-width="1.7" stroke-linecap="round" stroke-linejoin="round"/>
<ellipse cx="420.9" cy="294.4" rx="2.2" ry="2.4" fill="#1c0606" transform="rotate(27 420.9 294.4)"/>
<ellipse cx="423.5" cy="295.4" rx="2.3" ry="1.3" fill="#1c0606" transform="rotate(21 423.5 295.4)"/>
<ellipse cx="421.5" cy="292.5" rx="2.5" ry="1.6" fill="#160404" transform="rotate(31 421.5 292.5)"/>
<path d="M424.1 294.4 L423.2 293.1 L422.2 292.1" fill="none" stroke="#140404" stroke-width="2.9" stroke-linecap="round" stroke-linejoin="round"/>
<path d="M424 294.2 L425.2 293.3 L425.6 291.9 L425.9 290.4 L425.1 289.1" fill="none" stroke="#140404" stroke-width="3.2" stroke-linecap="round" stroke-linejoin="round"/>
<path d="M425.7 293.9 L426.4 295.2 L426.7 296.7 L427.6 297.9" fill="none" stroke="#1c0606" stroke-width="1.7" stroke-linecap="round" stroke-linejoin="round"/>
<ellipse cx="446.3" cy="286.9" rx="1.2" ry="1.3" fill="#220806" transform="rotate(7 446.3 286.9)"/>
<ellipse cx="445.7" cy="288.1" rx="1.6" ry="1" fill="#1c0606" transform="rotate(23 445.7 288.1)"/>
<ellipse cx="445.6" cy="287.5" rx="1.3" ry="1.5" fill="#100303" transform="rotate(40 445.6 287.5)"/>
<ellipse cx="446.6" cy="289.5" rx="1.6" ry="1.3" fill="#1c0606" transform="rotate(3 446.6 289.5)"/>
<ellipse cx="445.4" cy="288.6" rx="1.1" ry="1.6" fill="#160404" transform="rotate(16 445.4 288.6)"/>
<ellipse cx="445" cy="289.4" rx="1.1" ry="1.7" fill="#220806" transform="rotate(38 445 289.4)"/>
<path d="M447.4 288.2 L447.8 286.8 L447.9 285.3" fill="none" stroke="#3a120e" stroke-width="1.4" stroke-linecap="round" stroke-linejoin="round"/>
<path d="M446.4 287.3 L445.3 286.4 L444.4 285.1 L443.5 283.9" fill="none" stroke="#2e0c0a" stroke-width="1.7" stroke-linecap="round" stroke-linejoin="round"/>
<ellipse cx="453" cy="295.8" rx="1.7" ry="1" fill="#220806" transform="rotate(-20 453 295.8)"/>
<ellipse cx="449.4" cy="294.4" rx="1.7" ry="1" fill="#1c0606" transform="rotate(-49 449.4 294.4)"/>
<ellipse cx="451" cy="293.8" rx="1.3" ry="1" fill="#160404" transform="rotate(21 451 293.8)"/>
<ellipse cx="449.9" cy="294.2" rx="1.4" ry="1.3" fill="#100303" transform="rotate(-10 449.9 294.2)"/>
<ellipse cx="450.1" cy="296.1" rx="1.8" ry="1" fill="#1c0606" transform="rotate(-3 450.1 296.1)"/>
<ellipse cx="452.5" cy="295.4" rx="1.1" ry="1" fill="#220806" transform="rotate(-50 452.5 295.4)"/>
<path d="M451.7 295.2 L452.9 296.1 L454.3 296.4 L455.8 296.2 L457.2 296.9 L458.7 296.9" fill="none" stroke="#2e0c0a" stroke-width="1.7" stroke-linecap="round" stroke-linejoin="round"/>
<ellipse cx="464.8" cy="299.7" rx="3.2" ry="2.2" fill="#1c0606" transform="rotate(43 464.8 299.7)"/>
<ellipse cx="465.2" cy="295.3" rx="2.7" ry="2.7" fill="#220806" transform="rotate(-46 465.2 295.3)"/>
<ellipse cx="459.9" cy="297.4" rx="2.5" ry="2.7" fill="#1c0606" transform="rotate(-19 459.9 297.4)"/>
<ellipse cx="464.4" cy="297.6" rx="3.5" ry="2" fill="#160404" transform="rotate(-33 464.4 297.6)"/>
<ellipse cx="464.1" cy="298.6" rx="2.2" ry="2.7" fill="#1c0606" transform="rotate(47 464.1 298.6)"/>
<path d="M464.4 298.8 L464.3 297.3 L464.4 295.8 L464.7 294.4 L464.9 292.9 L464.4 291.5" fill="none" stroke="#140404" stroke-width="3" stroke-linecap="round" stroke-linejoin="round"/>
<path d="M461.2 299.2 L462 300.5 L462.9 301.7 L464.4 302.1 L465.7 302.8" fill="none" stroke="#3a120e" stroke-width="1.9" stroke-linecap="round" stroke-linejoin="round"/>
<path d="M460.9 300.9 L461.4 302.3 L462.6 303.2 L463.9 303.9" fill="none" stroke="#2e0c0a" stroke-width="2.8" stroke-linecap="round" stroke-linejoin="round"/>
<path d="M461.8 297 L461.3 295.5 L460.3 294.4 L459.8 293 L459.1 291.7" fill="none" stroke="#1c0606" stroke-width="2.9" stroke-linecap="round" stroke-linejoin="round"/>
<ellipse cx="495.4" cy="287.8" rx="3.6" ry="1.9" fill="#1c0606" transform="rotate(29 495.4 287.8)"/>
<ellipse cx="492.3" cy="290.2" rx="3.7" ry="1.2" fill="#100303" transform="rotate(31 492.3 290.2)"/>
<ellipse cx="490.7" cy="288.2" rx="3.2" ry="1.9" fill="#1c0606" transform="rotate(-42 490.7 288.2)"/>
<ellipse cx="490.1" cy="286.3" rx="3.1" ry="1.4" fill="#1c0606" transform="rotate(41 490.1 286.3)"/>
<ellipse cx="493.9" cy="286.4" rx="2.5" ry="1.4" fill="#220806" transform="rotate(-41 493.9 286.4)"/>
<ellipse cx="494.1" cy="288.2" rx="3.3" ry="1.4" fill="#160404" transform="rotate(4 494.1 288.2)"/>
<path d="M490.5 288.6 L491.4 289.8 L492.1 291.1" fill="none" stroke="#3a120e" stroke-width="2.7" stroke-linecap="round" stroke-linejoin="round"/>
<path d="M489.8 287.6 L488.6 288.6 L487.3 289.4 L486.7 290.7" fill="none" stroke="#2e0c0a" stroke-width="1.7" stroke-linecap="round" stroke-linejoin="round"/>
<ellipse cx="480.3" cy="317" rx="3.3" ry="2" fill="#220806" transform="rotate(-15 480.3 317)"/>
<ellipse cx="472.7" cy="313.8" rx="3.7" ry="2.7" fill="#220806" transform="rotate(0 472.7 313.8)"/>
<ellipse cx="474.6" cy="310.1" rx="3.8" ry="2.9" fill="#100303" transform="rotate(17 474.6 310.1)"/>
<ellipse cx="477.2" cy="316.9" rx="3.3" ry="3.1" fill="#100303" transform="rotate(-24 477.2 316.9)"/>
<ellipse cx="479.7" cy="316.1" rx="2.6" ry="2.7" fill="#160404" transform="rotate(18 479.7 316.1)"/>
<path d="M473.3 313.8 L471.8 313.6 L470.5 314.3 L469 314.1 L467.6 314.7" fill="none" stroke="#3a120e" stroke-width="3.4" stroke-linecap="round" stroke-linejoin="round"/>
<ellipse cx="428.4" cy="314.1" rx="2.3" ry="2.7" fill="#100303" transform="rotate(-32 428.4 314.1)"/>
<ellipse cx="426.8" cy="319.6" rx="3.3" ry="3.1" fill="#1c0606" transform="rotate(-26 426.8 319.6)"/>
<ellipse cx="427.9" cy="319.2" rx="2.3" ry="1.9" fill="#220806" transform="rotate(-29 427.9 319.2)"/>
<ellipse cx="430.3" cy="314.4" rx="3.3" ry="3.1" fill="#220806" transform="rotate(-46 430.3 314.4)"/>
<ellipse cx="426.7" cy="320.6" rx="2" ry="3" fill="#220806" transform="rotate(-38 426.7 320.6)"/>
<path d="M429.6 317.1 L431 316.7 L432.1 315.7" fill="none" stroke="#140404" stroke-width="2.1" stroke-linecap="round" stroke-linejoin="round"/>
<path d="M430.3 318.7 L430.7 317.3 L430.6 315.8 L429.7 314.6 L429.6 313.1 L428.8 311.8" fill="none" stroke="#3a120e" stroke-width="1.5" stroke-linecap="round" stroke-linejoin="round"/>
<path d="M430.8 318.3 L430.3 316.8 L430.2 315.3 L431.1 314.1" fill="none" stroke="#2e0c0a" stroke-width="1.6" stroke-linecap="round" stroke-linejoin="round"/>
<ellipse cx="443.3" cy="312.8" rx="1.5" ry="1.4" fill="#1c0606" transform="rotate(47 443.3 312.8)"/>
<ellipse cx="443" cy="310.9" rx="1.2" ry="1.5" fill="#100303" transform="rotate(15 443 310.9)"/>
<ellipse cx="441.7" cy="310.3" rx="1.6" ry="1.5" fill="#160404" transform="rotate(-14 441.7 310.3)"/>
<ellipse cx="444.3" cy="311.7" rx="1.4" ry="1.4" fill="#160404" transform="rotate(11 444.3 311.7)"/>
<path d="M442.5 312.4 L441.8 311 L440.5 310.2 L439.4 309.2 L437.9 308.9" fill="none" stroke="#3a120e" stroke-width="1.3" stroke-linecap="round" stroke-linejoin="round"/>
<path d="M443.9 312.5 L442.4 312.5 L441 313.1 L439.8 313.9 L438.4 314.6" fill="none" stroke="#1c0606" stroke-width="1.5" stroke-linecap="round" stroke-linejoin="round"/>
<ellipse cx="490.3" cy="330.3" rx="6" ry="3.3" fill="#100303" transform="rotate(44 490.3 330.3)"/>
<ellipse cx="498.5" cy="326.8" rx="5.3" ry="4.2" fill="#1c0606" transform="rotate(-25 498.5 326.8)"/>
<ellipse cx="494.7" cy="324.5" rx="5.5" ry="4.1" fill="#100303" transform="rotate(49 494.7 324.5)"/>
<ellipse cx="492.2" cy="328" rx="4.1" ry="3.1" fill="#100303" transform="rotate(-1 492.2 328)"/>
<path d="M494.1 328.8 L492.7 328.2 L491.2 328.1 L490 327.2 L489.5 325.8 L489.8 324.4" fill="none" stroke="#2e0c0a" stroke-width="3.1" stroke-linecap="round" stroke-linejoin="round"/>
<path d="M493.1 328.6 L494.5 329 L495.9 329.7 L496.6 331 L497.2 332.4 L497 333.9" fill="none" stroke="#1c0606" stroke-width="2.3" stroke-linecap="round" stroke-linejoin="round"/>
<ellipse cx="483.1" cy="341.6" rx="2.4" ry="1.3" fill="#160404" transform="rotate(42 483.1 341.6)"/>
<ellipse cx="485.7" cy="338.7" rx="1.9" ry="1.6" fill="#1c0606" transform="rotate(-11 485.7 338.7)"/>
<ellipse cx="481.7" cy="343.2" rx="2.3" ry="1.3" fill="#100303" transform="rotate(31 481.7 343.2)"/>
<ellipse cx="481" cy="342.5" rx="1.8" ry="1.1" fill="#220806" transform="rotate(2 481 342.5)"/>
<ellipse cx="481.8" cy="340.5" rx="2.2" ry="2.1" fill="#100303" transform="rotate(-40 481.8 340.5)"/>
<path d="M485.1 340 L486.5 340.6 L487.9 341" fill="none" stroke="#3a120e" stroke-width="2.2" stroke-linecap="round" stroke-linejoin="round"/>
<path d="M483.7 339.9 L483 338.6 L482.4 337.2 L481.9 335.8 L482.2 334.3 L482.4 332.9" fill="none" stroke="#140404" stroke-width="2.3" stroke-linecap="round" stroke-linejoin="round"/>
<path d="M482.4 340.7 L482.7 339.3 L483.8 338.2 L485.2 337.8 L486.6 338.3 L488.1 338.4" fill="none" stroke="#1c0606" stroke-width="1.6" stroke-linecap="round" stroke-linejoin="round"/>
<ellipse cx="443.9" cy="344.9" rx="3.6" ry="3.4" fill="#220806" transform="rotate(-4 443.9 344.9)"/>
<ellipse cx="444.9" cy="350.5" rx="3.4" ry="3.6" fill="#1c0606" transform="rotate(-27 444.9 350.5)"/>
<ellipse cx="449.2" cy="351.1" rx="3.2" ry="2.8" fill="#1c0606" transform="rotate(18 449.2 351.1)"/>
<ellipse cx="451.8" cy="347.7" rx="2.6" ry="2" fill="#1c0606" transform="rotate(-18 451.8 347.7)"/>
<ellipse cx="446" cy="346.1" rx="4" ry="3.2" fill="#220806" transform="rotate(26 446 346.1)"/>
<path d="M447.9 348.7 L448.3 347.2 L447.9 345.7 L447.1 344.5 L445.8 343.8" fill="none" stroke="#2e0c0a" stroke-width="1.8" stroke-linecap="round" stroke-linejoin="round"/>
<ellipse cx="468.9" cy="349" rx="2.1" ry="1.3" fill="#100303" transform="rotate(-28 468.9 349)"/>
<ellipse cx="469.3" cy="349.8" rx="1.6" ry="1.4" fill="#220806" transform="rotate(9 469.3 349.8)"/>
<ellipse cx="470.7" cy="349.3" rx="1.3" ry="1.2" fill="#220806" transform="rotate(-25 470.7 349.3)"/>
<path d="M471.4 350.5 L470 351 L468.5 350.8 L467.1 350.3 L466.3 349.1 L464.8 348.6" fill="none" stroke="#2e0c0a" stroke-width="2.2" stroke-linecap="round" stroke-linejoin="round"/>
<path d="M470 352 L471.3 352.8 L472.3 354 L473.7 354.6 L474.6 355.7" fill="none" stroke="#1c0606" stroke-width="2.3" stroke-linecap="round" stroke-linejoin="round"/>
<path d="M470.7 351.1 L470.6 349.6 L469.6 348.4 L468.6 347.3" fill="none" stroke="#1c0606" stroke-width="2.6" stroke-linecap="round" stroke-linejoin="round"/>
<path d="M469.7 350 L468.3 349.7 L466.8 350.1 L466 351.3" fill="none" stroke="#140404" stroke-width="1.9" stroke-linecap="round" stroke-linejoin="round"/>
<ellipse cx="393.8" cy="336" rx="1.4" ry="4" fill="#220806" transform="rotate(-37 393.8 336)"/>
<ellipse cx="394.8" cy="337.7" rx="1.5" ry="4.1" fill="#220806" transform="rotate(-37 394.8 337.7)"/>
<ellipse cx="394.7" cy="334.4" rx="1.1" ry="3.6" fill="#1c0606" transform="rotate(-39 394.7 334.4)"/>
<ellipse cx="397.1" cy="340.8" rx="1.4" ry="4.6" fill="#100303" transform="rotate(1 397.1 340.8)"/>
<ellipse cx="396.5" cy="337.3" rx="1.6" ry="3.6" fill="#100303" transform="rotate(26 396.5 337.3)"/>
<ellipse cx="393.9" cy="341.7" rx="1.5" ry="4.3" fill="#1c0606" transform="rotate(28 393.9 341.7)"/>
<path d="M395.5 337.9 L397 338.4 L398.3 339.1 L399.7 339.6 L400.9 340.4 L402.3 341" fill="none" stroke="#2e0c0a" stroke-width="1.9" stroke-linecap="round" stroke-linejoin="round"/>
<path d="M394.7 336 L395.9 336.9 L396.5 338.3 L397.3 339.5 L398.8 340" fill="none" stroke="#1c0606" stroke-width="2.3" stroke-linecap="round" stroke-linejoin="round"/>
<path d="M396.3 340.4 L395.1 341.3 L394.1 342.4" fill="none" stroke="#140404" stroke-width="3.3" stroke-linecap="round" stroke-linejoin="round"/>
<path d="M396.3 335.6 L394.9 336.2 L393.9 337.3 L392.9 338.5 L391.6 339.2 L390.5 340.2" fill="none" stroke="#3a120e" stroke-width="2.6" stroke-linecap="round" stroke-linejoin="round"/>
<ellipse cx="397" cy="320.9" rx="1.1" ry="1.8" fill="#100303" transform="rotate(-8 397 320.9)"/>
<ellipse cx="396.5" cy="322.2" rx="1.1" ry="2.8" fill="#1c0606" transform="rotate(14 396.5 322.2)"/>
<ellipse cx="397.7" cy="321.7" rx="1.4" ry="1.6" fill="#220806" transform="rotate(-23 397.7 321.7)"/>
<ellipse cx="397.9" cy="317.4" rx="1" ry="1.9" fill="#220806" transform="rotate(-47 397.9 317.4)"/>
<ellipse cx="395.2" cy="322.3" rx="1.3" ry="1.6" fill="#160404" transform="rotate(-36 395.2 322.3)"/>
<ellipse cx="395.9" cy="321.5" rx="1.1" ry="2.3" fill="#1c0606" transform="rotate(-26 395.9 321.5)"/>
<path d="M397 318.8 L396.8 320.3 L396.3 321.7 L396.7 323.1 L397.3 324.5" fill="none" stroke="#2e0c0a" stroke-width="1.4" stroke-linecap="round" stroke-linejoin="round"/>
<ellipse cx="418.8" cy="360.9" rx="3.5" ry="1.4" fill="#1c0606" transform="rotate(18 418.8 360.9)"/>
<ellipse cx="412" cy="364.8" rx="4.1" ry="1.7" fill="#160404" transform="rotate(25 412 364.8)"/>
<ellipse cx="417.9" cy="364" rx="2.4" ry="2.4" fill="#100303" transform="rotate(16 417.9 364)"/>
<ellipse cx="417.8" cy="363.2" rx="3.2" ry="2.2" fill="#1c0606" transform="rotate(16 417.8 363.2)"/>
<ellipse cx="415.6" cy="363.5" rx="3.4" ry="2" fill="#160404" transform="rotate(-49 415.6 363.5)"/>
<path d="M416.9 363.7 L416.2 362.4 L415.7 361 L415.4 359.5" fill="none" stroke="#3a120e" stroke-width="3.4" stroke-linecap="round" stroke-linejoin="round"/>
<path d="M417.4 362.9 L417.8 361.4 L417.6 359.9 L418.1 358.5" fill="none" stroke="#140404" stroke-width="3.3" stroke-linecap="round" stroke-linejoin="round"/>
<ellipse cx="395.2" cy="361.8" rx="1.9" ry="1.3" fill="#160404" transform="rotate(31 395.2 361.8)"/>
<ellipse cx="393.7" cy="357.8" rx="2.4" ry="1.7" fill="#220806" transform="rotate(-26 393.7 357.8)"/>
<ellipse cx="392.1" cy="359.9" rx="2.2" ry="1.7" fill="#100303" transform="rotate(20 392.1 359.9)"/>
<ellipse cx="392.7" cy="360.4" rx="2.4" ry="2.2" fill="#100303" transform="rotate(23 392.7 360.4)"/>
<ellipse cx="394.5" cy="358" rx="1.4" ry="2.1" fill="#1c0606" transform="rotate(24 394.5 358)"/>
<ellipse cx="393.5" cy="360.4" rx="2.4" ry="1.8" fill="#100303" transform="rotate(47 393.5 360.4)"/>
<path d="M391.9 359.1 L391.5 357.7 L390.8 356.3 L389.4 355.8 L388.4 354.7 L387.4 353.5" fill="none" stroke="#140404" stroke-width="2.3" stroke-linecap="round" stroke-linejoin="round"/>
<ellipse cx="432.3" cy="338.6" rx="2.1" ry="1.8" fill="#220806" transform="rotate(17 432.3 338.6)"/>
<ellipse cx="431.8" cy="341.6" rx="1.9" ry="1.6" fill="#220806" transform="rotate(6 431.8 341.6)"/>
<ellipse cx="431.1" cy="338.3" rx="2.1" ry="2.1" fill="#100303" transform="rotate(-34 431.1 338.3)"/>
<ellipse cx="430.3" cy="341.9" rx="1.4" ry="2.5" fill="#160404" transform="rotate(48 430.3 341.9)"/>
<path d="M429.8 340.1 L429.3 341.6 L428.7 342.9 L428.1 344.3 L428.5 345.8 L429.7 346.6" fill="none" stroke="#3a120e" stroke-width="1.8" stroke-linecap="round" stroke-linejoin="round"/>
<path d="M431.2 341.8 L429.7 341.4 L428.2 341.2" fill="none" stroke="#140404" stroke-width="2.8" stroke-linecap="round" stroke-linejoin="round"/>
<path d="M430.5 340.7 L430.5 339.2 L430.1 337.8 L430.3 336.3" fill="none" stroke="#3a120e" stroke-width="1.4" stroke-linecap="round" stroke-linejoin="round"/>
<ellipse cx="511.6" cy="332.1" rx="1.5" ry="1.3" fill="#100303" transform="rotate(5 511.6 332.1)"/>
<ellipse cx="509.8" cy="328.9" rx="1.7" ry="1.6" fill="#100303" transform="rotate(24 509.8 328.9)"/>
<ellipse cx="509.4" cy="330.5" rx="1.5" ry="2.2" fill="#160404" transform="rotate(-8 509.4 330.5)"/>
<ellipse cx="509.1" cy="329.7" rx="1.1" ry="1.9" fill="#160404" transform="rotate(47 509.1 329.7)"/>
<ellipse cx="511.1" cy="332.6" rx="1.3" ry="1.8" fill="#1c0606" transform="rotate(-15 511.1 332.6)"/>
<path d="M509.9 331 L509.2 329.7 L508.7 328.3 L507.9 327 L506.6 326.3 L505.6 325.1" fill="none" stroke="#140404" stroke-width="2.1" stroke-linecap="round" stroke-linejoin="round"/>
<ellipse cx="514" cy="308.1" rx="1.3" ry="1.7" fill="#220806" transform="rotate(-16 514 308.1)"/>
<ellipse cx="513.6" cy="308.9" rx="1" ry="2.2" fill="#160404" transform="rotate(20 513.6 308.9)"/>
<ellipse cx="512.6" cy="308.8" rx="1" ry="2.2" fill="#100303" transform="rotate(49 512.6 308.8)"/>
<ellipse cx="514.2" cy="311.2" rx="1.1" ry="1.8" fill="#160404" transform="rotate(-18 514.2 311.2)"/>
<path d="M512.5 310.3 L512.2 308.8 L512.5 307.4" fill="none" stroke="#3a120e" stroke-width="1.7" stroke-linecap="round" stroke-linejoin="round"/>
<path d="M512.6 310.1 L513.7 309.1 L515.1 308.9 L516.5 308.2 L517.7 307.3 L518.3 305.9" fill="none" stroke="#2e0c0a" stroke-width="2.3" stroke-linecap="round" stroke-linejoin="round"/>
<path d="M512.3 309.8 L512.4 308.3 L513.2 307.1 L513.6 305.7" fill="none" stroke="#140404" stroke-width="1.7" stroke-linecap="round" stroke-linejoin="round"/>
<path d="M512.9 307.9 L513 309.4 L512.2 310.7" fill="none" stroke="#140404" stroke-width="1.6" stroke-linecap="round" stroke-linejoin="round"/>
<ellipse cx="500.9" cy="363.2" rx="2.2" ry="1" fill="#160404" transform="rotate(23 500.9 363.2)"/>
<ellipse cx="500" cy="361.9" rx="2.2" ry="1.7" fill="#1c0606" transform="rotate(19 500 361.9)"/>
<ellipse cx="500.6" cy="360.7" rx="2.5" ry="1.8" fill="#1c0606" transform="rotate(4 500.6 360.7)"/>
<ellipse cx="499.2" cy="361.8" rx="1.9" ry="1.2" fill="#100303" transform="rotate(-48 499.2 361.8)"/>
<path d="M498.3 361.3 L497.6 362.6 L496.7 363.8 L496.5 365.3 L496.7 366.8" fill="none" stroke="#3a120e" stroke-width="2.7" stroke-linecap="round" stroke-linejoin="round"/>
<path d="M499.5 361.8 L498.9 360.4 L497.6 359.7 L496.3 358.8" fill="none" stroke="#2e0c0a" stroke-width="1.9" stroke-linecap="round" stroke-linejoin="round"/>
<path d="M499.5 361.2 L500.8 361.9 L501.7 363.2 L503.1 363.6 L504.6 364" fill="none" stroke="#2e0c0a" stroke-width="2" stroke-linecap="round" stroke-linejoin="round"/>
<path d="M498.2 360.6 L499.3 361.6 L500.3 362.7 L501.2 363.9 L502.1 365.2 L502.9 366.4" fill="none" stroke="#3a120e" stroke-width="2.4" stroke-linecap="round" stroke-linejoin="round"/>
<ellipse cx="409.2" cy="326.4" rx="1.4" ry="1.8" fill="#100303" transform="rotate(12 409.2 326.4)"/>
<ellipse cx="409.8" cy="326.6" rx="2" ry="1.5" fill="#220806" transform="rotate(37 409.8 326.6)"/>
<ellipse cx="410" cy="326.5" rx="2" ry="1.7" fill="#100303" transform="rotate(-44 410 326.5)"/>
<ellipse cx="406.6" cy="327.5" rx="1.2" ry="1.3" fill="#160404" transform="rotate(30 406.6 327.5)"/>
<path d="M408 327 L408.3 325.6 L408.5 324.1 L409.5 322.9" fill="none" stroke="#3a120e" stroke-width="1.4" stroke-linecap="round" stroke-linejoin="round"/>
<path d="M409.4 326.6 L409.6 325.1 L409.4 323.7" fill="none" stroke="#140404" stroke-width="2.3" stroke-linecap="round" stroke-linejoin="round"/>
<path d="M408.6 327.5 L407.3 328.3 L406.1 329.2 L405 330.1" fill="none" stroke="#140404" stroke-width="1.8" stroke-linecap="round" stroke-linejoin="round"/>
<ellipse cx="437" cy="360" rx="1.6" ry="1.3" fill="#1c0606" transform="rotate(-44 437 360)"/>
<ellipse cx="435.5" cy="358.5" rx="2" ry="1.5" fill="#100303" transform="rotate(-28 435.5 358.5)"/>
<ellipse cx="437.1" cy="360.4" rx="1.4" ry="1.3" fill="#220806" transform="rotate(35 437.1 360.4)"/>
<ellipse cx="439.1" cy="360.1" rx="1.9" ry="1.7" fill="#100303" transform="rotate(-50 439.1 360.1)"/>
<ellipse cx="438.6" cy="360.8" rx="1.7" ry="1.5" fill="#100303" transform="rotate(50 438.6 360.8)"/>
<path d="M437.9 359.1 L439.4 359.1 L440.6 359.9 L441.3 361.3 L441.9 362.7" fill="none" stroke="#1c0606" stroke-width="2.4" stroke-linecap="round" stroke-linejoin="round"/>
<path d="M437.1 360.5 L438.6 360.3 L439.9 359.5" fill="none" stroke="#2e0c0a" stroke-width="1.7" stroke-linecap="round" stroke-linejoin="round"/>
<ellipse cx="456.7" cy="365.9" rx="2.2" ry="1.3" fill="#160404" transform="rotate(-5 456.7 365.9)"/>
<ellipse cx="457.3" cy="366.6" rx="1.4" ry="1" fill="#220806" transform="rotate(-24 457.3 366.6)"/>
<ellipse cx="461.6" cy="365.8" rx="1.5" ry="1" fill="#220806" transform="rotate(8 461.6 365.8)"/>
<ellipse cx="459.1" cy="365.6" rx="2.3" ry="1.2" fill="#160404" transform="rotate(45 459.1 365.6)"/>
<ellipse cx="457.1" cy="367.9" rx="2.5" ry="1" fill="#220806" transform="rotate(-9 457.1 367.9)"/>
<ellipse cx="460.1" cy="365.1" rx="1.5" ry="1" fill="#1c0606" transform="rotate(40 460.1 365.1)"/>
<path d="M457.9 366.1 L457.6 364.6 L458 363.1" fill="none" stroke="#3a120e" stroke-width="2.6" stroke-linecap="round" stroke-linejoin="round"/>
<path d="M458.4 367.2 L457.2 366.3 L456 365.3 L455.4 364" fill="none" stroke="#1c0606" stroke-width="2.3" stroke-linecap="round" stroke-linejoin="round"/>
<ellipse cx="512.1" cy="288.6" rx="1.2" ry="1.7" fill="#220806" transform="rotate(16 512.1 288.6)"/>
<ellipse cx="512.8" cy="286.6" rx="1.1" ry="1.1" fill="#220806" transform="rotate(24 512.8 286.6)"/>
<ellipse cx="512" cy="287.8" rx="1" ry="1.7" fill="#220806" transform="rotate(17 512 287.8)"/>
<path d="M513.9 288.8 L514.6 290.1 L514.5 291.6 L515 293" fill="none" stroke="#1c0606" stroke-width="1.3" stroke-linecap="round" stroke-linejoin="round"/>
<path d="M512.9 288.7 L513.8 289.9 L514.6 291.2 L514.9 292.7 L515.8 293.9 L517.2 294.5" fill="none" stroke="#2e0c0a" stroke-width="1.5" stroke-linecap="round" stroke-linejoin="round"/>
<ellipse cx="416.3" cy="303.3" rx="1.1" ry="1.4" fill="#160404" transform="rotate(16 416.3 303.3)"/>
<ellipse cx="414.6" cy="303.5" rx="1" ry="1" fill="#160404" transform="rotate(34 414.6 303.5)"/>
<ellipse cx="418.1" cy="304.3" rx="1.8" ry="1" fill="#160404" transform="rotate(-17 418.1 304.3)"/>
<path d="M415.4 304.9 L415.3 306.4 L414.3 307.5 L413.7 308.9 L412.5 309.8" fill="none" stroke="#3a120e" stroke-width="1.3" stroke-linecap="round" stroke-linejoin="round"/>
<path d="M416.5 304.5 L415.5 305.6 L414 305.8 L412.8 306.7" fill="none" stroke="#1c0606" stroke-width="2" stroke-linecap="round" stroke-linejoin="round"/>
<path d="M416.6 303.5 L417.3 304.8 L418.6 305.5 L419.4 306.7 L420 308.1 L420.4 309.6" fill="none" stroke="#3a120e" stroke-width="2.2" stroke-linecap="round" stroke-linejoin="round"/>
<ellipse cx="471.3" cy="283.5" rx="1.4" ry="1.1" fill="#1c0606" transform="rotate(-25 471.3 283.5)"/>
<ellipse cx="469.2" cy="286.1" rx="1.5" ry="1.3" fill="#100303" transform="rotate(9 469.2 286.1)"/>
<ellipse cx="471.3" cy="285.7" rx="1.3" ry="1" fill="#220806" transform="rotate(43 471.3 285.7)"/>
<ellipse cx="469.4" cy="284.5" rx="1.5" ry="1.2" fill="#100303" transform="rotate(13 469.4 284.5)"/>
<ellipse cx="470.1" cy="285.9" rx="1.4" ry="1.4" fill="#1c0606" transform="rotate(-15 470.1 285.9)"/>
<ellipse cx="469.7" cy="285.9" rx="1" ry="1" fill="#160404" transform="rotate(28 469.7 285.9)"/>
<path d="M470.3 285.1 L471.8 284.6 L473.2 284.9 L474.6 285.5" fill="none" stroke="#3a120e" stroke-width="1.2" stroke-linecap="round" stroke-linejoin="round"/>
<path d="M470 284.1 L470.9 282.9 L471.2 281.4 L472 280.1 L472.4 278.7 L473.4 277.5" fill="none" stroke="#3a120e" stroke-width="1.3" stroke-linecap="round" stroke-linejoin="round"/>
<path d="M470.2 285.2 L469.5 283.9 L469 282.4 L469.3 280.9 L468.8 279.5" fill="none" stroke="#140404" stroke-width="1.4" stroke-linecap="round" stroke-linejoin="round"/>
<path d="M470.8 285.3 L472.3 285.6 L473.6 286.3 L474.2 287.6" fill="none" stroke="#3a120e" stroke-width="2.4" stroke-linecap="round" stroke-linejoin="round"/>
<ellipse cx="505.4" cy="352" rx="1.8" ry="2.5" fill="#220806" transform="rotate(37 505.4 352)"/>
<ellipse cx="506.3" cy="348.5" rx="1.1" ry="1.8" fill="#160404" transform="rotate(10 506.3 348.5)"/>
<ellipse cx="506.5" cy="350.9" rx="1" ry="1.5" fill="#220806" transform="rotate(0 506.5 350.9)"/>
<ellipse cx="506.8" cy="352.2" rx="1.5" ry="2.4" fill="#160404" transform="rotate(7 506.8 352.2)"/>
<path d="M506.4 352 L505.9 353.5 L505.3 354.8 L503.9 355.5 L503.1 356.7" fill="none" stroke="#2e0c0a" stroke-width="2.2" stroke-linecap="round" stroke-linejoin="round"/>
<path d="M506.2 351.8 L505.5 353.2 L505 354.6" fill="none" stroke="#2e0c0a" stroke-width="1.9" stroke-linecap="round" stroke-linejoin="round"/>
<path d="M507 349.8 L507.8 351 L509 351.9" fill="none" stroke="#2e0c0a" stroke-width="1.6" stroke-linecap="round" stroke-linejoin="round"/>
<ellipse cx="389.3" cy="303.4" rx="1.3" ry="2" fill="#160404" transform="rotate(23 389.3 303.4)"/>
<ellipse cx="388.7" cy="305.5" rx="1" ry="2" fill="#100303" transform="rotate(-44 388.7 305.5)"/>
<ellipse cx="389.1" cy="304.7" rx="1.3" ry="1.5" fill="#220806" transform="rotate(-17 389.1 304.7)"/>
<ellipse cx="391" cy="302.2" rx="1.4" ry="1.3" fill="#160404" transform="rotate(30 391 302.2)"/>
<path d="M390.5 302.7 L390.3 304.2 L390.3 305.7" fill="none" stroke="#140404" stroke-width="2.3" stroke-linecap="round" stroke-linejoin="round"/>
<path d="M390.4 303.1 L390 304.5 L389.7 306 L390.4 307.3 L390.8 308.8 L391.6 310" fill="none" stroke="#140404" stroke-width="2.1" stroke-linecap="round" stroke-linejoin="round"/>
<path d="M390.2 303.4 L389.8 304.9 L389.2 306.3 L388.6 307.6 L388.6 309.1 L387.8 310.4" fill="none" stroke="#3a120e" stroke-width="1.3" stroke-linecap="round" stroke-linejoin="round"/>
<path d="M390.6 304.6 L389.2 305 L387.7 305.2 L386.2 305.3 L385 306.2" fill="none" stroke="#3a120e" stroke-width="2.1" stroke-linecap="round" stroke-linejoin="round"/>
<ellipse cx="479.9" cy="367.3" rx="2.5" ry="1.2" fill="#1c0606" transform="rotate(-30 479.9 367.3)"/>
<ellipse cx="483.6" cy="365.9" rx="2.4" ry="1" fill="#220806" transform="rotate(-34 483.6 365.9)"/>
<ellipse cx="480" cy="366.9" rx="1.8" ry="1" fill="#220806" transform="rotate(-31 480 366.9)"/>
<ellipse cx="481.7" cy="367.9" rx="1.9" ry="1" fill="#160404" transform="rotate(-15 481.7 367.9)"/>
<ellipse cx="478.3" cy="365.5" rx="1.8" ry="1.2" fill="#220806" transform="rotate(-5 478.3 365.5)"/>
<ellipse cx="483.7" cy="367.5" rx="2.4" ry="1.4" fill="#220806" transform="rotate(-45 483.7 367.5)"/>
<path d="M480.7 367.1 L481.1 368.6 L481 370.1" fill="none" stroke="#1c0606" stroke-width="2.6" stroke-linecap="round" stroke-linejoin="round"/>
<path d="M480.6 367.2 L480.1 368.6 L479.9 370.1 L480.6 371.4" fill="none" stroke="#140404" stroke-width="2" stroke-linecap="round" stroke-linejoin="round"/>
<path d="M479.6 366.9 L480.1 365.5 L480 364" fill="none" stroke="#1c0606" stroke-width="1.3" stroke-linecap="round" stroke-linejoin="round"/>
<path d="M480.8 366 L479.3 365.6 L477.8 365.3" fill="none" stroke="#140404" stroke-width="2.2" stroke-linecap="round" stroke-linejoin="round"/>
<ellipse cx="402.6" cy="283.1" rx="1.3" ry="1" fill="#160404" transform="rotate(34 402.6 283.1)"/>
<ellipse cx="401.6" cy="283.9" rx="1.2" ry="1" fill="#220806" transform="rotate(50 401.6 283.9)"/>
<ellipse cx="402.5" cy="284" rx="1.6" ry="1" fill="#1c0606" transform="rotate(-2 402.5 284)"/>
<ellipse cx="398.9" cy="283.1" rx="1.5" ry="1" fill="#220806" transform="rotate(37 398.9 283.1)"/>
<ellipse cx="402.2" cy="282.6" rx="2.1" ry="1.1" fill="#100303" transform="rotate(-35 402.2 282.6)"/>
<path d="M401 283.4 L401.9 284.6 L403.4 284.9" fill="none" stroke="#140404" stroke-width="1.9" stroke-linecap="round" stroke-linejoin="round"/>
<ellipse cx="437.8" cy="282.5" rx="1" ry="1" fill="#100303" transform="rotate(-18 437.8 282.5)"/>
<ellipse cx="436.9" cy="283.7" rx="1" ry="1" fill="#1c0606" transform="rotate(-17 436.9 283.7)"/>
<ellipse cx="436.6" cy="282.8" rx="1.3" ry="1.1" fill="#1c0606" transform="rotate(-41 436.6 282.8)"/>
<ellipse cx="438.1" cy="283.3" rx="1.2" ry="1" fill="#220806" transform="rotate(-26 438.1 283.3)"/>
<ellipse cx="436.7" cy="282.5" rx="1.3" ry="1" fill="#220806" transform="rotate(-3 436.7 282.5)"/>
<path d="M436.4 283.9 L436.7 285.3 L437.6 286.5 L439.1 286.9 L440.5 287.5 L442 287.4" fill="none" stroke="#2e0c0a" stroke-width="2.2" stroke-linecap="round" stroke-linejoin="round"/>
<path d="M437.3 283.5 L436.4 284.7 L435.1 285.4" fill="none" stroke="#140404" stroke-width="1.5" stroke-linecap="round" stroke-linejoin="round"/>
<path d="M436.5 282.9 L437.8 282.2 L439.3 282.5 L440.7 283 L441.7 284.1" fill="none" stroke="#1c0606" stroke-width="2" stroke-linecap="round" stroke-linejoin="round"/>
<ellipse cx="502" cy="303.1" rx="1" ry="1.4" fill="#220806" transform="rotate(48 502 303.1)"/>
<ellipse cx="501.8" cy="300.8" rx="1.1" ry="1.2" fill="#1c0606" transform="rotate(29 501.8 300.8)"/>
<ellipse cx="501.5" cy="301.4" rx="1.2" ry="1" fill="#1c0606" transform="rotate(-22 501.5 301.4)"/>
<ellipse cx="501.9" cy="301.5" rx="1.7" ry="1" fill="#100303" transform="rotate(10 501.9 301.5)"/>
<path d="M501.7 301.3 L500.8 300.1 L499.4 299.6 L497.9 299.8 L496.6 300.4" fill="none" stroke="#1c0606" stroke-width="1.3" stroke-linecap="round" stroke-linejoin="round"/>
<path d="M502.6 300.9 L501.2 300.3 L500.4 299 L500.1 297.6 L500.2 296.1" fill="none" stroke="#140404" stroke-width="1.5" stroke-linecap="round" stroke-linejoin="round"/>
<ellipse cx="453.2" cy="324.7" rx="1.3" ry="1" fill="#220806" transform="rotate(-43 453.2 324.7)"/>
<ellipse cx="455.4" cy="325" rx="1.6" ry="1" fill="#1c0606" transform="rotate(33 455.4 325)"/>
<ellipse cx="453.6" cy="325" rx="1.2" ry="1.4" fill="#220806" transform="rotate(42 453.6 325)"/>
<ellipse cx="456.4" cy="323.9" rx="1.1" ry="1" fill="#160404" transform="rotate(17 456.4 323.9)"/>
<ellipse cx="455.1" cy="324.5" rx="1.1" ry="1.3" fill="#220806" transform="rotate(-22 455.1 324.5)"/>
<ellipse cx="455.8" cy="325.2" rx="1.5" ry="1" fill="#1c0606" transform="rotate(49 455.8 325.2)"/>
<path d="M455.6 324.4 L457.1 324 L458.5 323.5 L459.7 322.7" fill="none" stroke="#1c0606" stroke-width="1.5" stroke-linecap="round" stroke-linejoin="round"/>
<path d="M455.9 325.2 L457.3 324.9 L458.8 324.8 L460.3 324.7 L461.8 324.3" fill="none" stroke="#140404" stroke-width="2.1" stroke-linecap="round" stroke-linejoin="round"/>
<ellipse cx="418.4" cy="339.2" rx="1.2" ry="1.5" fill="#220806" transform="rotate(29 418.4 339.2)"/>
<ellipse cx="417.3" cy="339.9" rx="1.4" ry="1.5" fill="#1c0606" transform="rotate(10 417.3 339.9)"/>
<ellipse cx="419.4" cy="341.5" rx="1.1" ry="1.4" fill="#220806" transform="rotate(13 419.4 341.5)"/>
<path d="M418.8 340.2 L420.2 339.5 L421.7 339.6 L422.9 340.4" fill="none" stroke="#2e0c0a" stroke-width="1.8" stroke-linecap="round" stroke-linejoin="round"/>
<path d="M418.9 340.9 L419.2 339.4 L419.2 337.9" fill="none" stroke="#3a120e" stroke-width="2.1" stroke-linecap="round" stroke-linejoin="round"/>
<path d="M419.2 340.8 L420.7 341.1 L421.9 341.9 L423.4 342.4 L424.9 342.3" fill="none" stroke="#2e0c0a" stroke-width="1.3" stroke-linecap="round" stroke-linejoin="round"/>
<ellipse cx="465.2" cy="335" rx="1" ry="1" fill="#100303" transform="rotate(48 465.2 335)"/>
<ellipse cx="464.5" cy="335.3" rx="1" ry="1" fill="#220806" transform="rotate(-49 464.5 335.3)"/>
<ellipse cx="464.6" cy="335.1" rx="1.1" ry="1" fill="#1c0606" transform="rotate(-20 464.6 335.1)"/>
<path d="M465.5 335.1 L467 334.9 L468.5 334.9 L469.6 333.8" fill="none" stroke="#140404" stroke-width="1.4" stroke-linecap="round" stroke-linejoin="round"/>
<path d="M464.7 336.1 L463.6 335.1 L462.1 335 L460.6 335.1 L459.5 336.1 L459 337.5" fill="none" stroke="#1c0606" stroke-width="1.5" stroke-linecap="round" stroke-linejoin="round"/>
<path d="M465.9 334.8 L467.3 334.3 L468.5 333.4" fill="none" stroke="#1c0606" stroke-width="1.6" stroke-linecap="round" stroke-linejoin="round"/>
<path d="M465.2 336 L463.8 336.6 L463 337.9 L462.2 339.2 L461.9 340.6 L461.7 342.1" fill="none" stroke="#1c0606" stroke-width="1.7" stroke-linecap="round" stroke-linejoin="round"/>
<ellipse cx="515" cy="360.3" rx="1.4" ry="1.3" fill="#220806" transform="rotate(17 515 360.3)"/>
<ellipse cx="514.3" cy="362" rx="1.2" ry="1.7" fill="#1c0606" transform="rotate(4 514.3 362)"/>
<ellipse cx="514" cy="360.8" rx="1" ry="1.4" fill="#1c0606" transform="rotate(0 514 360.8)"/>
<ellipse cx="513" cy="363.3" rx="1.5" ry="1.3" fill="#1c0606" transform="rotate(50 513 363.3)"/>
<ellipse cx="513.3" cy="360.7" rx="1.2" ry="2.1" fill="#220806" transform="rotate(-5 513.3 360.7)"/>
<ellipse cx="515.1" cy="360.2" rx="1.8" ry="1.5" fill="#100303" transform="rotate(-47 515.1 360.2)"/>
<path d="M514.1 362 L515.6 362.2 L516.7 363.2 L517.7 364.3 L519 365" fill="none" stroke="#3a120e" stroke-width="1.6" stroke-linecap="round" stroke-linejoin="round"/>
<path d="M515.5 360.2 L515.5 361.7 L514.7 363 L514.8 364.5 L515.7 365.7 L516.6 366.9" fill="none" stroke="#1c0606" stroke-width="2.4" stroke-linecap="round" stroke-linejoin="round"/>
<path d="M514.9 361.1 L514.3 362.5 L513.1 363.4 L511.6 363.8 L510.2 363.5" fill="none" stroke="#3a120e" stroke-width="1.6" stroke-linecap="round" stroke-linejoin="round"/>
<ellipse cx="489.4" cy="355.3" rx="1.4" ry="1" fill="#160404" transform="rotate(5 489.4 355.3)"/>
<ellipse cx="487.6" cy="354.6" rx="1.4" ry="1.2" fill="#220806" transform="rotate(27 487.6 354.6)"/>
<ellipse cx="488.5" cy="356.9" rx="1.4" ry="1" fill="#220806" transform="rotate(3 488.5 356.9)"/>
<ellipse cx="489.4" cy="356.8" rx="1.6" ry="1" fill="#160404" transform="rotate(46 489.4 356.8)"/>
<ellipse cx="488.8" cy="356" rx="1.6" ry="1" fill="#220806" transform="rotate(39 488.8 356)"/>
<path d="M488.1 356.4 L486.7 355.9 L485.4 355.3" fill="none" stroke="#140404" stroke-width="1.3" stroke-linecap="round" stroke-linejoin="round"/>
<path d="M489.3 356.5 L488.2 357.5 L486.9 358.3" fill="none" stroke="#3a120e" stroke-width="2" stroke-linecap="round" stroke-linejoin="round"/>
<path d="M489.1 356.7 L489.2 358.2 L488.4 359.5 L487.8 360.8 L486.6 361.8" fill="none" stroke="#2e0c0a" stroke-width="1.5" stroke-linecap="round" stroke-linejoin="round"/>
<path d="M489.1 356.3 L490 357.5 L490.6 358.9" fill="none" stroke="#2e0c0a" stroke-width="1.6" stroke-linecap="round" stroke-linejoin="round"/>
<ellipse cx="400.2" cy="352.8" rx="1" ry="1.5" fill="#220806" transform="rotate(-15 400.2 352.8)"/>
<ellipse cx="399.4" cy="352.2" rx="1.4" ry="1.4" fill="#160404" transform="rotate(-37 399.4 352.2)"/>
<ellipse cx="400.8" cy="351.2" rx="1.1" ry="1.7" fill="#220806" transform="rotate(40 400.8 351.2)"/>
<ellipse cx="400" cy="350.1" rx="1" ry="1.1" fill="#100303" transform="rotate(-2 400 350.1)"/>
<ellipse cx="401.2" cy="352.4" rx="1.3" ry="1.7" fill="#1c0606" transform="rotate(-25 401.2 352.4)"/>
<ellipse cx="399.4" cy="350.1" rx="1" ry="1.5" fill="#160404" transform="rotate(45 399.4 350.1)"/>
<path d="M401.2 351.4 L401.6 352.9 L401.1 354.3 L400.1 355.4 L399.9 356.9 L399.9 358.4" fill="none" stroke="#3a120e" stroke-width="2.1" stroke-linecap="round" stroke-linejoin="round"/>
<path d="M400.7 351.2 L399.4 352 L397.9 351.9 L396.4 352.3 L394.9 352.2 L393.4 352.2" fill="none" stroke="#140404" stroke-width="1.9" stroke-linecap="round" stroke-linejoin="round"/>
<path d="M400.5 350.4 L401.5 349.2 L402.8 348.5 L404.3 348.7 L405.8 348.8" fill="none" stroke="#3a120e" stroke-width="1.2" stroke-linecap="round" stroke-linejoin="round"/>
<path d="M399.9 351.8 L398.4 352.1 L397.1 352.8 L396 353.9" fill="none" stroke="#140404" stroke-width="1.9" stroke-linecap="round" stroke-linejoin="round"/>
<ellipse cx="453.7" cy="307.6" rx="1.3" ry="1.4" fill="#160404" transform="rotate(36 453.7 307.6)"/>
<ellipse cx="453.9" cy="307.6" rx="1.2" ry="1" fill="#1c0606" transform="rotate(33 453.9 307.6)"/>
<ellipse cx="451.8" cy="308" rx="1" ry="1" fill="#220806" transform="rotate(3 451.8 308)"/>
<ellipse cx="451.6" cy="308.1" rx="1.1" ry="1" fill="#220806" transform="rotate(-35 451.6 308.1)"/>
<path d="M451.8 307.2 L453.1 306.3 L454.6 306.4" fill="none" stroke="#140404" stroke-width="1.8" stroke-linecap="round" stroke-linejoin="round"/>
<path d="M452.2 306.4 L450.7 305.9 L449.5 305.1 L448 304.7 L446.9 303.7 L446 302.5" fill="none" stroke="#3a120e" stroke-width="1.2" stroke-linecap="round" stroke-linejoin="round"/>
<path d="M452.3 307.1 L453.2 305.9 L454.3 304.9" fill="none" stroke="#2e0c0a" stroke-width="1.2" stroke-linecap="round" stroke-linejoin="round"/>
<path d="M452 306.7 L451.2 308 L450.4 309.3 L449.8 310.6" fill="none" stroke="#2e0c0a" stroke-width="2.2" stroke-linecap="round" stroke-linejoin="round"/>
<ellipse cx="412.6" cy="315.1" rx="1" ry="1" fill="#100303" transform="rotate(49 412.6 315.1)"/>
<ellipse cx="414.7" cy="314.5" rx="1.2" ry="1.1" fill="#160404" transform="rotate(49 414.7 314.5)"/>
<ellipse cx="414.8" cy="314.6" rx="1" ry="1" fill="#1c0606" transform="rotate(17 414.8 314.6)"/>
<ellipse cx="412.7" cy="316.2" rx="1" ry="1.1" fill="#100303" transform="rotate(-17 412.7 316.2)"/>
<ellipse cx="412.2" cy="315.4" rx="1.1" ry="1" fill="#1c0606" transform="rotate(26 412.2 315.4)"/>
<path d="M413.1 316.1 L414.5 316.6 L415.8 317.3" fill="none" stroke="#2e0c0a" stroke-width="2.1" stroke-linecap="round" stroke-linejoin="round"/>
<path d="M413.4 315.4 L412.3 314.3 L411 313.6" fill="none" stroke="#2e0c0a" stroke-width="1.2" stroke-linecap="round" stroke-linejoin="round"/>
<ellipse cx="486.9" cy="304.3" rx="1.3" ry="1.4" fill="#160404" transform="rotate(-16 486.9 304.3)"/>
<ellipse cx="488.2" cy="305.6" rx="1" ry="1" fill="#100303" transform="rotate(-4 488.2 305.6)"/>
<ellipse cx="488.3" cy="304.2" rx="1.1" ry="1" fill="#220806" transform="rotate(25 488.3 304.2)"/>
<ellipse cx="486.8" cy="303.1" rx="1" ry="1.4" fill="#100303" transform="rotate(-27 486.8 303.1)"/>
<path d="M487.5 304.7 L487.5 303.2 L487.2 301.7 L486.6 300.3 L486.2 298.9" fill="none" stroke="#140404" stroke-width="1.3" stroke-linecap="round" stroke-linejoin="round"/>
<path d="M488.3 304.2 L487.8 305.6 L487.5 307 L486.5 308.2 L485.2 308.9" fill="none" stroke="#2e0c0a" stroke-width="1.3" stroke-linecap="round" stroke-linejoin="round"/>
<path d="M487 304.4 L488 305.5 L488.2 307 L489.3 308.1 L490.2 309.3 L490.7 310.7" fill="none" stroke="#140404" stroke-width="1.9" stroke-linecap="round" stroke-linejoin="round"/>
<path d="M486.7 303.5 L485.2 303.6 L484.1 304.6 L482.7 305.2 L481.6 306.2 L480.1 306.3" fill="none" stroke="#140404" stroke-width="1.6" stroke-linecap="round" stroke-linejoin="round"/>
<ellipse cx="439.4" cy="334.5" rx="1" ry="1.5" fill="#1c0606" transform="rotate(10 439.4 334.5)"/>
<ellipse cx="439.9" cy="333.3" rx="1" ry="1.4" fill="#100303" transform="rotate(-49 439.9 333.3)"/>
<ellipse cx="440.1" cy="332.8" rx="1.2" ry="1.1" fill="#100303" transform="rotate(-12 440.1 332.8)"/>
<ellipse cx="439.7" cy="331.1" rx="1" ry="1.4" fill="#100303" transform="rotate(-33 439.7 331.1)"/>
<ellipse cx="440.2" cy="332" rx="1" ry="1.3" fill="#1c0606" transform="rotate(38 440.2 332)"/>
<ellipse cx="440.5" cy="332.7" rx="1.3" ry="1.2" fill="#220806" transform="rotate(-7 440.5 332.7)"/>
<path d="M441 332.6 L442.5 332.5 L443.8 331.8 L445 330.9 L445.5 329.5 L445.5 328" fill="none" stroke="#2e0c0a" stroke-width="1.3" stroke-linecap="round" stroke-linejoin="round"/>
<path d="M441.6 333.2 L440.4 334.1 L439.1 334.9 L437.6 335 L436.2 335.5" fill="none" stroke="#140404" stroke-width="1.9" stroke-linecap="round" stroke-linejoin="round"/>
<path d="M440.6 332.4 L441.9 331.7 L443.1 330.9 L444 329.6" fill="none" stroke="#140404" stroke-width="1.3" stroke-linecap="round" stroke-linejoin="round"/>
<path d="M441.3 333.5 L441.8 332.1 L443.1 331.3 L443.6 329.9" fill="none" stroke="#1c0606" stroke-width="1.9" stroke-linecap="round" stroke-linejoin="round"/>
<ellipse cx="504.8" cy="318.1" rx="1.4" ry="1" fill="#1c0606" transform="rotate(-24 504.8 318.1)"/>
<ellipse cx="504.7" cy="317" rx="1.2" ry="1" fill="#100303" transform="rotate(16 504.7 317)"/>
<ellipse cx="504.5" cy="317.9" rx="1" ry="1.1" fill="#160404" transform="rotate(10 504.5 317.9)"/>
<path d="M503.7 317.8 L502.3 317.3 L500.8 317.7 L499.3 317.7" fill="none" stroke="#3a120e" stroke-width="1.5" stroke-linecap="round" stroke-linejoin="round"/>
<path d="M504.3 317.5 L505.7 316.9 L507 316.1 L508.1 315.1" fill="none" stroke="#3a120e" stroke-width="2" stroke-linecap="round" stroke-linejoin="round"/>
<path d="M504.3 317.3 L503.1 318.2 L501.9 319.1 L501.1 320.3 L500.8 321.8 L500.4 323.2" fill="none" stroke="#3a120e" stroke-width="1.7" stroke-linecap="round" stroke-linejoin="round"/>
<path d="M504.7 317.4 L506.1 316.9 L507 315.6 L507.1 314.2" fill="none" stroke="#140404" stroke-width="1.9" stroke-linecap="round" stroke-linejoin="round"/>
<ellipse cx="426.1" cy="354" rx="1.2" ry="1.1" fill="#220806" transform="rotate(-30 426.1 354)"/>
<ellipse cx="426.7" cy="353.1" rx="1" ry="1" fill="#220806" transform="rotate(-40 426.7 353.1)"/>
<ellipse cx="425.1" cy="353.1" rx="1" ry="1.2" fill="#100303" transform="rotate(-8 425.1 353.1)"/>
<ellipse cx="427.4" cy="352.7" rx="1.1" ry="1.1" fill="#220806" transform="rotate(-4 427.4 352.7)"/>
<path d="M425.9 353.7 L427.3 354.1 L428.8 354.5 L430.2 354.8" fill="none" stroke="#2e0c0a" stroke-width="1.9" stroke-linecap="round" stroke-linejoin="round"/>
<path d="M426.6 352.9 L426.6 354.4 L425.8 355.6 L425.3 357.1 L424.2 358.1 L423 359" fill="none" stroke="#140404" stroke-width="1.9" stroke-linecap="round" stroke-linejoin="round"/>
<ellipse cx="464.2" cy="357.8" rx="1.1" ry="1" fill="#160404" transform="rotate(-27 464.2 357.8)"/>
<ellipse cx="462.2" cy="358.9" rx="1" ry="1" fill="#100303" transform="rotate(-35 462.2 358.9)"/>
<ellipse cx="462.6" cy="357.3" rx="1" ry="1.3" fill="#160404" transform="rotate(-41 462.6 357.3)"/>
<ellipse cx="463.2" cy="359.8" rx="1" ry="1.3" fill="#1c0606" transform="rotate(-38 463.2 359.8)"/>
<ellipse cx="461.9" cy="359.5" rx="1" ry="1.2" fill="#160404" transform="rotate(25 461.9 359.5)"/>
<ellipse cx="463.4" cy="358.9" rx="1.1" ry="1" fill="#1c0606" transform="rotate(-49 463.4 358.9)"/>
<path d="M462.6 358.2 L462 356.8 L462.5 355.4" fill="none" stroke="#1c0606" stroke-width="1.9" stroke-linecap="round" stroke-linejoin="round"/>
<path d="M462.9 358.8 L464.2 359.4 L465.7 359.9 L467.1 360.3 L468.5 359.7" fill="none" stroke="#1c0606" stroke-width="1.7" stroke-linecap="round" stroke-linejoin="round"/>
<path d="M462.6 358.3 L463.6 357.1 L464.8 356.3" fill="none" stroke="#1c0606" stroke-width="1.9" stroke-linecap="round" stroke-linejoin="round"/>
<path d="M463.3 358.6 L464.1 359.9 L465.5 360.5 L466.8 361.2 L468 362.1 L468.6 363.5" fill="none" stroke="#2e0c0a" stroke-width="1.4" stroke-linecap="round" stroke-linejoin="round"/>
<ellipse cx="516.4" cy="346.9" rx="1" ry="1.8" fill="#100303" transform="rotate(34 516.4 346.9)"/>
<ellipse cx="516.7" cy="345.5" rx="1" ry="1.4" fill="#100303" transform="rotate(-40 516.7 345.5)"/>
<ellipse cx="515.2" cy="344.1" rx="1" ry="1.3" fill="#160404" transform="rotate(-10 515.2 344.1)"/>
<ellipse cx="515.6" cy="344.7" rx="1" ry="1.7" fill="#100303" transform="rotate(-45 515.6 344.7)"/>
<ellipse cx="515" cy="344.1" rx="1" ry="1.6" fill="#160404" transform="rotate(-6 515 344.1)"/>
<path d="M516.1 344.9 L516 346.4 L515.4 347.8" fill="none" stroke="#3a120e" stroke-width="1.6" stroke-linecap="round" stroke-linejoin="round"/>
<path d="M515.7 346.5 L517 347.3 L517.6 348.7 L518.1 350.1" fill="none" stroke="#1c0606" stroke-width="2.1" stroke-linecap="round" stroke-linejoin="round"/>
<ellipse cx="391.2" cy="286.7" rx="1" ry="1.6" fill="#100303" transform="rotate(40 391.2 286.7)"/>
<ellipse cx="389.8" cy="290.1" rx="1" ry="1.3" fill="#160404" transform="rotate(-45 389.8 290.1)"/>
<ellipse cx="390.2" cy="287.7" rx="1" ry="1.5" fill="#100303" transform="rotate(-10 390.2 287.7)"/>
<ellipse cx="390.7" cy="288.9" rx="1" ry="1.6" fill="#160404" transform="rotate(43 390.7 288.9)"/>
<ellipse cx="390.8" cy="288.3" rx="1" ry="1.8" fill="#220806" transform="rotate(11 390.8 288.3)"/>
<ellipse cx="390.3" cy="288.2" rx="1" ry="1.7" fill="#100303" transform="rotate(49 390.3 288.2)"/>
<path d="M390.7 288.6 L389.2 288.7 L388 289.5 L387.3 290.9 L387.6 292.3" fill="none" stroke="#1c0606" stroke-width="1.6" stroke-linecap="round" stroke-linejoin="round"/>
<path d="M390.6 288.6 L391 290.1 L391.4 291.5 L391.5 293" fill="none" stroke="#2e0c0a" stroke-width="2.4" stroke-linecap="round" stroke-linejoin="round"/>
<path d="M389.7 287.9 L390.8 286.8 L392.3 286.5" fill="none" stroke="#140404" stroke-width="1.8" stroke-linecap="round" stroke-linejoin="round"/>
<path d="M403.2 292.5 Q398.9 286.6 400.6 283.4" fill="none" stroke="#2e0c0a" stroke-width="1.2" stroke-linecap="round"/>
<path d="M403.2 292.5 Q397.3 289.5 390.2 288.6" fill="none" stroke="#2e0c0a" stroke-width="2.1" stroke-linecap="round"/>
<path d="M423.9 294.3 Q417.7 298.4 416.2 304.2" fill="none" stroke="#2e0c0a" stroke-width="1.8" stroke-linecap="round"/>
<path d="M446.8 288.1 Q448.9 290.3 451.2 295.1" fill="none" stroke="#1c0606" stroke-width="1.1" stroke-linecap="round"/>
<path d="M446.8 288.1 Q439.5 288.6 436.9 283.4" fill="none" stroke="#2e0c0a" stroke-width="2.1" stroke-linecap="round"/>
<path d="M451.2 295.1 Q449.9 299.1 452.5 306.7" fill="none" stroke="#140404" stroke-width="1.6" stroke-linecap="round"/>
<path d="M462.9 299 Q460.4 302.8 452.5 306.7" fill="none" stroke="#2e0c0a" stroke-width="1.7" stroke-linecap="round"/>
<path d="M491.4 288.6 Q488.3 295.9 487.5 304.2" fill="none" stroke="#140404" stroke-width="1.7" stroke-linecap="round"/>
<path d="M429.1 317.1 Q436.4 316 443.4 311.9" fill="none" stroke="#140404" stroke-width="1.3" stroke-linecap="round"/>
<path d="M429.1 317.1 Q419.7 316.3 413.6 315.8" fill="none" stroke="#2e0c0a" stroke-width="1.1" stroke-linecap="round"/>
<path d="M483.7 341 Q474.4 345.4 470.7 350.9" fill="none" stroke="#2e0c0a" stroke-width="1.6" stroke-linecap="round"/>
<path d="M447.3 348.3 Q442.8 356.6 436.9 360" fill="none" stroke="#2e0c0a" stroke-width="1.1" stroke-linecap="round"/>
<path d="M447.3 348.3 Q445.5 338.4 440.8 332.7" fill="none" stroke="#1c0606" stroke-width="1.1" stroke-linecap="round"/>
<path d="M395.4 337.9 Q399.2 345.6 400.6 350.9" fill="none" stroke="#1c0606" stroke-width="1.9" stroke-linecap="round"/>
<path d="M416.2 362.6 Q422.2 361 426.5 353.5" fill="none" stroke="#1c0606" stroke-width="1.9" stroke-linecap="round"/>
<path d="M416.2 362.6 Q410.6 354 400.6 350.9" fill="none" stroke="#2e0c0a" stroke-width="1" stroke-linecap="round"/>
<path d="M430.4 340.5 Q433.2 337.4 440.8 332.7" fill="none" stroke="#2e0c0a" stroke-width="2.1" stroke-linecap="round"/>
<path d="M510.1 330.6 Q506.1 324.9 504.4 317.1" fill="none" stroke="#1c0606" stroke-width="2" stroke-linecap="round"/>
<path d="M512.7 309.3 Q508 311.3 504.4 317.1" fill="none" stroke="#140404" stroke-width="1.2" stroke-linecap="round"/>
<path d="M512.7 309.3 Q508.6 303.8 501.8 301.6" fill="none" stroke="#2e0c0a" stroke-width="1.3" stroke-linecap="round"/>
<path d="M416.2 304.2 Q413.5 310.4 413.6 315.8" fill="none" stroke="#2e0c0a" stroke-width="2.2" stroke-linecap="round"/>
<path d="M390.2 304.2 Q390.9 293.7 390.2 288.6" fill="none" stroke="#140404" stroke-width="1.1" stroke-linecap="round"/>
<path d="M481.1 366.5 Q485.8 358.9 488.8 356.1" fill="none" stroke="#140404" stroke-width="1.6" stroke-linecap="round"/>
<path d="M400.6 283.4 Q396.8 286.8 390.2 288.6" fill="none" stroke="#1c0606" stroke-width="1.1" stroke-linecap="round"/>
<path d="M501.8 301.6 Q491.8 302.6 487.5 304.2" fill="none" stroke="#140404" stroke-width="1.6" stroke-linecap="round"/>
<path d="M455.1 324.9 Q458.3 328.5 465.5 335.3" fill="none" stroke="#2e0c0a" stroke-width="1.4" stroke-linecap="round"/>
<path d="M418.7 340.5 Q423.9 345.8 426.5 353.5" fill="none" stroke="#2e0c0a" stroke-width="1.4" stroke-linecap="round"/>
</g>
</g>
<rect x="389.35" y="277.9" width="128.95" height="96.75" fill="none" stroke="#1a1010" stroke-width="1"/>
</svg>
</body>
</html>
